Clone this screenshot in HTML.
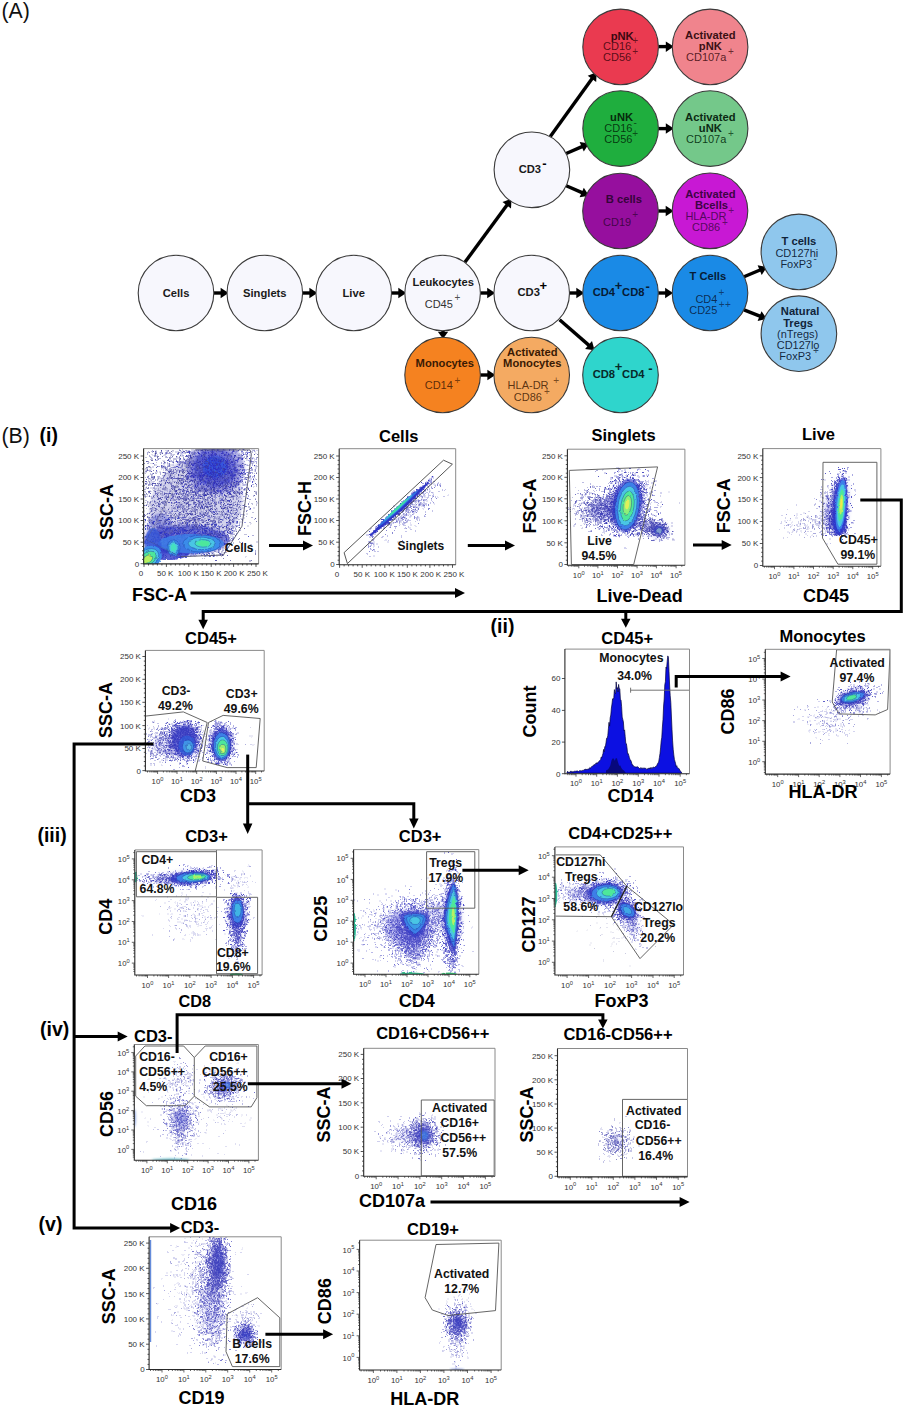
<!DOCTYPE html>
<html><head><meta charset="utf-8"><title>Gating strategy</title><style>html,body{margin:0;padding:0;background:#fff}body{width:905px;height:1407px;overflow:hidden;font-family:"Liberation Sans",sans-serif}svg{display:block}</style></head><body>
<svg width="905" height="1407" viewBox="0 0 905 1407" font-family="'Liberation Sans', sans-serif"><defs><filter id="soft" x="-5%" y="-5%" width="110%" height="110%"><feGaussianBlur stdDeviation="0.45"/></filter><filter id="rough" x="-5%" y="-5%" width="110%" height="110%"><feTurbulence type="fractalNoise" baseFrequency="0.32" numOctaves="2" seed="7" result="n"/><feDisplacementMap in="SourceGraphic" in2="n" scale="2.6" xChannelSelector="R" yChannelSelector="G"/><feGaussianBlur stdDeviation="0.35"/></filter><filter id="haze" x="-30%" y="-30%" width="160%" height="160%"><feGaussianBlur stdDeviation="2.6"/></filter><filter id="soft2" x="-5%" y="-5%" width="110%" height="110%"><feGaussianBlur stdDeviation="0.8"/></filter><clipPath id="c1"><rect x="143.6" y="448.6" width="115" height="115.3"/></clipPath><clipPath id="c2"><rect x="339.2" y="448.7" width="116.5" height="116.1"/></clipPath><clipPath id="c3"><rect x="567.4" y="449.2" width="117.5" height="116.1"/></clipPath><clipPath id="c4"><rect x="762.8" y="448.6" width="118.1" height="117.6"/></clipPath><clipPath id="c5"><rect x="145.4" y="650.4" width="118.8" height="120.6"/></clipPath><clipPath id="c6"><rect x="564.9" y="649.1" width="124.6" height="124.6"/></clipPath><clipPath id="c7"><rect x="765.3" y="649.3" width="124.8" height="124.8"/></clipPath><clipPath id="c8"><rect x="134.8" y="849.9" width="127.3" height="125.1"/></clipPath><clipPath id="c9"><rect x="353.6" y="849.6" width="125.2" height="124.6"/></clipPath><clipPath id="c10"><rect x="554.9" y="846.9" width="128.6" height="128.1"/></clipPath><clipPath id="c11"><rect x="134.3" y="1044.5" width="124.1" height="115.8"/></clipPath><clipPath id="c12"><rect x="363.7" y="1048.3" width="131.3" height="128"/></clipPath><clipPath id="c13"><rect x="557.5" y="1048.5" width="130" height="128.4"/></clipPath><clipPath id="c14"><rect x="149.1" y="1236.8" width="132.1" height="132.7"/></clipPath><clipPath id="c15"><rect x="359.6" y="1240.2" width="141.6" height="129.8"/></clipPath></defs><rect width="905" height="1407" fill="#fff"/><text x="1.5" y="18" font-size="21.3" fill="#111">(A)</text>
<polyline points="213.8,293 221.6,293" fill="none" stroke="#000" stroke-width="3.4" stroke-linejoin="miter"/>
<polygon points="228.6,293 220.6,298.2 220.6,287.8" fill="#000"/>
<polyline points="302.6,293 310.4,293" fill="none" stroke="#000" stroke-width="3.4" stroke-linejoin="miter"/>
<polygon points="317.4,293 309.4,298.2 309.4,287.8" fill="#000"/>
<polyline points="391.5,293 399.3,293" fill="none" stroke="#000" stroke-width="3.4" stroke-linejoin="miter"/>
<polygon points="406.3,293 398.3,298.2 398.3,287.8" fill="#000"/>
<polyline points="480.4,293 488.2,293" fill="none" stroke="#000" stroke-width="3.4" stroke-linejoin="miter"/>
<polygon points="495.2,293 487.2,298.2 487.2,287.8" fill="#000"/>
<polyline points="569.5,293 577.3,293" fill="none" stroke="#000" stroke-width="3.4" stroke-linejoin="miter"/>
<polygon points="584.3,293 576.3,298.2 576.3,287.8" fill="#000"/>
<polyline points="658.3,293 666.1,293" fill="none" stroke="#000" stroke-width="3.4" stroke-linejoin="miter"/>
<polygon points="673.1,293 665.1,298.2 665.1,287.8" fill="#000"/>
<polyline points="658.4,46.6 666.8,46.6" fill="none" stroke="#000" stroke-width="3.4" stroke-linejoin="miter"/>
<polygon points="673.8,46.6 665.8,51.9 665.8,41.4" fill="#000"/>
<polyline points="658.4,128.6 666.8,128.6" fill="none" stroke="#000" stroke-width="3.4" stroke-linejoin="miter"/>
<polygon points="673.8,128.6 665.8,133.8 665.8,123.3" fill="#000"/>
<polyline points="658.3,211 666.7,211" fill="none" stroke="#000" stroke-width="3.4" stroke-linejoin="miter"/>
<polygon points="673.7,211 665.7,216.2 665.7,205.8" fill="#000"/>
<polyline points="480.4,375 488.4,375" fill="none" stroke="#000" stroke-width="3.4" stroke-linejoin="miter"/>
<polygon points="495.4,375 487.4,380.2 487.4,369.8" fill="#000"/>
<polyline points="443,329.8 443,332.7" fill="none" stroke="#000" stroke-width="3.4" stroke-linejoin="miter"/>
<polygon points="443,338.7 437.8,331.7 448.2,331.7" fill="#000"/>
<polyline points="464.9,262.3 507.4,204.4" fill="none" stroke="#000" stroke-width="3.4" stroke-linejoin="miter"/>
<polygon points="511.5,198.8 511,208.4 502.5,202.1" fill="#000"/>
<polyline points="550.3,136.5 592.5,78" fill="none" stroke="#000" stroke-width="3.4" stroke-linejoin="miter"/>
<polygon points="596.6,72.3 596.2,81.9 587.7,75.7" fill="#000"/>
<polyline points="566.2,153.5 582.6,146.4" fill="none" stroke="#000" stroke-width="3.4" stroke-linejoin="miter"/>
<polygon points="589,143.6 583.8,151.6 579.6,142" fill="#000"/>
<polyline points="566.2,185.7 582.6,192.9" fill="none" stroke="#000" stroke-width="3.4" stroke-linejoin="miter"/>
<polygon points="589,195.7 579.6,197.3 583.8,187.7" fill="#000"/>
<polyline points="559.6,319.8 589.3,345.6" fill="none" stroke="#000" stroke-width="3.4" stroke-linejoin="miter"/>
<polygon points="594.6,350.2 585.1,348.9 592,341" fill="#000"/>
<polyline points="744,276.7 760.6,269.7" fill="none" stroke="#000" stroke-width="3.4" stroke-linejoin="miter"/>
<polygon points="767,267 761.7,274.9 757.6,265.3" fill="#000"/>
<polyline points="744,309.8 760.5,316.4" fill="none" stroke="#000" stroke-width="3.4" stroke-linejoin="miter"/>
<polygon points="767,319 757.6,320.9 761.5,311.2" fill="#000"/>
<circle cx="176" cy="293" r="37.8" fill="#f7f7fd" stroke="#3a3a3a" stroke-width="1.1"/>
<circle cx="264.8" cy="293" r="37.8" fill="#f7f7fd" stroke="#3a3a3a" stroke-width="1.1"/>
<circle cx="353.7" cy="293" r="37.8" fill="#f7f7fd" stroke="#3a3a3a" stroke-width="1.1"/>
<circle cx="442.6" cy="293" r="37.8" fill="#f7f7fd" stroke="#3a3a3a" stroke-width="1.1"/>
<circle cx="531.7" cy="293" r="37.8" fill="#f7f7fd" stroke="#3a3a3a" stroke-width="1.1"/>
<circle cx="531.9" cy="169.8" r="37.8" fill="#f7f7fd" stroke="#3a3a3a" stroke-width="1.1"/>
<circle cx="620.6" cy="46.9" r="37.8" fill="#ea3a50" stroke="#3a3a3a" stroke-width="1.1"/>
<circle cx="710.1" cy="46.9" r="37.8" fill="#f0848d" stroke="#3a3a3a" stroke-width="1.1"/>
<circle cx="620.6" cy="128.6" r="37.8" fill="#1fae3e" stroke="#3a3a3a" stroke-width="1.1"/>
<circle cx="710.1" cy="128.6" r="37.8" fill="#74c88a" stroke="#3a3a3a" stroke-width="1.1"/>
<circle cx="620.5" cy="211" r="37.8" fill="#960f9e" stroke="#3a3a3a" stroke-width="1.1"/>
<circle cx="710" cy="210.8" r="37.8" fill="#c818d4" stroke="#3a3a3a" stroke-width="1.1"/>
<circle cx="620.5" cy="293" r="37.8" fill="#1a8ae6" stroke="#3a3a3a" stroke-width="1.1"/>
<circle cx="710" cy="293" r="37.8" fill="#1a8ae6" stroke="#3a3a3a" stroke-width="1.1"/>
<circle cx="798.9" cy="251.9" r="37.8" fill="#8fc7ed" stroke="#3a3a3a" stroke-width="1.1"/>
<circle cx="798.9" cy="333.7" r="37.8" fill="#8fc7ed" stroke="#3a3a3a" stroke-width="1.1"/>
<circle cx="620.5" cy="375" r="37.8" fill="#2fd5cc" stroke="#3a3a3a" stroke-width="1.1"/>
<circle cx="442.6" cy="375" r="37.8" fill="#f58220" stroke="#3a3a3a" stroke-width="1.1"/>
<circle cx="531.7" cy="375" r="37.8" fill="#f4aa62" stroke="#3a3a3a" stroke-width="1.1"/>
<text x="176" y="297" font-size="11.2" fill="#1a1a1a" text-anchor="middle" font-weight="bold">Cells</text>
<text x="264.8" y="297" font-size="11.2" fill="#1a1a1a" text-anchor="middle" font-weight="bold">Singlets</text>
<text x="353.7" y="297" font-size="11.2" fill="#1a1a1a" text-anchor="middle" font-weight="bold">Live</text>
<text x="443.2" y="285.8" font-size="11.2" fill="#1a1a1a" text-anchor="middle" font-weight="bold">Leukocytes</text>
<text x="424.7" y="308.1" font-size="11" fill="#333" fill-opacity="1">CD45</text>
<text x="457.5" y="301.2" font-size="10" fill="#222" text-anchor="middle" fill-opacity="0.8">+</text>
<text x="517.5" y="295.7" font-size="11.2" fill="#1a1a1a" font-weight="bold">CD3</text>
<text x="543.4" y="289.7" font-size="13" fill="#000" text-anchor="middle" font-weight="bold" fill-opacity="1">+</text>
<text x="518.7" y="172.9" font-size="11.2" fill="#1a1a1a" font-weight="bold">CD3</text>
<text x="544.3" y="168.3" font-size="13" fill="#000" text-anchor="middle" font-weight="bold" fill-opacity="1">-</text>
<text x="622.2" y="39.8" font-size="11.2" fill="#3a0810" text-anchor="middle" font-weight="bold">pNK</text>
<text x="603.1" y="50.4" font-size="11" fill="#4a0812" fill-opacity="0.92">CD16</text>
<text x="635.2" y="43.9" font-size="10" fill="#4a0812" text-anchor="middle" fill-opacity="0.8">+</text>
<text x="603.1" y="61.4" font-size="11" fill="#4a0812" fill-opacity="0.92">CD56</text>
<text x="635.2" y="55.4" font-size="10" fill="#4a0812" text-anchor="middle" fill-opacity="0.8">+</text>
<text x="710.3" y="39.3" font-size="11.2" fill="#3a1014" text-anchor="middle" font-weight="bold">Activated</text>
<text x="710.3" y="50.4" font-size="11.2" fill="#3a1014" text-anchor="middle" font-weight="bold">pNK</text>
<text x="686" y="61.4" font-size="11" fill="#4a1218" fill-opacity="0.92">CD107a</text>
<text x="730.9" y="55.4" font-size="10" fill="#4a1218" text-anchor="middle" fill-opacity="0.8">+</text>
<text x="621.6" y="121.1" font-size="11.2" fill="#062a0c" text-anchor="middle" font-weight="bold">uNK</text>
<text x="604.3" y="132.2" font-size="11" fill="#05360f" fill-opacity="0.97">CD16</text>
<text x="635.2" y="126.4" font-size="10" fill="#05360f" text-anchor="middle" fill-opacity="0.8">-</text>
<text x="604.3" y="143.2" font-size="11" fill="#05360f" fill-opacity="0.97">CD56</text>
<text x="635.2" y="136.7" font-size="10" fill="#05360f" text-anchor="middle" fill-opacity="0.8">+</text>
<text x="710.3" y="120.9" font-size="11.2" fill="#0c2a14" text-anchor="middle" font-weight="bold">Activated</text>
<text x="710.3" y="132.2" font-size="11.2" fill="#0c2a14" text-anchor="middle" font-weight="bold">uNK</text>
<text x="686" y="143.2" font-size="11" fill="#0c3a18" fill-opacity="0.97">CD107a</text>
<text x="730.9" y="136.7" font-size="10" fill="#0c3a18" text-anchor="middle" fill-opacity="0.8">+</text>
<text x="623.9" y="203.4" font-size="11.2" fill="#35043a" text-anchor="middle" font-weight="bold">B cells</text>
<text x="603.1" y="226" font-size="11" fill="#3a0440" fill-opacity="0.92">CD19</text>
<text x="635.1" y="218.4" font-size="10" fill="#3a0440" text-anchor="middle" fill-opacity="0.8">+</text>
<text x="710.4" y="197.6" font-size="11.2" fill="#3d0444" text-anchor="middle" font-weight="bold">Activated</text>
<text x="711.5" y="208.6" font-size="11.2" fill="#3d0444" text-anchor="middle" font-weight="bold">Bcells</text>
<text x="685.4" y="220.1" font-size="11" fill="#4a0652" fill-opacity="0.92">HLA-DR</text>
<text x="731.2" y="213.8" font-size="10" fill="#4a0652" text-anchor="middle" fill-opacity="0.8">+</text>
<text x="692" y="231.2" font-size="11" fill="#4a0652" fill-opacity="0.92">CD86</text>
<text x="724.8" y="225.5" font-size="10" fill="#4a0652" text-anchor="middle" fill-opacity="0.8">+</text>
<text x="592.7" y="295.7" font-size="11.2" fill="#061c36" font-weight="bold">CD4</text>
<text x="618.5" y="289.7" font-size="13" fill="#061c36" text-anchor="middle" font-weight="bold" fill-opacity="1">+</text>
<text x="622.1" y="295.7" font-size="11.2" fill="#061c36" font-weight="bold">CD8</text>
<text x="647.6" y="290.5" font-size="13" fill="#061c36" text-anchor="middle" font-weight="bold" fill-opacity="1">-</text>
<text x="707.8" y="279.8" font-size="11.2" fill="#061c36" text-anchor="middle" font-weight="bold">T Cells</text>
<text x="695.4" y="303.2" font-size="11" fill="#0a2a52" fill-opacity="0.97">CD4</text>
<text x="721.4" y="295.6" font-size="10" fill="#0a2a52" text-anchor="middle" fill-opacity="0.8">+</text>
<text x="689.2" y="314" font-size="11" fill="#0a2a52" fill-opacity="0.97">CD25</text>
<text x="721.6" y="307.8" font-size="10" fill="#0a2a52" text-anchor="middle" fill-opacity="0.8">+</text>
<text x="727.8" y="307.8" font-size="10" fill="#0a2a52" text-anchor="middle" fill-opacity="0.8">+</text>
<text x="798.9" y="245.1" font-size="11.2" fill="#10243a" text-anchor="middle" font-weight="bold">T cells</text>
<text x="775.4" y="256.6" font-size="11" fill="#10243a" fill-opacity="0.97">CD127hi</text>
<text x="780.4" y="267.6" font-size="11" fill="#10243a" fill-opacity="0.97">FoxP3</text>
<text x="815.1" y="261.6" font-size="10" fill="#10243a" text-anchor="middle" fill-opacity="0.8">-</text>
<text x="800.1" y="315.4" font-size="11.2" fill="#10243a" text-anchor="middle" font-weight="bold">Natural</text>
<text x="798.1" y="326.9" font-size="11.2" fill="#10243a" text-anchor="middle" font-weight="bold">Tregs</text>
<text x="777.1" y="337.9" font-size="11" fill="#10243a" fill-opacity="0.97">(nTregs)</text>
<text x="776.7" y="349.4" font-size="11" fill="#10243a" fill-opacity="0.97">CD127lo</text>
<text x="779.3" y="360.4" font-size="11" fill="#10243a" fill-opacity="0.97">FoxP3</text>
<text x="815.8" y="354.2" font-size="10" fill="#10243a" text-anchor="middle" fill-opacity="0.8">+</text>
<text x="592.7" y="377.7" font-size="11.2" fill="#072a2a" font-weight="bold">CD8</text>
<text x="618.5" y="371.4" font-size="13" fill="#072a2a" text-anchor="middle" font-weight="bold" fill-opacity="1">+</text>
<text x="622.1" y="377.7" font-size="11.2" fill="#072a2a" font-weight="bold">CD4</text>
<text x="650.5" y="372.5" font-size="13" fill="#072a2a" text-anchor="middle" font-weight="bold" fill-opacity="1">-</text>
<text x="444.8" y="366.9" font-size="11.2" fill="#3a1a04" text-anchor="middle" font-weight="bold">Monocytes</text>
<text x="424.7" y="389.1" font-size="11" fill="#5a2a08" fill-opacity="0.97">CD14</text>
<text x="457.5" y="383.8" font-size="10" fill="#5a2a08" text-anchor="middle" fill-opacity="0.8">+</text>
<text x="532.3" y="356" font-size="11.2" fill="#3a1a04" text-anchor="middle" font-weight="bold">Activated</text>
<text x="532.3" y="366.9" font-size="11.2" fill="#3a1a04" text-anchor="middle" font-weight="bold">Monocytes</text>
<text x="507.6" y="389.1" font-size="11" fill="#5a3210" fill-opacity="0.97">HLA-DR</text>
<text x="556.2" y="383.8" font-size="10" fill="#5a3210" text-anchor="middle" fill-opacity="0.8">+</text>
<text x="513.8" y="400.9" font-size="11" fill="#5a3210" fill-opacity="0.97">CD86</text>
<text x="546.9" y="394.6" font-size="10" fill="#5a3210" text-anchor="middle" fill-opacity="0.8">+</text>
<text x="1.5" y="442.5" font-size="21.3" fill="#111">(B)</text>
<text x="39.5" y="442.3" font-size="19.5" fill="#000" font-weight="bold">(i)</text>
<text x="490.6" y="633" font-size="19.5" fill="#000" font-weight="bold">(ii)</text>
<text x="37.4" y="842.3" font-size="19.5" fill="#000" font-weight="bold">(iii)</text>
<text x="40" y="1035.9" font-size="19.5" fill="#000" font-weight="bold">(iv)</text>
<text x="38.6" y="1231.3" font-size="19.5" fill="#000" font-weight="bold">(v)</text>
<g clip-path="url(#c1)">
<g filter="url(#soft2)">
<ellipse cx="196" cy="505" rx="44" ry="52" fill="#7d7dc8" fill-opacity="0.35" transform="rotate(35 196 505)"/>
<ellipse cx="215.5" cy="468" rx="29" ry="26" fill="#3c3cc0" fill-opacity="0.42"/>
<ellipse cx="215.2" cy="467.5" rx="22" ry="19.5" fill="#3038c8" fill-opacity="0.5"/>
<ellipse cx="215" cy="467" rx="12.5" ry="11" fill="#2f52e2" fill-opacity="0.85"/>
<ellipse cx="186" cy="540" rx="43" ry="15" fill="#3038c4" fill-opacity="0.6"/>
<ellipse cx="160" cy="535" rx="14" ry="22" fill="#3038c4" fill-opacity="0.35"/>
</g>
<g filter="url(#rough)">
<path transform="scale(.5)" d="M365 898zm106 0zm1 0zm32 0zm-216 1zm132 0zm48 0zm-82 1zm103 0zm19 0zm-171 1zm9 0zm32 0zm17 0zm30 0zm81 0zm8 0zm-202 1zm11 0zm1 0zm81 0zm27 0zm-121 1zm25 0zm9 0zm88 0zm9 0zm26 0zm-171 1zm49 0zm17 0zm45 0zm2 0zm24 0zm71 0zm-206 1zm5 0zm8 0zm10 0zm18 0zm17 0zm33 0zm5 0zm28 0zm3 0zm28 0zm-143 1zm9 0zm5 0zm45 0zm114 0zm28 0zm-200 1zm13 0zm122 0zm48 0zm-185 1zm45 0zm106 0zm17 0zm-157 1zm88 0zm19 0zm87 0zm-211 1zm43 0zm31 0zm61 0zm13 0zm7 0zm24 0zm5 0zm-127 1zm19 0zm26 0zm4 0zm46 0zm4 0zm2 0zm-152 1zm1 0zm51 0zm15 0zm31 0zm46 0zm30 0zm11 0zm-178 1zm8 0zm15 0zm7 0zm24 0zm4 0zm35 0zm48 0zm37 0zm20 0zm-214 1zm30 0zm34 0zm90 0zm34 0zm-197 1zm23 0zm22 0zm18 0zm23 0zm39 0zm17 0zm35 0zm10 0zm22 0zm14 0zm-200 1zm24 0zm19 0zm1 0zm20 0zm6 0zm28 0zm13 0zm27 0zm34 0zm-49 1zm19 0zm10 0zm24 0zm1 0zm-187 1zm44 0zm26 0zm68 0zm51 0zm6 0zm4 0zm-194 1zm47 0zm56 0zm1 0zm9 0zm10 0zm-118 1zm32 0zm6 0zm8 0zm11 0zm66 0zm7 0zm23 0zm-164 1zm1 0zm34 0zm21 0zm11 0zm2 0zm86 0zm34 0zm-165 1zm58 0zm43 0zm15 0zm-149 1zm1 0zm32 0zm85 0zm20 0zm7 0zm1 0zm24 0zm39 0zm-207 1zm59 0zm53 0zm8 0zm31 0zm14 0zm46 0zm-194 1zm15 0zm45 0zm43 0zm25 0zm8 0zm-150 1zm30 0zm36 0zm59 0zm29 0zm46 0zm-211 1zm15 0zm84 0zm15 0zm6 0zm17 0zm23 0zm19 0zm2 0zm15 0zm19 0zm-202 1zm80 0zm12 0zm23 0zm-58 1zm1 0zm52 0zm78 0zm-181 1zm3 0zm30 0zm60 0zm65 0zm23 0zm9 0zm-135 1zm17 0zm13 0zm22 0zm1 0zm15 0zm64 0zm-168 1zm45 0zm44 0zm16 0zm9 0zm28 0zm6 0zm34 0zm3 0zm-216 1zm67 0zm6 0zm14 0zm85 0zm-171 1zm26 0zm16 0zm41 0zm27 0zm32 0zm-147 1zm2 0zm5 0zm2 0zm95 0zm16 0zm74 0zm12 0zm-167 1zm64 0zm5 0zm33 0zm31 0zm-171 1zm40 0zm17 0zm44 0zm106 0zm-199 1zm73 0zm41 0zm30 0zm24 0zm34 0zm-209 1zm38 0zm63 0zm6 0zm44 0zm3 0zm1 0zm14 0zm5 0zm17 0zm10 0zm14 0zm-218 1zm49 0zm26 0zm15 0zm12 0zm28 0zm55 0zm8 0zm-178 1zm35 0zm98 0zm6 0zm13 0zm-166 1zm60 0zm7 0zm2 0zm9 0zm55 0zm6 0zm-132 1zm66 0zm10 0zm55 0zm-139 1zm22 0zm6 0zm18 0zm1 0zm7 0zm72 0zm-96 1zm2 0zm6 0zm39 0zm23 0zm1 0zm50 0zm25 0zm2 0zm14 0zm12 0zm-208 1zm3 0zm18 0zm88 0zm92 0zm12 0zm8 0zm4 0zm-208 1zm29 0zm33 0zm67 0zm7 0zm10 0zm15 0zm47 0zm-212 1zm29 0zm14 0zm83 0zm10 0zm51 0zm-182 1zm35 0zm58 0zm24 0zm68 0zm-187 1zm28 0zm12 0zm6 0zm59 0zm13 0zm15 0zm32 0zm16 0zm1 0zm-160 1zm4 0zm37 0zm30 0zm1 0zm1 0zm31 0zm21 0zm11 0zm-164 1zm33 0zm47 0zm3 0zm28 0zm17 0zm11 0zm6 0zm6 0zm6 0zm13 0zm-171 1zm34 0zm47 0zm22 0zm13 0zm26 0zm69 0zm-217 1zm13 0zm1 0zm2 0zm8 0zm25 0zm101 0zm19 0zm49 0zm-139 1zm34 0zm16 0zm14 0zm23 0zm17 0zm17 0zm2 0zm7 0zm-191 1zm18 0zm13 0zm15 0zm55 0zm41 0zm18 0zm-108 1zm79 0zm9 0zm7 0zm6 0zm-164 1zm8 0zm35 0zm14 0zm33 0zm27 0zm2 0zm16 0zm23 0zm36 0zm20 0zm-108 1zm3 0zm16 0zm91 0zm-212 1zm13 0zm14 0zm8 0zm23 0zm10 0zm4 0zm15 0zm-26 1zm8 0zm12 0zm7 0zm18 0zm32 0zm-110 1zm3 0zm31 0zm21 0zm7 0zm6 0zm3 0zm27 0zm80 0zm-210 1zm2 0zm8 0zm42 0zm18 0zm12 0zm35 0zm9 0zm22 0zm-112 1zm6 0zm34 0zm20 0zm4 0zm18 0zm12 0zm11 0zm36 0zm-140 1zm18 0zm36 0zm35 0zm67 0zm-191 1zm44 0zm33 0zm74 0zm5 0zm-165 1zm1 0zm13 0zm10 0zm1 0zm3 0zm19 0zm57 0zm60 0zm12 0zm6 0zm-174 1zm3 0zm40 0zm52 0zm61 0zm15 0zm22 0zm-200 1zm29 0zm1 0zm48 0zm3 0zm45 0zm59 0zm36 0zm-215 1zm75 0zm18 0zm22 0zm9 0zm27 0zm-134 1zm109 0zm2 0zm27 0zm1 0zm-138 1zm29 0zm7 0zm43 0zm44 0zm7 0zm4 0zm15 0zm48 0zm-170 1zm14 0zm18 0zm76 0zm3 0zm10 0zm-172 1zm35 0zm134 0zm5 0zm42 0zm-216 1zm40 0zm24 0zm15 0zm26 0zm11 0zm39 0zm14 0zm-160 1zm3 0zm5 0zm131 0zm14 0zm42 0zm-199 1zm33 0zm4 0zm16 0zm14 0zm80 0zm-127 1zm4 0zm4 0zm37 0zm6 0zm58 0zm56 0zm-152 1zm30 0zm1 0zm14 0zm16 0zm25 0zm12 0zm5 0zm45 0zm10 0zm-167 1zm29 0zm8 0zm38 0zm1 0zm30 0zm24 0zm28 0zm-171 1zm10 0zm52 0zm11 0zm17 0zm26 0zm48 0zm-172 1zm60 0zm11 0zm23 0zm22 0zm8 0zm5 0zm24 0zm-62 1zm40 0zm18 0zm19 0zm15 0zm28 0zm-220 1zm21 0zm74 0zm1 0zm45 0zm27 0zm16 0zm38 0zm-195 1zm41 0zm72 0zm25 0zm20 0zm4 0zm-182 1zm63 0zm19 0zm3 0zm87 0zm5 0zm5 0zm31 0zm2 0zm-220 1zm29 0zm7 0zm11 0zm69 0zm13 0zm32 0zm6 0zm9 0zm9 0zm-157 1zm23 0zm4 0zm10 0zm13 0zm22 0zm39 0zm30 0zm9 0zm22 0zm20 0zm-224 1zm3 0zm68 0zm31 0zm21 0zm49 0zm-137 1zm22 0zm47 0zm9 0zm54 0zm1 0zm-167 1zm26 0zm91 0zm66 0zm1 0zm-174 1zm37 0zm7 0zm19 0zm1 0zm9 0zm29 0zm2 0zm5 0zm11 0zm9 0zm1 0zm77 0zm-215 1zm7 0zm37 0zm2 0zm60 0zm48 0zm-150 1zm7 0zm12 0zm40 0zm29 0zm16 0zm44 0zm27 0zm6 0zm-171 1zm16 0zm13 0zm2 0zm22 0zm72 0zm-122 1zm24 0zm39 0zm33 0zm35 0zm54 0zm-177 1zm64 0zm15 0zm5 0zm39 0zm11 0zm-93 1zm8 0zm5 0zm19 0zm76 0zm45 0zm-195 1zm36 0zm7 0zm11 0zm-21 1zm66 0zm10 0zm24 0zm-157 1zm49 0zm32 0zm13 0zm125 0zm-192 1zm10 0zm58 0zm29 0zm24 0zm1 0zm1 0zm6 0zm23 0zm17 0zm-186 1zm32 0zm44 0zm33 0zm21 0zm9 0zm72 0zm-218 1zm33 0zm34 0zm8 0zm83 0zm27 0zm18 0zm-183 1zm8 0zm8 0zm27 0zm19 0zm47 0zm8 0zm-141 1zm8 0zm2 0zm48 0zm19 0zm8 0zm16 0zm18 0zm-119 1zm19 0zm36 0zm128 0zm-179 1zm35 0zm81 0zm10 0zm12 0zm56 0zm8 0zm8 0zm-199 1zm12 0zm45 0zm20 0zm24 0zm51 0zm1 0zm4 0zm-170 1zm5 0zm4 0zm62 0zm51 0zm14 0zm4 0zm26 0zm54 0zm-224 1zm20 0zm21 0zm85 0zm15 0zm17 0zm4 0zm23 0zm-183 1zm78 0zm33 0zm18 0zm-123 1zm80 0zm13 0zm2 0zm18 0zm14 0zm55 0zm14 0zm5 0zm-179 1zm27 0zm5 0zm53 0zm9 0zm4 0zm45 0zm-169 1zm15 0zm21 0zm30 0zm26 0zm10 0zm18 0zm5 0zm80 0zm-205 1zm29 0zm6 0zm73 0zm7 0zm36 0zm2 0zm20 0zm42 0zm-161 1zm35 0zm40 0zm11 0zm11 0zm2 0zm16 0zm-162 1zm2 0zm4 0zm24 0zm8 0zm12 0zm19 0zm15 0zm24 0zm9 0zm12 0zm17 0zm5 0zm49 0zm-176 1zm9 0zm42 0zm7 0zm11 0zm2 0zm81 0zm-150 1zm35 0zm7 0zm32 0zm14 0zm-111 1zm8 0zm5 0zm58 0zm34 0zm55 0zm5 0zm-180 1zm48 0zm54 0zm56 0zm-143 1zm17 0zm32 0zm7 0zm29 0zm51 0zm4 0zm50 0zm-192 1zm21 0zm95 0zm25 0zm-133 1zm82 0zm70 0zm45 0zm-208 1zm93 0zm21 0zm16 0zm20 0zm22 0zm10 0zm-187 1zm14 0zm17 0zm24 0zm32 0zm14 0zm18 0zm19 0zm13 0zm18 0zm-99 1zm9 0zm4 0zm62 0zm7 0zm9 0zm19 0zm21 0zm-200 1zm55 0zm27 0zm9 0zm65 0zm4 0zm-121 1zm9 0zm23 0zm44 0zm46 0zm34 0zm-198 1zm18 0zm33 0zm6 0zm21 0zm6 0zm37 0zm11 0zm22 0zm-119 1zm22 0zm53 0zm-79 1zm35 0zm33 0zm91 0zm-185 1zm9 0zm11 0zm132 0zm-153 1zm45 0zm3 0zm5 0zm3 0zm117 0zm-170 1zm23 0zm49 0zm19 0zm41 0zm10 0zm10 0zm38 0zm-131 1zm44 0zm9 0zm28 0zm38 0zm35 0zm-214 1zm2 0zm88 0zm8 0zm32 0zm32 0zm25 0zm-145 1zm38 0zm92 0zm11 0zm-181 1zm15 0zm68 0zm3 0zm11 0zm17 0zm24 0zm22 0zm7 0zm-170 1zm3 0zm3 0zm19 0zm14 0zm56 0zm92 0zm1 0zm-143 1zm19 0zm30 0zm14 0zm19 0zm-103 1zm10 0zm183 0zm-149 1zm5 0zm3 0zm26 0zm8 0zm22 0zm4 0zm35 0zm7 0zm8 0zm-164 1zm75 0zm8 0zm13 0zm86 0zm-186 1zm12 0zm5 0zm12 0zm23 0zm5 0zm9 0zm13 0zm7 0zm57 0zm5 0zm17 0zm-182 1zm45 0zm11 0zm19 0zm30 0zm-64 1zm32 0zm2 0zm1 0zm37 0zm92 0zm-160 1zm60 0zm-100 1zm48 0zm27 0zm14 0zm31 0zm31 0zm-156 1zm61 0zm2 0zm14 0zm5 0zm-87 1zm18 0zm37 0zm106 0zm43 0zm-177 1zm38 0zm26 0zm8 0zm21 0zm14 0zm10 0zm-56 1zm6 0zm6 0zm1 0zm5 0zm4 0zm20 0zm24 0zm-122 1zm13 0zm3 0zm1 0zm59 0zm45 0zm33 0zm-173 1zm12 0zm13 0zm19 0zm50 0zm39 0zm1 0zm33 0zm-176 1zm3 0zm85 0zm35 0zm-119 1zm64 0zm50 0zm6 0zm16 0zm16 0zm-154 1zm35 0zm36 0zm11 0zm1 0zm3 0zm68 0zm-145 1zm8 0zm37 0zm6 0zm64 0zm33 0zm-113 1zm3 0zm4 0zm56 0zm-77 1zm12 0zm10 0zm-38 1zm15 0zm8 0zm22 0zm16 0zm7 0zm18 0zm75 0zm-171 1zm15 0zm26 0zm11 0zm18 0zm69 0zm-110 1zm8 0zm73 0zm49 0zm-172 1zm18 0zm20 0zm4 0zm81 0zm16 0zm17 0zm23 0zm-156 1zm9 0zm5 0zm10 0zm5 0zm18 0zm5 0zm59 0zm7 0zm-112 1zm21 0zm27 0zm26 0zm3 0zm50 0zm16 0zm-154 1zm46 0zm13 0zm27 0zm31 0zm68 0zm-131 1zm9 0zm58 0zm-101 1zm19 0zm12 0zm6 0zm4 0zm35 0zm17 0zm25 0zm12 0zm-156 1zm5 0zm10 0zm71 0zm30 0zm8 0zm37 0zm-170 1zm12 0zm20 0zm25 0zm11 0zm67 0zm3 0zm5 0zm-113 1zm31 0zm4 0zm5 0zm1 0zm5 0zm20 0zm3 0zm-39 1zm3 0zm1 0zm20 0zm7 0zm13 0zm35 0zm6 0zm15 0zm2 0zm-136 1zm5 0zm144 0zm-157 1zm1 0zm32 0zm28 0zm43 0zm45 0zm4 0zm14 0zm-130 1zm18 0zm1 0zm12 0zm26 0zm5 0zm1 0zm43 0zm-165 1zm16 0zm4 0zm3 0zm39 0zm5 0zm40 0zm7 0zm-106 1zm7 0zm4 0zm31 0zm35 0zm43 0zm28 0zm-137 1zm38 0zm34 0zm5 0zm39 0zm10 0zm16 0zm3 0zm-157 1zm20 0zm2 0zm71 0zm45 0zm4 0zm13 0zm-104 1zm1 0zm1 0zm60 0zm-85 1zm73 0zm64 0zm-171 1zm6 0zm13 0zm40 0zm12 0zm6 0zm41 0zm14 0zm59 0zm-171 1zm15 0zm3 0zm19 0zm1 0zm16 0zm12 0zm17 0zm33 0zm42 0zm-178 1zm5 0zm1 0zm46 0zm6 0zm39 0zm29 0zm15 0zm-131 1zm16 0zm22 0zm114 0zm3 0zm31 0zm-125 1zm20 0zm8 0zm1 0zm12 0zm9 0zm1 0zm11 0zm30 0zm50 0zm-200 1zm52 0zm34 0zm59 0zm7 0zm-155 1zm15 0zm44 0zm5 0zm16 0zm24 0zm31 0zm-122 1zm65 0zm15 0zm16 0zm7 0zm25 0zm-87 1zm37 0zm37 0zm-135 1zm67 0zm26 0zm-89 1zm42 0zm72 0zm13 0zm4 0zm19 0zm-145 1zm13 0zm171 0zm-190 1zm21 0zm37 0zm74 0zm-134 1zm2 0zm40 0zm4 0zm7 0zm80 0zm70 0zm-189 1zm30 0zm4 0zm73 0zm24 0zm-148 1zm12 0zm10 0zm35 0zm12 0zm13 0zm7 0zm43 0zm6 0zm9 0zm-134 1zm11 0zm5 0zm34 0zm14 0zm-56 1zm20 0zm62 0zm6 0zm31 0zm73 0zm-199 1zm55 0zm36 0zm25 0zm24 0zm-125 1zm26 0zm7 0zm34 0zm27 0zm4 0zm22 0zm-147 1zm31 0zm22 0zm16 0zm60 0zm3 0zm25 0zm3 0zm-148 1zm60 0zm5 0zm58 0zm16 0zm3 0zm-132 1zm30 0zm39 0zm34 0zm8 0zm15 0zm71 0zm-206 1zm55 0zm55 0zm13 0zm-71 1zm6 0zm45 0zm6 0zm14 0zm13 0zm-78 1zm13 0zm17 0zm30 0zm-123 1zm1 0zm40 0zm87 0zm-113 1zm36 0zm60 0zm5 0zm8 0zm10 0zm-133 1zm32 0zm111 0zm-145 1zm25 0zm168 0zm-181 1zm1 0zm47 0zm-34 1zm-36 1zm32 0zm85 0zm41 0zm-125 1zm-3 1zm-3 1zm145 1zm42 0zm-205 1zm7 1zm8 0zm187 0zm-209 1zm5 1z" stroke="#55559f" stroke-width="2" stroke-opacity="0.75" stroke-linecap="square" fill="none"/>
<path transform="scale(.5)" d="M384 898zm44 0zm36 0zm-131 1zm75 0zm13 0zm4 0zm61 0zm-127 1zm79 0zm29 0zm-144 1zm49 0zm39 0zm4 0zm3 0zm77 0zm-190 1zm18 0zm9 0zm27 0zm7 0zm8 0zm65 0zm29 0zm8 0zm-169 1zm60 0zm2 0zm53 0zm18 0zm4 0zm-132 1zm40 0zm4 0zm4 0zm14 0zm5 0zm3 0zm44 0zm-94 1zm40 0zm5 0zm31 0zm13 0zm32 0zm-158 1zm27 0zm13 0zm4 0zm29 0zm16 0zm13 0zm9 0zm18 0zm1 0zm1 0zm20 0zm45 0zm10 0zm-190 1zm1 0zm20 0zm10 0zm15 0zm22 0zm33 0zm11 0zm-91 1zm30 0zm22 0zm3 0zm3 0zm28 0zm15 0zm33 0zm21 0zm-131 1zm19 0zm23 0zm9 0zm3 0zm22 0zm1 0zm57 0zm4 0zm15 0zm-179 1zm12 0zm2 0zm37 0zm17 0zm22 0zm28 0zm3 0zm49 0zm-190 1zm63 0zm7 0zm1 0zm42 0zm46 0zm9 0zm-179 1zm15 0zm53 0zm14 0zm10 0zm3 0zm4 0zm10 0zm35 0zm27 0zm-131 1zm14 0zm34 0zm10 0zm45 0zm22 0zm-131 1zm13 0zm8 0zm5 0zm65 0zm4 0zm34 0zm12 0zm19 0zm-151 1zm64 0zm12 0zm24 0zm1 0zm26 0zm-115 1zm14 0zm26 0zm119 0zm-193 1zm41 0zm19 0zm24 0zm27 0zm15 0zm36 0zm18 0zm9 0zm-206 1zm14 0zm23 0zm27 0zm16 0zm19 0zm2 0zm6 0zm3 0zm14 0zm2 0zm38 0zm17 0zm-173 1zm26 0zm32 0zm15 0zm11 0zm8 0zm7 0zm-93 1zm62 0zm32 0zm25 0zm74 0zm-109 1zm8 0zm15 0zm18 0zm16 0zm42 0zm-157 1zm10 0zm31 0zm3 0zm36 0zm9 0zm7 0zm14 0zm50 0zm-210 1zm47 0zm15 0zm5 0zm2 0zm9 0zm3 0zm6 0zm19 0zm1 0zm6 0zm6 0zm26 0zm15 0zm15 0zm38 0zm-161 1zm50 0zm19 0zm49 0zm-133 1zm17 0zm8 0zm7 0zm4 0zm30 0zm1 0zm1 0zm54 0zm1 0zm5 0zm1 0zm-136 1zm12 0zm29 0zm15 0zm1 0zm6 0zm6 0zm14 0zm10 0zm39 0zm6 0zm45 0zm7 0zm-217 1zm11 0zm1 0zm51 0zm9 0zm3 0zm7 0zm5 0zm7 0zm1 0zm15 0zm2 0zm1 0zm8 0zm17 0zm2 0zm4 0zm3 0zm6 0zm2 0zm1 0zm34 0zm-157 1zm10 0zm47 0zm7 0zm10 0zm1 0zm12 0zm13 0zm10 0zm-61 1zm18 0zm24 0zm13 0zm2 0zm21 0zm2 0zm-122 1zm3 0zm7 0zm12 0zm1 0zm6 0zm5 0zm6 0zm10 0zm42 0zm7 0zm18 0zm6 0zm21 0zm3 0zm22 0zm-196 1zm14 0zm54 0zm19 0zm57 0zm56 0zm-171 1zm1 0zm40 0zm19 0zm8 0zm7 0zm27 0zm8 0zm31 0zm2 0zm-168 1zm5 0zm9 0zm3 0zm6 0zm59 0zm3 0zm13 0zm1 0zm3 0zm1 0zm35 0zm7 0zm26 0zm-178 1zm29 0zm29 0zm14 0zm28 0zm5 0zm35 0zm32 0zm-165 1zm11 0zm4 0zm17 0zm3 0zm9 0zm20 0zm22 0zm7 0zm6 0zm2 0zm7 0zm16 0zm14 0zm4 0zm10 0zm7 0zm6 0zm-154 1zm6 0zm1 0zm1 0zm19 0zm11 0zm19 0zm21 0zm2 0zm2 0zm17 0zm9 0zm6 0zm6 0zm25 0zm34 0zm9 0zm-180 1zm59 0zm5 0zm3 0zm15 0zm1 0zm34 0zm11 0zm-171 1zm45 0zm7 0zm27 0zm15 0zm20 0zm47 0zm10 0zm-66 1zm55 0zm1 0zm13 0zm25 0zm-162 1zm5 0zm5 0zm3 0zm8 0zm9 0zm8 0zm26 0zm11 0zm1 0zm8 0zm13 0zm4 0zm20 0zm8 0zm34 0zm12 0zm4 0zm5 0zm-215 1zm5 0zm25 0zm9 0zm26 0zm14 0zm7 0zm91 0zm-159 1zm20 0zm9 0zm5 0zm7 0zm5 0zm5 0zm2 0zm14 0zm18 0zm7 0zm10 0zm19 0zm77 0zm-219 1zm11 0zm34 0zm3 0zm1 0zm3 0zm15 0zm7 0zm9 0zm42 0zm10 0zm27 0zm-115 1zm52 0zm1 0zm33 0zm49 0zm4 0zm-151 1zm1 0zm11 0zm9 0zm2 0zm9 0zm6 0zm3 0zm9 0zm6 0zm1 0zm9 0zm10 0zm2 0zm12 0zm8 0zm6 0zm2 0zm2 0zm2 0zm17 0zm2 0zm27 0zm-152 1zm7 0zm61 0zm11 0zm11 0zm1 0zm35 0zm1 0zm18 0zm29 0zm-201 1zm8 0zm30 0zm2 0zm3 0zm27 0zm1 0zm2 0zm2 0zm2 0zm3 0zm10 0zm25 0zm9 0zm9 0zm9 0zm14 0zm16 0zm4 0zm-159 1zm10 0zm22 0zm20 0zm13 0zm2 0zm2 0zm34 0zm7 0zm6 0zm27 0zm-107 1zm16 0zm53 0zm1 0zm3 0zm15 0zm17 0zm14 0zm12 0zm-150 1zm19 0zm3 0zm26 0zm3 0zm9 0zm1 0zm6 0zm9 0zm25 0zm10 0zm23 0zm8 0zm-151 1zm12 0zm22 0zm2 0zm25 0zm2 0zm10 0zm7 0zm1 0zm5 0zm11 0zm14 0zm24 0zm-123 1zm1 0zm31 0zm18 0zm7 0zm3 0zm1 0zm11 0zm4 0zm3 0zm1 0zm22 0zm2 0zm18 0zm-154 1zm9 0zm53 0zm3 0zm10 0zm6 0zm12 0zm21 0zm18 0zm-146 1zm8 0zm5 0zm19 0zm12 0zm10 0zm18 0zm7 0zm1 0zm8 0zm12 0zm2 0zm15 0zm2 0zm8 0zm4 0zm6 0zm17 0zm13 0zm3 0zm-169 1zm8 0zm30 0zm9 0zm2 0zm29 0zm12 0zm1 0zm14 0zm4 0zm16 0zm2 0zm1 0zm10 0zm20 0zm3 0zm-151 1zm11 0zm3 0zm16 0zm4 0zm33 0zm29 0zm19 0zm32 0zm10 0zm-165 1zm26 0zm12 0zm7 0zm3 0zm4 0zm7 0zm2 0zm1 0zm6 0zm33 0zm22 0zm9 0zm5 0zm10 0zm19 0zm4 0zm1 0zm-167 1zm5 0zm9 0zm41 0zm9 0zm7 0zm3 0zm30 0zm28 0zm14 0zm54 0zm-209 1zm48 0zm10 0zm2 0zm2 0zm1 0zm12 0zm7 0zm1 0zm2 0zm27 0zm21 0zm28 0zm10 0zm26 0zm17 0zm-204 1zm8 0zm13 0zm21 0zm19 0zm18 0zm6 0zm1 0zm13 0zm13 0zm7 0zm14 0zm33 0zm1 0zm-181 1zm34 0zm36 0zm7 0zm16 0zm1 0zm3 0zm14 0zm4 0zm13 0zm23 0zm9 0zm2 0zm30 0zm-135 1zm9 0zm4 0zm2 0zm15 0zm5 0zm10 0zm10 0zm6 0zm24 0zm7 0zm10 0zm5 0zm19 0zm26 0zm-205 1zm27 0zm47 0zm4 0zm8 0zm22 0zm9 0zm9 0zm11 0zm9 0zm39 0zm4 0zm3 0zm-181 1zm19 0zm37 0zm26 0zm8 0zm5 0zm31 0zm24 0zm9 0zm3 0zm7 0zm18 0zm-182 1zm26 0zm4 0zm10 0zm4 0zm4 0zm5 0zm16 0zm9 0zm2 0zm12 0zm21 0zm7 0zm2 0zm27 0zm11 0zm8 0zm28 0zm-211 1zm29 0zm14 0zm5 0zm19 0zm4 0zm50 0zm3 0zm11 0zm26 0zm7 0zm1 0zm20 0zm-178 1zm2 0zm4 0zm20 0zm25 0zm7 0zm1 0zm31 0zm22 0zm4 0zm6 0zm6 0zm4 0zm5 0zm3 0zm15 0zm51 0zm-219 1zm13 0zm6 0zm19 0zm12 0zm23 0zm5 0zm1 0zm1 0zm2 0zm4 0zm12 0zm2 0zm4 0zm23 0zm6 0zm30 0zm13 0zm8 0zm2 0zm-174 1zm17 0zm41 0zm22 0zm31 0zm19 0zm7 0zm10 0zm12 0zm9 0zm-175 1zm3 0zm17 0zm6 0zm20 0zm36 0zm2 0zm3 0zm6 0zm51 0zm27 0zm10 0zm8 0zm2 0zm-200 1zm17 0zm7 0zm16 0zm18 0zm16 0zm15 0zm11 0zm29 0zm6 0zm14 0zm2 0zm3 0zm6 0zm26 0zm-165 1zm12 0zm22 0zm4 0zm8 0zm9 0zm28 0zm3 0zm8 0zm3 0zm11 0zm6 0zm2 0zm3 0zm6 0zm12 0zm5 0zm2 0zm1 0zm23 0zm-129 1zm38 0zm57 0zm3 0zm20 0zm1 0zm36 0zm-182 1zm10 0zm13 0zm6 0zm4 0zm23 0zm2 0zm5 0zm20 0zm2 0zm47 0zm17 0zm-173 1zm11 0zm40 0zm2 0zm3 0zm14 0zm13 0zm12 0zm1 0zm11 0zm20 0zm1 0zm2 0zm34 0zm11 0zm22 0zm-202 1zm38 0zm15 0zm7 0zm21 0zm9 0zm1 0zm5 0zm12 0zm27 0zm21 0zm3 0zm20 0zm-150 1zm22 0zm55 0zm6 0zm1 0zm9 0zm8 0zm7 0zm7 0zm6 0zm9 0zm-141 1zm11 0zm5 0zm1 0zm32 0zm3 0zm14 0zm6 0zm9 0zm4 0zm8 0zm5 0zm2 0zm11 0zm8 0zm3 0zm14 0zm19 0zm24 0zm1 0zm6 0zm-206 1zm55 0zm4 0zm8 0zm37 0zm15 0zm14 0zm4 0zm1 0zm18 0zm19 0zm32 0zm-167 1zm4 0zm6 0zm13 0zm9 0zm4 0zm9 0zm9 0zm1 0zm6 0zm8 0zm1 0zm6 0zm6 0zm1 0zm5 0zm2 0zm2 0zm25 0zm14 0zm3 0zm24 0zm2 0zm-140 1zm2 0zm1 0zm13 0zm3 0zm3 0zm10 0zm19 0zm10 0zm22 0zm15 0zm4 0zm2 0zm2 0zm10 0zm33 0zm-157 1zm13 0zm12 0zm2 0zm7 0zm6 0zm1 0zm6 0zm11 0zm6 0zm4 0zm2 0zm29 0zm8 0zm50 0zm-202 1zm14 0zm1 0zm10 0zm18 0zm10 0zm1 0zm11 0zm13 0zm2 0zm11 0zm12 0zm9 0zm4 0zm9 0zm16 0zm16 0zm10 0zm3 0zm7 0zm-175 1zm10 0zm58 0zm14 0zm10 0zm11 0zm4 0zm20 0zm11 0zm5 0zm-144 1zm89 0zm3 0zm2 0zm4 0zm7 0zm4 0zm2 0zm14 0zm7 0zm1 0zm10 0zm26 0zm9 0zm9 0zm8 0zm-182 1zm2 0zm12 0zm6 0zm8 0zm2 0zm13 0zm3 0zm3 0zm9 0zm10 0zm12 0zm1 0zm22 0zm6 0zm12 0zm1 0zm22 0zm6 0zm8 0zm1 0zm8 0zm4 0zm-181 1zm15 0zm14 0zm4 0zm7 0zm13 0zm13 0zm5 0zm19 0zm17 0zm14 0zm5 0zm8 0zm7 0zm13 0zm24 0zm4 0zm-172 1zm4 0zm17 0zm4 0zm1 0zm12 0zm4 0zm10 0zm2 0zm2 0zm10 0zm20 0zm9 0zm67 0zm-180 1zm22 0zm14 0zm15 0zm9 0zm4 0zm15 0zm3 0zm7 0zm4 0zm4 0zm5 0zm5 0zm10 0zm1 0zm4 0zm1 0zm1 0zm6 0zm8 0zm18 0zm11 0zm2 0zm17 0zm14 0zm1 0zm-199 1zm31 0zm37 0zm8 0zm9 0zm7 0zm7 0zm4 0zm11 0zm1 0zm3 0zm10 0zm1 0zm16 0zm9 0zm10 0zm-164 1zm5 0zm13 0zm31 0zm2 0zm22 0zm8 0zm17 0zm18 0zm1 0zm1 0zm21 0zm17 0zm1 0zm12 0zm45 0zm-202 1zm24 0zm6 0zm13 0zm25 0zm11 0zm1 0zm4 0zm17 0zm1 0zm14 0zm16 0zm28 0zm5 0zm-165 1zm8 0zm43 0zm1 0zm11 0zm13 0zm20 0zm18 0zm31 0zm1 0zm10 0zm3 0zm10 0zm-185 1zm39 0zm15 0zm1 0zm5 0zm3 0zm4 0zm13 0zm24 0zm23 0zm8 0zm25 0zm5 0zm4 0zm7 0zm2 0zm-144 1zm3 0zm8 0zm8 0zm3 0zm8 0zm19 0zm8 0zm27 0zm2 0zm3 0zm16 0zm3 0zm29 0zm-145 1zm4 0zm11 0zm10 0zm14 0zm5 0zm1 0zm5 0zm2 0zm8 0zm7 0zm5 0zm19 0zm8 0zm29 0zm1 0zm6 0zm-148 1zm15 0zm14 0zm13 0zm16 0zm3 0zm5 0zm4 0zm3 0zm24 0zm3 0zm18 0zm3 0zm2 0zm25 0zm43 0zm1 0zm-179 1zm3 0zm34 0zm3 0zm5 0zm5 0zm18 0zm22 0zm2 0zm6 0zm1 0zm9 0zm42 0zm6 0zm3 0zm-160 1zm7 0zm47 0zm3 0zm19 0zm19 0zm1 0zm40 0zm9 0zm39 0zm-165 1zm6 0zm1 0zm4 0zm2 0zm10 0zm9 0zm5 0zm7 0zm1 0zm3 0zm4 0zm1 0zm9 0zm9 0zm15 0zm5 0zm2 0zm2 0zm13 0zm3 0zm6 0zm59 0zm-127 1zm1 0zm8 0zm1 0zm18 0zm13 0zm22 0zm8 0zm7 0zm-159 1zm1 0zm5 0zm73 0zm17 0zm1 0zm9 0zm7 0zm31 0zm8 0zm1 0zm22 0zm-168 1zm9 0zm7 0zm4 0zm36 0zm2 0zm28 0zm1 0zm7 0zm53 0zm2 0zm4 0zm15 0zm3 0zm3 0zm-188 1zm13 0zm22 0zm45 0zm13 0zm16 0zm15 0zm13 0zm45 0zm-154 1zm2 0zm11 0zm13 0zm2 0zm6 0zm11 0zm5 0zm14 0zm3 0zm8 0zm3 0zm2 0zm12 0zm1 0zm12 0zm31 0zm8 0zm-156 1zm6 0zm10 0zm16 0zm11 0zm3 0zm1 0zm11 0zm17 0zm2 0zm11 0zm4 0zm8 0zm4 0zm21 0zm3 0zm2 0zm33 0zm39 0zm-197 1zm17 0zm10 0zm15 0zm16 0zm1 0zm20 0zm4 0zm23 0zm5 0zm19 0zm2 0zm7 0zm12 0zm-138 1zm30 0zm4 0zm8 0zm1 0zm14 0zm2 0zm10 0zm7 0zm5 0zm6 0zm1 0zm4 0zm9 0zm1 0zm9 0zm7 0zm16 0zm10 0zm23 0zm-190 1zm13 0zm31 0zm2 0zm9 0zm15 0zm1 0zm14 0zm1 0zm9 0zm5 0zm8 0zm4 0zm13 0zm14 0zm12 0zm5 0zm8 0zm4 0zm3 0zm-159 1zm10 0zm4 0zm21 0zm4 0zm22 0zm17 0zm2 0zm11 0zm33 0zm16 0zm8 0zm22 0zm-196 1zm12 0zm11 0zm27 0zm49 0zm11 0zm3 0zm18 0zm9 0zm33 0zm16 0zm2 0zm3 0zm-174 1zm34 0zm10 0zm4 0zm5 0zm1 0zm11 0zm19 0zm15 0zm10 0zm3 0zm5 0zm20 0zm25 0zm-158 1zm39 0zm10 0zm23 0zm11 0zm12 0zm3 0zm6 0zm7 0zm13 0zm5 0zm12 0zm6 0zm6 0zm1 0zm20 0zm-163 1zm39 0zm6 0zm3 0zm8 0zm5 0zm2 0zm4 0zm3 0zm5 0zm8 0zm1 0zm3 0zm3 0zm1 0zm1 0zm12 0zm10 0zm13 0zm-131 1zm31 0zm9 0zm15 0zm22 0zm10 0zm4 0zm34 0zm2 0zm3 0zm5 0zm4 0zm15 0zm-134 1zm11 0zm6 0zm7 0zm10 0zm9 0zm16 0zm6 0zm16 0zm18 0zm43 0zm-184 1zm9 0zm14 0zm25 0zm15 0zm5 0zm8 0zm27 0zm3 0zm15 0zm20 0zm6 0zm6 0zm13 0zm4 0zm-168 1zm9 0zm43 0zm21 0zm14 0zm6 0zm24 0zm13 0zm22 0zm26 0zm-170 1zm25 0zm2 0zm32 0zm1 0zm25 0zm23 0zm1 0zm4 0zm6 0zm22 0zm20 0zm8 0zm19 0zm-156 1zm21 0zm2 0zm3 0zm18 0zm4 0zm2 0zm23 0zm5 0zm10 0zm14 0zm17 0zm3 0zm-138 1zm27 0zm28 0zm29 0zm7 0zm12 0zm25 0zm7 0zm9 0zm22 0zm-182 1zm10 0zm23 0zm27 0zm7 0zm3 0zm3 0zm3 0zm3 0zm4 0zm25 0zm11 0zm1 0zm5 0zm24 0zm27 0zm-159 1zm21 0zm8 0zm6 0zm3 0zm6 0zm29 0zm11 0zm8 0zm26 0zm9 0zm-125 1zm1 0zm7 0zm3 0zm26 0zm14 0zm8 0zm16 0zm17 0zm1 0zm2 0zm7 0zm33 0zm-105 1zm6 0zm33 0zm9 0zm1 0zm1 0zm17 0zm23 0zm7 0zm15 0zm-177 1zm45 0zm33 0zm9 0zm19 0zm6 0zm7 0zm2 0zm7 0zm20 0zm27 0zm2 0zm-174 1zm23 0zm6 0zm4 0zm6 0zm6 0zm5 0zm4 0zm19 0zm3 0zm5 0zm2 0zm20 0zm24 0zm1 0zm8 0zm17 0zm14 0zm3 0zm28 0zm-192 1zm14 0zm7 0zm4 0zm27 0zm2 0zm1 0zm17 0zm4 0zm10 0zm8 0zm2 0zm5 0zm1 0zm3 0zm22 0zm20 0zm19 0zm5 0zm-187 1zm16 0zm14 0zm3 0zm4 0zm34 0zm8 0zm9 0zm4 0zm3 0zm6 0zm1 0zm13 0zm4 0zm20 0zm1 0zm5 0zm8 0zm9 0zm7 0zm19 0zm7 0zm-181 1zm50 0zm7 0zm26 0zm23 0zm4 0zm3 0zm39 0zm26 0zm2 0zm-194 1zm30 0zm17 0zm6 0zm14 0zm2 0zm37 0zm10 0zm5 0zm2 0zm-101 1zm58 0zm4 0zm21 0zm3 0zm1 0zm3 0zm17 0zm1 0zm23 0zm17 0zm3 0zm12 0zm-185 1zm36 0zm17 0zm59 0zm7 0zm19 0zm4 0zm34 0zm9 0zm20 0zm-179 1zm4 0zm23 0zm12 0zm4 0zm8 0zm3 0zm3 0zm19 0zm1 0zm24 0zm8 0zm12 0zm3 0zm10 0zm4 0zm-155 1zm6 0zm34 0zm22 0zm20 0zm7 0zm1 0zm18 0zm44 0zm2 0zm4 0zm17 0zm31 0zm-196 1zm55 0zm4 0zm11 0zm7 0zm3 0zm4 0zm37 0zm3 0zm25 0zm1 0zm10 0zm3 0zm2 0zm-128 1zm1 0zm4 0zm30 0zm17 0zm3 0zm38 0zm1 0zm18 0zm-132 1zm26 0zm36 0zm9 0zm1 0zm19 0zm4 0zm14 0zm19 0zm13 0zm1 0zm2 0zm8 0zm5 0zm29 0zm-160 1zm15 0zm2 0zm2 0zm6 0zm13 0zm2 0zm26 0zm24 0zm2 0zm20 0zm-174 1zm15 0zm9 0zm3 0zm16 0zm29 0zm10 0zm4 0zm5 0zm14 0zm9 0zm1 0zm4 0zm9 0zm28 0zm-140 1zm16 0zm2 0zm7 0zm3 0zm25 0zm5 0zm11 0zm2 0zm7 0zm23 0zm7 0zm9 0zm4 0zm2 0zm2 0zm29 0zm3 0zm3 0zm-161 1zm13 0zm60 0zm2 0zm2 0zm6 0zm10 0zm14 0zm15 0zm12 0zm21 0zm7 0zm-168 1zm30 0zm3 0zm18 0zm30 0zm10 0zm19 0zm16 0zm7 0zm11 0zm23 0zm-175 1zm13 0zm28 0zm2 0zm9 0zm2 0zm7 0zm18 0zm1 0zm3 0zm3 0zm4 0zm14 0zm31 0zm3 0zm2 0zm1 0zm6 0zm5 0zm17 0zm8 0zm-128 1zm8 0zm8 0zm21 0zm6 0zm5 0zm4 0zm10 0zm6 0zm7 0zm2 0zm22 0zm4 0zm11 0zm3 0zm19 0zm-155 1zm9 0zm32 0zm6 0zm4 0zm20 0zm1 0zm24 0zm10 0zm7 0zm5 0zm16 0zm7 0zm-156 1zm11 0zm49 0zm65 0zm30 0zm-154 1zm21 0zm29 0zm6 0zm1 0zm25 0zm7 0zm24 0zm5 0zm21 0zm16 0zm-153 1zm29 0zm37 0zm5 0zm7 0zm6 0zm18 0zm4 0zm3 0zm8 0zm1 0zm5 0zm25 0zm-132 1zm3 0zm30 0zm1 0zm7 0zm6 0zm18 0zm3 0zm2 0zm2 0zm15 0zm12 0zm7 0zm49 0zm-188 1zm1 0zm3 0zm2 0zm22 0zm31 0zm2 0zm24 0zm13 0zm14 0zm8 0zm24 0zm29 0zm-140 1zm23 0zm1 0zm2 0zm16 0zm2 0zm24 0zm1 0zm4 0zm2 0zm9 0zm15 0zm6 0zm29 0zm17 0zm-91 1zm2 0zm6 0zm14 0zm1 0zm2 0zm2 0zm23 0zm15 0zm4 0zm20 0zm-160 1zm2 0zm5 0zm24 0zm10 0zm15 0zm3 0zm12 0zm10 0zm15 0zm18 0zm2 0zm11 0zm27 0zm3 0zm-171 1zm25 0zm32 0zm5 0zm5 0zm4 0zm15 0zm3 0zm7 0zm7 0zm21 0zm3 0zm20 0zm1 0zm9 0zm23 0zm-170 1zm7 0zm3 0zm3 0zm11 0zm25 0zm1 0zm28 0zm41 0zm18 0zm-124 1zm5 0zm32 0zm19 0zm14 0zm20 0zm13 0zm13 0zm21 0zm4 0zm1 0zm25 0zm-181 1zm17 0zm15 0zm28 0zm3 0zm9 0zm5 0zm17 0zm7 0zm1 0zm43 0zm4 0zm14 0zm-133 1zm32 0zm24 0zm11 0zm21 0zm12 0zm21 0zm-159 1zm2 0zm49 0zm21 0zm18 0zm8 0zm25 0zm3 0zm26 0zm11 0zm16 0zm-173 1zm26 0zm17 0zm1 0zm12 0zm3 0zm10 0zm3 0zm1 0zm5 0zm27 0zm2 0zm13 0zm2 0zm29 0zm25 0zm-180 1zm18 0zm7 0zm28 0zm9 0zm3 0zm5 0zm4 0zm29 0zm23 0zm21 0zm1 0zm17 0zm2 0zm3 0zm-97 1zm21 0zm1 0zm14 0zm10 0zm26 0zm-137 1zm16 0zm8 0zm41 0zm34 0zm6 0zm7 0zm7 0zm3 0zm7 0zm21 0zm4 0zm-122 1zm15 0zm10 0zm11 0zm61 0zm8 0zm9 0zm-110 1zm19 0zm9 0zm10 0zm36 0zm9 0zm29 0zm6 0zm-144 1zm8 0zm23 0zm5 0zm13 0zm5 0zm4 0zm7 0zm11 0zm3 0zm15 0zm4 0zm2 0zm1 0zm2 0zm13 0zm3 0zm10 0zm9 0zm2 0zm2 0zm-144 1zm37 0zm27 0zm8 0zm2 0zm3 0zm9 0zm8 0zm4 0zm13 0zm4 0zm2 0zm2 0zm3 0zm23 0zm-137 1zm7 0zm39 0zm15 0zm15 0zm42 0zm24 0zm-132 1zm28 0zm6 0zm12 0zm2 0zm12 0zm3 0zm18 0zm27 0zm-141 1zm47 0zm1 0zm2 0zm5 0zm16 0zm2 0zm29 0zm8 0zm14 0zm9 0zm3 0zm12 0zm3 0zm1 0zm16 0zm35 0zm-200 1zm57 0zm37 0zm13 0zm10 0zm12 0zm15 0zm-159 1zm14 0zm29 0zm34 0zm24 0zm23 0zm15 0zm22 0zm-135 1zm7 0zm26 0zm14 0zm54 0zm1 0zm18 0zm7 0zm9 0zm4 0zm-122 1zm21 0zm4 0zm17 0zm14 0zm3 0zm20 0zm1 0zm2 0zm22 0zm4 0zm15 0zm-128 1zm18 0zm24 0zm13 0zm1 0zm10 0zm22 0zm13 0zm13 0zm16 0zm-167 1zm46 0zm49 0zm7 0zm15 0zm14 0zm-88 1zm20 0zm21 0zm5 0zm10 0zm3 0zm10 0zm2 0zm29 0zm20 0zm-135 1zm19 0zm18 0zm21 0zm5 0zm1 0zm10 0zm11 0zm16 0zm8 0zm2 0zm7 0zm27 0zm-87 1zm3 0zm10 0zm8 0zm2 0zm2 0zm31 0zm2 0zm7 0zm17 0zm4 0zm-142 1zm65 0zm8 0zm17 0zm13 0zm3 0zm35 0zm-174 1zm5 0zm103 0zm41 0zm3 0zm7 0zm8 0zm1 0zm-156 1zm71 0zm18 0zm3 0zm-89 1zm3 0zm68 0zm5 0zm18 0zm19 0zm18 0zm19 0zm59 0zm-195 1zm5 0zm11 0zm11 0zm28 0zm34 0zm4 0zm11 0zm8 0zm54 0zm-158 1zm32 0zm26 0zm6 0zm57 0zm-139 1zm30 0zm15 0zm81 0zm23 0zm-105 1zm13 0zm8 0zm57 0zm3 0zm15 0zm1 0zm-32 1zm9 0zm7 0zm1 0zm-82 1zm8 0zm17 0zm3 0zm5 0zm22 0zm16 0zm8 0zm-53 1zm9 0zm24 0zm8 0zm10 0zm7 0zm-133 1zm22 0zm25 0zm1 0zm6 0zm9 0zm55 0zm32 0zm-148 1zm39 0zm46 0zm5 0zm12 0zm19 0zm-113 1zm47 0zm3 0zm39 0zm-12 1zm38 0zm-134 1zm58 0zm8 0zm22 0zm18 0zm14 0zm19 0zm6 0zm-148 1zm30 0zm66 0zm20 0zm9 0zm-90 1zm28 0zm22 0zm3 0zm4 0zm-56 1zm58 0zm18 0zm10 0zm15 0zm23 0zm-151 1zm26 0zm61 0zm6 0zm20 0zm7 0zm17 0zm-138 1zm15 0zm12 0zm49 0zm7 0zm63 0zm-118 1zm20 0zm2 0zm15 0zm37 0zm9 0zm5 0zm-100 1zm3 0zm17 0zm25 0zm69 0zm-55 1zm10 0zm10 0zm41 0zm75 0zm-202 1zm24 0zm54 0zm50 0zm-78 1zm41 0zm5 0zm12 0zm-123 1zm72 0zm74 0zm-81 1zm16 1zm24 0zm45 0zm1 0zm-63 1zm6 0zm15 0zm35 0zm-112 1zm5 0zm15 0zm100 0zm9 0zm-128 1zm21 0zm10 0zm12 0zm20 0zm19 0zm10 1zm-121 1zm28 0zm-7 1zm12 0zm25 0zm3 0zm-46 1zm6 0zm-13 5zm11 0zm116 0zm-118 4z" stroke="#3a3aa4" stroke-width="2" stroke-opacity="0.8" stroke-linecap="square" fill="none"/>
<path transform="scale(.5)" d="M405 898zm75 0zm-70 1zm2 0zm10 0zm5 0zm8 0zm1 0zm11 0zm12 0zm1 0zm18 0zm9 0zm-62 1zm4 0zm17 0zm2 0zm2 0zm16 0zm-72 1zm2 0zm8 0zm1 0zm19 0zm11 0zm24 0zm8 0zm10 0zm-81 1zm15 0zm26 0zm37 0zm10 0zm25 0zm5 0zm-134 1zm21 0zm24 0zm42 0zm17 0zm-99 1zm3 0zm16 0zm20 0zm4 0zm17 0zm1 0zm19 0zm7 0zm12 0zm10 0zm-129 1zm10 0zm4 0zm18 0zm14 0zm1 0zm5 0zm36 0zm41 0zm5 0zm-166 1zm46 0zm3 0zm8 0zm7 0zm7 0zm5 0zm8 0zm36 0zm10 0zm2 0zm22 0zm-161 1zm30 0zm56 0zm11 0zm2 0zm5 0zm13 0zm13 0zm39 0zm-131 1zm25 0zm41 0zm1 0zm-52 1zm17 0zm6 0zm47 0zm8 0zm30 0zm18 0zm-81 1zm1 0zm1 0zm26 0zm6 0zm11 0zm13 0zm7 0zm4 0zm-134 1zm17 0zm27 0zm1 0zm13 0zm3 0zm6 0zm4 0zm1 0zm18 0zm36 0zm-112 1zm30 0zm20 0zm11 0zm5 0zm3 0zm13 0zm8 0zm6 0zm-95 1zm9 0zm9 0zm4 0zm9 0zm4 0zm1 0zm55 0zm5 0zm-92 1zm10 0zm8 0zm4 0zm11 0zm7 0zm6 0zm3 0zm15 0zm2 0zm38 0zm12 0zm-116 1zm1 0zm4 0zm29 0zm8 0zm10 0zm-32 1zm8 0zm3 0zm13 0zm2 0zm14 0zm8 0zm3 0zm27 0zm4 0zm4 0zm22 0zm-89 1zm1 0zm15 0zm6 0zm40 0zm6 0zm14 0zm5 0zm-143 1zm53 0zm5 0zm1 0zm13 0zm13 0zm6 0zm2 0zm31 0zm-80 1zm3 0zm20 0zm15 0zm5 0zm8 0zm5 0zm16 0zm-103 1zm24 0zm11 0zm1 0zm8 0zm2 0zm5 0zm6 0zm3 0zm3 0zm2 0zm2 0zm6 0zm1 0zm24 0zm-160 1zm86 0zm4 0zm7 0zm1 0zm2 0zm1 0zm11 0zm1 0zm4 0zm12 0zm30 0zm25 0zm-144 1zm40 0zm13 0zm2 0zm4 0zm8 0zm7 0zm2 0zm13 0zm6 0zm28 0zm1 0zm13 0zm-150 1zm14 0zm13 0zm40 0zm27 0zm4 0zm7 0zm11 0zm3 0zm6 0zm36 0zm12 0zm-154 1zm24 0zm11 0zm5 0zm20 0zm4 0zm8 0zm2 0zm9 0zm3 0zm1 0zm7 0zm1 0zm10 0zm12 0zm28 0zm-133 1zm2 0zm8 0zm17 0zm22 0zm3 0zm10 0zm22 0zm10 0zm1 0zm5 0zm-110 1zm9 0zm10 0zm10 0zm7 0zm4 0zm10 0zm8 0zm16 0zm4 0zm2 0zm14 0zm-65 1zm17 0zm6 0zm10 0zm9 0zm2 0zm17 0zm5 0zm2 0zm3 0zm-133 1zm29 0zm17 0zm13 0zm41 0zm24 0zm4 0zm12 0zm2 0zm-86 1zm1 0zm4 0zm13 0zm1 0zm17 0zm6 0zm8 0zm5 0zm1 0zm8 0zm17 0zm-68 1zm4 0zm4 0zm17 0zm11 0zm8 0zm7 0zm18 0zm11 0zm15 0zm3 0zm-109 1zm1 0zm1 0zm5 0zm13 0zm7 0zm2 0zm9 0zm3 0zm1 0zm1 0zm2 0zm2 0zm4 0zm4 0zm14 0zm27 0zm4 0zm24 0zm-184 1zm74 0zm13 0zm5 0zm13 0zm11 0zm12 0zm2 0zm6 0zm6 0zm19 0zm-131 1zm2 0zm35 0zm17 0zm13 0zm4 0zm2 0zm20 0zm10 0zm-108 1zm33 0zm32 0zm15 0zm7 0zm17 0zm1 0zm22 0zm4 0zm1 0zm-138 1zm16 0zm12 0zm2 0zm10 0zm15 0zm11 0zm17 0zm29 0zm4 0zm10 0zm9 0zm5 0zm19 0zm-112 1zm2 0zm21 0zm3 0zm1 0zm12 0zm7 0zm1 0zm4 0zm2 0zm9 0zm17 0zm16 0zm-98 1zm29 0zm10 0zm1 0zm1 0zm1 0zm1 0zm2 0zm1 0zm10 0zm15 0zm7 0zm-83 1zm7 0zm21 0zm4 0zm18 0zm3 0zm1 0zm2 0zm2 0zm14 0zm9 0zm4 0zm3 0zm-106 1zm20 0zm1 0zm35 0zm1 0zm9 0zm4 0zm14 0zm3 0zm16 0zm7 0zm5 0zm31 0zm-125 1zm9 0zm3 0zm8 0zm15 0zm2 0zm2 0zm15 0zm6 0zm3 0zm24 0zm6 0zm13 0zm-177 1zm53 0zm24 0zm2 0zm5 0zm47 0zm15 0zm10 0zm5 0zm9 0zm1 0zm-106 1zm1 0zm4 0zm15 0zm13 0zm5 0zm4 0zm1 0zm12 0zm2 0zm10 0zm1 0zm13 0zm12 0zm2 0zm14 0zm-81 1zm2 0zm4 0zm3 0zm22 0zm6 0zm3 0zm2 0zm6 0zm1 0zm6 0zm7 0zm-70 1zm16 0zm8 0zm1 0zm3 0zm22 0zm6 0zm3 0zm6 0zm9 0zm15 0zm10 0zm-115 1zm23 0zm5 0zm4 0zm5 0zm26 0zm12 0zm1 0zm12 0zm12 0zm3 0zm7 0zm8 0zm-124 1zm12 0zm7 0zm4 0zm9 0zm3 0zm7 0zm3 0zm7 0zm3 0zm9 0zm6 0zm11 0zm19 0zm7 0zm12 0zm-113 1zm2 0zm17 0zm8 0zm1 0zm9 0zm6 0zm14 0zm7 0zm16 0zm7 0zm9 0zm3 0zm2 0zm6 0zm9 0zm-122 1zm1 0zm5 0zm26 0zm7 0zm7 0zm16 0zm41 0zm1 0zm8 0zm-102 1zm10 0zm4 0zm5 0zm2 0zm6 0zm8 0zm28 0zm2 0zm15 0zm2 0zm21 0zm-97 1zm9 0zm5 0zm12 0zm7 0zm1 0zm3 0zm5 0zm1 0zm2 0zm1 0zm16 0zm6 0zm33 0zm-110 1zm5 0zm1 0zm4 0zm6 0zm4 0zm27 0zm3 0zm26 0zm3 0zm3 0zm1 0zm13 0zm28 0zm-134 1zm1 0zm9 0zm14 0zm1 0zm1 0zm4 0zm1 0zm9 0zm16 0zm8 0zm4 0zm23 0zm35 0zm-171 1zm51 0zm9 0zm17 0zm8 0zm5 0zm1 0zm4 0zm7 0zm18 0zm16 0zm34 0zm-143 1zm19 0zm6 0zm12 0zm5 0zm2 0zm3 0zm16 0zm10 0zm12 0zm26 0zm9 0zm11 0zm17 0zm-128 1zm10 0zm1 0zm2 0zm34 0zm4 0zm9 0zm10 0zm35 0zm3 0zm-90 1zm9 0zm11 0zm3 0zm20 0zm4 0zm16 0zm7 0zm33 0zm-150 1zm57 0zm7 0zm2 0zm3 0zm11 0zm35 0zm7 0zm5 0zm-140 1zm30 0zm8 0zm18 0zm22 0zm4 0zm1 0zm7 0zm5 0zm1 0zm2 0zm17 0zm1 0zm5 0zm21 0zm30 0zm-121 1zm5 0zm8 0zm3 0zm24 0zm1 0zm8 0zm5 0zm10 0zm6 0zm9 0zm28 0zm-109 1zm17 0zm2 0zm17 0zm2 0zm7 0zm5 0zm10 0zm27 0zm12 0zm1 0zm-151 1zm68 0zm17 0zm11 0zm17 0zm10 0zm8 0zm5 0zm-89 1zm5 0zm24 0zm1 0zm7 0zm1 0zm34 0zm48 0zm-109 1zm5 0zm16 0zm3 0zm15 0zm4 0zm1 0zm7 0zm9 0zm7 0zm6 0zm9 0zm2 0zm5 0zm25 0zm-132 1zm2 0zm31 0zm4 0zm13 0zm15 0zm12 0zm7 0zm15 0zm7 0zm2 0zm-114 1zm45 0zm15 0zm2 0zm15 0zm1 0zm3 0zm21 0zm-73 1zm15 0zm9 0zm9 0zm15 0zm16 0zm26 0zm-83 1zm26 0zm3 0zm12 0zm8 0zm24 0zm-93 1zm14 0zm3 0zm8 0zm26 0zm6 0zm1 0zm32 0zm-72 1zm6 0zm7 0zm13 0zm1 0zm28 0zm6 0zm44 0zm-137 1zm27 0zm34 0zm15 0zm16 0zm29 0zm4 0zm-182 1zm64 0zm4 0zm11 0zm36 0zm44 0zm6 0zm-109 1zm23 0zm5 0zm22 0zm-68 1zm15 0zm2 0zm54 0zm6 0zm5 0zm7 0zm18 0zm4 0zm7 0zm4 0zm-83 1zm1 0zm4 0zm24 0zm3 0zm16 0zm15 0zm13 0zm-90 1zm46 0zm20 0zm18 0zm25 0zm10 0zm-101 1zm21 0zm14 0zm4 0zm19 0zm28 0zm-131 1zm24 0zm12 0zm25 0zm14 0zm6 0zm14 0zm6 0zm5 0zm-96 1zm32 0zm10 0zm11 0zm3 0zm25 0zm31 0zm-103 1zm67 0zm13 0zm13 0zm19 0zm-51 1zm9 0zm-38 1zm16 0zm12 0zm8 0zm3 0zm3 0zm25 0zm-73 1zm3 0zm14 0zm33 0zm35 0zm-113 1zm32 0zm31 0zm1 0zm25 0zm4 0zm3 0zm23 0zm-97 1zm8 0zm8 0zm5 0zm39 0zm27 0zm-101 1zm11 0zm4 0zm19 0zm13 0zm2 0zm35 0zm-106 1zm57 0zm35 0zm24 0zm-114 1zm75 0zm17 0zm14 0zm2 0zm-69 1zm28 0zm22 0zm16 0zm5 0zm22 0zm-80 1zm-7 2zm13 0zm33 0zm5 0zm-51 1zm27 0zm6 0zm66 0zm-114 1zm18 0zm21 0zm16 0zm38 0zm12 0zm-120 1zm19 0zm18 0zm75 0zm-62 1zm2 1zm-77 1zm44 0zm7 0zm4 0zm34 0zm21 0zm-79 1zm17 0zm52 0zm-46 2zm45 0zm15 1zm-17 1zm-87 1zm52 0zm21 0zm14 0zm-3 1zm21 0zm-115 1zm100 0zm-13 1zm-16 2zm41 1zm-77 1zm74 1zm8 0zm-98 1zm43 1zm42 4zm54 0zm-45 3zm-22 2zm41 0zm-46 2zm25 0zm-4 2zm-35 2zm25 11zm-74 20z" stroke="#2d2dc0" stroke-width="2" stroke-opacity="0.8" stroke-linecap="square" fill="none"/>
<path transform="scale(.5)" d="M391 1010zm50 3zm-86 1zm-51 8zm50 0zm-10 1zm83 0zm30 0zm-28 2zm10 0zm-37 3zm61 0zm-118 1zm82 1zm-91 1zm112 1zm-50 1zm18 0zm13 0zm1 0zm-119 1zm69 0zm27 0zm53 0zm-160 1zm29 0zm16 0zm12 0zm11 0zm26 0zm26 0zm-80 1zm118 0zm-121 1zm18 0zm44 0zm-87 1zm31 0zm47 0zm-100 1zm1 0zm11 0zm1 0zm29 0zm7 0zm77 0zm-43 1zm73 0zm-127 1zm62 0zm19 0zm-45 1zm24 0zm10 0zm32 0zm47 0zm-161 1zm2 0zm29 0zm7 0zm74 0zm56 0zm-2 1zm-174 1zm44 0zm15 0zm7 0zm5 0zm4 0zm11 0zm47 0zm22 0zm12 0zm24 0zm-190 1zm40 0zm-33 1zm25 0zm1 0zm42 0zm53 0zm43 0zm3 0zm-158 1zm4 0zm19 0zm11 0zm9 0zm17 0zm10 0zm13 0zm15 0zm11 0zm2 0zm-97 1zm44 0zm29 0zm8 0zm12 0zm37 0zm-165 1zm136 0zm25 0zm-134 1zm41 0zm21 0zm11 0zm4 0zm31 0zm25 0zm17 0zm6 0zm-105 1zm5 0zm10 0zm15 0zm4 0zm9 0zm21 0zm6 0zm-153 1zm1 0zm7 0zm4 0zm22 0zm4 0zm6 0zm42 0zm21 0zm34 0zm9 0zm12 0zm-157 1zm21 0zm2 0zm2 0zm56 0zm12 0zm12 0zm5 0zm12 0zm9 0zm13 0zm-119 1zm35 0zm7 0zm50 0zm20 0zm-104 1zm7 0zm5 0zm1 0zm1 0zm4 0zm1 0zm4 0zm16 0zm5 0zm18 0zm24 0zm1 0zm5 0zm-129 1zm35 0zm2 0zm4 0zm4 0zm6 0zm20 0zm2 0zm41 0zm7 0zm1 0zm2 0zm20 0zm-140 1zm21 0zm17 0zm8 0zm24 0zm1 0zm22 0zm13 0zm3 0zm23 0zm-136 1zm60 0zm7 0zm4 0zm6 0zm14 0zm3 0zm4 0zm5 0zm14 0zm10 0zm44 0zm-128 1zm12 0zm3 0zm11 0zm20 0zm6 0zm1 0zm10 0zm2 0zm40 0zm-130 1zm1 0zm43 0zm11 0zm4 0zm1 0zm4 0zm10 0zm26 0zm2 0zm8 0zm33 0zm13 0zm-134 1zm7 0zm22 0zm6 0zm3 0zm1 0zm5 0zm7 0zm13 0zm15 0zm3 0zm22 0zm9 0zm-120 1zm4 0zm18 0zm14 0zm6 0zm6 0zm2 0zm1 0zm7 0zm8 0zm15 0zm18 0zm9 0zm12 0zm11 0zm5 0zm-143 1zm31 0zm4 0zm3 0zm3 0zm3 0zm19 0zm8 0zm13 0zm18 0zm6 0zm9 0zm15 0zm12 0zm-157 1zm6 0zm9 0zm42 0zm18 0zm11 0zm3 0zm2 0zm1 0zm1 0zm8 0zm6 0zm10 0zm1 0zm33 0zm-151 1zm18 0zm1 0zm5 0zm26 0zm16 0zm18 0zm1 0zm1 0zm16 0zm1 0zm1 0zm4 0zm35 0zm18 0zm-155 1zm4 0zm7 0zm1 0zm8 0zm3 0zm11 0zm4 0zm1 0zm4 0zm4 0zm1 0zm2 0zm5 0zm3 0zm9 0zm8 0zm21 0zm4 0zm15 0zm16 0zm-138 1zm4 0zm3 0zm18 0zm4 0zm3 0zm7 0zm12 0zm1 0zm10 0zm6 0zm11 0zm6 0zm7 0zm6 0zm9 0zm14 0zm7 0zm42 0zm-166 1zm7 0zm4 0zm12 0zm1 0zm6 0zm22 0zm9 0zm21 0zm26 0zm2 0zm1 0zm2 0zm8 0zm-131 1zm24 0zm10 0zm26 0zm6 0zm3 0zm4 0zm4 0zm6 0zm12 0zm5 0zm19 0zm17 0zm4 0zm12 0zm-144 1zm29 0zm4 0zm1 0zm3 0zm4 0zm20 0zm1 0zm2 0zm6 0zm9 0zm4 0zm14 0zm7 0zm13 0zm23 0zm2 0zm-150 1zm33 0zm6 0zm9 0zm20 0zm4 0zm10 0zm4 0zm3 0zm4 0zm7 0zm6 0zm38 0zm-133 1zm25 0zm1 0zm22 0zm6 0zm3 0zm14 0zm30 0zm5 0zm17 0zm4 0zm21 0zm41 0zm-207 1zm26 0zm21 0zm1 0zm4 0zm5 0zm9 0zm8 0zm2 0zm22 0zm8 0zm1 0zm3 0zm9 0zm5 0zm15 0zm4 0zm33 0zm-168 1zm11 0zm1 0zm7 0zm12 0zm2 0zm1 0zm27 0zm11 0zm6 0zm13 0zm2 0zm5 0zm1 0zm5 0zm13 0zm10 0zm11 0zm-113 1zm5 0zm37 0zm7 0zm14 0zm24 0zm4 0zm3 0zm1 0zm21 0zm12 0zm-113 1zm16 0zm14 0zm8 0zm17 0zm1 0zm27 0zm1 0zm31 0zm5 0zm8 0zm-160 1zm2 0zm9 0zm16 0zm3 0zm3 0zm2 0zm5 0zm3 0zm4 0zm17 0zm5 0zm1 0zm11 0zm1 0zm9 0zm2 0zm3 0zm1 0zm5 0zm15 0zm30 0zm6 0zm-168 1zm12 0zm24 0zm1 0zm7 0zm4 0zm7 0zm2 0zm2 0zm6 0zm6 0zm9 0zm2 0zm5 0zm19 0zm3 0zm17 0zm4 0zm3 0zm2 0zm-134 1zm9 0zm10 0zm2 0zm2 0zm4 0zm1 0zm13 0zm18 0zm19 0zm13 0zm1 0zm18 0zm1 0zm9 0zm7 0zm10 0zm23 0zm4 0zm-128 1zm2 0zm5 0zm13 0zm2 0zm8 0zm4 0zm3 0zm1 0zm8 0zm12 0zm21 0zm5 0zm18 0zm1 0zm4 0zm-134 1zm4 0zm6 0zm1 0zm8 0zm10 0zm2 0zm12 0zm16 0zm1 0zm26 0zm28 0zm3 0zm3 0zm8 0zm1 0zm24 0zm-163 1zm14 0zm2 0zm11 0zm9 0zm8 0zm1 0zm5 0zm2 0zm8 0zm1 0zm9 0zm5 0zm14 0zm3 0zm3 0zm6 0zm6 0zm4 0zm16 0zm1 0zm-130 1zm13 0zm1 0zm8 0zm5 0zm23 0zm7 0zm1 0zm8 0zm4 0zm3 0zm4 0zm6 0zm13 0zm3 0zm24 0zm30 0zm-151 1zm7 0zm31 0zm26 0zm4 0zm8 0zm12 0zm3 0zm7 0zm4 0zm1 0zm7 0zm2 0zm1 0zm13 0zm7 0zm6 0zm-134 1zm25 0zm2 0zm14 0zm2 0zm2 0zm5 0zm2 0zm31 0zm1 0zm1 0zm10 0zm15 0zm6 0zm4 0zm16 0zm2 0zm1 0zm6 0zm7 0zm-156 1zm29 0zm13 0zm5 0zm14 0zm7 0zm2 0zm1 0zm9 0zm6 0zm3 0zm9 0zm7 0zm1 0zm9 0zm12 0zm11 0zm1 0zm9 0zm8 0zm2 0zm3 0zm2 0zm-116 1zm8 0zm7 0zm6 0zm1 0zm10 0zm1 0zm13 0zm5 0zm6 0zm3 0zm30 0zm20 0zm10 0zm-144 1zm31 0zm5 0zm1 0zm4 0zm8 0zm3 0zm19 0zm3 0zm1 0zm2 0zm44 0zm-129 1zm4 0zm27 0zm21 0zm12 0zm2 0zm1 0zm15 0zm10 0zm46 0zm-150 1zm16 0zm13 0zm12 0zm46 0zm15 0zm25 0zm7 0zm-94 1zm5 0zm13 0zm7 0zm11 0zm28 0zm1 0zm13 0zm3 0zm1 0zm10 0zm4 0zm-123 1zm9 0zm26 0zm4 0zm9 0zm25 0zm20 0zm15 0zm1 0zm17 0zm6 0zm13 0zm-121 1zm1 0zm33 0zm13 0zm14 0zm20 0zm6 0zm11 0zm-114 1zm39 0zm12 0zm17 0zm3 0zm13 0zm13 0zm6 0zm4 0zm18 0zm11 0zm2 0zm-120 1zm1 0zm9 0zm11 0zm5 0zm7 0zm27 0zm12 0zm28 0zm36 0zm-171 1zm67 0zm1 0zm28 0zm2 0zm23 0zm20 0zm-145 1zm31 0zm9 0zm1 0zm6 0zm11 0zm10 0zm2 0zm5 0zm36 0zm3 0zm9 0zm3 0zm2 0zm3 0zm20 0zm-126 1zm23 0zm19 0zm9 0zm8 0zm17 0zm8 0zm2 0zm5 0zm13 0zm-124 1zm29 0zm21 0zm7 0zm46 0zm10 0zm2 0zm23 0zm65 0zm-192 1zm12 0zm30 0zm24 0zm4 0zm12 0zm6 0zm3 0zm6 0zm43 0zm-119 1zm20 0zm47 0zm9 0zm-98 1zm5 0zm24 0zm12 0zm-40 1zm15 0zm4 0zm20 0zm33 0zm-89 1zm5 0zm39 0zm9 0zm11 0zm2 0zm29 0zm-31 1zm1 0zm4 0zm24 0zm10 0zm10 0zm-45 1zm2 0zm28 0zm5 0zm22 0zm-117 1zm111 0zm11 0zm16 0zm-81 1zm14 0zm36 0zm5 0zm-62 1zm2 0zm32 0zm33 0zm22 0zm-115 1zm78 0zm20 0zm3 0zm2 0zm-68 1zm21 0zm30 0zm-58 1zm7 0zm67 0zm-136 1zm16 0zm-17 1zm8 0zm19 0zm30 0zm10 0zm-58 1zm22 0zm2 0zm36 0zm-18 1zm-49 1zm56 0zm-50 2zm2 0z" stroke="#2a32c4" stroke-width="2" stroke-opacity="0.85" stroke-linecap="square" fill="none"/>
</g>
<g filter="url(#rough)">
<ellipse cx="168" cy="552" rx="22" ry="8" fill="#3038c8" fill-opacity="0.8"/>
<ellipse cx="191" cy="543.6" rx="33" ry="9.6" fill="#3d7fe8" fill-opacity="0.85"/>
<ellipse cx="153" cy="545" rx="8.5" ry="17" fill="#3558d8" fill-opacity="0.7"/>
<ellipse cx="201.8" cy="543.6" rx="19" ry="8.6" fill="#3a8cea" stroke="#16208a" stroke-width=".45" stroke-opacity=".75"/>
<ellipse cx="201.8" cy="543.4" rx="13.5" ry="6.2" fill="#4ac6e4" stroke="#16208a" stroke-width=".45" stroke-opacity=".75"/>
<ellipse cx="203" cy="543.4" rx="8" ry="3.8" fill="#45e0b8" stroke="#16208a" stroke-width=".45" stroke-opacity=".75"/>
<ellipse cx="204" cy="543.4" rx="5" ry="2.4" fill="#4ee79b"/>
<ellipse cx="173.5" cy="547.8" rx="6.5" ry="8" fill="#3a8cea" stroke="#16208a" stroke-width=".45" stroke-opacity=".75"/>
<ellipse cx="173.5" cy="547.8" rx="4.6" ry="6" fill="#4ac6e4" stroke="#16208a" stroke-width=".45" stroke-opacity=".75"/>
<ellipse cx="173.5" cy="547.8" rx="2.8" ry="4.2" fill="#45e0c0"/>
<ellipse cx="148.6" cy="557.8" rx="14" ry="11" fill="#3a8cea" transform="rotate(-35 148.6 557.8)"/>
<ellipse cx="148.6" cy="557.8" rx="11" ry="8.2" fill="#4ac6e4" stroke="#16208a" stroke-width=".45" stroke-opacity=".75" transform="rotate(-35 148.6 557.8)"/>
<ellipse cx="148.6" cy="558" rx="8.2" ry="6" fill="#4ee79b" stroke="#16208a" stroke-width=".45" stroke-opacity=".75" transform="rotate(-35 148.6 558)"/>
<ellipse cx="148" cy="559" rx="5" ry="3.6" fill="#b4f05e" stroke="#16208a" stroke-width=".45" stroke-opacity=".75" transform="rotate(-35 148 559)"/>
</g>
<path d="M195.3 449.9L146.5 540L181 556.7" fill="none" stroke="#4a4a4a" stroke-width="0.9" stroke-opacity="0.25"/>
<path d="M181 556.7L223.4 555L242 526.2L251.4 454.4L250 449.9L195.3 449.9" fill="none" stroke="#50506a" stroke-width="0.9"/>
</g>
<path d="M143.6 448.6H258.6V563.9" fill="none" stroke="#8a8a8a" stroke-width="1"/>
<path d="M143.6 448.6V563.9H258.6" fill="none" stroke="#2a2a2a" stroke-width="1.1"/>
<text x="139.1" y="458.9" font-size="8" fill="#333" text-anchor="end">250 K</text>
<text x="139.1" y="480.4" font-size="8" fill="#333" text-anchor="end">200 K</text>
<text x="139.1" y="501.9" font-size="8" fill="#333" text-anchor="end">150 K</text>
<text x="139.1" y="523.4" font-size="8" fill="#333" text-anchor="end">100 K</text>
<text x="139.1" y="545.1" font-size="8" fill="#333" text-anchor="end">50 K</text>
<text x="139.1" y="566.6" font-size="8" fill="#333" text-anchor="end">0</text>
<path d="M143.6 456h-3M143.6 477.5h-3M143.6 499h-3M143.6 520.5h-3M143.6 542.2h-3M143.6 563.7h-3M143.6 460.3h-1.6M143.6 464.6h-1.6M143.6 468.9h-1.6M143.6 473.2h-1.6M143.6 481.8h-1.6M143.6 486.2h-1.6M143.6 490.5h-1.6M143.6 494.8h-1.6M143.6 503.4h-1.6M143.6 507.7h-1.6M143.6 512h-1.6M143.6 516.3h-1.6M143.6 524.9h-1.6M143.6 529.2h-1.6M143.6 533.5h-1.6M143.6 537.9h-1.6M143.6 546.5h-1.6M143.6 550.8h-1.6M143.6 555.1h-1.6M143.6 559.4h-1.6" stroke="#2a2a2a" stroke-width=".8" fill="none"/>
<text x="141" y="576.1" font-size="8" fill="#333" text-anchor="middle">0</text>
<text x="165.2" y="576.1" font-size="8" fill="#333" text-anchor="middle">50 K</text>
<text x="188.3" y="576.1" font-size="8" fill="#333" text-anchor="middle">100 K</text>
<text x="211.1" y="576.1" font-size="8" fill="#333" text-anchor="middle">150 K</text>
<text x="234.1" y="576.1" font-size="8" fill="#333" text-anchor="middle">200 K</text>
<text x="257.5" y="576.1" font-size="8" fill="#333" text-anchor="middle">250 K</text>
<path d="M144 563.9v3M148.5 563.9v1.6M153 563.9v1.6M157.4 563.9v1.6M161.9 563.9v1.6M166.4 563.9v3M170.9 563.9v1.6M175.4 563.9v1.6M179.8 563.9v1.6M184.3 563.9v1.6M188.8 563.9v3M193.3 563.9v1.6M197.8 563.9v1.6M202.2 563.9v1.6M206.7 563.9v1.6M211.2 563.9v3M215.7 563.9v1.6M220.2 563.9v1.6M224.6 563.9v1.6M229.1 563.9v1.6M233.6 563.9v3M238.1 563.9v1.6M242.6 563.9v1.6M247 563.9v1.6M251.5 563.9v1.6M256 563.9v3" stroke="#2a2a2a" stroke-width=".8" fill="none"/>
<text x="224.8" y="552.3" font-size="12" fill="#111" font-weight="bold">Cells</text>
<text x="112.9" y="512" font-size="18" font-weight="bold" text-anchor="middle" fill="#000" transform="rotate(-90 112.9 512)">SSC-A</text>
<text x="132" y="600.6" font-size="18" fill="#000" font-weight="bold">FSC-A</text>
<g clip-path="url(#c2)">
<g filter="url(#rough)">
<path transform="scale(.5)" d="M869 963zm-7 3zm13 0zm-7 2zm13 0zm-19 1zm13 0zm-5 1zm9 0zm-20 2zm12 0zm-15 1zm1 0zm24 0zm-24 1zm6 0zm6 1zm15 0zm-27 1zm6 0zm2 1zm-6 1zm-4 1zm0 1zm30 0zm4 0zm-38 1zm-2 1zm11 0zm-13 1zm3 0zm28 0zm-31 1zm12 0zm-5 1zm10 0zm-23 1zm5 0zm20 0zm-28 1zm9 1zm3 0zm7 0zm-7 1zm-15 1zm3 0zm23 0zm4 0zm31 0zm-61 1zm13 0zm10 0zm-24 1zm9 0zm-6 1zm5 0zm25 0zm21 0zm-49 1zm9 0zm2 0zm7 0zm8 0zm6 0zm5 0zm-45 1zm12 0zm12 1zm-26 1zm36 0zm8 0zm-29 1zm9 0zm-15 1zm1 0zm5 0zm4 0zm4 0zm-24 1zm2 0zm4 0zm9 0zm5 0zm15 0zm-35 1zm4 0zm5 0zm4 0zm6 0zm3 0zm-27 1zm1 0zm2 0zm4 0zm4 0zm20 0zm-27 1zm3 0zm7 0zm1 0zm-15 1zm2 0zm5 0zm2 0zm5 0zm11 0zm19 0zm-47 1zm3 0zm19 0zm-19 1zm15 0zm3 0zm7 0zm13 0zm6 0zm-51 1zm4 0zm1 0zm11 0zm12 0zm8 0zm-35 1zm4 0zm2 0zm1 0zm1 0zm14 0zm2 0zm27 0zm-42 1zm7 0zm6 0zm1 0zm4 0zm2 0zm2 0zm9 0zm-39 1zm12 0zm7 0zm1 0zm1 0zm14 0zm-32 1zm19 0zm6 0zm2 0zm1 0zm8 0zm-44 1zm2 0zm11 0zm6 0zm12 0zm3 0zm-36 1zm12 0zm7 0zm-13 1zm10 0zm1 0zm10 0zm11 0zm-36 1zm2 0zm4 0zm2 0zm6 0zm1 0zm2 0zm3 0zm1 0zm-27 1zm9 0zm1 0zm20 0zm-27 1zm3 0zm1 0zm9 0zm14 0zm-22 1zm16 0zm5 0zm10 0zm-41 1zm13 0zm9 0zm3 0zm1 0zm6 0zm20 0zm-50 1zm3 0zm3 0zm4 0zm8 0zm-19 1zm6 0zm11 0zm12 0zm-34 1zm13 0zm2 0zm8 0zm3 0zm3 0zm2 0zm1 0zm2 0zm30 0zm-58 1zm7 0zm1 0zm11 0zm1 0zm-16 1zm4 0zm1 0zm1 0zm4 0zm4 0zm5 0zm9 0zm12 0zm-52 1zm6 0zm4 0zm9 0zm8 0zm-27 1zm1 0zm-2 1zm2 0zm6 0zm1 0zm6 0zm20 0zm-38 1zm4 0zm6 0zm2 0zm11 0zm-23 1zm5 0zm6 0zm7 0zm10 0zm3 0zm25 0zm-42 1zm5 0zm8 0zm3 0zm-13 1zm2 0zm2 0zm-17 1zm4 0zm3 0zm4 0zm12 0zm27 0zm-42 1zm43 0zm-64 1zm34 0zm15 0zm1 0zm-44 1zm8 0zm4 0zm1 0zm2 0zm1 0zm1 0zm1 0zm19 0zm3 0zm-43 1zm1 0zm7 0zm5 0zm36 0zm-35 1zm1 0zm6 0zm3 0zm16 0zm5 0zm-40 1zm3 0zm3 0zm5 0zm-23 1zm7 0zm3 0zm15 0zm-14 1zm4 0zm5 0zm3 0zm9 0zm21 0zm4 0zm-53 1zm8 0zm17 0zm5 0zm6 0zm5 0zm-28 1zm3 0zm-9 1zm1 0zm20 0zm18 0zm-37 1zm4 0zm8 0zm7 0zm-35 1zm9 0zm3 0zm19 0zm2 0zm13 0zm-41 1zm3 0zm12 0zm6 0zm3 0zm2 0zm10 0zm17 1zm-61 1zm6 0zm18 0zm8 0zm-37 1zm8 0zm16 0zm11 0zm-36 1zm5 0zm1 0zm4 0zm3 0zm39 0zm-50 1zm6 0zm32 0zm-29 1zm18 0zm31 0zm-40 1zm9 0zm-29 1zm1 0zm8 0zm12 0zm26 0zm16 0zm-52 1zm30 1zm9 0zm-52 1zm42 0zm-21 1zm-20 1zm21 0zm32 0zm-49 2zm58 1zm-19 1zm-27 2zm-14 2zm14 0zm-10 5zm28 0zm-37 1zm-2 2zm13 1zm-5 4zm5 0zm28 1zm-26 2zm-3 1zm20 0z" stroke="#5656c0" stroke-width="2" stroke-opacity="0.7" stroke-linecap="square" fill="none"/>
<path transform="scale(.5)" d="M741 1058zm7 3zm-2 8zm-1 5zm0 1zm3 3zm-4 2zm1 0zm2 0zm-9 3zm1 1zm9 0zm-7 1zm3 0zm-7 1zm2 0zm4 1zm2 0zm-2 1zm4 0zm1 0zm6 0zm-17 2zm5 1zm-5 1zm11 0zm-10 1zm3 0zm16 1zm-15 3zm-1 1zm2 0zm-8 1zm12 0zm1 1zm1 0zm-4 1zm-6 2zm11 0zm6 0zm-21 5zm15 1zm-2 3zm-8 1z" stroke="#5656c0" stroke-width="2" stroke-opacity="0.7" stroke-linecap="square" fill="none"/>
<path transform="scale(.5)" d="M865 953zm-1 1zm2 0zm-6 4zm3 0zm-5 2zm5 0zm-6 1zm3 0zm-3 1zm3 1zm-6 1zm13 0zm-24 1zm12 0zm-4 1zm1 0zm3 0zm8 0zm-17 1zm5 0zm5 0zm2 0zm0 1zm-11 1zm5 0zm2 0zm-3 1zm-12 1zm15 0zm-8 1zm2 0zm2 0zm-3 1zm-5 1zm5 0zm-5 1zm2 0zm4 0zm-9 1zm2 0zm3 0zm2 0zm3 0zm-5 1zm1 0zm-3 1zm1 0zm1 0zm-11 1zm1 0zm2 0zm3 0zm3 0zm4 0zm1 0zm-11 1zm4 0zm10 0zm-16 1zm3 0zm1 0zm4 0zm2 0zm-16 1zm5 0zm2 0zm2 0zm3 0zm3 0zm-13 1zm6 0zm1 0zm1 0zm1 0zm3 0zm-9 1zm1 0zm2 0zm-8 1zm1 0zm1 0zm3 0zm1 0zm3 0zm7 0zm-20 1zm2 0zm1 0zm1 0zm2 0zm2 0zm4 0zm1 0zm1 0zm-12 1zm5 0zm1 0zm2 0zm-11 1zm3 0zm5 0zm5 0zm3 0zm-13 1zm1 0zm1 0zm1 0zm1 0zm2 0zm1 0zm5 0zm-14 1zm2 0zm1 0zm3 0zm-11 1zm2 0zm5 0zm5 0zm-13 1zm4 0zm1 0zm2 0zm1 0zm1 0zm8 0zm-16 1zm1 0zm2 0zm2 0zm1 0zm1 0zm3 0zm2 0zm4 0zm-18 1zm3 0zm1 0zm1 0zm1 0zm1 0zm2 0zm1 0zm2 0zm2 0zm1 0zm-13 1zm4 0zm2 0zm1 0zm1 0zm1 0zm1 0zm-7 1zm2 0zm1 0zm1 0zm2 0zm1 0zm-15 1zm1 0zm1 0zm2 0zm1 0zm2 0zm1 0zm1 0zm1 0zm1 0zm2 0zm1 0zm3 0zm2 0zm-20 1zm1 0zm2 0zm1 0zm1 0zm1 0zm4 0zm1 0zm1 0zm1 0zm-14 1zm3 0zm2 0zm1 0zm1 0zm1 0zm7 0zm-16 1zm6 0zm1 0zm-9 1zm4 0zm1 0zm1 0zm2 0zm1 0zm2 0zm2 0zm1 0zm1 0zm-21 1zm9 0zm1 0zm2 0zm1 0zm1 0zm1 0zm5 0zm4 0zm-21 1zm5 0zm1 0zm1 0zm1 0zm1 0zm1 0zm5 0zm-11 1zm1 0zm3 0zm3 0zm4 0zm3 0zm-18 1zm5 0zm2 0zm1 0zm3 0zm1 0zm1 0zm3 0zm-18 1zm4 0zm3 0zm1 0zm1 0zm4 0zm-16 1zm3 0zm2 0zm1 0zm1 0zm1 0zm1 0zm1 0zm1 0zm1 0zm1 0zm2 0zm2 0zm-16 1zm1 0zm4 0zm1 0zm1 0zm1 0zm2 0zm1 0zm2 0zm1 0zm-12 1zm1 0zm2 0zm1 0zm1 0zm2 0zm1 0zm1 0zm1 0zm-16 1zm3 0zm3 0zm1 0zm1 0zm1 0zm3 0zm1 0zm2 0zm1 0zm3 0zm-20 1zm8 0zm1 0zm1 0zm1 0zm2 0zm1 0zm1 0zm1 0zm-25 1zm11 0zm2 0zm1 0zm1 0zm2 0zm2 0zm1 0zm3 0zm1 0zm-16 1zm2 0zm1 0zm1 0zm1 0zm2 0zm1 0zm1 0zm1 0zm1 0zm2 0zm3 0zm-18 1zm3 0zm3 0zm1 0zm4 0zm2 0zm2 0zm1 0zm1 0zm4 0zm-17 1zm1 0zm1 0zm1 0zm1 0zm1 0zm1 0zm2 0zm2 0zm-15 1zm3 0zm1 0zm4 0zm1 0zm2 0zm1 0zm2 0zm3 0zm-18 1zm1 0zm1 0zm2 0zm1 0zm1 0zm2 0zm2 0zm3 0zm4 0zm-20 1zm6 0zm2 0zm1 0zm1 0zm1 0zm1 0zm2 0zm3 0zm1 0zm-17 1zm1 0zm1 0zm1 0zm1 0zm2 0zm1 0zm1 0zm1 0zm1 0zm2 0zm1 0zm1 0zm-9 1zm1 0zm2 0zm1 0zm5 0zm2 0zm-19 1zm3 0zm2 0zm1 0zm1 0zm2 0zm1 0zm3 0zm2 0zm1 0zm-20 1zm1 0zm2 0zm3 0zm2 0zm2 0zm1 0zm3 0zm1 0zm1 0zm1 0zm1 0zm1 0zm2 0zm-18 1zm1 0zm3 0zm3 0zm3 0zm1 0zm1 0zm1 0zm-15 1zm4 0zm1 0zm1 0zm1 0zm1 0zm2 0zm1 0zm-11 1zm2 0zm4 0zm2 0zm2 0zm2 0zm-9 1zm3 0zm1 0zm1 0zm1 0zm1 0zm-8 1zm1 0zm1 0zm2 0zm5 0zm2 0zm-16 1zm2 0zm2 0zm2 0zm2 0zm1 0zm1 0zm7 0zm-20 1zm2 0zm2 0zm1 0zm1 0zm1 0zm2 0zm1 0zm1 0zm1 0zm1 0zm2 0zm4 0zm-20 1zm1 0zm2 0zm1 0zm1 0zm1 0zm2 0zm1 0zm1 0zm2 0zm1 0zm9 0zm-18 1zm1 0zm2 0zm1 0zm3 0zm1 0zm2 0zm-13 1zm1 0zm4 0zm1 0zm1 0zm1 0zm3 0zm-18 1zm5 0zm2 0zm3 0zm1 0zm1 0zm1 0zm3 0zm4 0zm-19 1zm5 0zm3 0zm1 0zm1 0zm1 0zm1 0zm1 0zm2 0zm-9 1zm2 0zm1 0zm2 0zm1 0zm1 0zm-11 1zm1 0zm2 0zm2 0zm2 0zm1 0zm1 0zm4 0zm-15 1zm1 0zm1 0zm1 0zm2 0zm3 0zm1 0zm2 0zm-9 1zm2 0zm2 0zm1 0zm1 0zm3 0zm-18 1zm10 0zm3 0zm3 0zm1 0zm3 0zm-11 1zm1 0zm1 0zm1 0zm5 0zm-15 1zm1 0zm1 0zm3 0zm2 0zm1 0zm1 0zm1 0zm1 0zm2 0zm2 0zm-13 1zm1 0zm3 0zm3 0zm1 0zm-13 1zm3 0zm2 0zm1 0zm2 0zm1 0zm1 0zm2 0zm-12 1zm1 0zm7 0zm-8 1zm1 0zm1 0zm2 0zm5 0zm1 0zm3 0zm2 0zm-17 1zm6 0zm7 0zm1 0zm-13 1zm1 0zm1 0zm5 0zm1 0zm3 0zm1 0zm-13 1zm1 0zm6 0zm1 0zm1 0zm2 0zm1 0zm-16 1zm13 0zm-13 1zm3 0zm5 0zm1 0zm-11 1zm1 0zm11 0zm-10 1zm3 0zm2 0zm2 0zm1 0zm2 0zm-11 1zm1 0zm2 0zm2 0zm3 0zm1 0zm-14 1zm1 0zm3 0zm6 0zm1 0zm-4 1zm-7 1zm3 0zm1 0zm3 0zm9 0zm-18 1zm5 0zm3 0zm4 0zm-8 1zm2 0zm2 0zm1 0zm-7 1zm3 0zm2 0zm-6 1zm-1 1zm-3 1zm-8 1zm9 0zm3 0zm4 0zm-8 2zm3 0zm1 0zm3 0zm1 0zm-11 1zm2 0zm-2 1zm1 0zm-4 1zm3 0zm6 0zm-11 1zm2 0zm2 0zm-7 1zm6 1zm1 1zm3 1zm-6 1z" stroke="#3434c0" stroke-width="2" stroke-opacity="0.9" stroke-linecap="square" fill="none"/>
</g>
<g filter="url(#soft)">
<ellipse cx="399.5" cy="509" rx="40" ry="2" fill="#2e36c6" transform="rotate(-42.4 399.5 509)"/>
<ellipse cx="398.5" cy="508.2" rx="27" ry="1.6" fill="#2f6fe0" transform="rotate(-42.4 398.5 508.2)"/>
<ellipse cx="398.2" cy="507.7" rx="19" ry="1.3" fill="#3fb8d8" transform="rotate(-42.4 398.2 507.7)"/>
<ellipse cx="398.2" cy="507.5" rx="13" ry="1" fill="#3fe0a0" transform="rotate(-42.4 398.2 507.5)"/>
</g>
<path d="M344.1 552.6L443.5 460.2L452.4 464.2L347.4 563.6Z" fill="none" stroke="#444" stroke-width="0.9"/>
</g>
<path d="M339.2 448.7H455.7V564.8" fill="none" stroke="#8a8a8a" stroke-width="1"/>
<path d="M339.2 448.7V564.8H455.7" fill="none" stroke="#2a2a2a" stroke-width="1.1"/>
<text x="334.7" y="458.9" font-size="8" fill="#333" text-anchor="end">250 K</text>
<text x="334.7" y="480.4" font-size="8" fill="#333" text-anchor="end">200 K</text>
<text x="334.7" y="501.9" font-size="8" fill="#333" text-anchor="end">150 K</text>
<text x="334.7" y="523.4" font-size="8" fill="#333" text-anchor="end">100 K</text>
<text x="334.7" y="545.1" font-size="8" fill="#333" text-anchor="end">50 K</text>
<text x="334.7" y="567.4" font-size="8" fill="#333" text-anchor="end">0</text>
<path d="M339.2 456h-3M339.2 477.5h-3M339.2 499h-3M339.2 520.5h-3M339.2 542.2h-3M339.2 564.5h-3M339.2 460.3h-1.6M339.2 464.7h-1.6M339.2 469h-1.6M339.2 473.4h-1.6M339.2 482h-1.6M339.2 486.4h-1.6M339.2 490.7h-1.6M339.2 495.1h-1.6M339.2 503.7h-1.6M339.2 508.1h-1.6M339.2 512.4h-1.6M339.2 516.8h-1.6M339.2 525.4h-1.6M339.2 529.8h-1.6M339.2 534.1h-1.6M339.2 538.5h-1.6M339.2 547.1h-1.6M339.2 551.5h-1.6M339.2 555.8h-1.6M339.2 560.2h-1.6" stroke="#2a2a2a" stroke-width=".8" fill="none"/>
<text x="337" y="577" font-size="8" fill="#333" text-anchor="middle">0</text>
<text x="361.8" y="577" font-size="8" fill="#333" text-anchor="middle">50 K</text>
<text x="384.3" y="577" font-size="8" fill="#333" text-anchor="middle">100 K</text>
<text x="407.5" y="577" font-size="8" fill="#333" text-anchor="middle">150 K</text>
<text x="430.7" y="577" font-size="8" fill="#333" text-anchor="middle">200 K</text>
<text x="454" y="577" font-size="8" fill="#333" text-anchor="middle">250 K</text>
<path d="M339.6 564.8v3M344.1 564.8v1.6M348.6 564.8v1.6M353.1 564.8v1.6M357.7 564.8v1.6M362.2 564.8v3M366.7 564.8v1.6M371.2 564.8v1.6M375.7 564.8v1.6M380.2 564.8v1.6M384.8 564.8v3M389.3 564.8v1.6M393.8 564.8v1.6M398.3 564.8v1.6M402.8 564.8v1.6M407.3 564.8v3M411.9 564.8v1.6M416.4 564.8v1.6M420.9 564.8v1.6M425.4 564.8v1.6M429.9 564.8v3M434.4 564.8v1.6M439 564.8v1.6M443.5 564.8v1.6M448 564.8v1.6M452.5 564.8v3" stroke="#2a2a2a" stroke-width=".8" fill="none"/>
<text x="397.6" y="550.4" font-size="12" fill="#111" font-weight="bold">Singlets</text>
<text x="398.7" y="442" font-size="16.5" fill="#000" text-anchor="middle" font-weight="bold">Cells</text>
<text x="310.7" y="508.4" font-size="18" font-weight="bold" text-anchor="middle" fill="#000" transform="rotate(-90 310.7 508.4)">FSC-H</text>
<g clip-path="url(#c3)">
<g filter="url(#haze)">
<ellipse cx="626.5" cy="505" rx="15" ry="24" fill="#5656dc" fill-opacity="0.5" transform="rotate(8 626.5 505)"/>
<ellipse cx="604" cy="510" rx="14" ry="10" fill="#5656dc" fill-opacity="0.32"/>
<ellipse cx="658.5" cy="530" rx="9" ry="7" fill="#5656dc" fill-opacity="0.4"/>
<ellipse cx="645" cy="526" rx="7" ry="5" fill="#5656dc" fill-opacity="0.22"/>
</g>
<g filter="url(#rough)">
<path transform="scale(.5)" d="M1166 965zm52 2zm-37 1zm-18 3zm56 0zm-33 1zm60 0zm-65 1zm11 0zm-7 1zm4 0zm-8 1zm-6 1zm35 0zm-19 1zm21 0zm9 1zm15 0zm-66 1zm42 0zm25 0zm-28 1zm32 0zm-66 1zm17 0zm-35 1zm16 0zm14 0zm22 0zm-33 1zm15 0zm15 0zm-37 1zm5 1zm1 0zm34 0zm-30 1zm3 0zm36 0zm-62 1zm5 0zm11 0zm13 0zm3 0zm-17 1zm14 0zm34 0zm6 0zm6 0zm-80 1zm13 0zm8 0zm8 0zm11 0zm4 0zm12 0zm14 0zm7 0zm-63 1zm5 0zm44 0zm5 0zm-22 1zm3 0zm1 0zm6 0zm19 0zm5 0zm-67 1zm25 0zm6 0zm2 0zm24 0zm-43 1zm35 0zm2 0zm4 0zm3 0zm-55 1zm8 0zm3 0zm3 0zm10 0zm5 0zm3 0zm7 0zm14 0zm8 0zm-82 1zm34 0zm3 0zm2 0zm8 0zm1 0zm5 0zm1 0zm2 0zm10 0zm2 0zm10 0zm9 0zm2 0zm-57 1zm11 0zm8 0zm25 0zm-60 1zm17 0zm22 0zm3 0zm1 0zm1 0zm8 0zm2 0zm4 0zm2 0zm-58 1zm27 0zm5 0zm4 0zm18 0zm11 0zm6 0zm-56 1zm1 0zm13 0zm6 0zm2 0zm5 0zm2 0zm6 0zm-27 1zm7 0zm1 0zm5 0zm9 0zm4 0zm1 0zm6 0zm-76 1zm15 0zm11 0zm6 0zm8 0zm6 0zm2 0zm4 0zm5 0zm25 0zm-72 1zm7 0zm25 0zm5 0zm1 0zm10 0zm1 0zm5 0zm2 0zm12 0zm1 0zm4 0zm-73 1zm32 0zm4 0zm10 0zm1 0zm7 0zm7 0zm1 0zm2 0zm2 0zm1 0zm4 0zm2 0zm3 0zm-77 1zm15 0zm1 0zm6 0zm16 0zm3 0zm3 0zm13 0zm1 0zm10 0zm1 0zm2 0zm1 0zm3 0zm-77 1zm17 0zm6 0zm1 0zm2 0zm5 0zm5 0zm4 0zm1 0zm3 0zm4 0zm1 0zm15 0zm6 0zm5 0zm3 0zm-78 1zm13 0zm9 0zm10 0zm1 0zm11 0zm6 0zm3 0zm2 0zm2 0zm4 0zm7 0zm2 0zm3 0zm-74 1zm8 0zm10 0zm1 0zm13 0zm23 0zm5 0zm3 0zm2 0zm6 0zm6 0zm1 0zm2 0zm-70 1zm3 0zm8 0zm8 0zm6 0zm1 0zm9 0zm1 0zm1 0zm3 0zm1 0zm1 0zm2 0zm11 0zm11 0zm-55 1zm6 0zm2 0zm2 0zm1 0zm1 0zm4 0zm1 0zm11 0zm2 0zm1 0zm1 0zm7 0zm1 0zm5 0zm3 0zm11 0zm-82 1zm24 0zm1 0zm2 0zm4 0zm4 0zm1 0zm3 0zm2 0zm3 0zm1 0zm7 0zm2 0zm1 0zm2 0zm2 0zm3 0zm1 0zm1 0zm10 0zm5 0zm3 0zm-69 1zm16 0zm1 0zm6 0zm2 0zm4 0zm2 0zm4 0zm2 0zm2 0zm6 0zm1 0zm3 0zm12 0zm-71 1zm30 0zm2 0zm7 0zm6 0zm2 0zm11 0zm2 0zm8 0zm6 0zm-79 1zm9 0zm3 0zm24 0zm11 0zm4 0zm1 0zm12 0zm1 0zm1 0zm1 0zm2 0zm3 0zm1 0zm1 0zm1 0zm1 0zm2 0zm2 0zm3 0zm-54 1zm2 0zm6 0zm3 0zm1 0zm1 0zm7 0zm2 0zm14 0zm1 0zm2 0zm1 0zm1 0zm14 0zm-94 1zm5 0zm31 0zm14 0zm2 0zm2 0zm3 0zm1 0zm1 0zm6 0zm3 0zm4 0zm5 0zm3 0zm5 0zm1 0zm8 0zm-71 1zm10 0zm5 0zm4 0zm7 0zm1 0zm8 0zm3 0zm2 0zm1 0zm1 0zm4 0zm1 0zm1 0zm2 0zm9 0zm5 0zm-53 1zm8 0zm1 0zm5 0zm1 0zm2 0zm1 0zm1 0zm5 0zm1 0zm3 0zm2 0zm1 0zm3 0zm3 0zm3 0zm3 0zm2 0zm10 0zm6 0zm-93 1zm8 0zm2 0zm13 0zm3 0zm29 0zm2 0zm5 0zm4 0zm12 0zm5 0zm2 0zm7 0zm47 0zm-141 1zm5 0zm31 0zm4 0zm6 0zm1 0zm2 0zm3 0zm5 0zm8 0zm5 0zm2 0zm2 0zm4 0zm8 0zm3 0zm4 0zm61 0zm-122 1zm10 0zm7 0zm5 0zm3 0zm3 0zm1 0zm1 0zm12 0zm5 0zm3 0zm1 0zm-63 1zm3 0zm1 0zm3 0zm5 0zm2 0zm1 0zm1 0zm1 0zm3 0zm7 0zm2 0zm2 0zm4 0zm2 0zm1 0zm4 0zm1 0zm10 0zm3 0zm3 0zm3 0zm3 0zm9 0zm-54 1zm1 0zm2 0zm1 0zm7 0zm3 0zm6 0zm5 0zm18 0zm1 0zm3 0zm1 0zm2 0zm5 0zm-90 1zm15 0zm8 0zm1 0zm7 0zm5 0zm5 0zm3 0zm5 0zm1 0zm1 0zm11 0zm5 0zm2 0zm1 0zm5 0zm5 0zm7 0zm2 0zm-78 1zm11 0zm4 0zm11 0zm2 0zm5 0zm3 0zm1 0zm2 0zm11 0zm1 0zm9 0zm5 0zm10 0zm1 0zm4 0zm-78 1zm20 0zm5 0zm10 0zm7 0zm1 0zm1 0zm1 0zm4 0zm6 0zm14 0zm2 0zm1 0zm3 0zm1 0zm45 0zm-118 1zm2 0zm13 0zm1 0zm8 0zm2 0zm6 0zm3 0zm3 0zm1 0zm1 0zm1 0zm5 0zm4 0zm6 0zm2 0zm1 0zm2 0zm-68 1zm16 0zm6 0zm15 0zm7 0zm1 0zm2 0zm6 0zm7 0zm3 0zm12 0zm2 0zm1 0zm-77 1zm28 0zm4 0zm4 0zm4 0zm5 0zm4 0zm3 0zm2 0zm8 0zm1 0zm5 0zm3 0zm5 0zm-73 1zm17 0zm5 0zm6 0zm1 0zm2 0zm8 0zm1 0zm6 0zm1 0zm2 0zm2 0zm9 0zm3 0zm12 0zm-68 1zm5 0zm6 0zm3 0zm2 0zm1 0zm11 0zm8 0zm4 0zm8 0zm21 0zm-67 1zm9 0zm3 0zm12 0zm4 0zm1 0zm12 0zm3 0zm8 0zm6 0zm7 0zm4 0zm-64 1zm2 0zm12 0zm2 0zm1 0zm2 0zm14 0zm4 0zm4 0zm4 0zm15 0zm-66 1zm12 0zm1 0zm1 0zm6 0zm3 0zm5 0zm6 0zm1 0zm4 0zm2 0zm1 0zm17 0zm1 0zm4 0zm1 0zm5 0zm-68 1zm23 0zm1 0zm1 0zm7 0zm1 0zm6 0zm1 0zm4 0zm1 0zm1 0zm7 0zm-54 1zm31 0zm5 0zm5 0zm5 0zm8 0zm5 0zm4 0zm1 0zm2 0zm3 0zm-62 1zm21 0zm1 0zm2 0zm1 0zm4 0zm4 0zm5 0zm8 0zm2 0zm-59 1zm6 0zm2 0zm6 0zm6 0zm3 0zm21 0zm1 0zm2 0zm9 0zm2 0zm-66 1zm13 0zm10 0zm6 0zm7 0zm3 0zm3 0zm1 0zm7 0zm5 0zm16 0zm2 0zm3 0zm-67 1zm13 0zm8 0zm20 0zm7 0zm2 0zm1 0zm6 0zm7 0zm1 0zm-60 1zm11 0zm6 0zm8 0zm3 0zm2 0zm2 0zm4 0zm2 0zm6 0zm1 0zm1 0zm2 0zm1 0zm15 0zm-59 1zm3 0zm2 0zm21 0zm15 0zm10 0zm2 0zm1 0zm-46 1zm9 0zm4 0zm2 0zm5 0zm10 0zm2 0zm11 0zm12 0zm-63 1zm6 0zm4 0zm15 0zm12 0zm9 0zm5 0zm5 0zm-55 1zm11 0zm9 0zm5 0zm24 0zm3 0zm6 0zm-55 1zm3 0zm5 0zm18 0zm2 0zm10 0zm15 0zm1 0zm3 0zm-61 1zm25 0zm16 0zm3 0zm6 0zm15 0zm-56 1zm19 0zm13 0zm1 0zm2 0zm12 0zm7 0zm-64 1zm22 0zm37 0zm-78 1zm23 0zm3 0zm5 0zm16 0zm67 0zm-77 1zm5 0zm3 0zm10 0zm-31 1zm27 0zm18 0zm-71 1zm31 0zm20 0zm4 0zm13 0zm22 0zm-39 1zm1 0zm3 0zm1 0zm1 0zm14 0zm-17 1zm8 0zm27 0zm-64 1zm-2 1zm43 0zm-23 1zm9 0zm18 0zm-1 1zm6 0zm16 2zm-7 1zm28 0zm-78 1zm1 0zm-1 1zm-3 1zm24 6zm16 0zm-55 1z" stroke="#4a4ab4" stroke-width="2" stroke-opacity="0.76" stroke-linecap="square" fill="none"/>
<path transform="scale(.5)" d="M1236 936zm1 1zm24 0zm34 0zm-17 1zm-38 1zm51 0zm-85 1zm31 0zm13 0zm25 0zm-53 1zm74 0zm-52 1zm-9 1zm67 0zm-64 1zm13 0zm-38 1zm17 0zm19 0zm7 0zm19 0zm10 0zm-75 1zm51 0zm4 0zm-21 2zm13 0zm13 0zm-28 1zm16 0zm7 0zm-27 1zm1 0zm2 0zm11 0zm15 0zm27 0zm3 0zm-51 1zm9 0zm8 0zm3 0zm1 0zm3 0zm-40 1zm14 0zm10 0zm22 0zm10 0zm1 0zm2 0zm-92 1zm30 0zm7 0zm26 0zm35 0zm-58 1zm9 0zm32 0zm-54 1zm10 0zm5 0zm10 0zm3 0zm9 0zm5 0zm17 0zm-58 1zm16 0zm20 0zm4 0zm-29 1zm2 0zm27 0zm2 0zm39 0zm-84 1zm23 0zm10 0zm12 0zm-36 1zm15 0zm1 0zm22 0zm-28 1zm11 0zm4 0zm13 0zm2 0zm2 0zm-44 1zm3 0zm7 0zm7 0zm2 0zm7 0zm12 0zm9 0zm2 0zm-48 1zm2 0zm8 0zm19 0zm11 0zm8 0zm13 0zm5 0zm13 0zm3 0zm-91 1zm4 0zm1 0zm7 0zm7 0zm5 0zm22 0zm11 0zm2 0zm8 0zm19 0zm-85 1zm14 0zm10 0zm22 0zm15 0zm9 0zm-46 1zm8 0zm3 0zm2 0zm21 0zm5 0zm-61 1zm7 0zm1 0zm5 0zm4 0zm5 0zm1 0zm3 0zm1 0zm1 0zm3 0zm3 0zm2 0zm13 0zm10 0zm21 0zm-82 1zm9 0zm20 0zm1 0zm26 0zm3 0zm3 0zm-35 1zm3 0zm15 0zm3 0zm14 0zm9 0zm-52 1zm8 0zm19 0zm7 0zm4 0zm10 0zm7 0zm-68 1zm9 0zm8 0zm29 0zm2 0zm2 0zm5 0zm4 0zm1 0zm13 0zm10 0zm-98 1zm1 0zm13 0zm11 0zm5 0zm30 0zm1 0zm3 0zm3 0zm1 0zm-48 1zm15 0zm22 0zm5 0zm10 0zm1 0zm5 0zm10 0zm-101 1zm27 0zm44 0zm3 0zm3 0zm2 0zm5 0zm-64 1zm14 0zm2 0zm1 0zm4 0zm37 0zm5 0zm6 0zm1 0zm-79 1zm18 0zm2 0zm6 0zm6 0zm1 0zm29 0zm2 0zm2 0zm9 0zm19 0zm-95 1zm15 0zm13 0zm3 0zm36 0zm5 0zm4 0zm14 0zm-83 1zm12 0zm3 0zm1 0zm41 0zm4 0zm3 0zm2 0zm-61 1zm14 0zm2 0zm39 0zm4 0zm2 0zm5 0zm6 0zm-85 1zm7 0zm2 0zm5 0zm11 0zm7 0zm35 0zm1 0zm3 0zm8 0zm2 0zm3 0zm-94 1zm29 0zm47 0zm2 0zm11 0zm5 0zm-62 1zm2 0zm3 0zm3 0zm36 0zm2 0zm4 0zm2 0zm26 0zm1 0zm-101 1zm10 0zm2 0zm6 0zm6 0zm6 0zm36 0zm2 0zm6 0zm2 0zm-63 1zm4 0zm6 0zm3 0zm41 0zm3 0zm4 0zm1 0zm-75 1zm18 0zm5 0zm3 0zm50 0zm6 0zm2 0zm7 0zm5 0zm-83 1zm7 0zm52 0zm7 0zm1 0zm1 0zm4 0zm-63 1zm4 0zm51 0zm36 0zm-105 1zm13 0zm5 0zm2 0zm46 0zm9 0zm-68 1zm4 0zm2 0zm7 0zm40 0zm23 0zm-81 1zm4 0zm3 0zm6 0zm1 0zm2 0zm2 0zm42 0zm2 0zm3 0zm1 0zm3 0zm-80 1zm25 0zm1 0zm43 0zm5 0zm12 0zm11 0zm-91 1zm19 0zm3 0zm44 0zm6 0zm3 0zm17 0zm-90 1zm1 0zm7 0zm5 0zm1 0zm1 0zm5 0zm50 0zm-61 1zm1 0zm1 0zm3 0zm4 0zm43 0zm5 0zm1 0zm18 0zm-94 1zm8 0zm3 0zm1 0zm3 0zm6 0zm2 0zm47 0zm3 0zm9 0zm-60 1zm4 0zm49 0zm3 0zm-66 1zm11 0zm1 0zm2 0zm49 0zm2 0zm5 0zm1 0zm2 0zm-80 1zm10 0zm4 0zm56 0zm2 0zm4 0zm3 0zm-74 1zm4 0zm2 0zm2 0zm8 0zm51 0zm6 0zm7 0zm-107 1zm36 0zm3 0zm1 0zm1 0zm53 0zm12 0zm7 0zm-112 1zm19 0zm1 0zm7 0zm6 0zm6 0zm1 0zm66 0zm-83 1zm9 0zm6 0zm3 0zm2 0zm45 0zm3 0zm2 0zm2 0zm4 0zm18 0zm-100 1zm5 0zm4 0zm3 0zm13 0zm45 0zm1 0zm9 0zm-65 1zm3 0zm6 0zm1 0zm45 0zm4 0zm3 0zm3 0zm14 0zm-86 1zm6 0zm3 0zm3 0zm1 0zm48 0zm5 0zm1 0zm18 0zm9 0zm-87 1zm3 0zm2 0zm1 0zm2 0zm48 0zm5 0zm2 0zm1 0zm27 0zm-92 1zm10 0zm47 0zm3 0zm5 0zm3 0zm1 0zm7 0zm-94 1zm14 0zm4 0zm6 0zm1 0zm55 0zm5 0zm1 0zm1 0zm-92 1zm11 0zm23 0zm48 0zm4 0zm4 0zm2 0zm11 0zm15 0zm-107 1zm12 0zm1 0zm1 0zm4 0zm51 0zm1 0zm14 0zm1 0zm30 0zm-96 1zm3 0zm45 0zm1 0zm4 0zm4 0zm-80 1zm8 0zm65 0zm2 0zm13 0zm-82 1zm3 0zm13 0zm3 0zm53 0zm3 0zm9 0zm-83 1zm7 0zm6 0zm5 0zm1 0zm45 0zm1 0zm6 0zm1 0zm5 0zm-81 1zm11 0zm64 0zm17 0zm21 0zm-107 1zm2 0zm5 0zm3 0zm53 0zm9 0zm1 0zm5 0zm15 0zm6 0zm-89 1zm1 0zm59 0zm4 0zm-89 1zm12 0zm5 0zm1 0zm12 0zm1 0zm45 0zm1 0zm5 0zm10 0zm1 0zm7 0zm-91 1zm1 0zm8 0zm1 0zm4 0zm1 0zm3 0zm2 0zm48 0zm3 0zm3 0zm-79 1zm13 0zm1 0zm4 0zm4 0zm2 0zm4 0zm44 0zm1 0zm7 0zm8 0zm8 0zm-76 1zm59 0zm-66 1zm2 0zm4 0zm4 0zm2 0zm47 0zm3 0zm5 0zm14 0zm14 0zm-118 1zm20 0zm6 0zm2 0zm4 0zm4 0zm46 0zm1 0zm2 0zm8 0zm15 0zm-95 1zm5 0zm3 0zm9 0zm4 0zm54 0zm2 0zm5 0zm5 0zm5 0zm3 0zm-79 1zm52 0zm1 0zm10 0zm28 0zm-95 1zm2 0zm7 0zm47 0zm4 0zm12 0zm4 0zm-91 1zm16 0zm5 0zm2 0zm4 0zm44 0zm11 0zm7 0zm28 0zm-106 1zm4 0zm7 0zm58 0zm-81 1zm17 0zm5 0zm1 0zm5 0zm45 0zm5 0zm6 0zm2 0zm14 0zm-99 1zm12 0zm8 0zm6 0zm1 0zm45 0zm6 0zm8 0zm7 0zm20 0zm-116 1zm8 0zm2 0zm19 0zm1 0zm49 0zm26 0zm-97 1zm3 0zm14 0zm6 0zm42 0zm2 0zm8 0zm2 0zm2 0zm4 0zm-74 1zm4 0zm1 0zm4 0zm1 0zm4 0zm47 0zm1 0zm5 0zm12 0zm-82 1zm8 0zm7 0zm48 0zm4 0zm2 0zm-65 1zm7 0zm4 0zm3 0zm47 0zm8 0zm-56 1zm51 0zm17 0zm-82 1zm2 0zm6 0zm2 0zm1 0zm1 0zm2 0zm44 0zm6 0zm3 0zm3 0zm2 0zm-90 1zm23 0zm2 0zm7 0zm48 0zm-57 1zm3 0zm1 0zm1 0zm1 0zm43 0zm2 0zm2 0zm1 0zm3 0zm2 0zm8 0zm1 0zm1 0zm-78 1zm7 0zm2 0zm49 0zm1 0zm6 0zm6 0zm20 0zm17 0zm-97 1zm-8 1zm9 0zm6 0zm44 0zm9 0zm12 0zm-106 1zm18 0zm14 0zm45 0zm2 0zm1 0zm12 0zm16 0zm-97 1zm7 0zm6 0zm2 0zm8 0zm5 0zm52 0zm1 0zm8 0zm-57 1zm33 0zm17 0zm-71 1zm14 0zm48 0zm4 0zm-57 1zm4 0zm7 0zm2 0zm1 0zm33 0zm5 0zm4 0zm3 0zm1 0zm16 0zm-96 1zm11 0zm54 0zm1 0zm12 0zm-57 1zm13 0zm30 0zm3 0zm10 0zm6 0zm7 0zm-64 1zm3 0zm1 0zm3 0zm29 0zm2 0zm1 0zm3 0zm-44 1zm39 0zm2 0zm2 0zm8 0zm2 0zm15 0zm14 0zm-89 1zm11 0zm7 0zm32 0zm2 0zm4 0zm6 0zm6 0zm-84 1zm6 0zm30 0zm22 0zm2 0zm2 0zm7 0zm-52 1zm6 0zm1 0zm39 0zm7 0zm3 0zm-71 1zm14 0zm13 0zm1 0zm26 0zm2 0zm7 0zm36 0zm-108 1zm14 0zm4 0zm13 0zm4 0zm30 0zm6 0zm3 0zm2 0zm4 0zm-53 1zm12 0zm8 0zm1 0zm18 0zm-55 1zm18 0zm5 0zm5 0zm19 0zm8 0zm5 0zm6 0zm8 0zm1 0zm2 0zm10 0zm-96 1zm33 0zm5 0zm16 0zm2 0zm-36 1zm20 0zm5 0zm10 0zm3 0zm2 0zm4 0zm18 0zm-72 1zm16 0zm3 0zm5 0zm7 0zm-23 1zm2 0zm32 0zm18 0zm4 0zm-59 1zm16 0zm22 0zm3 0zm4 0zm9 0zm20 0zm5 0zm-63 1zm5 0zm5 0zm12 0zm3 0zm1 0zm10 0zm24 0zm16 0zm-97 1zm28 0zm10 0zm9 0zm4 0zm5 0zm2 0zm-40 1zm8 0zm40 0zm-28 1zm2 0zm2 0zm5 0zm2 0zm19 0zm1 0zm2 0zm-16 1zm2 0zm19 0zm-63 1zm17 0zm17 0zm21 0zm2 0zm1 0zm-46 1zm31 0zm3 0zm8 0zm-47 1zm10 0zm5 0zm9 0zm-23 1zm8 0zm3 0zm7 0zm14 0zm-33 1zm10 0zm7 0zm13 0zm18 0zm10 0zm-54 1zm24 0zm21 5zm-32 1zm5 17z" stroke="#3636b8" stroke-width="2" stroke-opacity="0.85" stroke-linecap="square" fill="none"/>
<path transform="scale(.5)" d="M1281 1030zm7 0zm-9 1zm30 0zm3 1zm-40 2zm16 0zm1 0zm-16 2zm10 0zm2 0zm4 0zm9 1zm3 0zm3 0zm-24 2zm6 0zm9 0zm4 0zm-22 1zm27 0zm-27 1zm1 0zm1 0zm5 0zm8 0zm5 0zm9 0zm10 0zm-40 1zm10 0zm5 0zm1 0zm1 0zm6 0zm4 0zm6 0zm16 0zm-43 1zm3 0zm4 0zm1 0zm11 0zm-27 1zm7 0zm3 0zm3 0zm5 0zm2 0zm9 0zm4 0zm-28 1zm8 0zm3 0zm11 0zm2 0zm1 0zm-36 1zm3 0zm6 0zm13 0zm3 0zm16 0zm3 0zm3 0zm-42 1zm8 0zm20 0zm12 0zm-45 1zm5 0zm5 0zm6 0zm4 0zm7 0zm1 0zm1 0zm3 0zm3 0zm1 0zm8 0zm9 0zm-55 1zm4 0zm3 0zm1 0zm8 0zm5 0zm2 0zm1 0zm14 0zm4 0zm1 0zm17 0zm-47 1zm3 0zm5 0zm5 0zm10 0zm2 0zm-38 1zm10 0zm8 0zm3 0zm3 0zm1 0zm14 0zm4 0zm4 0zm9 0zm7 0zm-54 1zm5 0zm9 0zm11 0zm4 0zm-26 1zm2 0zm5 0zm3 0zm4 0zm1 0zm6 0zm2 0zm12 0zm-53 1zm1 0zm17 0zm4 0zm14 0zm2 0zm5 0zm4 0zm4 0zm5 0zm-51 1zm17 0zm7 0zm12 0zm3 0zm14 0zm-46 1zm11 0zm6 0zm3 0zm6 0zm4 0zm4 0zm-35 1zm14 0zm3 0zm2 0zm13 0zm6 0zm2 0zm-47 1zm7 0zm1 0zm11 0zm10 0zm2 0zm3 0zm10 0zm7 0zm-32 1zm7 0zm4 0zm7 0zm5 0zm7 0zm-53 1zm15 0zm6 0zm7 0zm-15 1zm12 0zm2 0zm6 0zm6 0zm-31 1zm15 0zm7 0zm3 0zm2 0zm7 0zm35 0zm-85 1zm13 0zm31 0zm2 0zm8 0zm-14 1zm-34 1zm22 0zm1 0zm4 0zm17 1zm-27 1zm13 0zm-18 1zm3 0zm6 0zm18 0zm46 0zm-68 1zm14 0zm4 0zm-21 1zm39 0zm-44 1zm10 0zm42 1zm-51 1z" stroke="#4a4ab4" stroke-width="2" stroke-opacity="0.75" stroke-linecap="square" fill="none"/>
<path transform="scale(.5)" d="M1323 1038zm2 0zm-17 1zm2 0zm9 0zm-18 2zm8 0zm11 0zm3 0zm-22 1zm7 0zm18 0zm-22 1zm-17 1zm38 0zm-22 1zm1 0zm7 0zm1 0zm1 0zm3 0zm15 0zm-26 1zm7 0zm6 0zm2 0zm1 0zm23 0zm-42 1zm3 0zm1 0zm1 0zm12 0zm11 0zm-19 1zm4 0zm4 0zm9 0zm2 0zm1 0zm3 0zm-28 1zm2 0zm2 0zm6 0zm1 0zm2 0zm2 0zm3 0zm1 0zm2 0zm1 0zm2 0zm2 0zm1 0zm1 0zm-17 1zm1 0zm4 0zm3 0zm3 0zm-25 1zm1 0zm3 0zm3 0zm3 0zm2 0zm10 0zm-21 1zm4 0zm1 0zm9 0zm5 0zm3 0zm18 0zm-41 1zm5 0zm3 0zm2 0zm6 0zm8 0zm1 0zm-37 1zm13 0zm1 0zm2 0zm1 0zm1 0zm1 0zm4 0zm4 0zm2 0zm1 0zm3 0zm2 0zm1 0zm2 0zm8 0zm-56 1zm19 0zm3 0zm5 0zm2 0zm2 0zm8 0zm1 0zm1 0zm3 0zm2 0zm1 0zm2 0zm1 0zm3 0zm-40 1zm1 0zm1 0zm3 0zm2 0zm3 0zm7 0zm3 0zm2 0zm1 0zm6 0zm1 0zm1 0zm3 0zm3 0zm1 0zm3 0zm-36 1zm6 0zm1 0zm3 0zm2 0zm3 0zm2 0zm6 0zm1 0zm1 0zm7 0zm3 0zm-31 1zm1 0zm1 0zm2 0zm1 0zm1 0zm1 0zm1 0zm3 0zm2 0zm5 0zm1 0zm2 0zm1 0zm1 0zm2 0zm1 0zm3 0zm6 0zm-34 1zm1 0zm2 0zm1 0zm3 0zm1 0zm1 0zm1 0zm1 0zm1 0zm4 0zm6 0zm3 0zm1 0zm1 0zm3 0zm-38 1zm12 0zm3 0zm3 0zm1 0zm1 0zm1 0zm1 0zm1 0zm3 0zm2 0zm1 0zm1 0zm2 0zm1 0zm1 0zm-39 1zm5 0zm3 0zm1 0zm3 0zm1 0zm5 0zm4 0zm1 0zm1 0zm1 0zm1 0zm6 0zm1 0zm1 0zm1 0zm1 0zm8 0zm-28 1zm2 0zm2 0zm1 0zm2 0zm4 0zm1 0zm1 0zm2 0zm1 0zm3 0zm1 0zm1 0zm-32 1zm3 0zm6 0zm2 0zm1 0zm1 0zm4 0zm5 0zm1 0zm4 0zm4 0zm1 0zm5 0zm4 0zm8 0zm1 0zm-54 1zm3 0zm2 0zm4 0zm1 0zm1 0zm1 0zm1 0zm2 0zm2 0zm6 0zm1 0zm1 0zm1 0zm1 0zm4 0zm4 0zm3 0zm5 0zm3 0zm-47 1zm1 0zm12 0zm1 0zm3 0zm1 0zm1 0zm4 0zm1 0zm4 0zm1 0zm2 0zm5 0zm3 0zm1 0zm-36 1zm8 0zm1 0zm6 0zm2 0zm4 0zm1 0zm1 0zm1 0zm2 0zm3 0zm1 0zm3 0zm2 0zm-33 1zm7 0zm8 0zm6 0zm1 0zm8 0zm2 0zm1 0zm2 0zm-47 1zm9 0zm13 0zm5 0zm4 0zm2 0zm20 0zm7 0zm-46 1zm6 0zm2 0zm2 0zm1 0zm8 0zm2 0zm3 0zm1 0zm7 0zm2 0zm-21 1zm2 0zm2 0zm5 0zm17 0zm-42 1zm11 0zm2 0zm5 0zm3 0zm2 0zm1 0zm6 0zm1 0zm3 0zm-30 1zm1 0zm15 0zm2 0zm4 0zm4 0zm1 0zm5 0zm-18 1zm4 0zm8 0zm4 0zm-14 1zm5 0zm8 0zm-14 1zm6 0zm13 0zm4 0zm-41 1zm29 0zm2 0zm-31 1zm29 0zm6 0zm-20 1zm11 0zm13 0zm-28 2zm11 0zm3 0zm26 0zm-43 1zm3 0zm16 0z" stroke="#4242b2" stroke-width="2" stroke-opacity="0.8" stroke-linecap="square" fill="none"/>
<path transform="scale(.5)" d="M1193 941zm62 10zm-29 21zm68 0zm-58 3zm-84 2zm121 0zm19 2zm46 5zm-38 3zm23 3zm-2 2zm-93 2zm3 0zm-16 2zm-57 5zm2 0zm163 3zm36 2zm-165 2zm122 3zm-36 1zm22 7zm31 0zm-114 5zm-28 1zm31 1zm8 2zm62 3zm18 2zm-79 1zm-63 1zm43 0zm61 0zm33 1zm-82 7zm-24 1zm26 0zm-63 7zm140 2zm31 1zm-169 3zm170 0zm-100 4zm14 0zm-59 4zm142 5zm-44 7zm60 1z" stroke="#7070c0" stroke-width="2" stroke-opacity="0.6" stroke-linecap="square" fill="none"/>
</g>
<g filter="url(#rough)">
<ellipse cx="627.2" cy="505.5" rx="14.5" ry="27" fill="#2c34c8" fill-opacity="0.55" transform="rotate(8 627.2 505.5)"/>
<ellipse cx="627.3" cy="505.8" rx="12" ry="24" fill="#3d7fe8" stroke="#16208a" stroke-width=".45" stroke-opacity=".75" transform="rotate(8 627.3 505.8)"/>
<ellipse cx="627.4" cy="506" rx="9.3" ry="20" fill="#4ac6e4" stroke="#16208a" stroke-width=".45" stroke-opacity=".75" transform="rotate(8 627.4 506)"/>
<ellipse cx="627.4" cy="506" rx="6.6" ry="15" fill="#4ee79b" stroke="#16208a" stroke-width=".45" stroke-opacity=".75" transform="rotate(8 627.4 506)"/>
<ellipse cx="627.3" cy="505.4" rx="4.1" ry="10" fill="#8cf07a" stroke="#16208a" stroke-width=".45" stroke-opacity=".75" transform="rotate(8 627.3 505.4)"/>
<ellipse cx="627.2" cy="504.4" rx="2" ry="5" fill="#dff05a" transform="rotate(8 627.2 504.4)"/>
<ellipse cx="658.8" cy="530.2" rx="5.2" ry="4.4" fill="#3b44c4" fill-opacity="0.8"/>
<ellipse cx="659" cy="530.4" rx="3" ry="2.6" fill="#7f9ccc" stroke="#16208a" stroke-width=".45" stroke-opacity=".75"/>
</g>
<path d="M569.3 470.4L657.6 466.9L633.7 564.5L571.4 564.5Z" fill="none" stroke="#555" stroke-width="0.9"/>
</g>
<path d="M567.4 449.2H684.9V565.3" fill="none" stroke="#8a8a8a" stroke-width="1"/>
<path d="M567.4 449.2V565.3H684.9" fill="none" stroke="#2a2a2a" stroke-width="1.1"/>
<text x="562.9" y="458.7" font-size="8" fill="#333" text-anchor="end">250 K</text>
<text x="562.9" y="480.2" font-size="8" fill="#333" text-anchor="end">200 K</text>
<text x="562.9" y="501.7" font-size="8" fill="#333" text-anchor="end">150 K</text>
<text x="562.9" y="523.7" font-size="8" fill="#333" text-anchor="end">100 K</text>
<text x="562.9" y="545.7" font-size="8" fill="#333" text-anchor="end">50 K</text>
<text x="562.9" y="567.4" font-size="8" fill="#333" text-anchor="end">0</text>
<path d="M567.4 455.8h-3M567.4 477.3h-3M567.4 498.8h-3M567.4 520.8h-3M567.4 542.8h-3M567.4 564.5h-3M567.4 460.1h-1.6M567.4 464.5h-1.6M567.4 468.8h-1.6M567.4 473.2h-1.6M567.4 481.9h-1.6M567.4 486.2h-1.6M567.4 490.6h-1.6M567.4 494.9h-1.6M567.4 503.6h-1.6M567.4 508h-1.6M567.4 512.3h-1.6M567.4 516.7h-1.6M567.4 525.4h-1.6M567.4 529.7h-1.6M567.4 534.1h-1.6M567.4 538.4h-1.6M567.4 547.1h-1.6M567.4 551.5h-1.6M567.4 555.8h-1.6M567.4 560.2h-1.6" stroke="#2a2a2a" stroke-width=".8" fill="none"/>
<text x="572.8" y="577.9" font-size="7.8" fill="#333">10<tspan dy="-3.1" font-size="5.7">0</tspan></text>
<text x="591.9" y="577.9" font-size="7.8" fill="#333">10<tspan dy="-3.1" font-size="5.7">1</tspan></text>
<text x="611.5" y="577.9" font-size="7.8" fill="#333">10<tspan dy="-3.1" font-size="5.7">2</tspan></text>
<text x="631.1" y="577.9" font-size="7.8" fill="#333">10<tspan dy="-3.1" font-size="5.7">3</tspan></text>
<text x="650.4" y="577.9" font-size="7.8" fill="#333">10<tspan dy="-3.1" font-size="5.7">4</tspan></text>
<text x="670.1" y="577.9" font-size="7.8" fill="#333">10<tspan dy="-3.1" font-size="5.7">5</tspan></text>
<path d="M578.8 565.3v3M597.9 565.3v3M617.5 565.3v3M637.1 565.3v3M656.4 565.3v3M676.1 565.3v3M568.8 565.3v1.5M571.2 565.3v1.5M573.1 565.3v1.5M574.6 565.3v1.5M575.8 565.3v1.5M576.9 565.3v1.5M577.9 565.3v1.5M584.5 565.3v1.5M587.9 565.3v1.5M590.3 565.3v1.5M592.2 565.3v1.5M593.7 565.3v1.5M594.9 565.3v1.5M596 565.3v1.5M597 565.3v1.5M603.8 565.3v1.5M607.3 565.3v1.5M609.7 565.3v1.5M611.6 565.3v1.5M613.2 565.3v1.5M614.5 565.3v1.5M615.6 565.3v1.5M616.6 565.3v1.5M623.4 565.3v1.5M626.9 565.3v1.5M629.3 565.3v1.5M631.2 565.3v1.5M632.8 565.3v1.5M634.1 565.3v1.5M635.2 565.3v1.5M636.2 565.3v1.5M642.9 565.3v1.5M646.3 565.3v1.5M648.7 565.3v1.5M650.6 565.3v1.5M652.1 565.3v1.5M653.4 565.3v1.5M654.5 565.3v1.5M655.5 565.3v1.5M662.3 565.3v1.5M665.8 565.3v1.5M668.3 565.3v1.5M670.2 565.3v1.5M671.7 565.3v1.5M673 565.3v1.5M674.2 565.3v1.5M675.2 565.3v1.5M681.8 565.3v1.5" stroke="#2a2a2a" stroke-width=".7" fill="none"/>
<text x="587.3" y="544.6" font-size="12.3" fill="#111" font-weight="bold">Live</text>
<text x="581.5" y="559.8" font-size="12.3" fill="#111" font-weight="bold">94.5%</text>
<text x="623.6" y="441" font-size="16.5" fill="#000" text-anchor="middle" font-weight="bold">Singlets</text>
<text x="535.9" y="506" font-size="18" font-weight="bold" text-anchor="middle" fill="#000" transform="rotate(-90 535.9 506)">FSC-A</text>
<text x="596.6" y="601.8" font-size="18" fill="#000" font-weight="bold">Live-Dead</text>
<g clip-path="url(#c4)">
<g filter="url(#haze)">
<ellipse cx="840" cy="505" rx="7.5" ry="27" fill="#5656dc" fill-opacity="0.5" transform="rotate(4 840 505)"/>
<ellipse cx="838.5" cy="522" rx="7.5" ry="11" fill="#5656dc" fill-opacity="0.35"/>
<ellipse cx="829" cy="512" rx="6" ry="14" fill="#5656dc" fill-opacity="0.2"/>
</g>
<g filter="url(#rough)">
<path transform="scale(.5)" d="M1593 1010zm-17 9zm77 2zm-35 2zm-10 3zm-22 1zm25 0zm-17 1zm52 0zm-75 1zm31 0zm-38 2zm25 0zm65 0zm-60 1zm22 0zm16 1zm-18 1zm1 1zm16 0zm3 0zm-63 1zm21 0zm26 0zm41 0zm-78 1zm42 0zm-3 1zm23 0zm-40 1zm4 0zm17 0zm29 0zm-73 1zm30 0zm16 0zm6 0zm10 0zm-66 1zm31 0zm4 0zm46 0zm-87 1zm27 0zm5 0zm15 0zm8 0zm6 0zm7 1zm6 0zm-81 1zm21 0zm17 0zm1 0zm29 0zm-58 1zm66 0zm-42 1zm24 0zm17 0zm8 0zm26 0zm-110 1zm39 0zm5 0zm4 0zm30 0zm-40 1zm11 0zm20 0zm9 0zm-60 1zm46 0zm8 0zm-59 1zm9 0zm9 0zm33 0zm-53 1zm4 0zm12 0zm36 0zm9 0zm9 0zm9 0zm-83 1zm31 0zm11 0zm3 0zm23 0zm-41 1zm31 0zm-46 1zm36 0zm-6 1zm14 0zm1 0zm11 0zm-68 1zm46 0zm-15 1zm7 0zm18 0zm4 0zm19 0zm-59 1zm29 0zm-58 1zm17 0zm18 0zm3 0zm11 0zm5 0zm15 0zm-41 1zm1 1zm66 0zm-69 1zm8 0zm8 0zm9 0zm0 1zm5 0zm6 0zm22 0zm-68 1zm8 0zm9 0zm63 0zm-47 1zm46 0zm-76 1zm-32 1zm82 0zm2 0zm19 0zm-38 1zm-29 2zm16 0zm25 0zm22 0zm1 0zm-35 1zm21 1zm-6 1zm-6 1zm-12 1zm-42 1zm8 0z" stroke="#7272c4" stroke-width="2" stroke-opacity="0.6" stroke-linecap="square" fill="none"/>
<path transform="scale(.5)" d="M1659 943zm2 4zm-18 12zm4 0zm3 1zm13 1zm17 1zm-15 1zm4 1zm-3 6zm-11 2zm-12 2zm13 0zm8 2zm1 0zm4 1zm-9 1zm-18 1zm25 3zm-16 2zm8 0zm4 0zm-22 1zm13 0zm7 0zm4 0zm-22 1zm6 0zm16 1zm-22 1zm12 0zm-14 2zm12 0zm17 0zm-14 1zm5 0zm1 0zm6 0zm-17 1zm2 0zm3 0zm5 0zm2 0zm3 0zm3 0zm-14 1zm7 0zm4 0zm-24 1zm13 0zm3 0zm3 0zm11 0zm-27 1zm9 0zm16 0zm-12 1zm-30 1zm20 0zm7 0zm1 0zm-4 1zm2 0zm9 0zm4 0zm-34 1zm28 0zm-3 1zm16 0zm-18 1zm7 0zm-23 1zm15 0zm7 0zm-1 1zm8 0zm-25 1zm9 0zm5 0zm3 0zm6 0zm-24 1zm14 0zm-9 1zm18 0zm-17 1zm8 0zm3 0zm5 0zm-12 1zm12 0zm-18 1zm8 0zm13 0zm-39 1zm34 0zm-24 1zm8 0zm8 0zm2 0zm6 0zm1 0zm2 0zm4 0zm-31 1zm14 0zm7 0zm-3 1zm14 0zm-16 1zm5 0zm9 0zm-24 1zm1 0zm20 0zm-8 1zm12 0zm-36 1zm36 0zm-19 1zm14 0zm4 0zm3 0zm-23 1zm5 0zm6 0zm3 0zm3 0zm-22 1zm22 0zm-22 1zm17 0zm10 0zm-30 1zm3 0zm7 0zm1 0zm4 0zm1 0zm3 0zm3 0zm-24 1zm3 0zm3 0zm5 0zm8 0zm3 0zm2 0zm1 0zm6 0zm2 0zm-11 1zm7 0zm-6 1zm-18 1zm8 0zm7 0zm1 0zm3 0zm5 0zm-13 1zm2 0zm4 0zm10 0zm-21 1zm1 0zm21 0zm-26 1zm6 1zm15 0zm-35 1zm12 0zm11 0zm6 0zm3 0zm8 0zm-41 1zm9 0zm20 0zm2 0zm2 0zm6 0zm-47 1zm27 0zm4 0zm4 0zm2 0zm2 0zm9 0zm-18 1zm1 0zm9 0zm9 0zm-14 1zm1 0zm2 0zm-21 1zm11 0zm13 0zm-26 1zm7 0zm10 0zm2 0zm1 0zm29 0zm-35 1zm-3 1zm3 0zm2 0zm5 0zm5 0zm2 0zm-20 1zm1 0zm8 0zm3 0zm11 0zm-25 1zm2 0zm4 0zm-22 1zm22 0zm9 0zm7 0zm1 0zm1 0zm-47 1zm32 0zm1 0zm5 0zm1 0zm10 0zm-22 1zm10 0zm4 0zm6 0zm-38 1zm17 1zm13 0zm-26 1zm13 0zm4 0zm5 0zm2 0zm15 0zm-26 1zm2 0zm2 0zm5 0zm5 0zm-6 1zm1 0zm7 0zm7 0zm-32 1zm13 0zm2 0zm4 0zm2 0zm9 0zm-15 1zm3 1zm4 0zm1 0zm8 0zm15 0zm0 1zm-41 1zm9 0zm8 0zm-5 1zm1 0zm1 0zm4 0zm1 0zm-7 1zm1 0zm2 0zm4 0zm-25 1zm16 1zm1 0zm5 0zm-8 1zm17 0zm-10 1zm1 0zm-16 2zm13 1zm13 0zm-28 1zm17 0zm1 0zm10 0zm-7 2zm18 0zm-36 1zm15 0zm-12 1zm29 0zm6 0zm-39 1zm18 0zm-18 1zm4 0zm21 0zm7 0zm-20 1zm36 3zm-31 4zm-6 10zm7 0z" stroke="#5252bc" stroke-width="2" stroke-opacity="0.7" stroke-linecap="square" fill="none"/>
<path transform="scale(.5)" d="M1677 935zm19 0zm-11 2zm4 0zm6 1zm-18 1zm4 0zm6 2zm-1 1zm3 0zm2 0zm1 1zm-12 1zm13 0zm-13 1zm12 1zm-41 1zm35 0zm1 0zm-11 1zm0 1zm9 0zm-1 1zm1 0zm20 0zm-19 1zm-9 1zm-1 1zm8 0zm3 0zm-3 1zm3 0zm11 0zm-21 1zm1 0zm12 0zm-25 1zm8 0zm6 0zm4 0zm4 0zm-8 1zm1 0zm13 0zm-14 1zm7 0zm2 0zm2 0zm3 0zm-15 1zm11 0zm-14 1zm3 0zm12 0zm2 0zm2 0zm4 0zm-24 1zm8 0zm1 0zm2 0zm5 0zm1 0zm1 0zm-23 1zm5 0zm1 0zm3 0zm1 0zm1 0zm-1 1zm2 0zm5 0zm1 0zm2 0zm-2 1zm-17 1zm18 0zm6 0zm-25 1zm1 0zm11 0zm-18 1zm7 0zm2 0zm4 0zm2 0zm2 0zm10 0zm1 0zm1 0zm-19 1zm2 0zm6 0zm10 0zm1 0zm15 0zm-34 1zm7 0zm9 0zm-26 1zm6 0zm4 0zm1 0zm4 0zm-13 1zm7 0zm6 0zm15 0zm2 0zm-26 1zm4 0zm2 0zm2 0zm26 0zm-32 1zm2 0zm5 0zm1 0zm11 0zm4 0zm-1 1zm-24 1zm5 0zm2 0zm2 0zm-9 1zm4 0zm1 0zm2 0zm15 0zm-21 1zm5 0zm28 0zm-31 1zm1 0zm1 0zm1 0zm1 0zm1 0zm15 0zm-29 1zm7 0zm5 0zm1 0zm1 0zm14 0zm-29 1zm8 0zm23 0zm17 0zm-39 1zm3 0zm1 0zm17 0zm-22 1zm3 0zm21 0zm-28 1zm2 0zm23 0zm2 0zm-29 1zm3 0zm4 0zm2 0zm1 0zm1 0zm1 0zm16 0zm-22 1zm2 0zm22 0zm4 0zm-30 1zm1 0zm2 0zm1 0zm2 0zm18 0zm2 0zm-24 1zm2 0zm1 0zm20 0zm-26 1zm3 0zm-17 1zm38 0zm1 0zm-28 1zm3 0zm2 0zm4 0zm19 0zm1 0zm5 0zm13 0zm-43 1zm2 0zm3 0zm2 0zm17 1zm-24 1zm1 0zm1 0zm21 0zm1 0zm-17 1zm16 0zm1 0zm2 0zm4 0zm-34 1zm3 0zm5 0zm19 0zm12 0zm-45 1zm13 0zm21 0zm-23 1zm5 0zm22 0zm-39 1zm7 0zm1 0zm2 0zm5 0zm1 0zm18 0zm1 0zm1 0zm-36 1zm13 0zm4 0zm17 0zm2 0zm-26 1zm1 0zm1 0zm4 0zm19 0zm3 0zm-27 1zm1 0zm1 0zm3 0zm18 0zm-24 1zm2 0zm3 0zm2 0zm17 0zm-26 1zm7 0zm1 0zm19 0zm1 0zm-29 1zm3 0zm1 0zm5 0zm18 0zm2 0zm-27 1zm5 0zm2 0zm18 0zm1 0zm-35 1zm1 0zm10 0zm2 0zm1 0zm1 0zm1 0zm-5 1zm1 0zm3 0zm1 0zm18 0zm2 0zm8 0zm-39 1zm5 0zm4 0zm2 0zm-11 1zm1 0zm2 0zm3 0zm1 0zm3 0zm1 0zm19 0zm1 0zm-33 1zm8 0zm3 0zm1 0zm-6 1zm3 0zm2 0zm1 0zm1 0zm19 0zm-36 1zm12 0zm1 0zm1 0zm3 0zm23 0zm-33 1zm3 0zm6 0zm1 0zm17 0zm13 0zm-37 1zm4 0zm22 0zm-24 1zm1 0zm1 0zm1 0zm1 0zm33 0zm-36 1zm22 0zm-25 1zm4 0zm1 0zm1 0zm18 0zm5 0zm-28 1zm1 0zm1 0zm1 0zm1 0zm1 0zm19 0zm2 0zm-24 1zm21 0zm5 0zm1 0zm-40 1zm9 0zm7 0zm18 0zm1 0zm8 0zm-36 1zm2 0zm1 0zm26 0zm5 0zm-30 1zm1 0zm1 0zm1 0zm1 0zm1 0zm18 0zm3 0zm7 0zm2 0zm-38 1zm2 0zm3 0zm21 0zm1 0zm7 0zm-3 1zm2 0zm-51 1zm20 0zm3 0zm2 0zm22 0zm1 0zm-35 1zm6 0zm4 0zm2 0zm1 0zm17 0zm1 0zm3 0zm-27 1zm6 0zm17 0zm2 0zm1 0zm1 0zm-30 1zm1 0zm4 0zm2 0zm19 0zm5 0zm-31 1zm3 0zm2 0zm2 0zm1 0zm21 0zm-25 1zm1 0zm1 0zm2 0zm18 0zm2 0zm-35 1zm4 0zm9 0zm1 0zm1 0zm1 0zm17 0zm3 0zm2 0zm-35 1zm12 0zm1 0zm16 0zm2 0zm6 0zm-35 1zm7 0zm3 0zm1 0zm17 0zm1 0zm7 0zm-27 1zm1 0zm2 0zm15 0zm2 0zm1 0zm-42 1zm21 0zm1 0zm1 0zm16 0zm8 0zm-42 1zm9 0zm6 0zm1 0zm19 0zm-31 1zm5 0zm5 0zm3 0zm1 0zm15 0zm1 0zm3 0zm1 0zm-31 1zm26 0zm1 0zm1 0zm4 0zm-35 1zm1 0zm4 0zm5 0zm2 0zm18 0zm4 0zm3 0zm1 0zm-30 1zm22 0zm1 0zm-29 1zm10 0zm3 0zm16 0zm1 0zm2 0zm-29 1zm25 0zm-26 1zm1 0zm2 0zm5 0zm2 0zm16 0zm4 0zm-29 1zm3 0zm7 0zm13 0zm6 0zm-21 1zm1 0zm18 0zm1 0zm13 0zm-33 1zm-8 1zm1 0zm9 0zm13 0zm6 0zm-21 1zm14 0zm1 0zm2 0zm-29 1zm3 0zm1 0zm24 0zm1 0zm4 0zm-27 1zm8 0zm13 0zm3 0zm1 0zm-30 1zm4 0zm4 0zm6 0zm14 0zm2 0zm-24 1zm3 0zm16 0zm-25 1zm9 0zm2 0zm-10 1zm8 0zm2 0zm2 0zm10 0zm1 0zm5 0zm-23 1zm36 0zm-33 1zm4 0zm10 0zm4 0zm5 0zm1 0zm-32 1zm6 0zm1 0zm13 0zm8 0zm-26 1zm9 0zm2 0zm1 0zm6 0zm1 0zm6 0zm-17 1zm1 0zm3 0zm9 0zm8 0zm-18 1zm1 0zm6 0zm2 0zm8 0zm-19 1zm10 0zm7 0zm-9 1zm2 0zm8 0zm-23 1zm9 0zm7 0zm3 0zm5 0zm-25 1zm7 0zm18 0zm-29 1zm8 1zm2 0zm10 0zm-10 1zm14 0zm6 0zm18 0zm-40 1zm6 0zm6 0zm3 0zm9 0zm-23 1zm9 0zm2 0zm-12 1zm2 0zm1 0zm5 0zm19 0zm-24 1zm13 0zm0 13z" stroke="#3838bc" stroke-width="2" stroke-opacity="0.85" stroke-linecap="square" fill="none"/>
<path transform="scale(.5)" d="M1668 1007zm0 5zm22 0zm-34 1zm17 0zm18 0zm-20 1zm2 1zm-4 1zm-7 1zm1 0zm3 0zm27 0zm-37 1zm7 0zm4 0zm3 0zm22 0zm-32 2zm6 0zm-3 1zm-1 1zm4 0zm24 0zm-36 1zm14 0zm-10 1zm5 0zm9 0zm-5 1zm1 0zm23 0zm-35 1zm4 0zm6 0zm6 0zm-13 1zm10 0zm-5 1zm5 0zm1 0zm2 0zm-8 1zm2 0zm1 0zm23 0zm-22 1zm22 0zm3 0zm-28 1zm3 0zm1 0zm1 1zm1 0zm21 0zm-38 1zm7 0zm1 0zm5 0zm25 0zm-32 1zm5 0zm6 0zm-5 1zm1 0zm1 0zm4 0zm-14 1zm3 0zm4 0zm4 0zm2 0zm27 0zm-34 1zm1 0zm6 0zm-2 1zm3 0zm15 0zm-24 1zm2 0zm25 0zm2 0zm-33 1zm7 0zm1 0zm3 0zm1 0zm1 0zm14 0zm1 0zm2 0zm-19 1zm2 0zm15 0zm1 0zm3 0zm17 0zm-49 1zm4 0zm3 0zm3 0zm2 0zm16 0zm4 0zm-28 1zm3 0zm1 0zm1 0zm1 0zm2 0zm18 0zm1 0zm3 0zm-33 1zm9 0zm1 0zm1 0zm2 0zm19 0zm-27 1zm4 0zm3 0zm14 0zm2 0zm4 0zm-54 1zm17 0zm2 0zm3 0zm3 0zm3 0zm1 0zm22 0zm1 0zm2 0zm12 0zm-41 1zm4 0zm5 0zm1 0zm13 0zm1 0zm1 0zm-31 1zm2 0zm6 0zm1 0zm2 0zm5 0zm15 0zm-31 1zm10 0zm2 0zm1 0zm1 0zm2 0zm14 0zm1 0zm2 0zm9 0zm-31 1zm1 0zm-13 1zm16 0zm1 0zm14 0zm5 0zm1 0zm-35 1zm4 0zm6 0zm2 0zm1 0zm13 0zm1 0zm2 0zm5 0zm-23 1zm1 0zm1 0zm14 0zm1 0zm8 0zm-35 1zm1 0zm6 0zm2 0zm2 0zm1 0zm1 0zm11 0zm1 0zm6 0zm-37 1zm16 0zm3 0zm13 0zm4 0zm4 0zm-45 1zm10 0zm4 0zm7 0zm2 0zm3 0zm10 0zm2 0zm4 0zm-31 1zm1 0zm2 0zm11 0zm1 0zm8 0zm1 0zm1 0zm2 0zm-32 1zm11 0zm1 0zm4 0zm1 0zm2 0zm2 0zm7 0zm1 0zm7 0zm8 0zm-39 1zm6 0zm5 0zm4 0zm2 0zm8 0zm3 0zm2 0zm1 0zm1 0zm-32 1zm12 0zm1 0zm1 0zm1 0zm3 0zm5 0zm2 0zm-18 1zm10 0zm2 0zm2 0zm4 0zm1 0zm1 0zm4 0zm2 0zm-40 1zm26 0zm1 0zm1 0zm3 0zm3 0zm3 0zm4 0zm-24 1zm1 0zm9 0zm1 0zm3 0zm1 0zm6 0zm-35 1zm5 0zm3 0zm4 0zm1 0zm1 0zm8 0zm2 0zm5 0zm1 0zm4 0zm-31 1zm7 0zm5 0zm3 0zm1 0zm1 0zm1 0zm3 0zm1 0zm-10 1zm6 0zm3 0zm4 0zm1 0zm3 0zm2 0zm6 0zm-21 1zm2 0zm1 0zm2 0zm1 0zm4 0zm-25 1zm4 0zm3 0zm6 0zm9 0zm-13 1zm5 0zm4 0zm2 0zm-16 1zm5 0zm2 0zm4 0zm10 0zm1 0zm4 0zm2 0zm-40 1zm28 0zm-14 1zm20 7z" stroke="#3838bc" stroke-width="2" stroke-opacity="0.85" stroke-linecap="square" fill="none"/>
</g>
<g filter="url(#rough)">
<ellipse cx="840.4" cy="506.5" rx="7.2" ry="28.5" fill="#2c36cc" fill-opacity="0.6" transform="rotate(4 840.4 506.5)"/>
<ellipse cx="839.2" cy="523" rx="6.8" ry="11.5" fill="#2c36cc" fill-opacity="0.55"/>
<ellipse cx="840.8" cy="505.5" rx="5.2" ry="25.5" fill="#3d7fe8" transform="rotate(4 840.8 505.5)"/>
<ellipse cx="841" cy="505.5" rx="4" ry="21" fill="#4ac6e4" transform="rotate(4 841 505.5)"/>
<ellipse cx="841.1" cy="505.5" rx="2.9" ry="16" fill="#4ee79b" transform="rotate(4 841.1 505.5)"/>
<ellipse cx="841.2" cy="504.5" rx="1.8" ry="10" fill="#b8f060" transform="rotate(4 841.2 504.5)"/>
<ellipse cx="841.2" cy="504" rx="0.9" ry="5" fill="#f2e84a" transform="rotate(4 841.2 504)"/>
</g>
<path d="M823 462.3L876.9 462.3L876.9 564.2L837.9 564.2L822.5 538.1Z" fill="none" stroke="#555" stroke-width="0.9"/>
</g>
<path d="M762.8 448.6H880.9V566.2" fill="none" stroke="#8a8a8a" stroke-width="1"/>
<path d="M762.8 448.6V566.2H880.9" fill="none" stroke="#2a2a2a" stroke-width="1.1"/>
<text x="758.3" y="458.7" font-size="8" fill="#333" text-anchor="end">250 K</text>
<text x="758.3" y="480.5" font-size="8" fill="#333" text-anchor="end">200 K</text>
<text x="758.3" y="502.4" font-size="8" fill="#333" text-anchor="end">150 K</text>
<text x="758.3" y="524.4" font-size="8" fill="#333" text-anchor="end">100 K</text>
<text x="758.3" y="546.4" font-size="8" fill="#333" text-anchor="end">50 K</text>
<text x="758.3" y="568.4" font-size="8" fill="#333" text-anchor="end">0</text>
<path d="M762.8 455.8h-3M762.8 477.6h-3M762.8 499.5h-3M762.8 521.5h-3M762.8 543.5h-3M762.8 565.5h-3M762.8 460.2h-1.6M762.8 464.6h-1.6M762.8 469h-1.6M762.8 473.4h-1.6M762.8 482.1h-1.6M762.8 486.5h-1.6M762.8 490.9h-1.6M762.8 495.3h-1.6M762.8 504.1h-1.6M762.8 508.5h-1.6M762.8 512.8h-1.6M762.8 517.2h-1.6M762.8 526h-1.6M762.8 530.4h-1.6M762.8 534.8h-1.6M762.8 539.2h-1.6M762.8 547.9h-1.6M762.8 552.3h-1.6M762.8 556.7h-1.6M762.8 561.1h-1.6" stroke="#2a2a2a" stroke-width=".8" fill="none"/>
<text x="768.5" y="578.8" font-size="7.8" fill="#333">10<tspan dy="-3.1" font-size="5.7">0</tspan></text>
<text x="787.9" y="578.8" font-size="7.8" fill="#333">10<tspan dy="-3.1" font-size="5.7">1</tspan></text>
<text x="807.5" y="578.8" font-size="7.8" fill="#333">10<tspan dy="-3.1" font-size="5.7">2</tspan></text>
<text x="827.2" y="578.8" font-size="7.8" fill="#333">10<tspan dy="-3.1" font-size="5.7">3</tspan></text>
<text x="846.8" y="578.8" font-size="7.8" fill="#333">10<tspan dy="-3.1" font-size="5.7">4</tspan></text>
<text x="866.7" y="578.8" font-size="7.8" fill="#333">10<tspan dy="-3.1" font-size="5.7">5</tspan></text>
<path d="M774.5 566.2v3M793.9 566.2v3M813.5 566.2v3M833.2 566.2v3M852.8 566.2v3M872.7 566.2v3M764.4 566.2v1.5M766.8 566.2v1.5M768.7 566.2v1.5M770.2 566.2v1.5M771.5 566.2v1.5M772.6 566.2v1.5M773.6 566.2v1.5M780.3 566.2v1.5M783.8 566.2v1.5M786.2 566.2v1.5M788.1 566.2v1.5M789.6 566.2v1.5M790.9 566.2v1.5M792 566.2v1.5M793 566.2v1.5M799.8 566.2v1.5M803.3 566.2v1.5M805.7 566.2v1.5M807.6 566.2v1.5M809.2 566.2v1.5M810.5 566.2v1.5M811.6 566.2v1.5M812.6 566.2v1.5M819.4 566.2v1.5M822.9 566.2v1.5M825.4 566.2v1.5M827.3 566.2v1.5M828.8 566.2v1.5M830.1 566.2v1.5M831.3 566.2v1.5M832.3 566.2v1.5M839.1 566.2v1.5M842.6 566.2v1.5M845 566.2v1.5M846.9 566.2v1.5M848.5 566.2v1.5M849.8 566.2v1.5M850.9 566.2v1.5M851.9 566.2v1.5M858.8 566.2v1.5M862.3 566.2v1.5M864.8 566.2v1.5M866.7 566.2v1.5M868.3 566.2v1.5M869.6 566.2v1.5M870.8 566.2v1.5M871.8 566.2v1.5M878.5 566.2v1.5" stroke="#2a2a2a" stroke-width=".7" fill="none"/>
<text x="839.1" y="544.3" font-size="12.3" fill="#111" font-weight="bold">CD45+</text>
<text x="840.4" y="559.2" font-size="12.3" fill="#111" font-weight="bold">99.1%</text>
<text x="818.5" y="440" font-size="16.5" fill="#000" text-anchor="middle" font-weight="bold">Live</text>
<text x="730.4" y="505.8" font-size="18" font-weight="bold" text-anchor="middle" fill="#000" transform="rotate(-90 730.4 505.8)">FSC-A</text>
<text x="803" y="601.6" font-size="18" fill="#000" font-weight="bold">CD45</text>
<g clip-path="url(#c5)">
<g filter="url(#haze)">
<ellipse cx="184.5" cy="741" rx="14" ry="16" fill="#5656dc" fill-opacity="0.5"/>
<ellipse cx="164" cy="745" rx="9" ry="10" fill="#5656dc" fill-opacity="0.18"/>
<ellipse cx="221.5" cy="744" rx="10.5" ry="16" fill="#5656dc" fill-opacity="0.5"/>
</g>
<g filter="url(#rough)">
<path transform="scale(.5)" d="M338 1438zm-33 6zm3 0zm39 0zm-40 1zm27 0zm-18 2zm17 0zm7 2zm-23 2zm18 0zm-40 1zm11 1zm10 0zm0 1zm7 0zm12 0zm2 0zm-6 1zm1 0zm-34 1zm10 0zm17 0zm2 0zm21 0zm20 0zm-53 1zm15 0zm-6 1zm7 0zm3 0zm-30 1zm9 0zm25 0zm8 0zm-3 1zm12 0zm7 0zm-45 1zm4 0zm17 0zm-11 1zm-26 1zm3 0zm11 0zm7 0zm-7 1zm9 0zm20 0zm-32 1zm24 0zm4 0zm6 0zm-41 1zm17 0zm1 0zm1 0zm26 0zm-36 1zm6 0zm1 0zm4 0zm4 0zm23 0zm-59 1zm11 0zm6 0zm15 0zm2 0zm7 0zm16 0zm-52 1zm4 0zm1 0zm6 0zm10 0zm7 0zm15 0zm-22 1zm1 0zm2 0zm1 0zm8 0zm4 0zm9 0zm-46 1zm31 0zm3 0zm6 0zm21 0zm-56 1zm8 0zm3 0zm17 0zm8 0zm5 0zm-47 1zm15 0zm2 0zm11 0zm6 0zm2 0zm33 0zm-65 1zm5 0zm6 0zm8 0zm7 0zm9 0zm6 0zm-31 1zm9 0zm2 0zm2 0zm19 0zm-37 1zm3 0zm11 0zm2 0zm5 0zm3 0zm3 0zm2 0zm15 0zm-30 1zm1 0zm2 0zm5 0zm5 0zm4 0zm2 0zm-27 1zm3 0zm3 0zm3 0zm9 0zm2 0zm17 0zm3 0zm-57 1zm10 0zm11 0zm10 0zm9 0zm11 0zm-48 1zm4 0zm22 0zm12 0zm2 0zm8 0zm19 0zm6 0zm-68 1zm8 0zm7 0zm2 0zm1 0zm6 0zm5 0zm3 0zm-21 1zm4 0zm1 0zm15 0zm11 0zm11 0zm7 0zm-66 1zm2 0zm11 0zm7 0zm19 0zm3 0zm1 0zm1 0zm4 0zm-29 1zm9 0zm4 0zm5 0zm3 0zm5 0zm7 0zm3 0zm5 0zm-62 1zm2 0zm10 0zm7 0zm8 0zm3 0zm6 0zm2 0zm8 0zm2 0zm2 0zm2 0zm-47 1zm3 0zm8 0zm9 0zm13 0zm11 0zm4 0zm-36 1zm1 0zm6 0zm4 0zm1 0zm2 0zm1 0zm7 0zm4 0zm5 0zm4 0zm-44 1zm5 0zm4 0zm5 0zm2 0zm2 0zm19 0zm-20 1zm23 0zm1 0zm11 0zm-57 1zm5 0zm3 0zm7 0zm4 0zm11 0zm6 0zm8 0zm1 0zm6 0zm-44 1zm2 0zm5 0zm1 0zm6 0zm1 0zm5 0zm9 0zm7 0zm5 0zm3 0zm-52 1zm11 0zm30 0zm3 0zm-29 1zm8 0zm9 0zm4 0zm3 0zm2 0zm7 0zm2 0zm3 0zm-50 1zm13 0zm1 0zm13 0zm13 0zm2 0zm6 0zm2 0zm2 0zm-38 1zm10 0zm4 0zm2 0zm2 0zm1 0zm7 0zm6 0zm1 0zm5 0zm-57 1zm1 0zm9 0zm4 0zm6 0zm1 0zm11 0zm1 0zm16 0zm-45 1zm5 0zm14 0zm1 0zm6 0zm17 0zm8 0zm-44 1zm4 0zm6 0zm3 0zm2 0zm1 0zm9 0zm5 0zm4 0zm1 0zm17 0zm1 0zm-42 1zm6 0zm5 0zm2 0zm8 0zm12 0zm-53 1zm15 0zm6 0zm4 0zm1 0zm5 0zm8 0zm3 0zm3 0zm4 0zm-43 1zm11 0zm1 0zm1 0zm14 0zm1 0zm1 0zm5 0zm-39 1zm4 0zm3 0zm19 0zm5 0zm9 0zm6 0zm12 0zm-53 1zm11 0zm6 0zm7 0zm1 0zm26 0zm-53 1zm14 0zm3 0zm3 0zm5 0zm4 0zm5 0zm2 0zm19 0zm-54 1zm2 0zm6 0zm9 0zm23 0zm4 0zm10 0zm-40 1zm3 0zm1 0zm8 0zm4 0zm2 0zm7 0zm2 0zm8 0zm5 0zm-64 1zm11 0zm2 0zm16 0zm4 0zm10 0zm1 0zm-29 1zm6 0zm22 0zm21 0zm6 0zm-61 1zm14 0zm8 0zm1 0zm9 0zm7 0zm6 0zm21 0zm-64 1zm4 0zm6 0zm7 1zm8 0zm32 0zm-59 1zm5 0zm5 0zm1 0zm21 0zm3 0zm1 0zm-36 1zm31 0zm3 1zm2 0zm-26 1zm2 0zm29 0zm8 0zm15 0zm-31 1zm6 0zm-37 1zm2 0zm1 0zm12 0zm9 0zm3 0zm-29 1zm38 0zm-24 1zm1 0zm37 0zm-29 1zm7 0zm3 0zm11 0zm-35 1zm15 0zm2 0zm15 0zm7 0zm12 0zm-6 1zm-11 1zm-24 1zm11 0zm-8 1zm1 0zm7 0zm2 0zm-31 2zm6 0zm51 1zm-34 1zm-23 1zm7 0zm15 0zm17 1z" stroke="#5a5abc" stroke-width="2" stroke-opacity="0.7" stroke-linecap="square" fill="none"/>
<path transform="scale(.5)" d="M350 1441zm26 0zm-10 1zm8 0zm1 0zm2 0zm1 0zm2 0zm1 0zm-30 1zm1 0zm10 0zm2 0zm5 0zm2 0zm4 0zm8 0zm8 0zm-26 1zm8 0zm2 0zm7 0zm-47 1zm14 0zm6 0zm5 0zm8 0zm11 0zm20 0zm-39 1zm20 0zm16 0zm2 0zm-66 1zm22 0zm2 0zm1 0zm1 0zm1 0zm18 0zm5 0zm9 0zm3 0zm-56 1zm6 0zm8 0zm1 0zm14 0zm2 0zm2 0zm4 0zm1 0zm5 0zm1 0zm16 0zm-59 1zm12 0zm16 0zm1 0zm13 0zm3 0zm1 0zm9 0zm-46 1zm2 0zm1 0zm2 0zm16 0zm2 0zm7 0zm1 0zm4 0zm6 0zm4 0zm-62 1zm17 0zm1 0zm5 0zm2 0zm2 0zm2 0zm22 0zm10 0zm-47 1zm1 0zm5 0zm1 0zm2 0zm1 0zm7 0zm2 0zm3 0zm1 0zm6 0zm4 0zm1 0zm5 0zm-36 1zm4 0zm7 0zm6 0zm3 0zm9 0zm1 0zm4 0zm-46 1zm5 0zm15 0zm2 0zm9 0zm3 0zm2 0zm2 0zm2 0zm5 0zm2 0zm8 0zm5 0zm1 0zm2 0zm3 0zm-59 1zm10 0zm2 0zm9 0zm1 0zm3 0zm4 0zm4 0zm2 0zm6 0zm4 0zm5 0zm2 0zm-66 1zm16 0zm10 0zm3 0zm13 0zm2 0zm1 0zm2 0zm3 0zm7 0zm9 0zm-61 1zm6 0zm2 0zm1 0zm6 0zm5 0zm5 0zm1 0zm1 0zm1 0zm2 0zm2 0zm1 0zm1 0zm1 0zm2 0zm2 0zm1 0zm1 0zm4 0zm1 0zm1 0zm3 0zm1 0zm1 0zm2 0zm5 0zm1 0zm-72 1zm3 0zm19 0zm2 0zm9 0zm2 0zm2 0zm4 0zm1 0zm1 0zm2 0zm1 0zm3 0zm1 0zm1 0zm1 0zm1 0zm1 0zm1 0zm1 0zm2 0zm5 0zm6 0zm3 0zm2 0zm-78 1zm5 0zm14 0zm6 0zm2 0zm6 0zm2 0zm2 0zm5 0zm1 0zm2 0zm1 0zm1 0zm1 0zm1 0zm2 0zm4 0zm4 0zm7 0zm1 0zm2 0zm3 0zm2 0zm3 0zm5 0zm-57 1zm5 0zm2 0zm4 0zm7 0zm3 0zm1 0zm2 0zm3 0zm1 0zm1 0zm3 0zm3 0zm2 0zm4 0zm1 0zm1 0zm2 0zm3 0zm5 0zm6 0zm-63 1zm5 0zm2 0zm1 0zm2 0zm3 0zm2 0zm3 0zm1 0zm5 0zm1 0zm2 0zm2 0zm1 0zm1 0zm3 0zm5 0zm3 0zm1 0zm5 0zm4 0zm-45 1zm5 0zm7 0zm3 0zm1 0zm4 0zm5 0zm2 0zm1 0zm1 0zm2 0zm3 0zm2 0zm1 0zm1 0zm2 0zm1 0zm1 0zm5 0zm-61 1zm10 0zm2 0zm6 0zm2 0zm1 0zm2 0zm1 0zm2 0zm4 0zm1 0zm1 0zm2 0zm1 0zm1 0zm2 0zm3 0zm2 0zm2 0zm6 0zm1 0zm3 0zm2 0zm7 0zm5 0zm-79 1zm14 0zm3 0zm3 0zm6 0zm6 0zm4 0zm2 0zm2 0zm4 0zm1 0zm1 0zm4 0zm2 0zm3 0zm3 0zm4 0zm9 0zm1 0zm2 0zm4 0zm-78 1zm2 0zm15 0zm5 0zm1 0zm2 0zm7 0zm2 0zm1 0zm3 0zm1 0zm3 0zm1 0zm3 0zm2 0zm1 0zm1 0zm3 0zm2 0zm2 0zm1 0zm3 0zm1 0zm5 0zm2 0zm2 0zm2 0zm-61 1zm12 0zm1 0zm2 0zm5 0zm2 0zm3 0zm2 0zm2 0zm3 0zm2 0zm2 0zm1 0zm2 0zm1 0zm1 0zm1 0zm2 0zm1 0zm1 0zm2 0zm4 0zm1 0zm1 0zm1 0zm11 0zm-71 1zm14 0zm5 0zm1 0zm6 0zm1 0zm4 0zm1 0zm1 0zm3 0zm1 0zm6 0zm3 0zm1 0zm2 0zm6 0zm2 0zm3 0zm-56 1zm12 0zm4 0zm1 0zm5 0zm2 0zm1 0zm1 0zm1 0zm1 0zm1 0zm5 0zm1 0zm1 0zm1 0zm1 0zm1 0zm1 0zm2 0zm1 0zm4 0zm1 0zm5 0zm1 0zm1 0zm1 0zm-43 1zm2 0zm3 0zm2 0zm8 0zm3 0zm3 0zm1 0zm3 0zm1 0zm1 0zm2 0zm4 0zm1 0zm1 0zm2 0zm1 0zm1 0zm4 0zm4 0zm7 0zm-71 1zm2 0zm17 0zm4 0zm3 0zm1 0zm1 0zm4 0zm2 0zm3 0zm1 0zm3 0zm1 0zm3 0zm1 0zm1 0zm3 0zm1 0zm1 0zm2 0zm2 0zm2 0zm11 0zm6 0zm-68 1zm2 0zm1 0zm1 0zm3 0zm3 0zm2 0zm2 0zm1 0zm3 0zm2 0zm1 0zm1 0zm2 0zm4 0zm1 0zm3 0zm2 0zm2 0zm2 0zm1 0zm1 0zm4 0zm1 0zm5 0zm1 0zm2 0zm5 0zm5 0zm-55 1zm1 0zm1 0zm5 0zm1 0zm1 0zm2 0zm1 0zm2 0zm2 0zm1 0zm4 0zm3 0zm4 0zm2 0zm3 0zm2 0zm1 0zm4 0zm6 0zm1 0zm4 0zm3 0zm-52 1zm1 0zm3 0zm2 0zm1 0zm2 0zm5 0zm6 0zm1 0zm2 0zm3 0zm1 0zm2 0zm2 0zm4 0zm1 0zm1 0zm2 0zm2 0zm1 0zm4 0zm1 0zm-55 1zm8 0zm1 0zm1 0zm1 0zm7 0zm1 0zm1 0zm4 0zm2 0zm1 0zm1 0zm1 0zm1 0zm1 0zm3 0zm1 0zm1 0zm2 0zm2 0zm1 0zm1 0zm1 0zm1 0zm1 0zm2 0zm9 0zm2 0zm-56 1zm5 0zm1 0zm1 0zm1 0zm2 0zm3 0zm4 0zm3 0zm1 0zm1 0zm1 0zm1 0zm3 0zm1 0zm1 0zm7 0zm1 0zm1 0zm5 0zm4 0zm1 0zm1 0zm2 0zm5 0zm5 0zm-77 1zm8 0zm5 0zm5 0zm1 0zm8 0zm6 0zm3 0zm3 0zm2 0zm1 0zm3 0zm1 0zm4 0zm1 0zm1 0zm1 0zm2 0zm3 0zm2 0zm1 0zm2 0zm1 0zm4 0zm2 0zm2 0zm5 0zm2 0zm-65 1zm1 0zm3 0zm2 0zm1 0zm3 0zm1 0zm2 0zm1 0zm4 0zm5 0zm2 0zm2 0zm1 0zm1 0zm1 0zm1 0zm1 0zm2 0zm3 0zm3 0zm6 0zm1 0zm1 0zm1 0zm3 0zm6 0zm7 0zm-59 1zm3 0zm5 0zm3 0zm1 0zm1 0zm4 0zm4 0zm1 0zm3 0zm1 0zm1 0zm2 0zm1 0zm1 0zm1 0zm3 0zm2 0zm3 0zm2 0zm3 0zm5 0zm4 0zm2 0zm-51 1zm2 0zm1 0zm2 0zm1 0zm2 0zm2 0zm1 0zm1 0zm4 0zm1 0zm1 0zm4 0zm1 0zm2 0zm1 0zm2 0zm1 0zm2 0zm2 0zm1 0zm2 0zm1 0zm3 0zm3 0zm8 0zm1 0zm-75 1zm1 0zm4 0zm18 0zm1 0zm1 0zm13 0zm2 0zm1 0zm4 0zm1 0zm2 0zm1 0zm2 0zm7 0zm1 0zm2 0zm1 0zm5 0zm5 0zm6 0zm-67 1zm4 0zm5 0zm3 0zm3 0zm2 0zm4 0zm4 0zm1 0zm1 0zm1 0zm1 0zm4 0zm1 0zm2 0zm1 0zm1 0zm1 0zm2 0zm4 0zm4 0zm1 0zm2 0zm3 0zm-45 1zm4 0zm2 0zm2 0zm1 0zm1 0zm2 0zm3 0zm1 0zm1 0zm1 0zm2 0zm2 0zm2 0zm2 0zm3 0zm1 0zm1 0zm1 0zm1 0zm1 0zm1 0zm1 0zm3 0zm1 0zm1 0zm2 0zm1 0zm4 0zm9 0zm-59 1zm2 0zm1 0zm6 0zm2 0zm3 0zm1 0zm1 0zm1 0zm1 0zm1 0zm1 0zm2 0zm2 0zm1 0zm1 0zm1 0zm2 0zm1 0zm1 0zm1 0zm4 0zm2 0zm2 0zm1 0zm1 0zm1 0zm2 0zm2 0zm5 0zm-60 1zm2 0zm2 0zm5 0zm3 0zm2 0zm6 0zm2 0zm1 0zm1 0zm1 0zm1 0zm1 0zm4 0zm1 0zm1 0zm2 0zm1 0zm1 0zm1 0zm1 0zm3 0zm1 0zm2 0zm1 0zm1 0zm1 0zm6 0zm2 0zm2 0zm4 0zm1 0zm-62 1zm3 0zm5 0zm2 0zm1 0zm1 0zm4 0zm2 0zm1 0zm4 0zm1 0zm1 0zm1 0zm3 0zm1 0zm1 0zm3 0zm1 0zm3 0zm2 0zm1 0zm1 0zm1 0zm2 0zm1 0zm3 0zm4 0zm2 0zm3 0zm-62 1zm5 0zm6 0zm6 0zm1 0zm3 0zm1 0zm1 0zm4 0zm2 0zm2 0zm2 0zm2 0zm1 0zm3 0zm1 0zm1 0zm1 0zm2 0zm2 0zm2 0zm2 0zm1 0zm2 0zm1 0zm1 0zm1 0zm5 0zm-40 1zm1 0zm1 0zm1 0zm3 0zm3 0zm3 0zm1 0zm1 0zm1 0zm2 0zm1 0zm1 0zm3 0zm1 0zm1 0zm3 0zm4 0zm4 0zm7 0zm5 0zm-83 1zm23 0zm5 0zm2 0zm9 0zm2 0zm2 0zm1 0zm2 0zm1 0zm1 0zm1 0zm1 0zm1 0zm1 0zm1 0zm1 0zm2 0zm2 0zm1 0zm1 0zm5 0zm1 0zm4 0zm2 0zm5 0zm6 0zm1 0zm-62 1zm2 0zm3 0zm3 0zm1 0zm1 0zm3 0zm4 0zm1 0zm2 0zm3 0zm1 0zm2 0zm1 0zm3 0zm1 0zm1 0zm1 0zm1 0zm2 0zm3 0zm1 0zm2 0zm1 0zm2 0zm1 0zm2 0zm4 0zm2 0zm1 0zm4 0zm-77 1zm15 0zm2 0zm9 0zm1 0zm7 0zm1 0zm1 0zm4 0zm2 0zm1 0zm2 0zm1 0zm2 0zm1 0zm1 0zm2 0zm3 0zm2 0zm1 0zm1 0zm2 0zm3 0zm1 0zm1 0zm1 0zm1 0zm5 0zm3 0zm6 0zm-72 1zm3 0zm3 0zm5 0zm1 0zm1 0zm3 0zm2 0zm1 0zm3 0zm3 0zm2 0zm2 0zm3 0zm3 0zm1 0zm4 0zm2 0zm3 0zm1 0zm1 0zm2 0zm1 0zm1 0zm3 0zm3 0zm3 0zm6 0zm-72 1zm11 0zm1 0zm1 0zm13 0zm1 0zm2 0zm1 0zm2 0zm1 0zm1 0zm1 0zm1 0zm2 0zm1 0zm2 0zm1 0zm1 0zm1 0zm1 0zm2 0zm1 0zm3 0zm1 0zm3 0zm1 0zm2 0zm2 0zm4 0zm3 0zm5 0zm6 0zm-63 1zm1 0zm3 0zm6 0zm3 0zm1 0zm4 0zm1 0zm1 0zm1 0zm1 0zm1 0zm3 0zm2 0zm1 0zm2 0zm2 0zm2 0zm1 0zm5 0zm1 0zm3 0zm4 0zm3 0zm-50 1zm4 0zm2 0zm6 0zm2 0zm3 0zm2 0zm2 0zm2 0zm1 0zm1 0zm1 0zm1 0zm2 0zm2 0zm1 0zm1 0zm2 0zm1 0zm1 0zm2 0zm4 0zm5 0zm12 0zm-66 1zm3 0zm1 0zm8 0zm1 0zm1 0zm5 0zm5 0zm2 0zm1 0zm3 0zm2 0zm1 0zm2 0zm3 0zm3 0zm5 0zm1 0zm2 0zm3 0zm1 0zm3 0zm9 0zm-61 1zm3 0zm4 0zm3 0zm5 0zm2 0zm6 0zm1 0zm3 0zm4 0zm5 0zm1 0zm3 0zm1 0zm1 0zm1 0zm3 0zm12 0zm-53 1zm4 0zm1 0zm1 0zm3 0zm1 0zm2 0zm1 0zm2 0zm1 0zm1 0zm2 0zm1 0zm1 0zm3 0zm3 0zm1 0zm2 0zm12 0zm3 0zm11 0zm-87 1zm35 0zm1 0zm1 0zm4 0zm1 0zm1 0zm3 0zm5 0zm2 0zm5 0zm3 0zm2 0zm2 0zm3 0zm1 0zm2 0zm1 0zm5 0zm7 0zm-65 1zm1 0zm2 0zm16 0zm3 0zm1 0zm1 0zm2 0zm3 0zm2 0zm1 0zm1 0zm4 0zm2 0zm2 0zm2 0zm2 0zm1 0zm2 0zm3 0zm1 0zm2 0zm2 0zm3 0zm-40 1zm7 0zm1 0zm3 0zm1 0zm1 0zm2 0zm1 0zm5 0zm1 0zm1 0zm1 0zm1 0zm1 0zm3 0zm4 0zm10 0zm-66 1zm8 0zm3 0zm1 0zm6 0zm3 0zm2 0zm1 0zm1 0zm2 0zm6 0zm4 0zm2 0zm1 0zm2 0zm3 0zm4 0zm2 0zm1 0zm12 0zm2 0zm5 0zm-64 1zm5 0zm3 0zm6 0zm1 0zm1 0zm3 0zm1 0zm1 0zm3 0zm1 0zm5 0zm5 0zm8 0zm3 0zm2 0zm1 0zm1 0zm6 0zm2 0zm2 0zm4 0zm-70 1zm23 0zm8 0zm1 0zm1 0zm2 0zm2 0zm9 0zm7 0zm1 0zm3 0zm-62 1zm4 0zm10 0zm9 0zm1 0zm12 0zm7 0zm3 0zm1 0zm2 0zm1 0zm1 0zm2 0zm1 0zm3 0zm1 0zm2 0zm2 0zm3 0zm1 0zm-24 1zm6 0zm2 0zm15 0zm-59 1zm6 0zm3 0zm4 0zm8 0zm4 0zm1 0zm5 0zm2 0zm19 0zm10 0zm-58 1zm6 0zm3 0zm2 0zm8 0zm1 0zm6 0zm1 0zm2 0zm2 0zm10 0zm1 0zm11 0zm-47 1zm9 0zm10 0zm8 0zm2 0zm2 0zm1 0zm1 0zm4 0zm1 0zm15 0zm2 0zm-65 1zm6 0zm10 0zm2 0zm2 0zm5 0zm6 0zm4 0zm3 0zm3 0zm6 0zm3 0zm1 0zm-32 1zm3 0zm14 0zm3 0zm5 0zm1 0zm4 0zm11 0zm-47 1zm13 0zm1 0zm1 0zm1 0zm2 0zm1 0zm6 0zm8 0zm-44 1zm7 0zm15 0zm3 0zm7 0zm2 0zm5 0zm3 0zm2 0zm13 0zm6 0zm-55 1zm19 0zm2 0zm1 0zm2 0zm2 0zm6 0zm3 0zm2 0zm2 0zm6 0zm4 0zm3 0zm-49 1zm1 0zm9 0zm10 0zm10 0zm20 0zm2 0zm-54 1zm16 0zm5 0zm10 0zm7 0zm2 0zm-37 1zm14 0zm6 0zm9 0zm1 0zm28 0zm-50 1zm17 0zm6 0zm5 0zm9 0zm-42 1zm1 0zm6 1zm9 0zm2 0zm1 0zm10 0zm8 0zm2 0zm-39 1zm11 0zm14 0zm4 0zm21 0zm-61 1zm5 0zm24 0zm8 0zm3 0zm3 0zm5 0zm-15 1zm4 0zm14 0zm8 0zm-24 1zm-1 1zm14 1zm-27 1zm1 1zm14 0zm-1 1zm-9 4zm2 0zm10 3zm-18 1zm-11 3z" stroke="#3c3cbc" stroke-width="2" stroke-opacity="0.82" stroke-linecap="square" fill="none"/>
<path transform="scale(.5)" d="M422 1443zm8 0zm29 0zm-27 1zm5 0zm5 0zm-1 1zm1 0zm8 0zm10 0zm-29 1zm2 0zm3 0zm8 0zm6 0zm-14 1zm-6 1zm9 0zm2 0zm11 0zm9 0zm-58 1zm28 1zm2 0zm5 0zm11 0zm-23 1zm1 0zm13 0zm8 0zm-20 1zm7 0zm7 0zm1 0zm1 0zm3 0zm7 0zm13 0zm-41 1zm3 0zm8 0zm8 0zm1 0zm1 0zm9 0zm-25 1zm19 0zm-33 1zm6 0zm10 0zm6 0zm4 0zm1 0zm2 0zm1 0zm11 0zm14 0zm-41 1zm4 0zm3 0zm6 0zm5 0zm4 0zm13 0zm-38 1zm3 0zm1 0zm9 0zm1 0zm2 0zm2 0zm7 0zm10 0zm6 0zm-38 1zm1 0zm2 0zm4 0zm1 0zm1 0zm3 0zm7 0zm2 0zm6 0zm3 0zm10 0zm-56 1zm14 0zm6 0zm1 0zm4 0zm4 0zm2 0zm7 0zm-16 1zm2 0zm1 0zm5 0zm6 0zm2 0zm-17 1zm1 0zm1 0zm3 0zm5 0zm4 0zm4 0zm-32 1zm6 0zm12 0zm3 0zm3 0zm3 0zm3 0zm-24 1zm3 0zm4 0zm13 0zm5 0zm8 0zm-41 1zm10 0zm12 0zm2 0zm3 0zm6 0zm1 0zm1 0zm2 0zm-51 1zm24 0zm1 0zm9 0zm2 0zm5 0zm3 0zm2 0zm4 0zm2 0zm2 0zm3 0zm-41 1zm4 0zm3 0zm5 0zm4 0zm6 0zm2 0zm3 0zm2 0zm2 0zm4 0zm4 0zm15 0zm-48 1zm1 0zm1 0zm1 0zm8 0zm1 0zm1 0zm2 0zm1 0zm5 0zm1 0zm3 0zm1 0zm4 0zm6 0zm4 0zm1 0zm-59 1zm5 0zm11 0zm4 0zm4 0zm1 0zm2 0zm3 0zm7 0zm14 0zm5 0zm7 0zm-48 1zm3 0zm3 0zm4 0zm1 0zm15 0zm2 0zm3 0zm2 0zm2 0zm-39 1zm5 0zm6 0zm4 0zm17 0zm3 0zm1 0zm6 0zm3 0zm-43 1zm8 0zm3 0zm1 0zm17 0zm1 0zm1 0zm2 0zm4 0zm1 0zm1 0zm1 0zm-46 1zm2 0zm1 0zm5 0zm1 0zm2 0zm2 0zm2 0zm-10 1zm8 0zm1 0zm1 0zm22 0zm8 0zm2 0zm-45 1zm3 0zm3 0zm6 0zm2 0zm22 0zm11 0zm-39 1zm5 0zm26 0zm12 0zm-67 1zm22 0zm2 0zm4 0zm1 0zm-8 1zm2 0zm1 0zm1 0zm2 0zm1 0zm27 0zm5 0zm4 0zm-54 1zm7 0zm6 0zm3 0zm2 0zm25 0zm-37 1zm7 0zm1 0zm2 0zm28 0zm4 0zm10 0zm-53 1zm12 0zm29 0zm3 0zm1 0zm2 0zm2 0zm-41 1zm34 0zm1 0zm1 0zm-41 1zm2 0zm5 0zm37 0zm-40 1zm3 0zm1 0zm30 0zm2 0zm-32 1zm31 0zm4 0zm1 0zm-37 1zm31 0zm-33 1zm35 0zm7 0zm-48 1zm8 0zm30 0zm1 0zm-41 1zm7 0zm3 0zm32 0zm1 0zm7 0zm1 0zm5 0zm-55 1zm2 0zm5 0zm1 0zm33 0zm1 0zm-43 1zm5 0zm1 0zm38 0zm-39 1zm4 0zm1 0zm31 0zm2 0zm3 0zm1 0zm-50 1zm4 0zm4 0zm2 0zm40 0zm-43 1zm1 0zm1 0zm-6 1zm9 0zm1 0zm32 0zm-46 1zm5 0zm1 0zm4 0zm1 0zm37 0zm-46 1zm12 0zm33 0zm1 0zm5 0zm1 0zm-46 1zm2 0zm3 0zm31 0zm2 0zm-35 1zm1 0zm2 0zm31 0zm5 0zm2 0zm2 0zm-44 1zm2 0zm1 0zm1 0zm33 0zm9 0zm-61 1zm12 0zm6 0zm3 0zm28 0zm-42 1zm4 0zm1 0zm4 0zm2 0zm2 0zm30 0zm5 0zm3 0zm-7 1zm1 0zm2 0zm-44 1zm5 0zm35 0zm6 0zm-39 1zm3 0zm30 0zm-53 1zm16 0zm3 0zm3 0zm1 0zm2 0zm28 0zm2 0zm12 0zm1 0zm-61 1zm2 0zm13 0zm29 0zm1 0zm1 0zm6 0zm5 0zm-41 1zm1 0zm27 0zm1 0zm-39 1zm10 0zm28 0zm6 0zm5 0zm-57 1zm16 0zm31 0zm1 0zm10 0zm3 0zm4 0zm-44 1zm1 0zm21 0zm2 0zm2 0zm7 0zm2 0zm-43 1zm34 0zm7 0zm-40 1zm2 0zm2 0zm1 0zm1 0zm3 0zm31 0zm1 0zm-41 1zm8 0zm2 0zm35 0zm-41 1zm23 0zm23 0zm-64 1zm10 0zm32 0zm5 0zm-41 1zm12 0zm3 0zm2 0zm2 0zm2 0zm3 0zm8 0zm1 0zm3 0zm1 0zm3 0zm2 0zm-23 1zm4 0zm2 0zm3 0zm2 0zm1 0zm4 0zm1 0zm8 0zm-31 1zm3 0zm2 0zm2 0zm4 0zm3 0zm1 0zm3 0zm-31 1zm11 0zm1 0zm1 0zm4 0zm4 0zm14 0zm-31 1zm5 0zm8 0zm4 0zm1 0zm1 0zm6 0zm4 0zm1 0zm5 0zm-29 1zm11 0zm10 0zm-32 1zm7 0zm6 0zm13 0zm2 0zm1 0zm4 0zm2 0zm7 0zm11 0zm-32 1zm5 0zm14 0zm-12 1zm-21 1zm11 0zm3 0zm7 0zm5 0zm6 0zm-31 1zm7 0zm4 0zm5 0zm4 0zm6 0zm10 0zm-28 1zm1 0zm1 0zm1 0zm1 0zm2 0zm16 0zm-21 1zm4 0zm1 0zm12 0zm1 0zm9 0zm-27 1zm3 0zm11 0zm4 0zm2 1zm2 0zm8 0z" stroke="#3c3cbc" stroke-width="2" stroke-opacity="0.82" stroke-linecap="square" fill="none"/>
<path transform="scale(.5)" d="M406 1451zm-31 1zm126 2zm-108 2zm15 7zm24 1zm21 1zm-21 1zm-2 2zm-39 1zm17 1zm10 0zm-76 1zm34 0zm124 1zm4 0zm-94 1zm-24 4zm87 1zm-57 1zm-98 2zm33 0zm69 2zm-24 1zm12 0zm-70 3zm-10 1zm37 1zm46 0zm17 0zm63 0zm11 0zm4 1zm-84 5zm52 4zm-147 2zm132 1zm-43 1zm-24 11zm-38 2zm79 3zm-16 4zm-66 2zm143 1zm-83 10z" stroke="#7a7ac4" stroke-width="2" stroke-opacity="0.6" stroke-linecap="square" fill="none"/>
</g>
<g filter="url(#rough)">
<ellipse cx="184.5" cy="741" rx="11.5" ry="15" fill="#2e36c6" fill-opacity="0.4"/>
<ellipse cx="187" cy="745.5" rx="8.5" ry="10" fill="#3060dc" fill-opacity="0.7"/>
<ellipse cx="188" cy="746.5" rx="5.5" ry="6.5" fill="#3f93e6" stroke="#16208a" stroke-width=".45" stroke-opacity=".75"/>
<ellipse cx="189" cy="747" rx="2.8" ry="3.4" fill="#52b4e6" stroke="#16208a" stroke-width=".45" stroke-opacity=".75"/>
<ellipse cx="221.5" cy="745" rx="10" ry="16" fill="#2e36c6" fill-opacity="0.5"/>
<ellipse cx="221.8" cy="746" rx="8.4" ry="13.4" fill="#3d7fe8" stroke="#16208a" stroke-width=".45" stroke-opacity=".75"/>
<ellipse cx="222.2" cy="747" rx="6.6" ry="10.6" fill="#4ac6e4" stroke="#16208a" stroke-width=".45" stroke-opacity=".75"/>
<ellipse cx="222.6" cy="747.8" rx="5.2" ry="8" fill="#4ee79b" stroke="#16208a" stroke-width=".45" stroke-opacity=".75"/>
<ellipse cx="222.8" cy="749" rx="3" ry="4.6" fill="#9cf070" stroke="#16208a" stroke-width=".45" stroke-opacity=".75"/>
<ellipse cx="222.8" cy="749.5" rx="1.4" ry="2.4" fill="#e8f060"/>
</g>
<path d="M145.4 716.1L183.3 711.9L207.2 722.5L195.2 771" fill="none" stroke="#555" stroke-width="0.9"/>
<path d="M208.5 722.5L223.1 715.4L260.2 718.5L256.2 767.6L227.1 767.6L202.7 761Z" fill="none" stroke="#555" stroke-width="0.9"/>
</g>
<path d="M145.4 650.4H264.2V771" fill="none" stroke="#8a8a8a" stroke-width="1"/>
<path d="M145.4 650.4V771H264.2" fill="none" stroke="#2a2a2a" stroke-width="1.1"/>
<text x="140.9" y="659.4" font-size="8" fill="#333" text-anchor="end">250 K</text>
<text x="140.9" y="682.2" font-size="8" fill="#333" text-anchor="end">200 K</text>
<text x="140.9" y="705.2" font-size="8" fill="#333" text-anchor="end">150 K</text>
<text x="140.9" y="728.5" font-size="8" fill="#333" text-anchor="end">100 K</text>
<text x="140.9" y="751.4" font-size="8" fill="#333" text-anchor="end">50 K</text>
<text x="140.9" y="773.5" font-size="8" fill="#333" text-anchor="end">0</text>
<path d="M145.4 656.5h-3M145.4 679.3h-3M145.4 702.3h-3M145.4 725.6h-3M145.4 748.5h-3M145.4 770.6h-3M145.4 661.1h-1.6M145.4 665.6h-1.6M145.4 670.2h-1.6M145.4 674.8h-1.6M145.4 683.9h-1.6M145.4 688.4h-1.6M145.4 693h-1.6M145.4 697.6h-1.6M145.4 706.7h-1.6M145.4 711.3h-1.6M145.4 715.8h-1.6M145.4 720.4h-1.6M145.4 729.5h-1.6M145.4 734.1h-1.6M145.4 738.7h-1.6M145.4 743.2h-1.6M145.4 752.3h-1.6M145.4 756.9h-1.6M145.4 761.5h-1.6M145.4 766h-1.6" stroke="#2a2a2a" stroke-width=".8" fill="none"/>
<text x="151.6" y="783.6" font-size="7.8" fill="#333">10<tspan dy="-3.1" font-size="5.7">0</tspan></text>
<text x="171" y="783.6" font-size="7.8" fill="#333">10<tspan dy="-3.1" font-size="5.7">1</tspan></text>
<text x="190.7" y="783.6" font-size="7.8" fill="#333">10<tspan dy="-3.1" font-size="5.7">2</tspan></text>
<text x="210.4" y="783.6" font-size="7.8" fill="#333">10<tspan dy="-3.1" font-size="5.7">3</tspan></text>
<text x="230" y="783.6" font-size="7.8" fill="#333">10<tspan dy="-3.1" font-size="5.7">4</tspan></text>
<text x="249.7" y="783.6" font-size="7.8" fill="#333">10<tspan dy="-3.1" font-size="5.7">5</tspan></text>
<path d="M157.6 771v3M177 771v3M196.7 771v3M216.4 771v3M236 771v3M255.7 771v3M147.5 771v1.5M149.9 771v1.5M151.8 771v1.5M153.3 771v1.5M154.6 771v1.5M155.7 771v1.5M156.7 771v1.5M163.4 771v1.5M166.9 771v1.5M169.3 771v1.5M171.2 771v1.5M172.7 771v1.5M174 771v1.5M175.1 771v1.5M176.1 771v1.5M182.9 771v1.5M186.4 771v1.5M188.9 771v1.5M190.8 771v1.5M192.3 771v1.5M193.6 771v1.5M194.8 771v1.5M195.8 771v1.5M202.6 771v1.5M206.1 771v1.5M208.6 771v1.5M210.5 771v1.5M212 771v1.5M213.3 771v1.5M214.5 771v1.5M215.5 771v1.5M222.3 771v1.5M225.8 771v1.5M228.2 771v1.5M230.1 771v1.5M231.7 771v1.5M233 771v1.5M234.1 771v1.5M235.1 771v1.5M241.9 771v1.5M245.4 771v1.5M247.9 771v1.5M249.8 771v1.5M251.3 771v1.5M252.6 771v1.5M253.8 771v1.5M254.8 771v1.5M261.5 771v1.5" stroke="#2a2a2a" stroke-width=".7" fill="none"/>
<text x="176" y="694.7" font-size="12.3" fill="#111" text-anchor="middle" font-weight="bold">CD3-</text>
<text x="175.4" y="710" font-size="12.3" fill="#111" text-anchor="middle" font-weight="bold">49.2%</text>
<text x="241.7" y="697.6" font-size="12.3" fill="#111" text-anchor="middle" font-weight="bold">CD3+</text>
<text x="241.2" y="712.7" font-size="12.3" fill="#111" text-anchor="middle" font-weight="bold">49.6%</text>
<text x="211" y="643.8" font-size="16.5" fill="#000" text-anchor="middle" font-weight="bold">CD45+</text>
<text x="112" y="710" font-size="18" font-weight="bold" text-anchor="middle" fill="#000" transform="rotate(-90 112 710)">SSC-A</text>
<text x="197.9" y="801.5" font-size="18" fill="#000" text-anchor="middle" font-weight="bold">CD3</text>
<g clip-path="url(#c6)">
<path d="M567 773.2L567 772.5L567.6 771.3L568.2 772.6L568.8 772.2L569.4 772.3L570 772.1L570.6 771.2L571.2 771.1L571.8 772.5L572.4 771.5L573 772.3L573.6 771.5L574.2 771.1L574.8 771.4L575.4 771.3L576 770.9L576.6 771.1L577.2 771L577.8 770.9L578.4 771.7L579 771.3L579.6 770.6L580.2 770.9L580.8 770.6L581.4 770.9L582 770.6L582.6 770.4L583.2 770.4L583.8 770.1L584.4 769.5L585 770L585.6 769L586.2 769.1L586.8 770L587.4 769.2L588 769L588.6 768.9L589.2 769.3L589.8 767.5L590.4 768L591 767.9L591.6 766.6L592.2 766.3L592.8 765.9L593.4 765.8L594 764.5L594.6 764.8L595.2 764.7L595.8 763.3L596.4 762.8L597 764L597.6 762.6L598.2 762.3L598.8 761.8L599.4 760.8L600 760.6L600.6 759.8L601.2 757L601.8 757.6L602.4 755.5L603 753.6L603.6 749.4L604.2 751.8L604.8 746.6L605.4 746.6L606 742.7L606.6 738.3L607.2 738.6L607.8 735.5L608.4 728.8L609 722.3L609.6 726.1L610.2 717.8L610.8 715L611.4 708L612 704L612.6 698.7L613.2 699.4L613.8 697.7L614.4 689.6L615 692.6L615.6 693.7L616.2 681.9L616.8 688.9L617.4 687.6L618 691.9L618.6 684.4L619.2 688.5L619.8 688.8L620.4 699.4L621 699.9L621.6 706.4L622.2 717.1L622.8 719.4L623.4 722L624 730.6L624.6 729.9L625.2 736.6L625.8 743.4L626.4 743.7L627 747.8L627.6 753.8L628.2 753.5L628.8 755.4L629.4 757.7L630 759.7L630.6 760.1L631.2 761.3L631.8 763.5L632.4 765L633 764.9L633.6 766.5L634.2 766.7L634.8 766.6L635.4 766.9L636 767.1L636.6 767L637.2 766.6L637.8 767.1L638.4 767.3L639 768.1L639.6 768.6L640.2 768.7L640.8 767.6L641.4 768.4L642 767.7L642.6 768.9L643.2 768.6L643.8 767.8L644.4 768.2L645 768.5L645.6 767.9L646.2 768.9L646.8 769.5L647.4 768.8L648 768.6L648.6 768.2L649.2 769L649.8 767.8L650.4 768.9L651 767.3L651.6 768.4L652.2 768.5L652.8 767.3L653.4 767.2L654 767.2L654.6 767.5L655.2 766.7L655.8 766.4L656.4 766.3L657 765L657.6 763.6L658.2 762.9L658.8 761.2L659.4 757.5L660 753.5L660.6 747.9L661.2 741L661.8 737.3L662.4 727L663 719.6L663.6 706L664.2 699L664.8 684.7L665.4 681.8L666 667.1L666.6 668.3L667.2 661.4L667.8 655.9L668.4 657.2L669 671.4L669.6 685L670.2 695.6L670.8 702.3L671.4 716L672 729.5L672.6 740.9L673.2 749.3L673.8 754.9L674.4 759.4L675 761.5L675.6 763.6L676.2 766.5L676.8 765.7L677.4 767.8L678 768.2L678.6 768.2L679.2 768.9L679.8 770.2L680.4 771L681 771.8L681.6 772.6L682 773.2Z" fill="#0c10e2" stroke="#05053a" stroke-width=".7" stroke-linejoin="round"/>
<path d="M606 773.2L606 770.5L607.1 770L608.2 769.2L609.3 767.6L610.4 765.3L611.5 760.5L612.6 758.5L613.7 758.6L614.8 760.8L615.9 758.1L617 758.5L618.1 762.6L619.2 765.8L620.3 765.4L621.4 768.1L622.5 769.5L623.6 770.2L624.7 771.6L626 773.2Z" fill="#05055a" fill-opacity=".75"/>
</g>
<path d="M630.6 690.2H689.5M630.6 687.7v5" stroke="#666" stroke-width=".9" fill="none"/>
<path d="M564.9 649.1H689.5V773.7" fill="none" stroke="#8a8a8a" stroke-width="1"/>
<path d="M564.9 649.1V773.7H689.5" fill="none" stroke="#2a2a2a" stroke-width="1.1"/>
<text x="560.4" y="681.4" font-size="8" fill="#333" text-anchor="end">60</text>
<path d="M564.9 678.5h-3" stroke="#2a2a2a" stroke-width=".8"/>
<text x="560.4" y="713.3" font-size="8" fill="#333" text-anchor="end">40</text>
<path d="M564.9 710.4h-3" stroke="#2a2a2a" stroke-width=".8"/>
<text x="560.4" y="745" font-size="8" fill="#333" text-anchor="end">20</text>
<path d="M564.9 742.1h-3" stroke="#2a2a2a" stroke-width=".8"/>
<text x="560.4" y="776.6" font-size="8" fill="#333" text-anchor="end">0</text>
<path d="M564.9 773.7h-3" stroke="#2a2a2a" stroke-width=".8"/>
<text x="570" y="786.3" font-size="7.8" fill="#333">10<tspan dy="-3.1" font-size="5.7">0</tspan></text>
<text x="590.7" y="786.3" font-size="7.8" fill="#333">10<tspan dy="-3.1" font-size="5.7">1</tspan></text>
<text x="611.4" y="786.3" font-size="7.8" fill="#333">10<tspan dy="-3.1" font-size="5.7">2</tspan></text>
<text x="632.3" y="786.3" font-size="7.8" fill="#333">10<tspan dy="-3.1" font-size="5.7">3</tspan></text>
<text x="653" y="786.3" font-size="7.8" fill="#333">10<tspan dy="-3.1" font-size="5.7">4</tspan></text>
<text x="674.2" y="786.3" font-size="7.8" fill="#333">10<tspan dy="-3.1" font-size="5.7">5</tspan></text>
<path d="M576 773.7v3M596.7 773.7v3M617.4 773.7v3M638.3 773.7v3M659 773.7v3M680.2 773.7v3M567.8 773.7v1.5M569.8 773.7v1.5M571.4 773.7v1.5M572.8 773.7v1.5M574 773.7v1.5M575.1 773.7v1.5M582.2 773.7v1.5M585.9 773.7v1.5M588.5 773.7v1.5M590.5 773.7v1.5M592.1 773.7v1.5M593.5 773.7v1.5M594.7 773.7v1.5M595.8 773.7v1.5M602.9 773.7v1.5M606.6 773.7v1.5M609.2 773.7v1.5M611.2 773.7v1.5M612.8 773.7v1.5M614.2 773.7v1.5M615.4 773.7v1.5M616.5 773.7v1.5M623.7 773.7v1.5M627.4 773.7v1.5M630 773.7v1.5M632 773.7v1.5M633.7 773.7v1.5M635.1 773.7v1.5M636.3 773.7v1.5M637.3 773.7v1.5M644.5 773.7v1.5M648.2 773.7v1.5M650.8 773.7v1.5M652.8 773.7v1.5M654.4 773.7v1.5M655.8 773.7v1.5M657 773.7v1.5M658.1 773.7v1.5M665.4 773.7v1.5M669.1 773.7v1.5M671.8 773.7v1.5M673.8 773.7v1.5M675.5 773.7v1.5M676.9 773.7v1.5M678.1 773.7v1.5M679.2 773.7v1.5M686.4 773.7v1.5" stroke="#2a2a2a" stroke-width=".7" fill="none"/>
<text x="631.4" y="661.5" font-size="12.3" fill="#111" text-anchor="middle" font-weight="bold">Monocytes</text>
<text x="634.6" y="679.6" font-size="12.3" fill="#111" text-anchor="middle" font-weight="bold">34.0%</text>
<text x="627.2" y="643.8" font-size="16.5" fill="#000" text-anchor="middle" font-weight="bold">CD45+</text>
<text x="536.3" y="711.4" font-size="18" font-weight="bold" text-anchor="middle" fill="#000" transform="rotate(-90 536.3 711.4)">Count</text>
<text x="630.6" y="801.5" font-size="18" fill="#000" text-anchor="middle" font-weight="bold">CD14</text>
<g clip-path="url(#c7)">
<g filter="url(#haze)">
<ellipse cx="853" cy="698" rx="15" ry="7" fill="#5656dc" fill-opacity="0.45" transform="rotate(-14 853 698)"/>
</g>
<g filter="url(#rough)">
<path transform="scale(.5)" d="M1635 1399zm3 4zm22 0zm23 0zm1 6zm-15 1zm-54 1zm62 0zm-32 1zm12 1zm-62 1zm22 0zm19 0zm19 0zm22 0zm-47 1zm39 0zm2 1zm3 0zm4 0zm-9 1zm-17 1zm28 0zm-91 1zm12 0zm16 0zm45 0zm-52 1zm63 0zm17 0zm-78 1zm21 0zm34 0zm2 0zm1 0zm52 0zm-77 1zm23 0zm9 0zm-35 1zm8 0zm27 0zm-24 1zm7 0zm58 0zm-80 1zm17 1zm65 0zm-68 1zm10 0zm2 0zm2 1zm16 0zm-63 1zm20 0zm29 0zm8 0zm4 0zm22 1zm-115 1zm35 0zm20 0zm42 0zm11 0zm-67 1zm13 0zm30 0zm1 0zm45 0zm-111 1zm29 0zm3 0zm3 0zm28 0zm2 0zm3 0zm1 0zm10 0zm-69 1zm15 0zm8 0zm11 0zm19 0zm4 0zm-57 1zm16 0zm11 0zm2 0zm7 0zm2 0zm-22 1zm4 0zm20 0zm2 0zm5 0zm34 0zm-36 1zm36 0zm-99 1zm76 0zm2 0zm4 0zm55 0zm-65 1zm5 0zm19 0zm10 0zm-50 1zm-48 1zm24 0zm15 0zm41 0zm1 0zm12 0zm1 0zm-80 1zm25 0zm1 0zm3 0zm13 0zm10 0zm-57 1zm26 0zm26 0zm-80 1zm62 0zm13 0zm-33 1zm44 0zm12 0zm-47 1zm11 0zm5 0zm-25 1zm16 0zm8 0zm1 0zm43 0zm-81 1zm18 0zm13 0zm8 0zm16 0zm11 0zm5 0zm-66 1zm1 0zm34 0zm6 0zm9 0zm38 0zm-45 1zm6 0zm17 0zm-45 1zm3 0zm13 0zm1 0zm7 0zm11 0zm-12 1zm6 0zm11 0zm7 0zm-35 1zm7 0zm46 0zm-56 1zm34 0zm-25 1zm19 2zm-7 1zm-42 1zm18 0zm2 0zm2 0zm5 0zm3 0zm1 0zm23 0zm-64 1zm71 0zm7 0zm-71 1zm4 0zm20 0zm7 0zm4 0zm13 0zm-57 1zm37 0zm17 0zm-31 1zm20 0zm19 0zm1 0zm27 0zm-70 1zm8 0zm21 0zm18 0zm-53 1zm20 0zm-23 1zm60 0zm10 0zm-50 1zm16 0zm-7 1zm-11 1zm45 0zm-19 1zm19 1zm-16 1zm19 0zm-63 4zm55 1zm-46 2zm17 0zm-12 2zm-25 4zm76 1zm-56 1zm55 0z" stroke="#6e6ec8" stroke-width="2" stroke-opacity="0.6" stroke-linecap="square" fill="none"/>
<path transform="scale(.5)" d="M1732 1363zm-13 1zm-18 1zm20 0zm-6 2zm21 0zm-5 1zm7 0zm-36 2zm61 0zm-44 1zm-11 1zm12 0zm11 0zm3 0zm2 0zm13 0zm-51 1zm19 0zm4 0zm2 0zm35 0zm-50 1zm1 0zm5 0zm4 0zm8 0zm-48 1zm32 0zm1 0zm10 0zm16 0zm17 0zm-86 1zm35 0zm19 0zm2 0zm3 0zm-23 1zm2 0zm6 0zm4 0zm5 0zm14 0zm-39 1zm5 0zm2 0zm22 0zm23 0zm12 0zm-84 1zm5 0zm2 0zm15 0zm15 0zm16 0zm14 0zm-40 1zm1 0zm2 0zm6 0zm10 0zm3 0zm4 0zm-50 1zm12 0zm4 0zm2 0zm4 0zm7 0zm5 0zm10 0zm1 0zm13 0zm1 0zm3 0zm1 0zm-55 1zm4 0zm14 0zm1 0zm3 0zm3 0zm1 0zm4 0zm4 0zm3 0zm3 0zm9 0zm-64 1zm27 0zm8 0zm1 0zm6 0zm11 0zm14 0zm16 0zm-72 1zm7 0zm10 0zm3 0zm8 0zm9 0zm2 0zm1 0zm3 0zm3 0zm6 0zm19 0zm11 0zm-82 1zm19 0zm5 0zm1 0zm2 0zm6 0zm1 0zm1 0zm2 0zm9 0zm4 0zm1 0zm1 0zm8 0zm-62 1zm3 0zm10 0zm1 0zm4 0zm6 0zm1 0zm4 0zm1 0zm1 0zm2 0zm2 0zm2 0zm2 0zm6 0zm2 0zm6 0zm2 0zm-48 1zm1 0zm1 0zm9 0zm1 0zm1 0zm3 0zm5 0zm4 0zm1 0zm8 0zm10 0zm8 0zm10 0zm11 0zm-76 1zm2 0zm2 0zm8 0zm8 0zm6 0zm4 0zm12 0zm14 0zm9 0zm3 0zm-78 1zm1 0zm8 0zm4 0zm3 0zm2 0zm1 0zm4 0zm4 0zm1 0zm5 0zm1 0zm7 0zm19 0zm3 0zm-53 1zm4 0zm3 0zm1 0zm3 0zm2 0zm1 0zm1 0zm1 0zm3 0zm1 0zm1 0zm4 0zm2 0zm2 0zm1 0zm2 0zm2 0zm3 0zm4 0zm3 0zm2 0zm4 0zm1 0zm-57 1zm1 0zm3 0zm8 0zm1 0zm1 0zm2 0zm6 0zm6 0zm1 0zm5 0zm1 0zm1 0zm2 0zm2 0zm4 0zm2 0zm8 0zm4 0zm1 0zm-65 1zm8 0zm7 0zm3 0zm2 0zm1 0zm2 0zm4 0zm1 0zm2 0zm6 0zm1 0zm1 0zm3 0zm2 0zm8 0zm2 0zm1 0zm8 0zm-49 1zm2 0zm1 0zm2 0zm1 0zm2 0zm5 0zm1 0zm4 0zm2 0zm1 0zm2 0zm1 0zm5 0zm1 0zm4 0zm5 0zm4 0zm5 0zm11 0zm5 0zm-73 1zm1 0zm11 0zm4 0zm1 0zm1 0zm4 0zm1 0zm4 0zm1 0zm1 0zm1 0zm1 0zm7 0zm2 0zm1 0zm1 0zm5 0zm3 0zm1 0zm1 0zm2 0zm20 0zm-76 1zm10 0zm2 0zm1 0zm1 0zm1 0zm3 0zm2 0zm3 0zm1 0zm2 0zm1 0zm3 0zm1 0zm2 0zm12 0zm5 0zm1 0zm-49 1zm5 0zm2 0zm10 0zm4 0zm1 0zm1 0zm4 0zm1 0zm1 0zm1 0zm2 0zm2 0zm1 0zm1 0zm2 0zm3 0zm1 0zm5 0zm4 0zm8 0zm-51 1zm13 0zm2 0zm2 0zm3 0zm2 0zm3 0zm1 0zm1 0zm1 0zm4 0zm1 0zm3 0zm6 0zm2 0zm8 0zm-57 1zm8 0zm3 0zm1 0zm2 0zm5 0zm1 0zm1 0zm6 0zm1 0zm2 0zm1 0zm1 0zm2 0zm3 0zm13 0zm4 0zm3 0zm2 0zm-63 1zm1 0zm3 0zm4 0zm4 0zm3 0zm1 0zm2 0zm3 0zm1 0zm1 0zm1 0zm2 0zm1 0zm2 0zm1 0zm3 0zm1 0zm1 0zm4 0zm5 0zm3 0zm3 0zm5 0zm-61 1zm1 0zm10 0zm3 0zm4 0zm7 0zm4 0zm1 0zm9 0zm2 0zm2 0zm1 0zm3 0zm2 0zm2 0zm10 0zm-76 1zm16 0zm10 0zm1 0zm1 0zm1 0zm2 0zm2 0zm1 0zm4 0zm1 0zm6 0zm3 0zm2 0zm1 0zm5 0zm1 0zm1 0zm1 0zm2 0zm3 0zm1 0zm8 0zm2 0zm2 0zm-56 1zm4 0zm1 0zm1 0zm1 0zm1 0zm2 0zm1 0zm1 0zm1 0zm3 0zm1 0zm4 0zm5 0zm5 0zm2 0zm7 0zm2 0zm3 0zm1 0zm3 0zm2 0zm1 0zm8 0zm-87 1zm34 0zm12 0zm5 0zm4 0zm2 0zm1 0zm2 0zm1 0zm2 0zm10 0zm4 0zm30 0zm-84 1zm1 0zm3 0zm4 0zm3 0zm2 0zm2 0zm6 0zm9 0zm1 0zm1 0zm2 0zm5 0zm1 0zm1 0zm4 0zm4 0zm1 0zm2 0zm2 0zm-57 1zm5 0zm7 0zm2 0zm4 0zm4 0zm2 0zm2 0zm3 0zm4 0zm2 0zm2 0zm1 0zm3 0zm3 0zm2 0zm2 0zm2 0zm2 0zm5 0zm1 0zm4 0zm-70 1zm12 0zm6 0zm6 0zm8 0zm5 0zm2 0zm3 0zm3 0zm5 0zm1 0zm5 0zm3 0zm15 0zm-64 1zm4 0zm3 0zm2 0zm1 0zm4 0zm1 0zm5 0zm5 0zm1 0zm4 0zm6 0zm1 0zm7 0zm1 0zm9 0zm-46 1zm4 0zm5 0zm8 0zm1 0zm2 0zm1 0zm2 0zm1 0zm1 0zm1 0zm4 0zm1 0zm3 0zm10 0zm1 0zm1 0zm3 0zm-61 1zm8 0zm4 0zm4 0zm3 0zm12 0zm1 0zm1 0zm4 0zm4 0zm16 0zm2 0zm1 0zm-50 1zm4 0zm2 0zm1 0zm6 0zm2 0zm4 0zm1 0zm2 0zm2 0zm1 0zm1 0zm-32 1zm1 0zm20 0zm1 0zm3 0zm3 0zm12 0zm-25 1zm4 0zm2 0zm2 0zm1 0zm10 0zm2 0zm4 0zm3 0zm-49 1zm1 0zm3 0zm24 0zm2 0zm4 0zm6 0zm-28 1zm10 0zm5 0zm1 0zm6 0zm5 0zm3 0zm-41 1zm10 0zm12 0zm4 0zm14 0zm8 0zm-23 1zm6 0zm11 0zm5 0zm5 0zm-44 1zm8 0zm6 0zm-15 1zm1 0zm8 0zm7 0zm11 0zm1 0zm-15 3zm5 0zm1 0zm7 0zm6 0zm11 0zm-33 1zm8 0zm29 1zm-58 2zm13 0zm4 0zm5 0zm17 0zm-41 1zm18 0zm29 0zm-33 1zm-32 3zm53 0zm-10 2z" stroke="#3c3cbc" stroke-width="2" stroke-opacity="0.8" stroke-linecap="square" fill="none"/>
<path transform="scale(.5)" d="M1686 1403zm33 0zm9 1zm-39 1zm5 0zm25 1zm10 2zm4 0zm-38 1zm29 0zm2 0zm10 1zm-50 1zm15 0zm14 0zm-21 1zm13 0zm6 0zm3 0zm4 0zm6 0zm-43 1zm40 0zm-19 1zm2 0zm10 0zm-23 1zm20 0zm20 0zm6 0zm-59 1zm20 0zm3 0zm15 0zm3 0zm7 0zm-46 1zm12 0zm2 0zm18 0zm4 0zm4 0zm5 0zm9 0zm3 0zm-28 1zm3 0zm2 0zm18 0zm-34 1zm16 0zm3 0zm8 0zm-7 1zm15 0zm20 0zm-70 1zm26 0zm10 0zm-41 1zm32 0zm8 0zm15 0zm6 0zm-54 1zm38 1zm10 0zm24 0zm-71 1zm39 0zm-25 1zm5 0zm17 1zm1 1zm-17 1zm16 0zm1 1zm-26 5zm37 2z" stroke="#6e6ec8" stroke-width="2" stroke-opacity="0.6" stroke-linecap="square" fill="none"/>
</g>
<g filter="url(#rough)">
<ellipse cx="852.8" cy="697.2" rx="13.6" ry="6" fill="#2e36c6" fill-opacity="0.6" transform="rotate(-14 852.8 697.2)"/>
<ellipse cx="852.6" cy="697.2" rx="11.5" ry="4.9" fill="#3d7fe8" stroke="#16208a" stroke-width=".45" stroke-opacity=".75" transform="rotate(-14 852.6 697.2)"/>
<ellipse cx="852.2" cy="697.3" rx="8.4" ry="3.5" fill="#4ac6e4" stroke="#16208a" stroke-width=".45" stroke-opacity=".75" transform="rotate(-14 852.2 697.3)"/>
<ellipse cx="851.6" cy="697.4" rx="5.2" ry="2.3" fill="#4ee79b" stroke="#16208a" stroke-width=".45" stroke-opacity=".75" transform="rotate(-14 851.6 697.4)"/>
</g>
<path d="M836.6 649.8L890.1 649.8L887.6 709.5L875.2 714.9L839.1 713.9L832.2 702Z" fill="none" stroke="#555" stroke-width="0.9"/>
</g>
<path d="M765.3 649.3H890.1V774.1" fill="none" stroke="#8a8a8a" stroke-width="1"/>
<path d="M765.3 649.3V774.1H890.1" fill="none" stroke="#2a2a2a" stroke-width="1.1"/>
<text x="748.3" y="661.6" font-size="7.8" fill="#333">10<tspan dy="-3.1" font-size="5.7">5</tspan></text>
<text x="748.3" y="682.2" font-size="7.8" fill="#333">10<tspan dy="-3.1" font-size="5.7">4</tspan></text>
<text x="748.3" y="703.1" font-size="7.8" fill="#333">10<tspan dy="-3.1" font-size="5.7">3</tspan></text>
<text x="748.3" y="723.7" font-size="7.8" fill="#333">10<tspan dy="-3.1" font-size="5.7">2</tspan></text>
<text x="748.3" y="744.4" font-size="7.8" fill="#333">10<tspan dy="-3.1" font-size="5.7">1</tspan></text>
<text x="748.3" y="764.8" font-size="7.8" fill="#333">10<tspan dy="-3.1" font-size="5.7">0</tspan></text>
<path d="M765.3 658.5h-3M765.3 679.1h-3M765.3 700h-3M765.3 720.6h-3M765.3 741.3h-3M765.3 761.7h-3M765.3 652.3h-1.5M765.3 672.9h-1.5M765.3 669.3h-1.5M765.3 666.7h-1.5M765.3 664.7h-1.5M765.3 663.1h-1.5M765.3 661.7h-1.5M765.3 660.5h-1.5M765.3 659.4h-1.5M765.3 693.7h-1.5M765.3 690h-1.5M765.3 687.4h-1.5M765.3 685.4h-1.5M765.3 683.7h-1.5M765.3 682.3h-1.5M765.3 681.1h-1.5M765.3 680.1h-1.5M765.3 714.4h-1.5M765.3 710.8h-1.5M765.3 708.2h-1.5M765.3 706.2h-1.5M765.3 704.6h-1.5M765.3 703.2h-1.5M765.3 702h-1.5M765.3 700.9h-1.5M765.3 735.1h-1.5M765.3 731.4h-1.5M765.3 728.8h-1.5M765.3 726.8h-1.5M765.3 725.2h-1.5M765.3 723.8h-1.5M765.3 722.6h-1.5M765.3 721.5h-1.5M765.3 755.6h-1.5M765.3 752h-1.5M765.3 749.4h-1.5M765.3 747.4h-1.5M765.3 745.8h-1.5M765.3 744.5h-1.5M765.3 743.3h-1.5M765.3 742.2h-1.5M765.3 772.5h-1.5M765.3 769.9h-1.5M765.3 767.9h-1.5M765.3 766.3h-1.5M765.3 764.9h-1.5M765.3 763.7h-1.5M765.3 762.6h-1.5" stroke="#2a2a2a" stroke-width=".7" fill="none"/>
<text x="771.7" y="786.7" font-size="7.8" fill="#333">10<tspan dy="-3.1" font-size="5.7">0</tspan></text>
<text x="792.6" y="786.7" font-size="7.8" fill="#333">10<tspan dy="-3.1" font-size="5.7">1</tspan></text>
<text x="813.2" y="786.7" font-size="7.8" fill="#333">10<tspan dy="-3.1" font-size="5.7">2</tspan></text>
<text x="833.9" y="786.7" font-size="7.8" fill="#333">10<tspan dy="-3.1" font-size="5.7">3</tspan></text>
<text x="854.5" y="786.7" font-size="7.8" fill="#333">10<tspan dy="-3.1" font-size="5.7">4</tspan></text>
<text x="875.4" y="786.7" font-size="7.8" fill="#333">10<tspan dy="-3.1" font-size="5.7">5</tspan></text>
<path d="M777.7 774.1v3M798.6 774.1v3M819.2 774.1v3M839.9 774.1v3M860.5 774.1v3M881.4 774.1v3M766.8 774.1v1.5M769.4 774.1v1.5M771.4 774.1v1.5M773.1 774.1v1.5M774.5 774.1v1.5M775.7 774.1v1.5M776.7 774.1v1.5M784 774.1v1.5M787.7 774.1v1.5M790.3 774.1v1.5M792.3 774.1v1.5M794 774.1v1.5M795.4 774.1v1.5M796.6 774.1v1.5M797.6 774.1v1.5M804.8 774.1v1.5M808.4 774.1v1.5M811 774.1v1.5M813 774.1v1.5M814.6 774.1v1.5M816 774.1v1.5M817.2 774.1v1.5M818.3 774.1v1.5M825.4 774.1v1.5M829.1 774.1v1.5M831.7 774.1v1.5M833.7 774.1v1.5M835.3 774.1v1.5M836.7 774.1v1.5M837.9 774.1v1.5M839 774.1v1.5M846.1 774.1v1.5M849.7 774.1v1.5M852.3 774.1v1.5M854.3 774.1v1.5M855.9 774.1v1.5M857.3 774.1v1.5M858.5 774.1v1.5M859.6 774.1v1.5M866.8 774.1v1.5M870.5 774.1v1.5M873.1 774.1v1.5M875.1 774.1v1.5M876.8 774.1v1.5M878.2 774.1v1.5M879.4 774.1v1.5M880.4 774.1v1.5M887.7 774.1v1.5" stroke="#2a2a2a" stroke-width=".7" fill="none"/>
<text x="857.2" y="666.7" font-size="12.3" fill="#111" text-anchor="middle" font-weight="bold">Activated</text>
<text x="856.9" y="682.1" font-size="12.3" fill="#111" text-anchor="middle" font-weight="bold">97.4%</text>
<text x="822.5" y="642.4" font-size="16.5" fill="#000" text-anchor="middle" font-weight="bold">Monocytes</text>
<text x="733.6" y="711.4" font-size="18" font-weight="bold" text-anchor="middle" fill="#000" transform="rotate(-90 733.6 711.4)">CD86</text>
<text x="823" y="797.7" font-size="18" fill="#000" text-anchor="middle" font-weight="bold">HLA-DR</text>
<g clip-path="url(#c8)">
<g filter="url(#haze)">
<ellipse cx="190" cy="877.5" rx="22" ry="5.5" fill="#5656dc" fill-opacity="0.5" transform="rotate(-3 190 877.5)"/>
<ellipse cx="165" cy="878.5" rx="12" ry="3" fill="#5656dc" fill-opacity="0.2"/>
<ellipse cx="237.3" cy="914" rx="7.5" ry="17" fill="#5656dc" fill-opacity="0.5"/>
<ellipse cx="237.5" cy="938" rx="4" ry="9" fill="#5656dc" fill-opacity="0.2"/>
</g>
<g filter="url(#rough)">
<path transform="scale(.5)" d="M393 1759zm36 7zm-73 1zm3 1zm24 3zm-26 2zm75 4zm-58 2zm6 4zm26 2zm-42 1zm56 2zm-47 2zm-9 1zm-11 1zm51 0zm-69 2zm81 1zm-44 1zm3 0zm-33 3zm30 0zm5 0zm36 0zm-100 1zm47 0zm14 0zm-4 2zm20 0zm23 0zm15 0zm-92 1zm69 0zm-35 1zm17 1zm-57 1zm20 0zm5 0zm27 0zm15 0zm8 0zm-45 1zm64 0zm-75 2zm14 0zm10 0zm2 0zm13 0zm8 0zm7 0zm16 0zm-31 1zm7 0zm25 0zm36 0zm-100 1zm33 0zm-6 1zm17 0zm4 0zm56 0zm-139 1zm18 0zm16 0zm15 0zm-7 1zm1 0zm46 0zm7 0zm-44 1zm32 0zm31 0zm-98 1zm2 0zm20 0zm4 0zm2 0zm21 0zm-20 1zm10 0zm19 0zm6 0zm-52 1zm46 0zm-61 1zm22 0zm16 0zm4 0zm3 0zm15 0zm17 0zm-16 1zm19 0zm-61 1zm53 0zm-66 1zm14 0zm12 0zm3 0zm21 0zm10 0zm-40 1zm11 0zm19 0zm25 0zm19 0zm-27 2zm27 1zm-66 1zm35 0zm-84 1zm16 0zm8 0zm42 0zm-26 1zm15 0zm24 0zm-3 1zm-25 1zm12 0zm7 0zm8 0zm8 0zm15 0zm-135 1zm82 0zm1 0zm2 0zm4 0zm-32 1zm28 0zm20 1zm19 0zm7 0zm18 0zm-77 1zm24 0zm7 0zm16 0zm10 0zm8 0zm7 0zm-88 1zm0 1zm43 0zm6 0zm3 0zm35 0zm-74 1zm9 0zm27 0zm20 0zm11 0zm-23 1zm12 0zm-74 1zm33 0zm5 0zm16 0zm59 0zm-78 1zm2 0zm-35 1zm30 0zm10 0zm30 0zm-27 1zm8 0zm28 0zm-62 1zm4 0zm30 0zm1 0zm2 0zm3 0zm11 1zm-43 1zm3 0zm36 0zm12 0zm37 0zm-85 1zm26 1zm-22 1zm2 0zm23 0zm16 0zm27 1zm-87 1zm1 0zm27 0zm22 0zm-61 1zm34 0zm23 0zm29 0zm-13 1zm-38 1zm5 0zm42 0zm-96 2zm24 0zm8 1zm55 0zm6 0zm-67 1zm58 0zm-50 1zm72 0zm-20 1zm-74 1zm24 0zm62 1zm-17 1zm-49 2zm25 1zm3 0zm4 2zm59 0zm-37 1zm-108 1zm75 0zm7 0zm8 0zm5 0zm-30 1zm-31 2zm46 3zm-36 2zm17 0zm-19 1zm60 0zm25 0zm-51 1z" stroke="#8080d0" stroke-width="2" stroke-opacity="0.55" stroke-linecap="square" fill="none"/>
<path transform="scale(.5)" d="M498 1732zm3 1zm-32 9zm17 0zm3 5zm-60 1zm54 0zm3 0zm-31 1zm-5 1zm33 0zm-27 1zm15 0zm2 1zm28 0zm-33 1zm2 0zm-6 1zm8 1zm1 0zm3 0zm6 0zm-19 1zm27 0zm4 0zm-50 1zm22 0zm14 1zm-34 1zm20 0zm-1 1zm5 0zm25 1zm-19 1zm-13 1zm18 1zm4 0zm4 0zm16 0zm4 0zm-32 1zm13 0zm-17 1zm4 0zm1 0zm-22 1zm1 0zm19 1zm10 1zm8 0zm-27 1zm36 0zm-27 1zm-13 1zm7 0zm9 1zm-48 1zm45 0zm20 0zm-36 1zm4 1zm2 0zm-4 1zm-13 3zm19 2zm21 0zm-26 1zm11 3zm23 0z" stroke="#8080d0" stroke-width="2" stroke-opacity="0.6" stroke-linecap="square" fill="none"/>
<path transform="scale(.5)" d="M298 1743zm76 0zm-63 2zm15 0zm-8 1zm26 0zm20 0zm-41 1zm59 0zm-100 1zm15 0zm21 0zm15 0zm-39 1zm14 0zm12 0zm3 0zm4 0zm4 0zm23 0zm-59 1zm7 0zm2 0zm12 0zm2 0zm1 0zm9 0zm1 0zm2 0zm3 0zm1 0zm9 0zm37 0zm-103 1zm12 0zm31 0zm1 0zm2 0zm5 0zm8 0zm10 0zm1 0zm6 0zm3 0zm15 0zm10 0zm-94 1zm18 0zm1 0zm15 0zm6 0zm2 0zm11 0zm3 0zm1 0zm10 0zm9 0zm12 0zm-77 1zm15 0zm3 0zm16 0zm13 0zm3 0zm2 0zm3 0zm2 0zm3 0zm3 0zm3 0zm15 0zm-95 1zm7 0zm5 0zm9 0zm4 0zm12 0zm3 0zm1 0zm3 0zm3 0zm7 0zm1 0zm5 0zm1 0zm4 0zm7 0zm1 0zm5 0zm10 0zm3 0zm4 0zm-85 1zm2 0zm11 0zm4 0zm3 0zm3 0zm2 0zm1 0zm6 0zm5 0zm3 0zm7 0zm4 0zm10 0zm5 0zm10 0zm15 0zm-87 1zm5 0zm4 0zm1 0zm10 0zm6 0zm4 0zm2 0zm3 0zm1 0zm3 0zm7 0zm1 0zm8 0zm2 0zm2 0zm2 0zm4 0zm4 0zm1 0zm2 0zm6 0zm14 0zm11 0zm-111 1zm9 0zm2 0zm12 0zm4 0zm4 0zm1 0zm2 0zm3 0zm5 0zm3 0zm1 0zm1 0zm3 0zm2 0zm6 0zm5 0zm8 0zm12 0zm3 0zm7 0zm34 0zm-119 1zm16 0zm7 0zm2 0zm1 0zm3 0zm9 0zm5 0zm7 0zm3 0zm1 0zm4 0zm4 0zm8 0zm1 0zm18 0zm11 0zm-126 1zm6 0zm8 0zm13 0zm12 0zm1 0zm3 0zm1 0zm2 0zm3 0zm2 0zm1 0zm2 0zm4 0zm1 0zm7 0zm2 0zm1 0zm1 0zm1 0zm3 0zm5 0zm8 0zm1 0zm1 0zm9 0zm7 0zm-85 1zm17 0zm5 0zm2 0zm2 0zm5 0zm6 0zm7 0zm2 0zm2 0zm1 0zm1 0zm1 0zm1 0zm9 0zm1 0zm4 0zm-85 1zm6 0zm9 0zm4 0zm9 0zm2 0zm1 0zm2 0zm13 0zm1 0zm4 0zm14 0zm1 0zm3 0zm9 0zm7 0zm2 0zm5 0zm1 0zm-88 1zm2 0zm3 0zm18 0zm4 0zm7 0zm1 0zm5 0zm3 0zm8 0zm2 0zm2 0zm4 0zm7 0zm3 0zm5 0zm8 0zm14 0zm-90 1zm3 0zm14 0zm1 0zm8 0zm1 0zm9 0zm2 0zm8 0zm6 0zm5 0zm1 0zm24 0zm-70 1zm13 0zm7 0zm9 0zm6 0zm13 0zm14 0zm9 0zm7 0zm-87 1zm30 0zm1 0zm9 0zm5 0zm1 0zm14 0zm7 0zm6 0zm3 0zm-62 1zm5 0zm6 0zm3 0zm7 0zm13 0zm9 0zm8 0zm-58 1zm35 0zm4 0zm8 0zm-56 1zm34 0zm41 0zm-61 1zm53 0zm19 0zm-48 1zm-17 4z" stroke="#5050c0" stroke-width="2" stroke-opacity="0.75" stroke-linecap="square" fill="none"/>
<path transform="scale(.5)" d="M367 1730zm-8 1zm17 1zm48 0zm-52 1zm57 0zm-10 1zm-3 1zm-79 1zm45 0zm7 0zm5 0zm41 0zm6 0zm-70 1zm15 0zm13 0zm-32 1zm39 0zm-31 1zm21 0zm4 0zm4 0zm5 0zm6 0zm19 0zm-43 1zm8 0zm11 0zm16 0zm6 0zm3 0zm-56 1zm1 0zm3 0zm9 0zm1 0zm5 0zm5 0zm4 0zm5 0zm6 0zm1 0zm10 0zm6 0zm11 0zm-95 1zm13 0zm14 0zm1 0zm4 0zm1 0zm1 0zm1 0zm3 0zm17 0zm7 0zm15 0zm-89 1zm44 0zm1 0zm3 0zm1 0zm5 0zm8 0zm1 0zm2 0zm2 0zm4 0zm4 0zm9 0zm2 0zm11 0zm-100 1zm10 0zm18 0zm9 0zm5 0zm5 0zm2 0zm1 0zm8 0zm2 0zm5 0zm1 0zm4 0zm5 0zm6 0zm2 0zm4 0zm2 0zm6 0zm4 0zm-77 1zm6 0zm1 0zm11 0zm4 0zm3 0zm2 0zm2 0zm1 0zm1 0zm1 0zm4 0zm8 0zm2 0zm2 0zm1 0zm8 0zm1 0zm3 0zm5 0zm2 0zm21 0zm-105 1zm10 0zm1 0zm8 0zm1 0zm8 0zm1 0zm3 0zm6 0zm4 0zm1 0zm2 0zm1 0zm3 0zm3 0zm6 0zm1 0zm3 0zm2 0zm6 0zm2 0zm1 0zm3 0zm10 0zm-77 1zm2 0zm2 0zm10 0zm2 0zm1 0zm1 0zm1 0zm2 0zm2 0zm1 0zm2 0zm2 0zm2 0zm1 0zm1 0zm1 0zm2 0zm3 0zm6 0zm3 0zm1 0zm2 0zm3 0zm5 0zm4 0zm6 0zm4 0zm4 0zm1 0zm2 0zm1 0zm2 0zm4 0zm-93 1zm13 0zm12 0zm1 0zm3 0zm4 0zm2 0zm1 0zm3 0zm2 0zm3 0zm2 0zm3 0zm1 0zm2 0zm3 0zm1 0zm1 0zm3 0zm8 0zm3 0zm6 0zm-92 1zm13 0zm8 0zm4 0zm6 0zm6 0zm4 0zm2 0zm2 0zm1 0zm1 0zm7 0zm1 0zm1 0zm1 0zm4 0zm3 0zm2 0zm2 0zm1 0zm4 0zm6 0zm1 0zm2 0zm3 0zm7 0zm1 0zm1 0zm1 0zm2 0zm1 0zm10 0zm-95 1zm9 0zm2 0zm1 0zm5 0zm4 0zm3 0zm1 0zm5 0zm1 0zm1 0zm2 0zm4 0zm2 0zm4 0zm9 0zm1 0zm1 0zm2 0zm1 0zm1 0zm1 0zm2 0zm4 0zm1 0zm2 0zm2 0zm1 0zm6 0zm3 0zm1 0zm1 0zm2 0zm2 0zm1 0zm1 0zm1 0zm4 0zm19 0zm2 0zm-166 1zm34 0zm22 0zm5 0zm2 0zm1 0zm7 0zm1 0zm7 0zm1 0zm2 0zm2 0zm2 0zm1 0zm3 0zm1 0zm1 0zm4 0zm1 0zm3 0zm3 0zm4 0zm1 0zm1 0zm1 0zm2 0zm4 0zm1 0zm39 0zm-102 1zm13 0zm3 0zm6 0zm1 0zm1 0zm1 0zm1 0zm1 0zm2 0zm6 0zm1 0zm2 0zm3 0zm3 0zm2 0zm3 0zm1 0zm2 0zm2 0zm1 0zm1 0zm1 0zm1 0zm1 0zm2 0zm4 0zm3 0zm1 0zm1 0zm1 0zm13 0zm2 0zm1 0zm-83 1zm4 0zm2 0zm5 0zm1 0zm2 0zm5 0zm1 0zm6 0zm2 0zm1 0zm1 0zm1 0zm2 0zm2 0zm2 0zm1 0zm2 0zm1 0zm1 0zm2 0zm1 0zm2 0zm2 0zm3 0zm2 0zm2 0zm1 0zm1 0zm3 0zm2 0zm1 0zm5 0zm4 0zm16 0zm20 0zm-110 1zm4 0zm9 0zm1 0zm1 0zm4 0zm4 0zm2 0zm2 0zm1 0zm1 0zm2 0zm1 0zm2 0zm1 0zm4 0zm1 0zm3 0zm1 0zm1 0zm1 0zm1 0zm1 0zm1 0zm2 0zm2 0zm2 0zm4 0zm4 0zm18 0zm9 0zm-100 1zm5 0zm10 0zm5 0zm1 0zm5 0zm3 0zm8 0zm2 0zm2 0zm1 0zm3 0zm1 0zm1 0zm1 0zm2 0zm2 0zm3 0zm1 0zm1 0zm1 0zm3 0zm1 0zm3 0zm1 0zm6 0zm5 0zm3 0zm3 0zm6 0zm1 0zm1 0zm30 0zm-120 1zm1 0zm3 0zm3 0zm1 0zm6 0zm1 0zm1 0zm3 0zm5 0zm1 0zm13 0zm2 0zm3 0zm4 0zm2 0zm6 0zm2 0zm1 0zm1 0zm1 0zm1 0zm3 0zm4 0zm2 0zm1 0zm11 0zm2 0zm4 0zm4 0zm1 0zm1 0zm1 0zm6 0zm-104 1zm10 0zm1 0zm1 0zm2 0zm3 0zm7 0zm1 0zm1 0zm1 0zm2 0zm6 0zm2 0zm3 0zm1 0zm1 0zm2 0zm1 0zm3 0zm4 0zm6 0zm6 0zm2 0zm3 0zm4 0zm3 0zm4 0zm4 0zm9 0zm-96 1zm5 0zm7 0zm6 0zm3 0zm1 0zm2 0zm5 0zm1 0zm3 0zm2 0zm1 0zm4 0zm5 0zm5 0zm1 0zm1 0zm1 0zm1 0zm1 0zm1 0zm4 0zm2 0zm6 0zm2 0zm2 0zm2 0zm2 0zm1 0zm4 0zm1 0zm5 0zm3 0zm14 0zm3 0zm-117 1zm14 0zm3 0zm3 0zm3 0zm4 0zm1 0zm2 0zm2 0zm4 0zm1 0zm1 0zm8 0zm1 0zm3 0zm5 0zm2 0zm2 0zm2 0zm3 0zm1 0zm1 0zm6 0zm1 0zm1 0zm2 0zm4 0zm1 0zm3 0zm2 0zm9 0zm1 0zm2 0zm1 0zm2 0zm14 0zm8 0zm-114 1zm14 0zm2 0zm3 0zm10 0zm3 0zm1 0zm3 0zm6 0zm3 0zm1 0zm2 0zm4 0zm3 0zm6 0zm2 0zm9 0zm1 0zm3 0zm1 0zm1 0zm5 0zm8 0zm41 0zm-157 1zm26 0zm9 0zm9 0zm2 0zm6 0zm1 0zm1 0zm5 0zm1 0zm1 0zm1 0zm5 0zm1 0zm2 0zm3 0zm1 0zm4 0zm1 0zm1 0zm2 0zm2 0zm1 0zm1 0zm3 0zm1 0zm2 0zm3 0zm13 0zm1 0zm15 0zm-93 1zm8 0zm1 0zm2 0zm6 0zm2 0zm2 0zm13 0zm2 0zm2 0zm1 0zm2 0zm2 0zm2 0zm1 0zm1 0zm1 0zm1 0zm2 0zm7 0zm2 0zm3 0zm1 0zm3 0zm1 0zm19 0zm7 0zm13 0zm-123 1zm23 0zm1 0zm4 0zm10 0zm6 0zm2 0zm7 0zm3 0zm8 0zm7 0zm1 0zm1 0zm3 0zm5 0zm-81 1zm8 0zm14 0zm6 0zm2 0zm1 0zm8 0zm1 0zm7 0zm2 0zm2 0zm3 0zm3 0zm2 0zm6 0zm7 0zm3 0zm1 0zm6 0zm6 0zm1 0zm2 0zm2 0zm10 0zm8 0zm-113 1zm16 0zm10 0zm6 0zm7 0zm14 0zm1 0zm2 0zm1 0zm2 0zm5 0zm3 0zm1 0zm3 0zm1 0zm10 0zm12 0zm3 0zm9 0zm6 0zm5 0zm-108 1zm9 0zm2 0zm10 0zm9 0zm4 0zm3 0zm6 0zm5 0zm10 0zm15 0zm2 0zm1 0zm3 0zm-59 1zm7 0zm6 0zm1 0zm6 0zm5 0zm2 0zm2 0zm2 0zm1 0zm14 0zm6 0zm11 0zm5 0zm2 0zm10 0zm29 0zm-127 1zm1 0zm4 0zm19 0zm11 0zm2 0zm12 0zm14 0zm1 0zm-47 1zm14 0zm1 0zm7 0zm5 0zm4 0zm2 0zm7 0zm5 0zm1 0zm5 0zm-66 1zm25 0zm1 0zm6 0zm2 0zm3 0zm5 0zm2 0zm1 0zm6 0zm8 0zm5 0zm44 0zm-89 1zm2 0zm4 0zm3 0zm8 0zm1 0zm38 0zm5 0zm6 0zm15 0zm-93 1zm3 0zm8 0zm28 0zm2 0zm9 0zm48 0zm-125 1zm79 0zm-12 1zm25 0zm-60 1zm45 0zm2 1zm-33 3zm6 0zm12 0z" stroke="#3a3abc" stroke-width="2" stroke-opacity="0.85" stroke-linecap="square" fill="none"/>
<path transform="scale(.5)" d="M469 1786zm13 0zm-21 1zm3 0zm5 0zm3 0zm-10 1zm38 0zm-33 1zm3 0zm2 0zm1 0zm10 0zm4 0zm1 0zm-20 1zm4 0zm-7 1zm11 0zm1 0zm2 0zm6 0zm-20 1zm3 0zm5 0zm9 0zm7 0zm4 0zm-25 1zm4 0zm2 0zm4 0zm3 1zm-10 1zm1 0zm1 0zm1 0zm1 0zm6 0zm1 0zm1 0zm15 0zm-45 1zm11 0zm1 0zm4 0zm8 0zm9 0zm1 0zm-24 1zm10 0zm1 0zm2 0zm19 0zm4 0zm2 0zm-33 1zm2 0zm1 0zm5 0zm1 0zm2 0zm7 0zm-38 1zm12 0zm4 0zm1 0zm14 0zm5 0zm1 0zm2 0zm6 0zm-35 1zm4 0zm1 0zm4 0zm1 0zm2 0zm2 0zm1 0zm1 0zm2 0zm2 0zm5 0zm4 0zm14 0zm-48 1zm5 0zm5 0zm5 0zm4 0zm4 0zm2 0zm-9 1zm2 0zm2 0zm1 0zm3 0zm4 0zm14 0zm-32 1zm4 0zm1 0zm3 0zm4 0zm2 0zm9 0zm-33 1zm10 0zm5 0zm4 0zm3 0zm3 0zm1 0zm7 0zm12 0zm-27 1zm1 0zm2 0zm6 0zm2 0zm3 0zm9 0zm1 0zm-45 1zm7 0zm19 0zm2 0zm-25 1zm9 0zm3 0zm6 0zm3 0zm6 0zm2 0zm1 0zm-28 1zm1 0zm1 0zm8 0zm3 0zm1 0zm1 0zm1 0zm2 0zm4 0zm1 0zm6 0zm2 0zm3 0zm2 0zm7 0zm-28 1zm2 0zm2 0zm8 0zm2 0zm2 0zm-30 1zm7 0zm2 0zm3 0zm3 0zm3 0zm1 0zm2 0zm7 0zm6 0zm2 0zm-33 1zm5 0zm7 0zm3 0zm2 0zm1 0zm2 0zm6 0zm-17 1zm2 0zm1 0zm3 0zm1 0zm4 0zm5 0zm5 0zm2 0zm1 0zm-30 1zm3 0zm1 0zm2 0zm9 0zm3 0zm4 0zm2 0zm-21 1zm2 0zm1 0zm1 0zm2 0zm4 0zm1 0zm1 0zm2 0zm12 0zm7 0zm-40 1zm10 0zm1 0zm1 0zm2 0zm1 0zm7 0zm7 0zm8 0zm-41 1zm1 0zm7 0zm5 0zm3 0zm1 0zm6 0zm6 0zm-22 1zm3 0zm1 0zm2 0zm2 0zm2 0zm3 0zm6 0zm5 0zm-36 1zm5 0zm5 0zm2 0zm4 0zm2 0zm3 0zm7 0zm1 0zm1 0zm4 0zm4 0zm2 0zm2 0zm4 0zm-30 1zm1 0zm1 0zm2 0zm2 0zm3 0zm1 0zm3 0zm2 0zm2 0zm3 0zm8 0zm-30 1zm3 0zm2 0zm1 0zm2 0zm1 0zm3 0zm1 0zm1 0zm1 0zm6 0zm2 0zm6 0zm-35 1zm12 0zm2 0zm1 0zm1 0zm3 0zm1 0zm1 0zm5 0zm2 0zm-28 1zm11 0zm1 0zm1 0zm3 0zm5 0zm4 0zm1 0zm4 0zm-43 1zm8 0zm3 0zm9 0zm13 0zm7 0zm-28 1zm5 0zm6 0zm2 0zm1 0zm1 0zm4 0zm2 0zm2 0zm2 0zm5 0zm1 0zm2 0zm10 0zm-45 1zm11 0zm1 0zm5 0zm1 0zm3 0zm4 0zm2 0zm2 0zm4 0zm-38 1zm2 0zm9 0zm2 0zm1 0zm1 0zm2 0zm1 0zm5 0zm1 0zm1 0zm6 0zm7 0zm8 0zm-32 1zm3 0zm1 0zm3 0zm3 0zm2 0zm8 0zm-26 1zm19 0zm3 0zm1 0zm7 0zm7 0zm3 0zm-38 1zm1 0zm1 0zm5 0zm2 0zm1 0zm1 0zm2 0zm10 0zm3 0zm1 0zm10 0zm4 0zm-44 1zm3 0zm4 0zm1 0zm1 0zm5 0zm5 0zm2 0zm1 0zm1 0zm3 0zm1 0zm1 0zm2 0zm12 0zm-42 1zm10 0zm9 0zm1 0zm2 0zm1 0zm1 0zm3 0zm1 0zm10 0zm-38 1zm1 0zm3 0zm1 0zm5 0zm1 0zm4 0zm5 0zm5 0zm8 0zm2 0zm1 0zm-37 1zm4 0zm6 0zm1 0zm2 0zm1 0zm1 0zm1 0zm4 0zm2 0zm2 0zm7 0zm-32 1zm6 0zm2 0zm1 0zm5 0zm3 0zm1 0zm4 0zm2 0zm1 0zm6 0zm1 0zm6 0zm-43 1zm9 0zm2 0zm1 0zm3 0zm2 0zm2 0zm2 0zm3 0zm3 0zm8 0zm4 0zm-28 1zm4 0zm4 0zm6 0zm1 0zm5 0zm7 0zm1 0zm20 0zm-50 1zm9 0zm1 0zm2 0zm3 0zm1 0zm2 0zm1 0zm2 0zm1 0zm1 0zm1 0zm4 0zm-27 1zm1 0zm4 0zm3 0zm2 0zm2 0zm1 0zm3 0zm4 0zm8 0zm1 0zm2 0zm3 0zm-30 1zm10 0zm1 0zm2 0zm3 0zm10 0zm3 0zm5 0zm-41 1zm6 0zm4 0zm2 0zm3 0zm1 0zm2 0zm1 0zm4 0zm2 0zm7 0zm10 0zm-48 1zm26 0zm4 0zm2 0zm3 0zm7 0zm-31 1zm4 0zm4 0zm1 0zm1 0zm1 0zm9 0zm-29 1zm25 0zm4 0zm9 0zm4 0zm1 0zm-35 1zm4 0zm3 0zm1 0zm2 0zm1 0zm2 0zm2 0zm2 0zm1 0zm1 0zm6 0zm3 0zm6 0zm-33 1zm3 0zm8 0zm1 0zm8 0zm2 0zm13 0zm-35 1zm3 0zm8 0zm2 0zm1 0zm1 0zm3 0zm2 0zm1 0zm3 0zm4 0zm1 0zm-37 1zm3 0zm10 0zm1 0zm11 0zm1 0zm4 0zm1 0zm-23 1zm8 0zm6 0zm1 0zm5 0zm4 0zm8 0zm-38 1zm7 0zm2 0zm3 0zm1 0zm3 0zm7 0zm3 0zm6 0zm2 0zm1 0zm4 0zm-34 1zm2 0zm3 0zm2 0zm3 0zm4 0zm2 0zm11 0zm5 0zm1 0zm-37 1zm11 0zm3 0zm1 0zm1 0zm4 0zm6 0zm-23 1zm11 0zm2 0zm3 0zm3 0zm3 0zm10 0zm-37 1zm19 0zm2 0zm3 0zm2 0zm1 0zm4 0zm-25 1zm5 0zm8 0zm4 0zm5 0zm7 0zm-28 1zm5 0zm1 0zm2 0zm1 0zm3 0zm14 0zm-29 1zm7 0zm3 0zm4 0zm-7 1zm7 0zm4 0zm3 0zm1 0zm1 0zm1 0zm-18 1zm6 0zm-16 1zm30 0zm-24 1zm22 0zm3 0zm-36 1zm25 0zm-14 1zm9 0zm4 0zm1 0zm2 0zm-11 1zm2 0zm6 0zm6 0zm1 0zm4 0zm3 0zm-28 1zm11 0zm7 0zm1 0zm4 0zm1 0zm6 0zm-29 1zm14 0zm11 0zm-26 1zm8 0zm3 0zm6 0zm2 0zm4 0zm3 0zm-8 1zm-19 1zm15 0zm8 0zm9 0zm-17 1zm-8 1zm8 0zm1 0zm1 1zm6 0zm-8 1zm11 0zm-5 3zm5 0zm-8 2zm10 0zm-9 2zm-16 1zm10 1zm1 0zm-5 1zm-14 4zm23 0zm-15 3zm19 0zm2 0zm3 0zm7 4zm-14 12zm-23 8z" stroke="#3a3abc" stroke-width="2" stroke-opacity="0.85" stroke-linecap="square" fill="none"/>
<path transform="scale(.5)" d="M476 1805zm8 11zm-19 7zm25 0zm-7 5zm-16 1zm17 1zm-18 3zm9 0zm11 0zm-16 3zm-6 1zm11 0zm-2 1zm8 0zm-5 1zm1 0zm-4 1zm-2 3zm8 0zm6 0zm-14 1zm3 0zm7 0zm4 0zm-24 1zm10 1zm1 0zm2 0zm1 0zm-1 1zm16 0zm-16 1zm5 0zm-11 1zm1 0zm7 0zm6 0zm1 0zm6 1zm-24 1zm1 0zm7 0zm2 0zm7 0zm-11 1zm2 0zm8 0zm7 0zm-24 1zm9 0zm4 1zm0 1zm-10 1zm9 0zm1 0zm10 0zm2 0zm-7 1zm5 0zm-20 1zm4 0zm2 0zm2 0zm8 0zm-15 1zm1 0zm9 0zm8 0zm-17 1zm2 0zm13 0zm-19 1zm6 0zm2 0zm4 0zm1 0zm3 0zm3 0zm1 0zm11 0zm-29 1zm5 0zm4 0zm6 0zm3 0zm8 0zm-30 1zm14 0zm1 0zm1 0zm5 0zm11 0zm-34 1zm14 0zm3 0zm4 0zm5 0zm-18 1zm5 0zm9 0zm8 0zm-23 1zm7 0zm2 0zm2 0zm-19 1zm6 0zm4 0zm3 0zm20 0zm-25 1zm2 0zm10 0zm10 0zm-28 1zm1 0zm13 0zm1 0zm2 0zm-14 1zm2 0zm1 0zm4 0zm1 0zm2 0zm6 0zm-12 1zm2 0zm1 0zm4 0zm13 0zm-21 1zm13 0zm2 0zm7 0zm1 0zm-28 1zm10 0zm1 0zm2 0zm2 0zm2 0zm3 0zm-8 1zm1 0zm9 0zm-28 1zm11 0zm7 0zm2 0zm2 0zm1 0zm-16 1zm7 0zm2 0zm4 0zm7 0zm3 0zm-15 1zm3 0zm4 0zm1 0zm6 0zm-21 1zm6 0zm3 0zm1 0zm1 0zm1 0zm5 0zm-15 1zm1 0zm4 0zm3 0zm5 0zm-11 1zm1 0zm-10 1zm7 0zm4 0zm3 0zm3 0zm3 0zm1 0zm6 0zm-22 1zm-6 1zm5 0zm13 0zm-20 1zm14 0zm1 0zm2 0zm5 0zm-10 1zm4 0zm2 0zm9 0zm1 0zm-13 1zm4 0zm1 0zm4 0zm-10 1zm1 0zm14 0zm-29 1zm18 0zm-6 1zm7 0zm3 0zm-17 1zm8 0zm5 1zm1 0zm2 0zm2 0zm8 0zm-35 1zm10 0zm4 0zm3 0zm6 0zm3 0zm3 0zm-10 1zm5 0zm8 0zm1 0zm-20 2zm21 0zm-19 1zm3 0zm2 0zm14 0zm-22 1zm12 0zm8 0zm7 0zm-22 1zm2 0zm1 0zm-6 1zm-2 1zm8 0zm13 0zm-12 1zm1 0zm2 0zm2 0zm4 0zm-13 1zm2 0zm1 0zm-1 1zm3 0zm1 0zm-20 2zm17 1zm-3 1zm14 0zm4 1zm-11 1zm2 0zm-11 1zm-4 2zm5 0zm0 1zm8 0zm4 0zm-18 1zm-5 2zm17 0zm-1 3zm0 5zm2 0zm9 1zm-6 3zm3 9z" stroke="#4a4ac0" stroke-width="2" stroke-opacity="0.8" stroke-linecap="square" fill="none"/>
</g>
<g filter="url(#rough)">
<ellipse cx="191" cy="877.6" rx="20" ry="6.2" fill="#2e36c6" fill-opacity="0.6" transform="rotate(-3 191 877.6)"/>
<ellipse cx="193" cy="877.4" rx="17" ry="5.1" fill="#3d7fe8" stroke="#16208a" stroke-width=".45" stroke-opacity=".75" transform="rotate(-3 193 877.4)"/>
<ellipse cx="195" cy="877.2" rx="13" ry="3.9" fill="#4ac6e4" stroke="#16208a" stroke-width=".45" stroke-opacity=".75" transform="rotate(-3 195 877.2)"/>
<ellipse cx="196.5" cy="877.1" rx="9" ry="2.8" fill="#4ee79b" stroke="#16208a" stroke-width=".45" stroke-opacity=".75" transform="rotate(-3 196.5 877.1)"/>
<ellipse cx="197.5" cy="877" rx="4.6" ry="1.5" fill="#a8f068" transform="rotate(-3 197.5 877)"/>
<ellipse cx="237.3" cy="913" rx="7" ry="15" fill="#2e36c6" fill-opacity="0.5"/>
<ellipse cx="237.5" cy="911.5" rx="5.6" ry="11.5" fill="#3d7fe8" stroke="#16208a" stroke-width=".45" stroke-opacity=".75"/>
<ellipse cx="237.6" cy="910.2" rx="3.5" ry="7.2" fill="#3fb4e4" stroke="#16208a" stroke-width=".45" stroke-opacity=".75"/>
<ellipse cx="134.8" cy="877.4" rx="2.6" ry="6" fill="#2fbf9a"/>
<ellipse cx="236.3" cy="974.6" rx="6.5" ry="1.5" fill="#38c878"/>
</g>
<path d="M136.4 851.7H216.5V896.8H136.4ZM216.5 849.9V851.7M216.5 897.3H257.6V973.7H216.5Z" fill="none" stroke="#555" stroke-width=".9"/>
</g>
<path d="M134.8 849.9H262.1V975" fill="none" stroke="#8a8a8a" stroke-width="1"/>
<path d="M134.8 849.9V975H262.1" fill="none" stroke="#2a2a2a" stroke-width="1.1"/>
<text x="117.8" y="862" font-size="7.8" fill="#333">10<tspan dy="-3.1" font-size="5.7">5</tspan></text>
<text x="117.8" y="882.9" font-size="7.8" fill="#333">10<tspan dy="-3.1" font-size="5.7">4</tspan></text>
<text x="117.8" y="903.7" font-size="7.8" fill="#333">10<tspan dy="-3.1" font-size="5.7">3</tspan></text>
<text x="117.8" y="924.6" font-size="7.8" fill="#333">10<tspan dy="-3.1" font-size="5.7">2</tspan></text>
<text x="117.8" y="945.4" font-size="7.8" fill="#333">10<tspan dy="-3.1" font-size="5.7">1</tspan></text>
<text x="117.8" y="966.2" font-size="7.8" fill="#333">10<tspan dy="-3.1" font-size="5.7">0</tspan></text>
<path d="M134.8 858.9h-3M134.8 879.8h-3M134.8 900.6h-3M134.8 921.5h-3M134.8 942.3h-3M134.8 963.1h-3M134.8 852.6h-1.5M134.8 873.5h-1.5M134.8 869.8h-1.5M134.8 867.2h-1.5M134.8 865.2h-1.5M134.8 863.5h-1.5M134.8 862.1h-1.5M134.8 860.9h-1.5M134.8 859.9h-1.5M134.8 894.3h-1.5M134.8 890.7h-1.5M134.8 888.1h-1.5M134.8 886.1h-1.5M134.8 884.4h-1.5M134.8 883h-1.5M134.8 881.8h-1.5M134.8 880.8h-1.5M134.8 915.2h-1.5M134.8 911.5h-1.5M134.8 908.9h-1.5M134.8 906.9h-1.5M134.8 905.2h-1.5M134.8 903.8h-1.5M134.8 902.6h-1.5M134.8 901.6h-1.5M134.8 936h-1.5M134.8 932.4h-1.5M134.8 929.8h-1.5M134.8 927.8h-1.5M134.8 926.1h-1.5M134.8 924.7h-1.5M134.8 923.5h-1.5M134.8 922.5h-1.5M134.8 956.8h-1.5M134.8 953.2h-1.5M134.8 950.6h-1.5M134.8 948.6h-1.5M134.8 946.9h-1.5M134.8 945.5h-1.5M134.8 944.3h-1.5M134.8 943.3h-1.5M134.8 971.4h-1.5M134.8 969.4h-1.5M134.8 967.7h-1.5M134.8 966.3h-1.5M134.8 965.1h-1.5M134.8 964.1h-1.5" stroke="#2a2a2a" stroke-width=".7" fill="none"/>
<text x="141.5" y="987.6" font-size="7.8" fill="#333">10<tspan dy="-3.1" font-size="5.7">0</tspan></text>
<text x="162.6" y="987.6" font-size="7.8" fill="#333">10<tspan dy="-3.1" font-size="5.7">1</tspan></text>
<text x="183.9" y="987.6" font-size="7.8" fill="#333">10<tspan dy="-3.1" font-size="5.7">2</tspan></text>
<text x="205.1" y="987.6" font-size="7.8" fill="#333">10<tspan dy="-3.1" font-size="5.7">3</tspan></text>
<text x="226.4" y="987.6" font-size="7.8" fill="#333">10<tspan dy="-3.1" font-size="5.7">4</tspan></text>
<text x="247.6" y="987.6" font-size="7.8" fill="#333">10<tspan dy="-3.1" font-size="5.7">5</tspan></text>
<path d="M147.5 975v3M168.6 975v3M189.9 975v3M211.1 975v3M232.4 975v3M253.6 975v3M136.5 975v1.5M139.1 975v1.5M141.1 975v1.5M142.8 975v1.5M144.2 975v1.5M145.5 975v1.5M146.5 975v1.5M153.9 975v1.5M157.6 975v1.5M160.2 975v1.5M162.2 975v1.5M163.9 975v1.5M165.3 975v1.5M166.6 975v1.5M167.6 975v1.5M175 975v1.5M178.8 975v1.5M181.4 975v1.5M183.5 975v1.5M185.2 975v1.5M186.6 975v1.5M187.8 975v1.5M188.9 975v1.5M196.3 975v1.5M200 975v1.5M202.7 975v1.5M204.7 975v1.5M206.4 975v1.5M207.8 975v1.5M209 975v1.5M210.1 975v1.5M217.5 975v1.5M221.3 975v1.5M223.9 975v1.5M226 975v1.5M227.7 975v1.5M229.1 975v1.5M230.3 975v1.5M231.4 975v1.5M238.8 975v1.5M242.5 975v1.5M245.2 975v1.5M247.2 975v1.5M248.9 975v1.5M250.3 975v1.5M251.5 975v1.5M252.6 975v1.5M260 975v1.5" stroke="#2a2a2a" stroke-width=".7" fill="none"/>
<text x="141.4" y="863.6" font-size="12.3" fill="#111" font-weight="bold">CD4+</text>
<text x="139.6" y="893.3" font-size="12.3" fill="#111" font-weight="bold">64.8%</text>
<text x="216.9" y="956.5" font-size="12.3" fill="#111" font-weight="bold">CD8+</text>
<text x="215.9" y="971" font-size="12.3" fill="#111" font-weight="bold">19.6%</text>
<text x="206.5" y="841.9" font-size="16.5" fill="#000" text-anchor="middle" font-weight="bold">CD3+</text>
<text x="112" y="916.7" font-size="18" font-weight="bold" text-anchor="middle" fill="#000" transform="rotate(-90 112 916.7)">CD4</text>
<text x="194.7" y="1007.3" font-size="16.3" fill="#000" text-anchor="middle" font-weight="bold">CD8</text>
<g clip-path="url(#c9)">
<g filter="url(#haze)">
<ellipse cx="408" cy="927" rx="22" ry="17" fill="#5656dc" fill-opacity="0.38"/>
<ellipse cx="414" cy="944" rx="9" ry="14" fill="#5656dc" fill-opacity="0.25"/>
<ellipse cx="452" cy="918" rx="8" ry="30" fill="#5656dc" fill-opacity="0.4"/>
<ellipse cx="436" cy="915" rx="8" ry="12" fill="#5656dc" fill-opacity="0.15"/>
</g>
<g filter="url(#rough)">
<path transform="scale(.5)" d="M844 1759zm-33 13zm11 1zm-52 5zm22 2zm59 2zm-32 4zm38 0zm49 0zm-159 2zm104 0zm-95 2zm72 1zm-44 1zm16 1zm16 0zm-11 1zm-27 1zm30 1zm-3 2zm53 0zm11 0zm-140 1zm10 0zm33 0zm29 0zm18 0zm-110 1zm88 1zm16 0zm36 0zm-134 1zm45 0zm22 0zm62 0zm-38 1zm61 1zm-79 1zm6 0zm73 0zm-128 1zm24 0zm-6 1zm40 0zm37 0zm4 1zm-25 1zm-42 1zm63 0zm20 0zm-86 1zm12 0zm45 0zm52 0zm-90 1zm5 0zm9 0zm1 0zm38 0zm43 0zm15 0zm-141 1zm32 0zm4 0zm74 0zm14 0zm-114 2zm10 0zm4 0zm14 0zm14 0zm12 0zm19 0zm-72 1zm14 0zm10 0zm39 0zm47 0zm-144 1zm32 0zm58 0zm7 0zm-92 1zm58 0zm16 0zm10 0zm23 0zm-93 1zm6 0zm38 0zm15 0zm10 0zm14 0zm13 0zm5 0zm2 0zm21 0zm26 0zm-151 1zm16 0zm12 0zm10 0zm31 0zm7 0zm5 0zm3 0zm17 0zm15 0zm52 0zm-198 1zm72 0zm9 0zm12 0zm17 0zm14 0zm-119 1zm1 0zm20 0zm51 0zm24 0zm-81 1zm60 0zm21 0zm28 0zm-54 1zm7 0zm1 0zm26 0zm15 0zm1 0zm10 0zm-126 1zm12 0zm26 0zm21 0zm2 0zm4 0zm18 0zm6 0zm8 0zm51 0zm4 0zm-105 1zm22 0zm1 0zm9 0zm2 0zm24 0zm26 0zm48 0zm-158 1zm42 0zm13 0zm18 0zm12 0zm13 0zm4 0zm19 0zm-141 1zm19 0zm11 0zm9 0zm18 0zm3 0zm49 0zm4 0zm8 0zm17 0zm14 0zm-142 1zm25 0zm28 0zm10 0zm48 0zm-109 1zm23 0zm43 0zm12 0zm13 0zm5 0zm16 0zm5 0zm-102 1zm2 0zm2 0zm4 0zm4 0zm8 0zm20 0zm9 0zm6 0zm7 0zm2 0zm50 0zm44 0zm20 0zm-211 1zm39 0zm3 0zm24 0zm5 0zm11 0zm9 0zm18 0zm2 0zm9 0zm9 0zm-117 1zm9 0zm43 0zm1 0zm21 0zm5 0zm5 0zm8 0zm15 0zm-108 1zm25 0zm8 0zm4 0zm9 0zm4 0zm6 0zm6 0zm6 0zm5 0zm12 0zm23 0zm3 0zm26 0zm7 0zm18 0zm-126 1zm4 0zm9 0zm4 0zm2 0zm6 0zm4 0zm5 0zm3 0zm14 0zm24 0zm3 0zm-134 1zm5 0zm41 0zm7 0zm26 0zm5 0zm13 0zm1 0zm81 0zm-175 1zm47 0zm10 0zm9 0zm35 0zm2 0zm13 0zm16 0zm8 0zm9 0zm6 0zm5 0zm5 0zm-134 1zm17 0zm20 0zm76 0zm4 0zm50 0zm-178 1zm11 0zm6 0zm9 0zm11 0zm7 0zm18 0zm9 0zm12 0zm11 0zm8 0zm32 0zm4 0zm-109 1zm4 0zm2 0zm10 0zm4 0zm13 0zm3 0zm4 0zm1 0zm30 0zm18 0zm17 0zm7 0zm-115 1zm6 0zm12 0zm20 0zm2 0zm48 0zm8 0zm49 0zm-172 1zm16 0zm15 0zm12 0zm1 0zm6 0zm4 0zm1 0zm2 0zm7 0zm32 0zm1 0zm17 0zm22 0zm-117 1zm1 0zm10 0zm7 0zm17 0zm7 0zm14 0zm11 0zm12 0zm100 0zm-202 1zm9 0zm29 0zm1 0zm9 0zm4 0zm15 0zm6 0zm4 0zm1 0zm25 0zm29 0zm14 0zm17 0zm-156 1zm7 0zm22 0zm1 0zm3 0zm1 0zm3 0zm1 0zm1 0zm25 0zm23 0zm40 0zm6 0zm-166 1zm45 0zm8 0zm39 0zm5 0zm5 0zm4 0zm38 0zm29 0zm-173 1zm40 0zm16 0zm25 0zm2 0zm3 0zm11 0zm14 0zm15 0zm25 0zm-98 1zm21 0zm1 0zm17 0zm2 0zm29 0zm-109 1zm18 0zm2 0zm5 0zm12 0zm13 0zm7 0zm2 0zm7 0zm10 0zm33 0zm17 0zm16 0zm-152 1zm14 0zm26 0zm1 0zm13 0zm11 0zm3 0zm14 0zm4 0zm1 0zm6 0zm8 0zm4 0zm11 0zm2 0zm38 0zm3 0zm20 0zm-185 1zm10 0zm31 0zm1 0zm18 0zm4 0zm6 0zm60 0zm5 0zm-123 1zm20 0zm13 0zm6 0zm34 0zm7 0zm10 0zm15 0zm4 0zm32 0zm24 0zm33 0zm-204 1zm21 0zm16 0zm4 0zm4 0zm7 0zm3 0zm1 0zm8 0zm8 0zm7 0zm6 0zm15 0zm3 0zm4 0zm2 0zm3 0zm2 0zm5 0zm38 0zm12 0zm-146 1zm17 0zm3 0zm8 0zm6 0zm6 0zm6 0zm9 0zm3 0zm3 0zm14 0zm10 0zm5 0zm5 0zm49 0zm-160 1zm19 0zm23 0zm6 0zm3 0zm19 0zm1 0zm8 0zm1 0zm7 0zm16 0zm25 0zm26 0zm22 0zm7 0zm10 0zm1 0zm-203 1zm41 0zm27 0zm19 0zm14 0zm1 0zm42 0zm14 0zm25 0zm31 0zm17 0zm-231 1zm49 0zm2 0zm17 0zm1 0zm11 0zm2 0zm8 0zm4 0zm29 0zm7 0zm40 0zm42 0zm-208 1zm7 0zm15 0zm28 0zm12 0zm7 0zm9 0zm9 0zm3 0zm3 0zm5 0zm26 0zm50 0zm21 0zm-137 1zm10 0zm4 0zm18 0zm10 0zm2 0zm12 0zm6 0zm18 0zm-114 1zm8 0zm22 0zm4 0zm6 0zm30 0zm2 0zm3 0zm12 0zm-117 1zm49 0zm19 0zm3 0zm1 0zm24 0zm7 0zm10 0zm8 0zm3 0zm18 0zm-70 1zm22 0zm20 0zm3 0zm6 0zm12 0zm57 0zm-142 1zm10 0zm2 0zm15 0zm2 0zm2 0zm1 0zm2 0zm5 0zm4 0zm3 0zm9 0zm11 0zm6 0zm18 0zm20 0zm4 0zm-166 1zm6 0zm42 0zm4 0zm19 0zm38 0zm11 0zm8 0zm25 0zm5 0zm29 0zm-131 1zm8 0zm10 0zm4 0zm5 0zm19 0zm3 0zm1 0zm28 0zm4 0zm15 0zm55 0zm-201 1zm27 0zm31 0zm5 0zm3 0zm17 0zm1 0zm2 0zm2 0zm17 0zm11 0zm9 0zm26 0zm51 0zm5 0zm-191 1zm12 0zm8 0zm4 0zm28 0zm3 0zm3 0zm5 0zm18 0zm2 0zm28 0zm6 0zm76 0zm-176 1zm2 0zm6 0zm18 0zm16 0zm2 0zm23 0zm12 0zm9 0zm-108 1zm9 0zm5 0zm6 0zm40 0zm4 0zm22 0zm9 0zm5 0zm7 0zm8 0zm16 0zm27 0zm-175 1zm60 0zm25 0zm7 0zm9 0zm14 0zm3 0zm3 0zm2 0zm4 0zm25 0zm6 0zm-118 1zm24 0zm14 0zm18 0zm17 0zm39 0zm-85 1zm3 0zm1 0zm1 0zm26 0zm1 0zm4 0zm4 0zm24 0zm43 0zm-158 1zm30 0zm11 0zm9 0zm15 0zm22 0zm6 0zm21 0zm15 0zm17 0zm-87 1zm15 0zm9 0zm39 0zm10 0zm1 0zm14 0zm19 0zm-159 1zm2 0zm14 0zm4 0zm39 0zm12 0zm3 0zm-87 1zm8 0zm15 0zm14 0zm1 0zm2 0zm19 0zm19 0zm32 0zm-114 1zm38 0zm1 0zm14 0zm44 0zm12 0zm64 0zm-142 1zm10 0zm28 0zm2 0zm19 0zm10 0zm28 0zm13 0zm16 0zm-106 1zm21 0zm2 0zm58 0zm4 0zm22 0zm-111 1zm7 0zm12 0zm2 0zm2 0zm7 0zm1 0zm6 0zm6 0zm-82 1zm6 0zm49 0zm28 0zm10 0zm19 0zm5 0zm10 0zm-127 1zm94 0zm23 0zm-44 1zm107 0zm-128 1zm9 0zm22 0zm11 0zm14 0zm5 0zm20 0zm-109 1zm21 0zm7 0zm14 0zm24 0zm21 0zm-35 1zm60 0zm-92 1zm7 0zm5 0zm6 0zm67 0zm-40 1zm60 0zm-151 1zm3 0zm24 0zm27 0zm3 0zm14 0zm2 0zm4 0zm33 0zm14 0zm10 0zm50 0zm20 0zm-202 1zm68 0zm62 0zm16 0zm-137 1zm43 0zm1 0zm11 0zm10 0zm14 0zm6 0zm22 0zm-5 1zm37 0zm-88 1zm2 0zm15 0zm21 0zm5 0zm24 0zm-85 1zm1 0zm19 0zm12 0zm11 0zm47 0zm-103 1zm15 0zm25 0zm31 0zm44 0zm-76 1zm42 0zm-56 1zm34 0zm108 0zm-119 1zm24 0zm-87 1zm79 0zm28 0zm9 0zm-138 1zm93 0zm23 0zm11 0zm-55 1zm15 0zm9 0zm3 0zm6 0zm-90 1zm79 0zm22 0zm26 0zm-23 1zm109 0zm-72 1zm-53 3zm-25 1zm34 0zm-101 1zm50 0zm51 0zm2 1zm-71 1zm6 0zm8 1zm8 1zm75 0zm-98 1zm42 0zm19 1zm8 1zm-31 1zm69 0zm34 0zm-155 2zm6 0zm10 2zm36 0zm-42 1zm35 0zm4 5zm43 2zm23 1zm-71 4zm-35 8z" stroke="#6060c8" stroke-width="2" stroke-opacity="0.6" stroke-linecap="square" fill="none"/>
<path transform="scale(.5)" d="M819 1777zm-22 5zm-25 6zm69 2zm-40 4zm7 2zm1 0zm50 0zm-39 1zm12 0zm3 0zm-23 1zm20 0zm-14 1zm6 0zm3 0zm4 0zm20 0zm4 0zm-64 1zm22 0zm26 0zm-30 1zm13 0zm5 0zm-18 1zm15 0zm7 0zm8 0zm17 0zm-27 1zm44 0zm-76 1zm6 0zm5 0zm18 0zm4 0zm14 0zm6 0zm4 0zm-61 1zm13 0zm44 0zm13 0zm16 0zm-49 1zm12 0zm-55 1zm13 0zm9 0zm1 0zm7 0zm1 0zm6 0zm1 0zm1 0zm3 0zm7 0zm23 0zm-76 1zm11 0zm1 0zm21 0zm3 0zm19 0zm8 0zm3 0zm18 0zm-83 1zm18 0zm7 0zm3 0zm1 0zm7 0zm2 0zm1 0zm21 0zm4 0zm20 0zm-67 1zm13 0zm7 0zm2 0zm3 0zm-32 1zm18 0zm19 0zm9 0zm1 0zm4 0zm9 0zm22 0zm-109 1zm54 0zm2 0zm1 0zm5 0zm1 0zm12 0zm9 0zm4 0zm-80 1zm8 0zm12 0zm5 0zm10 0zm6 0zm28 0zm19 0zm3 0zm-92 1zm36 0zm17 0zm1 0zm1 0zm1 0zm1 0zm1 0zm3 0zm23 0zm9 0zm-75 1zm12 0zm19 0zm4 0zm1 0zm13 0zm6 0zm-24 1zm2 0zm3 0zm11 0zm1 0zm1 0zm10 0zm16 0zm13 0zm-86 1zm11 0zm12 0zm3 0zm2 0zm5 0zm10 0zm4 0zm1 0zm10 0zm1 0zm-52 1zm21 0zm1 0zm6 0zm1 0zm12 0zm10 0zm38 0zm-117 1zm24 0zm5 0zm1 0zm14 0zm10 0zm1 0zm5 0zm19 0zm6 0zm12 0zm6 0zm-109 1zm10 0zm18 0zm30 0zm4 0zm26 0zm-96 1zm22 0zm3 0zm2 0zm5 0zm10 0zm1 0zm14 0zm2 0zm16 0zm5 0zm3 0zm1 0zm4 0zm1 0zm-57 1zm16 0zm3 0zm7 0zm1 0zm10 0zm3 0zm2 0zm7 0zm2 0zm1 0zm3 0zm2 0zm5 0zm2 0zm2 0zm8 0zm-98 1zm10 0zm12 0zm11 0zm2 0zm2 0zm2 0zm1 0zm4 0zm3 0zm4 0zm1 0zm2 0zm7 0zm7 0zm1 0zm1 0zm6 0zm5 0zm7 0zm2 0zm8 0zm4 0zm7 0zm-96 1zm25 0zm1 0zm6 0zm12 0zm3 0zm19 0zm5 0zm10 0zm-76 1zm3 0zm14 0zm4 0zm10 0zm2 0zm5 0zm1 0zm1 0zm8 0zm3 0zm16 0zm3 0zm23 0zm-126 1zm30 0zm10 0zm3 0zm7 0zm3 0zm1 0zm4 0zm5 0zm11 0zm2 0zm3 0zm1 0zm3 0zm12 0zm4 0zm5 0zm-67 1zm18 0zm5 0zm2 0zm3 0zm7 0zm9 0zm18 0zm3 0zm11 0zm-70 1zm5 0zm8 0zm7 0zm5 0zm5 0zm2 0zm2 0zm4 0zm9 0zm4 0zm2 0zm4 0zm3 0zm3 0zm7 0zm11 0zm-77 1zm3 0zm2 0zm1 0zm1 0zm2 0zm28 0zm5 0zm-53 1zm10 0zm2 0zm3 0zm11 0zm2 0zm7 0zm3 0zm6 0zm2 0zm5 0zm4 0zm8 0zm7 0zm-84 1zm8 0zm2 0zm4 0zm11 0zm1 0zm2 0zm4 0zm1 0zm9 0zm2 0zm12 0zm5 0zm3 0zm2 0zm2 0zm11 0zm7 0zm-83 1zm22 0zm13 0zm2 0zm3 0zm9 0zm1 0zm1 0zm1 0zm3 0zm1 0zm7 0zm6 0zm1 0zm5 0zm1 0zm5 0zm-78 1zm4 0zm16 0zm2 0zm5 0zm3 0zm8 0zm1 0zm1 0zm2 0zm6 0zm4 0zm1 0zm4 0zm2 0zm4 0zm3 0zm2 0zm2 0zm9 0zm13 0zm4 0zm14 0zm-130 1zm43 0zm4 0zm8 0zm2 0zm2 0zm1 0zm1 0zm4 0zm9 0zm2 0zm1 0zm1 0zm16 0zm27 0zm-107 1zm14 0zm6 0zm12 0zm9 0zm3 0zm1 0zm1 0zm7 0zm6 0zm1 0zm1 0zm5 0zm2 0zm6 0zm1 0zm4 0zm3 0zm1 0zm8 0zm4 0zm-99 1zm22 0zm2 0zm5 0zm5 0zm8 0zm4 0zm1 0zm2 0zm4 0zm4 0zm5 0zm3 0zm1 0zm6 0zm15 0zm21 0zm-112 1zm2 0zm1 0zm32 0zm1 0zm5 0zm1 0zm7 0zm4 0zm2 0zm5 0zm2 0zm4 0zm2 0zm1 0zm1 0zm2 0zm3 0zm2 0zm5 0zm5 0zm20 0zm15 0zm-105 1zm10 0zm3 0zm9 0zm1 0zm5 0zm2 0zm1 0zm4 0zm7 0zm1 0zm2 0zm2 0zm2 0zm2 0zm1 0zm15 0zm4 0zm4 0zm-92 1zm40 0zm6 0zm2 0zm2 0zm2 0zm2 0zm1 0zm2 0zm1 0zm1 0zm1 0zm6 0zm5 0zm5 0zm2 0zm1 0zm5 0zm8 0zm10 0zm-91 1zm1 0zm9 0zm5 0zm6 0zm3 0zm5 0zm3 0zm2 0zm2 0zm2 0zm1 0zm2 0zm3 0zm5 0zm1 0zm2 0zm2 0zm4 0zm3 0zm8 0zm5 0zm1 0zm3 0zm-91 1zm17 0zm11 0zm3 0zm3 0zm5 0zm1 0zm4 0zm2 0zm1 0zm4 0zm1 0zm5 0zm1 0zm3 0zm4 0zm1 0zm2 0zm11 0zm5 0zm1 0zm3 0zm4 0zm10 0zm17 0zm-122 1zm5 0zm11 0zm6 0zm18 0zm2 0zm2 0zm2 0zm10 0zm3 0zm4 0zm5 0zm1 0zm6 0zm3 0zm2 0zm3 0zm9 0zm2 0zm2 0zm1 0zm1 0zm1 0zm3 0zm1 0zm7 0zm5 0zm6 0zm5 0zm-99 1zm4 0zm4 0zm10 0zm2 0zm7 0zm4 0zm1 0zm6 0zm16 0zm3 0zm1 0zm8 0zm16 0zm11 0zm10 0zm-117 1zm10 0zm15 0zm12 0zm5 0zm2 0zm2 0zm6 0zm2 0zm1 0zm2 0zm3 0zm9 0zm2 0zm18 0zm2 0zm-84 1zm1 0zm2 0zm6 0zm5 0zm3 0zm1 0zm6 0zm3 0zm3 0zm7 0zm11 0zm1 0zm1 0zm3 0zm1 0zm2 0zm5 0zm12 0zm3 0zm7 0zm26 0zm-110 1zm3 0zm20 0zm4 0zm1 0zm3 0zm1 0zm4 0zm4 0zm2 0zm1 0zm3 0zm6 0zm1 0zm7 0zm4 0zm1 0zm20 0zm2 0zm3 0zm3 0zm-80 1zm7 0zm1 0zm2 0zm8 0zm1 0zm7 0zm1 0zm5 0zm1 0zm3 0zm1 0zm3 0zm2 0zm4 0zm3 0zm3 0zm5 0zm5 0zm12 0zm1 0zm12 0zm12 0zm-135 1zm7 0zm27 0zm1 0zm2 0zm4 0zm3 0zm1 0zm4 0zm1 0zm4 0zm3 0zm1 0zm6 0zm1 0zm4 0zm4 0zm4 0zm1 0zm1 0zm6 0zm4 0zm8 0zm4 0zm-88 1zm7 0zm9 0zm6 0zm4 0zm3 0zm3 0zm1 0zm2 0zm3 0zm1 0zm1 0zm7 0zm1 0zm2 0zm9 0zm1 0zm1 0zm2 0zm4 0zm4 0zm1 0zm1 0zm2 0zm5 0zm1 0zm2 0zm4 0zm8 0zm-87 1zm9 0zm1 0zm7 0zm5 0zm12 0zm1 0zm7 0zm6 0zm2 0zm2 0zm3 0zm1 0zm1 0zm1 0zm2 0zm6 0zm2 0zm3 0zm4 0zm1 0zm2 0zm2 0zm14 0zm11 0zm1 0zm5 0zm-116 1zm15 0zm8 0zm4 0zm1 0zm4 0zm3 0zm4 0zm6 0zm1 0zm1 0zm1 0zm1 0zm3 0zm2 0zm1 0zm1 0zm2 0zm6 0zm4 0zm8 0zm2 0zm4 0zm20 0zm-86 1zm1 0zm10 0zm4 0zm1 0zm2 0zm4 0zm2 0zm2 0zm4 0zm1 0zm3 0zm1 0zm1 0zm1 0zm6 0zm3 0zm1 0zm1 0zm1 0zm1 0zm2 0zm4 0zm4 0zm6 0zm3 0zm14 0zm-79 1zm2 0zm2 0zm1 0zm6 0zm7 0zm4 0zm1 0zm3 0zm1 0zm1 0zm1 0zm2 0zm3 0zm2 0zm1 0zm1 0zm1 0zm4 0zm4 0zm7 0zm2 0zm1 0zm9 0zm3 0zm-89 1zm13 0zm7 0zm3 0zm3 0zm8 0zm2 0zm2 0zm2 0zm1 0zm2 0zm3 0zm3 0zm7 0zm7 0zm4 0zm5 0zm1 0zm24 0zm-97 1zm8 0zm5 0zm3 0zm1 0zm2 0zm5 0zm1 0zm2 0zm1 0zm1 0zm7 0zm2 0zm4 0zm1 0zm3 0zm3 0zm1 0zm2 0zm1 0zm1 0zm1 0zm1 0zm4 0zm2 0zm2 0zm2 0zm17 0zm7 0zm-115 1zm42 0zm3 0zm4 0zm3 0zm9 0zm4 0zm3 0zm6 0zm3 0zm1 0zm2 0zm3 0zm3 0zm1 0zm2 0zm6 0zm4 0zm2 0zm7 0zm8 0zm-92 1zm27 0zm3 0zm2 0zm6 0zm5 0zm1 0zm3 0zm1 0zm4 0zm2 0zm3 0zm2 0zm2 0zm1 0zm1 0zm4 0zm2 0zm2 0zm13 0zm5 0zm5 0zm5 0zm17 0zm-123 1zm6 0zm4 0zm19 0zm2 0zm2 0zm3 0zm2 0zm3 0zm2 0zm2 0zm2 0zm6 0zm9 0zm2 0zm4 0zm5 0zm3 0zm3 0zm3 0zm6 0zm4 0zm8 0zm30 0zm-126 1zm7 0zm18 0zm3 0zm2 0zm1 0zm1 0zm1 0zm1 0zm2 0zm4 0zm10 0zm9 0zm1 0zm3 0zm1 0zm1 0zm1 0zm14 0zm1 0zm5 0zm6 0zm14 0zm3 0zm12 0zm-118 1zm1 0zm4 0zm14 0zm2 0zm8 0zm2 0zm1 0zm5 0zm2 0zm1 0zm5 0zm2 0zm4 0zm1 0zm3 0zm6 0zm2 0zm3 0zm1 0zm1 0zm2 0zm2 0zm1 0zm1 0zm4 0zm9 0zm1 0zm6 0zm2 0zm9 0zm15 0zm-126 1zm4 0zm11 0zm1 0zm1 0zm3 0zm12 0zm1 0zm7 0zm4 0zm1 0zm2 0zm1 0zm1 0zm7 0zm2 0zm3 0zm4 0zm2 0zm1 0zm8 0zm3 0zm4 0zm3 0zm2 0zm2 0zm4 0zm1 0zm3 0zm1 0zm5 0zm-91 1zm3 0zm7 0zm1 0zm4 0zm2 0zm1 0zm2 0zm2 0zm1 0zm1 0zm1 0zm1 0zm1 0zm3 0zm9 0zm2 0zm2 0zm1 0zm1 0zm2 0zm2 0zm2 0zm1 0zm1 0zm1 0zm1 0zm2 0zm1 0zm1 0zm1 0zm1 0zm9 0zm9 0zm25 0zm5 0zm-113 1zm21 0zm3 0zm6 0zm7 0zm1 0zm3 0zm1 0zm1 0zm3 0zm2 0zm1 0zm1 0zm7 0zm2 0zm2 0zm1 0zm5 0zm1 0zm2 0zm2 0zm7 0zm1 0zm4 0zm1 0zm3 0zm4 0zm3 0zm-89 1zm2 0zm10 0zm6 0zm4 0zm1 0zm2 0zm7 0zm1 0zm1 0zm5 0zm2 0zm1 0zm3 0zm2 0zm1 0zm1 0zm1 0zm1 0zm3 0zm3 0zm1 0zm2 0zm6 0zm1 0zm1 0zm3 0zm4 0zm4 0zm1 0zm2 0zm2 0zm15 0zm8 0zm-123 1zm11 0zm3 0zm8 0zm6 0zm6 0zm1 0zm6 0zm3 0zm3 0zm5 0zm2 0zm2 0zm2 0zm3 0zm4 0zm2 0zm1 0zm1 0zm5 0zm16 0zm31 0zm-114 1zm23 0zm3 0zm1 0zm1 0zm6 0zm2 0zm3 0zm5 0zm3 0zm1 0zm4 0zm1 0zm6 0zm2 0zm1 0zm1 0zm1 0zm5 0zm2 0zm2 0zm7 0zm3 0zm8 0zm4 0zm40 0zm-144 1zm14 0zm14 0zm10 0zm3 0zm4 0zm1 0zm1 0zm2 0zm1 0zm6 0zm6 0zm1 0zm1 0zm4 0zm1 0zm2 0zm6 0zm3 0zm1 0zm1 0zm2 0zm1 0zm7 0zm10 0zm-79 1zm3 0zm8 0zm6 0zm1 0zm4 0zm1 0zm5 0zm2 0zm2 0zm1 0zm2 0zm2 0zm1 0zm1 0zm6 0zm1 0zm1 0zm2 0zm2 0zm6 0zm3 0zm1 0zm8 0zm4 0zm11 0zm7 0zm-105 1zm8 0zm4 0zm5 0zm3 0zm3 0zm1 0zm9 0zm9 0zm1 0zm3 0zm1 0zm8 0zm4 0zm8 0zm4 0zm2 0zm2 0zm5 0zm2 0zm20 0zm-78 1zm6 0zm6 0zm2 0zm6 0zm2 0zm1 0zm5 0zm2 0zm8 0zm14 0zm1 0zm3 0zm4 0zm2 0zm3 0zm16 0zm31 0zm-120 1zm5 0zm5 0zm1 0zm4 0zm13 0zm10 0zm2 0zm1 0zm2 0zm4 0zm1 0zm8 0zm8 0zm1 0zm3 0zm1 0zm7 0zm4 0zm22 0zm-115 1zm21 0zm4 0zm3 0zm1 0zm2 0zm5 0zm1 0zm1 0zm2 0zm6 0zm2 0zm1 0zm2 0zm11 0zm3 0zm6 0zm2 0zm6 0zm-82 1zm8 0zm11 0zm2 0zm10 0zm5 0zm5 0zm7 0zm1 0zm2 0zm7 0zm1 0zm1 0zm1 0zm4 0zm10 0zm5 0zm9 0zm2 0zm1 0zm34 0zm-131 1zm5 0zm11 0zm5 0zm6 0zm9 0zm5 0zm2 0zm3 0zm2 0zm2 0zm3 0zm6 0zm6 0zm3 0zm1 0zm9 0zm1 0zm1 0zm1 0zm7 0zm2 0zm9 0zm14 0zm-103 1zm15 0zm1 0zm2 0zm6 0zm3 0zm1 0zm1 0zm3 0zm1 0zm2 0zm6 0zm3 0zm2 0zm3 0zm5 0zm7 0zm1 0zm1 0zm2 0zm3 0zm4 0zm1 0zm4 0zm7 0zm4 0zm-87 1zm4 0zm13 0zm5 0zm2 0zm1 0zm7 0zm3 0zm3 0zm3 0zm1 0zm1 0zm5 0zm2 0zm8 0zm1 0zm1 0zm10 0zm9 0zm17 0zm-99 1zm6 0zm4 0zm3 0zm9 0zm11 0zm1 0zm1 0zm2 0zm3 0zm7 0zm5 0zm7 0zm5 0zm5 0zm-95 1zm25 0zm13 0zm4 0zm1 0zm5 0zm4 0zm2 0zm4 0zm4 0zm4 0zm1 0zm1 0zm1 0zm2 0zm1 0zm5 0zm6 0zm7 0zm10 0zm-59 1zm1 0zm7 0zm4 0zm2 0zm1 0zm6 0zm3 0zm1 0zm4 0zm4 0zm4 0zm1 0zm1 0zm1 0zm1 0zm1 0zm3 0zm3 0zm3 0zm4 0zm12 0zm1 0zm7 0zm19 0zm-108 1zm1 0zm27 0zm1 0zm3 0zm8 0zm1 0zm1 0zm1 0zm3 0zm10 0zm5 0zm1 0zm1 0zm1 0zm9 0zm12 0zm-87 1zm6 0zm20 0zm6 0zm2 0zm2 0zm5 0zm7 0zm6 0zm5 0zm5 0zm2 0zm12 0zm4 0zm1 0zm4 0zm5 0zm8 0zm2 0zm-100 1zm6 0zm6 0zm6 0zm8 0zm1 0zm2 0zm1 0zm2 0zm2 0zm6 0zm2 0zm3 0zm2 0zm2 0zm3 0zm3 0zm4 0zm6 0zm1 0zm49 0zm-102 1zm1 0zm8 0zm10 0zm1 0zm1 0zm2 0zm12 0zm1 0zm6 0zm1 0zm1 0zm3 0zm2 0zm1 0zm5 0zm3 0zm5 0zm2 0zm5 0zm4 0zm5 0zm-84 1zm3 0zm11 0zm2 0zm7 0zm5 0zm3 0zm4 0zm3 0zm1 0zm4 0zm3 0zm4 0zm3 0zm3 0zm12 0zm23 0zm-84 1zm7 0zm5 0zm1 0zm1 0zm8 0zm2 0zm1 0zm4 0zm1 0zm8 0zm4 0zm1 0zm1 0zm2 0zm4 0zm10 0zm-67 1zm10 0zm10 0zm10 0zm8 0zm1 0zm2 0zm1 0zm1 0zm1 0zm8 0zm1 0zm1 0zm8 0zm1 0zm2 0zm1 0zm8 0zm1 0zm7 0zm-79 1zm12 0zm2 0zm1 0zm6 0zm9 0zm1 0zm1 0zm7 0zm1 0zm6 0zm2 0zm25 0zm1 0zm5 0zm-71 1zm1 0zm2 0zm4 0zm3 0zm2 0zm1 0zm1 0zm7 0zm4 0zm5 0zm8 0zm8 0zm7 0zm6 0zm13 0zm-105 1zm31 0zm1 0zm6 0zm2 0zm1 0zm3 0zm2 0zm8 0zm3 0zm4 0zm2 0zm3 0zm2 0zm7 0zm1 0zm2 0zm5 0zm15 0zm-65 1zm3 0zm5 0zm8 0zm2 0zm7 0zm4 0zm11 0zm3 0zm7 0zm1 0zm7 0zm16 0zm-105 1zm8 0zm9 0zm9 0zm4 0zm1 0zm1 0zm5 0zm15 0zm4 0zm4 0zm2 0zm2 0zm2 0zm3 0zm1 0zm6 0zm1 0zm9 0zm1 0zm6 0zm5 0zm2 0zm8 0zm11 0zm-97 1zm5 0zm13 0zm4 0zm2 0zm3 0zm13 0zm12 0zm11 0zm1 0zm22 0zm-64 1zm7 0zm2 0zm12 0zm9 0zm9 0zm11 0zm1 0zm8 0zm-115 1zm17 0zm20 0zm8 0zm11 0zm3 0zm5 0zm6 0zm3 0zm1 0zm21 0zm8 0zm-78 1zm19 0zm3 0zm15 0zm3 0zm1 0zm10 0zm15 0zm3 0zm13 0zm-63 1zm12 0zm6 0zm4 0zm14 0zm6 0zm2 0zm-58 1zm22 0zm2 0zm1 0zm8 0zm12 0zm1 0zm25 0zm-76 1zm28 0zm9 0zm4 0zm1 0zm2 0zm1 0zm5 0zm7 0zm16 0zm-23 1zm3 0zm15 0zm4 0zm4 0zm28 0zm-118 1zm14 0zm2 0zm13 0zm3 0zm5 0zm1 0zm3 0zm1 0zm5 0zm6 0zm5 0zm24 0zm30 0zm-79 1zm8 0zm9 0zm30 0zm8 0zm6 0zm6 0zm13 0zm-91 1zm6 0zm12 0zm2 0zm6 0zm1 0zm13 0zm2 0zm27 0zm-53 1zm8 0zm4 0zm4 0zm11 0zm6 0zm6 0zm5 0zm-48 1zm13 0zm11 0zm7 0zm10 0zm-94 1zm68 0zm6 0zm4 0zm-37 1zm6 0zm11 0zm17 0zm3 0zm12 0zm8 0zm3 0zm-60 1zm21 0zm5 0zm8 0zm4 0zm7 0zm2 0zm-38 1zm7 0zm12 0zm3 0zm22 0zm10 0zm11 0zm-77 1zm45 0zm8 0zm4 0zm-49 1zm3 0zm21 0zm27 0zm10 0zm5 0zm9 0zm-55 1zm17 0zm5 0zm2 0zm-33 1zm2 0zm7 0zm8 0zm16 0zm41 0zm3 0zm-88 1zm8 0zm16 0zm10 0zm69 0zm-108 1zm32 0zm27 0zm-35 1zm1 0zm3 0zm17 0zm-39 1zm2 0zm20 0zm20 0zm4 0zm2 0zm16 0zm-129 1zm41 0zm30 1zm3 0zm35 0zm22 0zm-43 1zm6 0zm19 0zm-38 1zm20 2zm-45 1zm33 0zm12 0zm1 0zm43 0zm-62 1zm20 0zm-21 1zm10 2zm-23 2zm8 0zm10 1zm13 0zm15 0zm-45 1zm47 1zm16 2zm41 1zm-69 1zm8 0zm31 2zm-9 1zm-78 3zm71 3z" stroke="#4444c4" stroke-width="2" stroke-opacity="0.75" stroke-linecap="square" fill="none"/>
<path transform="scale(.5)" d="M842 1826zm-14 13zm-42 1zm52 2zm-4 3zm14 0zm-42 1zm5 1zm24 0zm-18 1zm8 0zm1 1zm-11 1zm3 0zm42 0zm-37 4zm9 0zm-14 1zm10 0zm-5 1zm9 0zm2 0zm4 0zm-17 1zm5 0zm4 0zm-26 1zm16 0zm11 0zm-8 1zm21 0zm9 0zm-35 1zm13 0zm-6 1zm24 0zm-29 1zm17 0zm3 0zm-20 2zm14 0zm-23 1zm2 0zm1 0zm26 0zm-40 1zm25 0zm3 0zm26 0zm-32 1zm21 0zm12 0zm-38 1zm1 0zm15 0zm9 0zm3 0zm-22 1zm9 0zm3 0zm-28 1zm20 0zm2 0zm4 0zm17 0zm-13 1zm-29 1zm34 0zm-30 1zm10 0zm4 0zm3 0zm3 0zm11 0zm-28 1zm4 0zm7 0zm4 0zm8 0zm2 0zm-52 1zm15 0zm20 0zm9 0zm17 0zm2 0zm1 0zm3 0zm-43 1zm3 0zm20 0zm1 0zm1 0zm-25 1zm10 0zm9 0zm3 0zm4 0zm3 0zm-19 1zm3 0zm30 0zm-57 1zm16 0zm6 0zm10 0zm-18 1zm1 0zm4 0zm3 0zm10 0zm18 0zm-37 1zm23 0zm3 0zm5 0zm-22 1zm7 0zm2 0zm5 0zm1 0zm3 0zm9 0zm-24 1zm3 0zm6 0zm2 0zm11 0zm4 0zm-30 1zm19 0zm16 0zm-32 1zm10 0zm5 0zm33 0zm-78 1zm40 0zm1 0zm8 0zm1 0zm15 0zm2 0zm-43 1zm5 0zm-1 1zm20 0zm12 0zm-49 1zm6 0zm4 0zm1 0zm13 0zm12 0zm9 0zm-40 1zm14 0zm8 0zm4 0zm-45 1zm35 0zm1 0zm4 0zm12 0zm3 0zm-28 1zm5 0zm7 0zm6 0zm4 0zm2 0zm-36 1zm7 0zm12 0zm2 0zm8 0zm-35 1zm29 0zm3 0zm2 0zm1 0zm3 0zm20 0zm-41 1zm4 0zm5 0zm20 0zm4 0zm-62 1zm56 0zm-42 1zm2 0zm10 0zm9 0zm2 0zm6 0zm5 0zm12 0zm5 1zm-48 1zm10 0zm20 0zm-14 1zm1 0zm2 0zm7 0zm2 0zm2 0zm-32 1zm23 0zm8 0zm9 0zm5 0zm-54 1zm20 0zm2 0zm2 0zm6 0zm4 0zm2 0zm8 0zm2 0zm-27 1zm19 0zm18 0zm7 0zm1 0zm-44 1zm6 0zm5 0zm2 0zm2 0zm32 0zm-30 1zm36 0zm-55 1zm2 0zm14 0zm13 0zm-21 1zm18 0zm11 0zm-12 1zm6 0zm-24 1zm3 0zm5 0zm14 0zm6 0zm-24 1zm1 0zm12 0zm15 0zm-38 1zm1 0zm4 0zm20 0zm3 0zm3 0zm-11 1zm6 0zm3 0zm1 0zm5 0zm-28 1zm7 0zm17 0zm7 0zm6 0zm-35 1zm11 0zm10 0zm4 0zm-22 1zm5 0zm-3 1zm5 0zm2 0zm-4 1zm2 0zm1 0zm12 0zm-17 1zm2 0zm4 0zm-16 1zm22 0zm11 0zm-28 1zm9 0zm13 0zm-27 1zm3 0zm-16 1zm11 0zm11 0zm22 0zm10 0zm-44 1zm22 0zm10 0zm-18 1zm6 0zm-15 1zm11 0zm2 0zm4 0zm-31 1zm30 0zm4 0zm-14 1zm9 1zm-27 1zm32 0zm2 0zm-24 1zm-2 1zm26 1zm-12 1zm-5 1zm3 0zm3 3zm4 0zm16 0zm-17 1zm-26 3zm21 0zm-12 1zm8 0zm35 0zm-31 1zm-24 1zm25 0zm-13 1z" stroke="#5050c4" stroke-width="2" stroke-opacity="0.7" stroke-linecap="square" fill="none"/>
<path transform="scale(.5)" d="M856 1756zm22 4zm-5 1zm18 3zm-11 4zm-8 1zm27 1zm-5 5zm-25 2zm8 2zm-16 2zm42 3zm-58 2zm42 1zm-5 1zm-25 1zm11 0zm11 0zm3 0zm-29 2zm12 0zm7 0zm10 1zm0 1zm-19 1zm7 0zm-8 1zm11 0zm11 0zm2 0zm-17 1zm2 1zm18 0zm6 0zm-20 1zm0 1zm10 0zm2 0zm-26 1zm2 0zm2 0zm10 0zm18 0zm-61 1zm28 0zm15 0zm9 0zm1 0zm1 0zm7 0zm-13 1zm4 0zm25 0zm-32 2zm10 0zm7 0zm-3 1zm-28 1zm3 0zm11 0zm1 0zm-17 1zm3 0zm1 0zm11 0zm2 0zm1 0zm-21 1zm7 0zm3 0zm-2 1zm9 0zm1 0zm4 0zm1 0zm5 0zm3 0zm-25 1zm-8 1zm13 0zm19 0zm-42 1zm15 0zm2 0zm11 0zm5 0zm-22 1zm4 0zm15 0zm6 0zm4 0zm14 0zm-26 1zm8 0zm4 0zm7 1zm-48 1zm7 0zm14 0zm21 0zm-31 1zm6 0zm-1 1zm17 0zm-13 1zm3 0zm4 0zm1 0zm3 0zm2 0zm16 0zm-17 1zm5 0zm-37 1zm25 0zm1 0zm4 0zm1 0zm21 0zm-33 1zm1 0zm8 0zm15 0zm6 0zm-29 1zm-6 1zm5 0zm3 0zm26 0zm15 0zm-42 1zm6 0zm2 0zm3 0zm28 0zm-43 1zm19 0zm6 0zm-40 1zm11 0zm13 0zm8 0zm22 0zm10 0zm-22 1zm-22 1zm4 0zm1 0zm4 0zm13 0zm-21 1zm13 1zm7 0zm-22 1zm13 0zm4 0zm1 0zm-15 1zm2 0zm4 0zm6 0zm6 0zm-10 1zm42 0zm-68 1zm7 0zm9 0zm12 0zm-3 1zm6 0zm2 0zm1 0zm-29 1zm11 0zm25 0zm-27 1zm23 0zm-17 1zm5 0zm1 0zm10 0zm-27 1zm8 0zm6 0zm13 0zm-15 1zm22 0zm-43 1zm25 0zm3 0zm6 0zm5 0zm-34 1zm14 0zm7 0zm1 0zm-15 1zm-23 1zm24 0zm13 0zm1 0zm-14 1zm2 0zm2 0zm9 0zm-33 1zm11 0zm4 0zm18 0zm11 0zm-31 1zm3 0zm21 0zm8 0zm-27 1zm14 0zm9 0zm5 0zm-15 1zm33 0zm-51 1zm2 0zm3 0zm10 0zm8 0zm1 0zm-22 1zm9 0zm-7 1zm3 0zm17 0zm-20 1zm15 0zm-27 1zm29 0zm8 0zm1 0zm-7 1zm8 0zm-15 1zm18 0zm-36 1zm17 0zm-12 1zm10 0zm15 0zm-5 1zm16 0zm-21 1zm6 0zm-36 1zm5 0zm16 0zm3 1zm2 1zm2 0zm7 0zm-8 1zm-13 1zm36 0zm1 0zm6 0zm-25 1zm20 0zm-40 1zm17 1zm12 0zm-23 1zm-2 1zm5 0zm20 0zm1 0zm-37 1zm13 2zm38 1zm-28 2zm6 0zm14 0zm-30 1zm30 0zm-50 2zm20 0zm3 4zm-23 1zm30 2zm0 5zm-20 1zm15 1zm-13 1zm35 8zm-18 7z" stroke="#6060c8" stroke-width="2" stroke-opacity="0.6" stroke-linecap="square" fill="none"/>
<path transform="scale(.5)" d="M889 1706zm8 1zm9 1zm7 11zm-12 3zm8 1zm-5 3zm5 3zm0 2zm1 0zm-12 2zm7 0zm-4 2zm11 0zm-1 3zm-1 1zm1 0zm-6 1zm3 0zm5 0zm-14 1zm-5 1zm8 0zm-4 1zm16 0zm-17 2zm19 1zm-8 1zm1 2zm3 1zm-16 1zm16 1zm-2 1zm-16 1zm20 0zm-16 1zm3 0zm-13 1zm5 0zm13 1zm-10 1zm11 0zm11 0zm-22 1zm14 0zm1 0zm4 0zm1 0zm-30 1zm5 0zm10 0zm4 0zm2 0zm1 1zm5 0zm1 0zm-24 1zm3 0zm10 0zm14 0zm-17 1zm17 1zm-22 1zm2 0zm3 0zm5 0zm5 0zm14 0zm-35 1zm28 0zm-25 1zm4 0zm0 1zm1 1zm3 0zm2 0zm1 0zm3 0zm-8 1zm2 0zm3 0zm-8 1zm19 0zm-32 1zm22 0zm4 0zm1 0zm12 0zm-30 1zm9 0zm5 0zm2 0zm2 0zm1 0zm-17 1zm3 1zm1 0zm5 0zm5 0zm2 0zm5 0zm1 0zm-16 1zm1 0zm2 0zm-14 1zm20 0zm-18 1zm2 0zm7 0zm2 0zm1 0zm1 0zm8 0zm5 0zm-17 1zm6 0zm6 0zm4 0zm-20 1zm4 0zm3 0zm13 0zm1 0zm2 0zm-19 1zm7 0zm5 0zm1 0zm-20 1zm7 0zm3 0zm2 0zm2 0zm8 0zm4 0zm-25 1zm10 0zm1 0zm1 0zm15 0zm-30 1zm4 0zm2 0zm2 0zm1 0zm2 0zm1 0zm5 0zm6 0zm-16 1zm2 0zm4 0zm6 0zm3 0zm-21 1zm7 0zm2 0zm2 0zm6 0zm1 0zm-25 1zm12 0zm1 0zm14 0zm-17 1zm1 0zm3 0zm8 0zm1 0zm2 0zm3 0zm5 0zm-26 1zm7 0zm3 0zm1 0zm1 0zm1 0zm4 0zm3 0zm-14 1zm2 0zm2 0zm1 0zm1 0zm1 0zm2 0zm8 0zm-19 1zm4 0zm1 0zm3 0zm1 0zm-11 1zm4 0zm6 0zm1 0zm3 0zm1 0zm2 0zm8 0zm-34 1zm16 0zm10 0zm1 0zm2 0zm1 0zm10 0zm-31 1zm5 0zm3 0zm1 0zm4 0zm2 0zm1 0zm3 0zm5 0zm-19 1zm2 0zm6 0zm2 0zm2 0zm2 0zm1 0zm-28 1zm3 0zm3 0zm5 0zm1 0zm6 0zm1 0zm8 0zm2 0zm9 0zm1 0zm-27 1zm4 0zm1 0zm2 0zm2 0zm1 0zm4 0zm2 0zm10 0zm-27 1zm1 0zm2 0zm1 0zm1 0zm7 0zm4 0zm1 0zm1 0zm6 0zm-28 1zm2 0zm5 0zm1 0zm2 0zm1 0zm5 0zm1 0zm6 0zm5 0zm2 0zm-28 1zm9 0zm2 0zm-12 1zm4 0zm1 0zm1 0zm1 0zm1 0zm1 0zm1 0zm3 0zm4 0zm3 0zm1 0zm3 0zm-32 1zm15 0zm1 0zm3 0zm4 0zm3 0zm7 0zm-30 1zm3 0zm1 0zm2 0zm2 0zm1 0zm1 0zm1 0zm1 0zm3 0zm1 0zm1 0zm3 0zm4 0zm10 0zm-29 1zm2 0zm1 0zm3 0zm4 0zm1 0zm5 0zm-26 1zm8 0zm2 0zm7 0zm3 0zm1 0zm2 0zm1 0zm2 0zm1 0zm5 0zm1 0zm2 0zm2 0zm1 0zm-32 1zm8 0zm10 0zm2 0zm1 0zm2 0zm3 0zm4 0zm-32 1zm10 0zm2 0zm1 0zm7 0zm1 0zm2 0zm1 0zm5 0zm-26 1zm5 0zm4 0zm2 0zm2 0zm1 0zm2 0zm3 0zm1 0zm5 0zm1 0zm6 0zm-31 1zm4 0zm1 0zm4 0zm2 0zm2 0zm3 0zm2 0zm2 0zm1 0zm2 0zm1 0zm1 0zm3 0zm2 0zm-36 1zm17 0zm2 0zm1 0zm3 0zm7 0zm-28 1zm8 0zm2 0zm1 0zm3 0zm1 0zm1 0zm2 0zm2 0zm2 0zm4 0zm4 0zm10 0zm1 0zm-32 1zm1 0zm6 0zm1 0zm2 0zm5 0zm1 0zm4 0zm5 0zm-32 1zm6 0zm3 0zm6 0zm1 0zm4 0zm1 0zm1 0zm1 0zm7 0zm-30 1zm6 0zm3 0zm1 0zm2 0zm1 0zm2 0zm2 0zm1 0zm1 0zm2 0zm2 0zm1 0zm2 0zm3 0zm-25 1zm2 0zm1 0zm1 0zm3 0zm1 0zm2 0zm1 0zm2 0zm3 0zm2 0zm2 0zm1 0zm-21 1zm2 0zm1 0zm1 0zm1 0zm1 0zm1 0zm3 0zm1 0zm2 0zm1 0zm2 0zm4 0zm2 0zm-23 1zm4 0zm1 0zm3 0zm2 0zm8 0zm2 0zm5 0zm10 0zm-42 1zm8 0zm5 0zm3 0zm3 0zm2 0zm1 0zm2 0zm3 0zm2 0zm3 0zm-25 1zm3 0zm6 0zm2 0zm4 0zm1 0zm1 0zm3 0zm1 0zm2 0zm1 0zm-21 1zm4 0zm1 0zm1 0zm3 0zm1 0zm2 0zm-33 1zm15 0zm1 0zm2 0zm4 0zm1 0zm1 0zm3 0zm1 0zm1 0zm2 0zm1 0zm1 0zm4 0zm2 0zm1 0zm3 0zm-28 1zm1 0zm1 0zm3 0zm2 0zm2 0zm1 0zm2 0zm1 0zm1 0zm1 0zm6 0zm4 0zm2 0zm-22 1zm1 0zm3 0zm3 0zm1 0zm1 0zm1 0zm2 0zm1 0zm1 0zm1 0zm6 0zm-27 1zm5 0zm1 0zm7 0zm2 0zm2 0zm3 0zm1 0zm6 0zm6 0zm-32 1zm2 0zm1 0zm2 0zm1 0zm4 0zm1 0zm2 0zm1 0zm4 0zm2 0zm1 0zm8 0zm3 0zm5 0zm-32 1zm8 0zm1 0zm1 0zm1 0zm2 0zm1 0zm6 0zm1 0zm1 0zm6 0zm-27 1zm1 0zm2 0zm3 0zm1 0zm1 0zm2 0zm2 0zm1 0zm8 0zm1 0zm-23 1zm8 0zm2 0zm1 0zm2 0zm3 0zm2 0zm1 0zm4 0zm4 0zm1 0zm-29 1zm2 0zm1 0zm2 0zm2 0zm4 0zm2 0zm3 0zm2 0zm3 0zm1 0zm3 0zm-37 1zm14 0zm1 0zm5 0zm1 0zm3 0zm1 0zm1 0zm3 0zm6 0zm-25 1zm2 0zm5 0zm4 0zm6 0zm3 0zm3 0zm1 0zm3 0zm-33 1zm2 0zm3 0zm4 0zm3 0zm1 0zm1 0zm2 0zm1 0zm1 0zm1 0zm4 0zm2 0zm3 0zm-25 1zm2 0zm1 0zm2 0zm5 0zm2 0zm1 0zm1 0zm4 0zm1 0zm5 0zm10 0zm-27 1zm2 0zm2 0zm5 0zm1 0zm1 0zm3 0zm1 0zm9 0zm-27 1zm2 0zm1 0zm3 0zm3 0zm1 0zm1 0zm1 0zm3 0zm1 0zm2 0zm1 0zm-25 1zm6 0zm2 0zm2 0zm1 0zm3 0zm1 0zm2 0zm2 0zm2 0zm1 0zm1 0zm1 0zm4 0zm2 0zm1 0zm1 0zm3 0zm-34 1zm7 0zm1 0zm2 0zm6 0zm1 0zm1 0zm4 0zm2 0zm7 0zm-30 1zm4 0zm1 0zm1 0zm1 0zm1 0zm2 0zm1 0zm1 0zm1 0zm1 0zm1 0zm1 0zm2 0zm1 0zm2 0zm1 0zm3 0zm2 0zm1 0zm6 0zm-30 1zm7 0zm1 0zm2 0zm1 0zm1 0zm1 0zm1 0zm1 0zm1 0zm6 0zm1 0zm-26 1zm8 0zm1 0zm1 0zm2 0zm2 0zm8 0zm2 0zm4 0zm2 0zm2 0zm-36 1zm3 0zm2 0zm6 0zm2 0zm4 0zm1 0zm1 0zm1 0zm2 0zm2 0zm4 0zm4 0zm-34 1zm8 0zm5 0zm3 0zm1 0zm3 0zm3 0zm1 0zm6 0zm1 0zm-24 1zm5 0zm3 0zm1 0zm2 0zm2 0zm1 0zm1 0zm1 0zm2 0zm5 0zm-26 1zm1 0zm2 0zm4 0zm6 0zm1 0zm1 0zm1 0zm2 0zm2 0zm1 0zm1 0zm2 0zm3 0zm2 0zm1 0zm7 0zm-36 1zm7 0zm3 0zm1 0zm4 0zm1 0zm2 0zm1 0zm1 0zm1 0zm14 0zm-31 1zm1 0zm1 0zm3 0zm4 0zm2 0zm1 0zm1 0zm2 0zm1 0zm1 0zm1 0zm1 0zm1 0zm4 0zm5 0zm-43 1zm11 0zm2 0zm7 0zm1 0zm2 0zm1 0zm4 0zm8 0zm12 0zm-34 1zm5 0zm2 0zm1 0zm2 0zm1 0zm4 0zm2 0zm7 0zm1 0zm2 0zm-30 1zm3 0zm1 0zm3 0zm2 0zm3 0zm1 0zm1 0zm1 0zm2 0zm1 0zm2 0zm1 0zm4 0zm-28 1zm4 0zm7 0zm3 0zm2 0zm3 0zm1 0zm1 0zm1 0zm17 0zm-35 1zm2 0zm1 0zm1 0zm5 0zm2 0zm4 0zm2 0zm1 0zm1 0zm4 0zm8 0zm-28 1zm3 0zm1 0zm4 0zm2 0zm3 0zm4 0zm8 0zm-32 1zm12 0zm1 0zm2 0zm2 0zm1 0zm2 0zm1 0zm2 0zm1 0zm1 0zm1 0zm4 0zm2 0zm3 0zm7 0zm-43 1zm1 0zm6 0zm3 0zm1 0zm1 0zm1 0zm1 0zm3 0zm2 0zm2 0zm1 0zm1 0zm1 0zm6 0zm-18 1zm1 0zm1 0zm5 0zm2 0zm3 0zm1 0zm1 0zm1 0zm1 0zm3 0zm-30 1zm2 0zm5 0zm2 0zm3 0zm1 0zm2 0zm1 0zm4 0zm1 0zm2 0zm2 0zm4 0zm-23 1zm5 0zm2 0zm1 0zm1 0zm5 0zm6 0zm2 0zm-26 1zm3 0zm1 0zm3 0zm4 0zm2 0zm3 0zm4 0zm1 0zm1 0zm1 0zm4 0zm-25 1zm11 0zm2 0zm1 0zm1 0zm2 0zm4 0zm2 0zm4 0zm1 0zm1 0zm2 0zm-32 1zm2 0zm4 0zm1 0zm4 0zm3 0zm4 0zm1 0zm1 0zm-26 1zm12 0zm3 0zm2 0zm2 0zm1 0zm1 0zm1 0zm3 0zm3 0zm4 0zm-23 1zm6 0zm2 0zm1 0zm3 0zm1 0zm3 0zm4 0zm1 0zm10 0zm-31 1zm3 0zm1 0zm1 0zm2 0zm8 0zm1 0zm1 0zm1 0zm1 0zm1 0zm1 0zm8 0zm-35 1zm8 0zm1 0zm1 0zm3 0zm2 0zm1 0zm2 0zm5 0zm1 0zm1 0zm1 0zm6 0zm-18 1zm1 0zm1 0zm4 0zm4 0zm8 0zm3 0zm5 0zm-35 1zm4 0zm3 0zm4 0zm1 0zm1 0zm1 0zm1 0zm4 0zm5 0zm-30 1zm6 0zm6 0zm2 0zm1 0zm1 0zm3 0zm1 0zm1 0zm1 0zm4 0zm2 0zm2 0zm-24 1zm5 0zm5 0zm4 0zm7 0zm-25 1zm8 0zm6 0zm1 0zm2 0zm1 0zm1 0zm3 0zm-22 1zm12 0zm1 0zm2 0zm1 0zm1 0zm1 0zm1 0zm12 0zm4 0zm-20 1zm2 0zm2 0zm1 0zm1 0zm1 0zm5 0zm3 0zm2 0zm-41 1zm11 0zm5 0zm3 0zm1 0zm2 0zm7 0zm2 0zm1 0zm2 0zm3 0zm-34 1zm15 0zm1 0zm1 0zm1 0zm1 0zm3 0zm1 0zm2 0zm-8 1zm1 0zm2 0zm2 0zm5 0zm3 0zm9 0zm1 0zm-30 1zm2 0zm1 0zm2 0zm2 0zm2 0zm6 0zm1 0zm3 0zm2 0zm1 0zm-24 1zm3 0zm1 0zm1 0zm8 0zm6 0zm5 0zm-21 1zm4 0zm3 0zm1 0zm2 0zm2 0zm2 0zm1 0zm1 0zm2 0zm3 0zm6 0zm-27 1zm8 0zm1 0zm8 0zm-14 1zm3 0zm1 0zm1 0zm1 0zm6 0zm6 0zm4 0zm6 0zm1 0zm-31 1zm5 0zm2 0zm6 0zm1 0zm4 0zm1 0zm3 0zm1 0zm3 0zm8 0zm-35 1zm3 0zm16 0zm5 0zm-18 1zm2 0zm2 0zm1 0zm13 0zm3 0zm-34 1zm16 0zm1 0zm2 0zm1 0zm1 0zm2 0zm1 0zm-9 1zm3 0zm3 0zm2 0zm-27 1zm11 0zm4 0zm2 0zm4 0zm3 0zm1 0zm2 0zm5 0zm4 0zm-38 1zm18 0zm1 0zm3 0zm5 0zm1 0zm3 0zm3 0zm3 0zm-29 1zm3 0zm1 0zm2 0zm4 0zm10 0zm2 0zm2 0zm1 0zm3 0zm1 0zm-32 1zm14 0zm1 0zm2 0zm2 0zm4 0zm4 0zm-20 1zm2 0zm12 0zm5 0zm1 0zm1 0zm9 0zm-22 1zm5 0zm4 0zm4 0zm17 0zm-36 1zm7 0zm8 0zm3 0zm-20 1zm6 0zm1 0zm3 0zm8 0zm-15 1zm5 0zm5 0zm1 0zm5 0zm4 0zm-14 1zm3 0zm5 0zm7 0zm-28 1zm2 0zm10 0zm1 0zm6 0zm4 0zm1 0zm7 0zm-23 1zm12 0zm1 0zm5 0zm-26 1zm4 0zm8 0zm3 0zm4 0zm4 0zm1 0zm-11 1zm1 0zm1 0zm2 0zm3 0zm8 0zm-24 1zm2 0zm14 0zm-23 1zm6 0zm2 0zm9 0zm1 0zm2 0zm3 0zm1 0zm1 0zm2 0zm-8 1zm5 0zm1 0zm-16 1zm2 0zm2 0zm2 0zm4 0zm-12 1zm13 0zm4 0zm4 0zm5 0zm-29 1zm6 0zm10 0zm5 0zm2 0zm1 0zm-24 1zm11 0zm4 0zm5 0zm2 0zm14 0zm-20 1zm1 0zm5 0zm2 0zm-3 1zm-4 1zm1 0zm3 0zm1 0zm2 0zm-15 1zm3 0zm3 0zm-11 1zm1 0zm11 0zm2 0zm-14 1zm12 0zm7 0zm9 1zm-19 1zm-11 1zm12 0zm7 0zm-7 1zm3 0zm10 0zm-15 1zm11 0zm-23 1zm13 0zm4 0zm1 0zm12 0zm-3 1zm-29 1zm12 0zm4 0zm4 0zm6 0zm-4 1zm2 0zm-2 1zm-1 1zm3 0zm4 0zm-28 1zm23 0zm1 0zm-22 1zm1 0zm13 5zm16 0zm-23 1zm16 0zm-12 1zm25 1zm-26 1zm8 0zm1 1zm3 1zm-5 5zm-7 1zm4 2zm-24 1zm32 0zm0 1zm-9 1z" stroke="#3c3cc0" stroke-width="2" stroke-opacity="0.8" stroke-linecap="square" fill="none"/>
<path transform="scale(.5)" d="M906 1848zm2 17zm3 2zm-9 2zm9 0zm-1 2zm2 0zm-5 2zm-10 3zm7 1zm1 4zm14 0zm-5 1zm-19 2zm8 0zm2 1zm1 0zm-11 1zm10 0zm4 0zm-8 1zm6 0zm3 0zm-10 1zm1 0zm3 0zm-7 1zm1 0zm2 0zm0 1zm1 0zm8 0zm-3 1zm3 0zm-13 2zm2 0zm5 0zm8 0zm0 1zm-12 1zm1 0zm2 0zm5 0zm-7 1zm4 0zm6 0zm-17 1zm8 0zm2 0zm9 0zm-12 1zm1 1zm3 0zm3 0zm2 0zm7 0zm-16 1zm1 0zm2 0zm3 0zm-9 1zm7 0zm1 0zm1 0zm3 0zm1 0zm17 0zm-30 1zm5 0zm6 0zm-6 1zm4 0zm-10 1zm7 0zm5 0zm1 0zm4 0zm-17 1zm2 0zm7 0zm3 0zm1 0zm5 0zm-9 1zm1 0zm4 0zm2 0zm-2 1zm-10 1zm5 0zm6 0zm3 0zm-13 1zm4 0zm7 0zm-17 1zm1 0zm8 0zm3 1zm0 1zm8 0zm-14 1zm5 0zm-5 1zm-10 1zm7 0zm2 0zm10 0zm2 1zm-6 1zm1 0zm-12 1zm1 0zm2 0zm3 0zm4 0zm1 0zm7 0zm2 0zm-11 1zm1 0zm-10 1zm3 0zm5 0zm1 0zm1 0zm8 0zm-17 1zm10 0zm2 0zm2 0zm-14 1zm5 0zm1 0zm4 0zm4 0zm-11 1zm4 0zm2 0zm1 0zm2 0zm-19 1zm11 0zm3 0zm1 0zm4 0zm7 0zm-25 1zm17 0zm1 0zm-13 1zm5 0zm6 0zm1 0zm1 0zm-17 1zm1 0zm4 0zm2 0zm2 0zm4 0zm-5 1zm12 0zm-5 1zm1 1zm-1 1zm7 0zm-9 1zm12 0zm-8 1zm-9 1zm7 0zm1 0zm-7 1zm7 0zm3 0zm-8 1zm8 0zm-5 1zm-6 2zm19 0zm-16 2zm17 1zm-18 1z" stroke="#5050c4" stroke-width="2" stroke-opacity="0.7" stroke-linecap="square" fill="none"/>
</g>
<g filter="url(#rough)">
<path d="M400.5 916C401 910 428.5 910 429 916C429.5 924 421 937 415.5 938.5C410 937 400 924 400.5 916Z" fill="#2e36c6" fill-opacity=".6"/>
<path d="M403.5 917C404 912.5 425.5 912.5 426 917C426.4 923 419.5 932.6 415.3 934C411 932.6 403.1 923 403.5 917Z" fill="#3d7fe8" stroke="#16208a" stroke-width=".45" stroke-opacity=".75"/>
<path d="M406.5 918C407 914.8 422.8 914.8 423.3 918C423.6 922.5 418.5 929 415.2 930C411.9 929 406.2 922.5 406.5 918Z" fill="#3a9ce6" stroke="#16208a" stroke-width=".45" stroke-opacity=".75"/>
<ellipse cx="415" cy="920.6" rx="5.2" ry="3.9" fill="#4ac6e4" stroke="#16208a" stroke-width=".45" stroke-opacity=".75"/>
<path d="M453 880C456.5 884 458.8 895 458.9 910C459 925 457 940 454 953C451 946 444.5 932 443.6 921C443 910 448 890 453 880Z" fill="#2e36c6" fill-opacity=".7"/>
<path d="M453.2 884C456 888 457.7 897 457.8 910C457.9 924 456.2 937 453.9 948C451.5 941 446 930 445.2 921C444.7 911 449 893 453.2 884Z" fill="#3d7fe8" stroke="#16208a" stroke-width=".4" stroke-opacity=".7"/>
<path d="M453.5 889C455.6 893 456.6 900 456.7 910C456.8 922 455.5 933 453.8 942C452 936 447.6 928 447 921C446.6 912 450 897 453.5 889Z" fill="#4ac6e4" stroke="#16208a" stroke-width=".4" stroke-opacity=".7"/>
<path d="M453.8 896C455.2 899 455.6 904 455.7 911C455.8 920 454.8 928 453.7 934C452.3 930 449.2 925 448.9 920C448.6 913 451 903 453.8 896Z" fill="#4ee79b"/>
<ellipse cx="453.2" cy="916" rx="1.5" ry="9" fill="#b8f064"/>
<ellipse cx="353.6" cy="927" rx="2.4" ry="15" fill="#2fbf9a"/>
<ellipse cx="412" cy="974.3" rx="12.5" ry="1.7" fill="#38c090"/>
<ellipse cx="449" cy="974.3" rx="8" ry="1.7" fill="#38c878"/>
</g>
<path d="M426.6 851.7L474.8 851.7L474.8 908.2L426.6 908.2Z" fill="none" stroke="#555" stroke-width="0.9"/>
</g>
<path d="M353.6 849.6H478.8V974.2" fill="none" stroke="#8a8a8a" stroke-width="1"/>
<path d="M353.6 849.6V974.2H478.8" fill="none" stroke="#2a2a2a" stroke-width="1.1"/>
<text x="336.6" y="861.4" font-size="7.8" fill="#333">10<tspan dy="-3.1" font-size="5.7">5</tspan></text>
<text x="336.6" y="882.5" font-size="7.8" fill="#333">10<tspan dy="-3.1" font-size="5.7">4</tspan></text>
<text x="336.6" y="903.4" font-size="7.8" fill="#333">10<tspan dy="-3.1" font-size="5.7">3</tspan></text>
<text x="336.6" y="924.3" font-size="7.8" fill="#333">10<tspan dy="-3.1" font-size="5.7">2</tspan></text>
<text x="336.6" y="945.3" font-size="7.8" fill="#333">10<tspan dy="-3.1" font-size="5.7">1</tspan></text>
<text x="336.6" y="966.2" font-size="7.8" fill="#333">10<tspan dy="-3.1" font-size="5.7">0</tspan></text>
<path d="M353.6 858.3h-3M353.6 879.4h-3M353.6 900.3h-3M353.6 921.2h-3M353.6 942.2h-3M353.6 963.1h-3M353.6 851.9h-1.5M353.6 873h-1.5M353.6 869.3h-1.5M353.6 866.7h-1.5M353.6 864.7h-1.5M353.6 863h-1.5M353.6 861.6h-1.5M353.6 860.3h-1.5M353.6 859.3h-1.5M353.6 894h-1.5M353.6 890.3h-1.5M353.6 887.7h-1.5M353.6 885.7h-1.5M353.6 884h-1.5M353.6 882.6h-1.5M353.6 881.4h-1.5M353.6 880.4h-1.5M353.6 914.9h-1.5M353.6 911.2h-1.5M353.6 908.6h-1.5M353.6 906.6h-1.5M353.6 904.9h-1.5M353.6 903.5h-1.5M353.6 902.3h-1.5M353.6 901.3h-1.5M353.6 935.9h-1.5M353.6 932.2h-1.5M353.6 929.6h-1.5M353.6 927.5h-1.5M353.6 925.9h-1.5M353.6 924.5h-1.5M353.6 923.2h-1.5M353.6 922.2h-1.5M353.6 956.8h-1.5M353.6 953.1h-1.5M353.6 950.5h-1.5M353.6 948.5h-1.5M353.6 946.8h-1.5M353.6 945.4h-1.5M353.6 944.2h-1.5M353.6 943.2h-1.5M353.6 971.5h-1.5M353.6 969.5h-1.5M353.6 967.8h-1.5M353.6 966.4h-1.5M353.6 965.1h-1.5M353.6 964.1h-1.5" stroke="#2a2a2a" stroke-width=".7" fill="none"/>
<text x="359" y="986.8" font-size="7.8" fill="#333">10<tspan dy="-3.1" font-size="5.7">0</tspan></text>
<text x="380" y="986.8" font-size="7.8" fill="#333">10<tspan dy="-3.1" font-size="5.7">1</tspan></text>
<text x="401" y="986.8" font-size="7.8" fill="#333">10<tspan dy="-3.1" font-size="5.7">2</tspan></text>
<text x="422" y="986.8" font-size="7.8" fill="#333">10<tspan dy="-3.1" font-size="5.7">3</tspan></text>
<text x="443" y="986.8" font-size="7.8" fill="#333">10<tspan dy="-3.1" font-size="5.7">4</tspan></text>
<text x="463.8" y="986.8" font-size="7.8" fill="#333">10<tspan dy="-3.1" font-size="5.7">5</tspan></text>
<path d="M365 974.2v3M386 974.2v3M407 974.2v3M428 974.2v3M449 974.2v3M469.8 974.2v3M356.6 974.2v1.5M358.7 974.2v1.5M360.3 974.2v1.5M361.7 974.2v1.5M363 974.2v1.5M364 974.2v1.5M371.3 974.2v1.5M375 974.2v1.5M377.6 974.2v1.5M379.7 974.2v1.5M381.3 974.2v1.5M382.7 974.2v1.5M384 974.2v1.5M385 974.2v1.5M392.3 974.2v1.5M396 974.2v1.5M398.6 974.2v1.5M400.7 974.2v1.5M402.3 974.2v1.5M403.7 974.2v1.5M405 974.2v1.5M406 974.2v1.5M413.3 974.2v1.5M417 974.2v1.5M419.6 974.2v1.5M421.7 974.2v1.5M423.3 974.2v1.5M424.7 974.2v1.5M426 974.2v1.5M427 974.2v1.5M434.3 974.2v1.5M438 974.2v1.5M440.6 974.2v1.5M442.7 974.2v1.5M444.3 974.2v1.5M445.7 974.2v1.5M447 974.2v1.5M448 974.2v1.5M455.3 974.2v1.5M458.9 974.2v1.5M461.5 974.2v1.5M463.5 974.2v1.5M465.2 974.2v1.5M466.6 974.2v1.5M467.8 974.2v1.5M468.8 974.2v1.5M476.1 974.2v1.5" stroke="#2a2a2a" stroke-width=".7" fill="none"/>
<text x="429.2" y="867.1" font-size="12.3" fill="#111" font-weight="bold">Tregs</text>
<text x="428.4" y="882.2" font-size="12.3" fill="#111" font-weight="bold">17.9%</text>
<text x="420.2" y="842.4" font-size="16.5" fill="#000" text-anchor="middle" font-weight="bold">CD3+</text>
<text x="326.9" y="918.8" font-size="18" font-weight="bold" text-anchor="middle" fill="#000" transform="rotate(-90 326.9 918.8)">CD25</text>
<text x="416.8" y="1007.4" font-size="18" fill="#000" text-anchor="middle" font-weight="bold">CD4</text>
<g clip-path="url(#c10)">
<g filter="url(#haze)">
<ellipse cx="605" cy="893" rx="19" ry="10" fill="#5656dc" fill-opacity="0.5" transform="rotate(-4 605 893)"/>
<ellipse cx="580" cy="893" rx="11" ry="5" fill="#5656dc" fill-opacity="0.2"/>
<ellipse cx="628" cy="911" rx="10" ry="8" fill="#5656dc" fill-opacity="0.5" transform="rotate(40 628 911)"/>
<ellipse cx="632.5" cy="926" rx="5" ry="8" fill="#5656dc" fill-opacity="0.2" transform="rotate(-15 632.5 926)"/>
</g>
<g filter="url(#rough)">
<path transform="scale(.5)" d="M1287 1810zm-92 2zm37 12zm-1 2zm-35 2zm2 2zm10 0zm-14 3zm78 1zm-79 1zm20 2zm73 0zm-44 5zm-48 4zm20 1zm13 0zm39 0zm6 2zm-46 1zm9 0zm-54 1zm106 1zm-39 2zm-47 1zm13 0zm-14 3zm-26 2zm62 0zm-82 2zm55 1zm13 1zm-31 1zm35 0zm43 0zm-66 2zm42 0zm-41 2zm-3 2zm54 2zm-27 2zm16 1zm-18 1zm8 0zm4 0zm54 0zm-41 5zm-13 1zm-10 1zm-46 2zm42 2zm9 0zm-53 2zm42 2zm89 1zm-122 4zm38 6zm24 4zm-44 15zm53 10z" stroke="#a0a0c8" stroke-width="2" stroke-opacity="0.55" stroke-linecap="square" fill="none"/>
<path transform="scale(.5)" d="M1179 1755zm-39 2zm-17 3zm35 2zm-9 1zm4 0zm20 0zm4 0zm36 1zm-77 1zm-13 1zm1 0zm15 0zm18 0zm-1 1zm-16 1zm7 0zm25 0zm11 0zm13 0zm-75 1zm47 0zm31 0zm-38 1zm5 0zm1 0zm1 0zm20 0zm-17 1zm7 0zm10 0zm-64 1zm14 0zm17 0zm-28 1zm37 0zm1 0zm2 0zm9 0zm17 0zm9 0zm2 0zm-72 1zm36 0zm1 0zm1 0zm3 0zm-53 1zm16 0zm14 0zm10 0zm4 0zm-42 1zm4 0zm5 0zm18 0zm9 0zm1 0zm5 0zm2 0zm4 0zm18 0zm9 0zm7 0zm-51 1zm8 0zm2 0zm4 0zm2 0zm10 0zm3 0zm13 0zm8 0zm1 0zm18 0zm-76 1zm13 0zm13 0zm16 0zm-70 1zm26 0zm7 0zm6 0zm12 0zm6 0zm9 0zm2 0zm-69 1zm6 0zm7 0zm1 0zm4 0zm3 0zm6 0zm2 0zm5 0zm7 0zm7 0zm13 0zm3 0zm11 0zm-71 1zm2 0zm19 0zm7 0zm8 0zm4 0zm1 0zm3 0zm2 0zm6 0zm2 0zm26 0zm-85 1zm23 0zm11 0zm5 0zm3 0zm2 0zm6 0zm6 0zm2 0zm3 0zm15 0zm1 0zm3 0zm-67 1zm8 0zm15 0zm4 0zm4 0zm7 0zm4 0zm1 0zm9 0zm1 0zm17 0zm-58 1zm9 0zm3 0zm4 0zm3 0zm2 0zm2 0zm9 0zm1 0zm2 0zm3 0zm1 0zm-42 1zm2 0zm25 0zm12 0zm5 0zm1 0zm27 0zm3 0zm-88 1zm6 0zm5 0zm5 0zm9 0zm4 0zm4 0zm3 0zm1 0zm1 0zm7 0zm4 0zm22 0zm-73 1zm41 0zm1 0zm9 0zm12 0zm2 0zm20 0zm9 0zm-100 1zm17 0zm11 0zm2 0zm13 0zm1 0zm2 0zm4 0zm7 0zm2 0zm1 0zm4 0zm8 0zm-60 1zm8 0zm11 0zm1 0zm8 0zm1 0zm10 0zm6 0zm1 0zm25 0zm-81 1zm8 0zm10 0zm1 0zm2 0zm2 0zm11 0zm15 0zm7 0zm4 0zm3 0zm13 0zm-51 1zm2 0zm3 0zm13 0zm12 0zm32 0zm-89 1zm29 0zm2 0zm10 0zm4 0zm7 0zm6 0zm1 0zm39 0zm-85 1zm11 0zm7 0zm2 0zm9 0zm12 0zm27 0zm8 0zm-86 1zm8 0zm12 0zm5 0zm6 0zm1 0zm2 0zm8 0zm1 0zm14 0zm-41 1zm20 0zm2 0zm9 0zm4 0zm8 0zm8 0zm-61 1zm10 0zm1 0zm8 0zm2 0zm12 0zm11 0zm3 0zm20 0zm16 0zm-84 1zm50 0zm21 0zm-82 1zm3 0zm32 0zm3 0zm6 0zm20 0zm9 0zm5 0zm-61 1zm13 0zm17 0zm9 0zm4 0zm-34 1zm1 0zm7 0zm4 0zm9 0zm3 0zm7 0zm42 0zm-50 1zm3 0zm-27 1zm13 0zm18 0zm9 0zm2 0zm-63 2zm22 0zm4 0zm1 0zm16 0zm46 0zm-63 1zm19 0zm21 0zm-57 1zm49 0zm-42 3zm24 0zm28 0zm-30 7zm7 1z" stroke="#5a5ac4" stroke-width="2" stroke-opacity="0.7" stroke-linecap="square" fill="none"/>
<path transform="scale(.5)" d="M1230 1738zm-30 7zm6 0zm27 2zm-30 6zm57 0zm-29 1zm-52 1zm48 1zm-43 1zm11 0zm21 0zm-10 1zm4 0zm21 0zm3 0zm-35 1zm12 0zm2 0zm10 0zm-51 1zm8 0zm24 0zm13 0zm3 0zm16 0zm16 0zm-72 1zm39 0zm1 0zm9 0zm-11 1zm2 0zm1 0zm5 0zm45 0zm-63 1zm5 0zm2 0zm11 0zm32 0zm-67 1zm2 0zm3 0zm19 0zm13 0zm3 0zm1 0zm9 0zm4 0zm-58 1zm26 0zm27 0zm4 0zm-59 1zm17 0zm2 0zm31 0zm4 0zm15 0zm13 0zm-115 1zm17 0zm19 0zm1 0zm2 0zm2 0zm12 0zm12 0zm2 0zm4 0zm5 0zm28 0zm4 0zm-97 1zm3 0zm22 0zm24 0zm3 0zm4 0zm2 0zm9 0zm6 0zm4 0zm1 0zm4 0zm-63 1zm4 0zm1 0zm7 0zm3 0zm3 0zm3 0zm4 0zm1 0zm3 0zm8 0zm5 0zm4 0zm1 0zm1 0zm3 0zm4 0zm5 0zm13 0zm-81 1zm8 0zm6 0zm5 0zm9 0zm5 0zm2 0zm4 0zm2 0zm1 0zm1 0zm6 0zm11 0zm2 0zm-66 1zm14 0zm9 0zm8 0zm3 0zm7 0zm3 0zm8 0zm2 0zm1 0zm20 0zm2 0zm14 0zm2 0zm-92 1zm22 0zm5 0zm14 0zm1 0zm5 0zm4 0zm6 0zm3 0zm1 0zm15 0zm2 0zm11 0zm13 0zm-102 1zm17 0zm10 0zm7 0zm3 0zm1 0zm2 0zm13 0zm1 0zm2 0zm16 0zm2 0zm9 0zm-66 1zm2 0zm5 0zm6 0zm5 0zm3 0zm7 0zm11 0zm3 0zm6 0zm2 0zm4 0zm10 0zm2 0zm-93 1zm5 0zm6 0zm4 0zm7 0zm21 0zm2 0zm8 0zm1 0zm2 0zm1 0zm1 0zm2 0zm5 0zm1 0zm2 0zm6 0zm5 0zm7 0zm19 0zm-126 1zm19 0zm19 0zm4 0zm2 0zm7 0zm3 0zm1 0zm1 0zm9 0zm1 0zm4 0zm4 0zm1 0zm3 0zm3 0zm3 0zm4 0zm6 0zm1 0zm6 0zm4 0zm30 0zm-112 1zm3 0zm23 0zm7 0zm3 0zm1 0zm1 0zm3 0zm2 0zm1 0zm2 0zm1 0zm5 0zm2 0zm3 0zm2 0zm1 0zm11 0zm6 0zm1 0zm8 0zm3 0zm15 0zm-76 1zm4 0zm1 0zm1 0zm1 0zm1 0zm6 0zm3 0zm2 0zm1 0zm3 0zm1 0zm2 0zm1 0zm3 0zm1 0zm8 0zm2 0zm3 0zm5 0zm8 0zm6 0zm-91 1zm15 0zm4 0zm20 0zm3 0zm5 0zm2 0zm4 0zm3 0zm3 0zm1 0zm2 0zm2 0zm1 0zm2 0zm3 0zm5 0zm5 0zm1 0zm1 0zm9 0zm-80 1zm2 0zm4 0zm1 0zm1 0zm6 0zm3 0zm1 0zm1 0zm1 0zm4 0zm1 0zm1 0zm6 0zm2 0zm2 0zm4 0zm6 0zm1 0zm3 0zm3 0zm4 0zm3 0zm3 0zm9 0zm-64 1zm3 0zm2 0zm2 0zm4 0zm1 0zm4 0zm2 0zm3 0zm3 0zm5 0zm2 0zm2 0zm2 0zm1 0zm2 0zm2 0zm22 0zm7 0zm-76 1zm4 0zm7 0zm1 0zm1 0zm1 0zm2 0zm6 0zm2 0zm2 0zm1 0zm2 0zm3 0zm3 0zm8 0zm6 0zm1 0zm4 0zm3 0zm1 0zm22 0zm4 0zm2 0zm14 0zm-103 1zm6 0zm13 0zm8 0zm9 0zm2 0zm7 0zm10 0zm2 0zm2 0zm1 0zm1 0zm1 0zm2 0zm9 0zm3 0zm16 0zm-84 1zm1 0zm1 0zm2 0zm5 0zm1 0zm13 0zm6 0zm1 0zm1 0zm2 0zm2 0zm3 0zm1 0zm2 0zm6 0zm1 0zm11 0zm2 0zm12 0zm1 0zm-95 1zm11 0zm3 0zm16 0zm1 0zm3 0zm4 0zm1 0zm3 0zm6 0zm1 0zm1 0zm1 0zm3 0zm1 0zm1 0zm4 0zm3 0zm1 0zm6 0zm6 0zm4 0zm3 0zm4 0zm6 0zm17 0zm-112 1zm12 0zm5 0zm1 0zm5 0zm1 0zm7 0zm5 0zm7 0zm8 0zm2 0zm2 0zm2 0zm1 0zm5 0zm6 0zm4 0zm2 0zm3 0zm5 0zm1 0zm1 0zm9 0zm3 0zm2 0zm-76 1zm4 0zm1 0zm3 0zm2 0zm2 0zm1 0zm1 0zm2 0zm2 0zm3 0zm2 0zm2 0zm1 0zm1 0zm5 0zm1 0zm5 0zm5 0zm4 0zm2 0zm1 0zm3 0zm1 0zm1 0zm1 0zm5 0zm9 0zm8 0zm7 0zm-84 1zm4 0zm4 0zm4 0zm2 0zm2 0zm2 0zm4 0zm2 0zm1 0zm5 0zm2 0zm2 0zm4 0zm1 0zm6 0zm1 0zm3 0zm2 0zm1 0zm2 0zm2 0zm3 0zm1 0zm2 0zm2 0zm3 0zm4 0zm3 0zm6 0zm5 0zm-98 1zm17 0zm11 0zm3 0zm3 0zm2 0zm2 0zm1 0zm1 0zm6 0zm6 0zm1 0zm1 0zm3 0zm1 0zm8 0zm3 0zm26 0zm-100 1zm9 0zm12 0zm4 0zm3 0zm5 0zm2 0zm1 0zm5 0zm1 0zm2 0zm3 0zm3 0zm1 0zm1 0zm1 0zm3 0zm9 0zm1 0zm5 0zm4 0zm1 0zm-83 1zm12 0zm9 0zm4 0zm4 0zm1 0zm3 0zm2 0zm1 0zm2 0zm8 0zm3 0zm3 0zm7 0zm1 0zm4 0zm1 0zm2 0zm5 0zm3 0zm3 0zm2 0zm7 0zm4 0zm-75 1zm2 0zm8 0zm18 0zm1 0zm5 0zm1 0zm1 0zm1 0zm1 0zm1 0zm7 0zm2 0zm9 0zm1 0zm2 0zm1 0zm4 0zm2 0zm1 0zm1 0zm3 0zm-89 1zm11 0zm11 0zm6 0zm4 0zm4 0zm1 0zm4 0zm1 0zm1 0zm1 0zm3 0zm4 0zm3 0zm2 0zm5 0zm4 0zm1 0zm2 0zm1 0zm1 0zm4 0zm2 0zm2 0zm2 0zm6 0zm-74 1zm6 0zm14 0zm3 0zm3 0zm8 0zm1 0zm1 0zm1 0zm1 0zm1 0zm1 0zm1 0zm4 0zm1 0zm3 0zm1 0zm1 0zm5 0zm1 0zm3 0zm2 0zm3 0zm8 0zm13 0zm7 0zm-90 1zm8 0zm3 0zm1 0zm7 0zm3 0zm4 0zm2 0zm1 0zm2 0zm6 0zm4 0zm2 0zm1 0zm3 0zm2 0zm1 0zm4 0zm4 0zm53 0zm-110 1zm4 0zm6 0zm1 0zm11 0zm2 0zm5 0zm1 0zm1 0zm2 0zm2 0zm1 0zm1 0zm1 0zm6 0zm1 0zm3 0zm4 0zm2 0zm3 0zm2 0zm3 0zm3 0zm27 0zm-73 1zm4 0zm5 0zm3 0zm1 0zm2 0zm6 0zm1 0zm3 0zm1 0zm1 0zm4 0zm1 0zm3 0zm10 0zm6 0zm-81 1zm14 0zm3 0zm13 0zm4 0zm3 0zm2 0zm2 0zm1 0zm2 0zm3 0zm1 0zm1 0zm1 0zm4 0zm1 0zm1 0zm4 0zm2 0zm2 0zm6 0zm2 0zm1 0zm6 0zm17 0zm28 0zm-131 1zm6 0zm22 0zm5 0zm6 0zm10 0zm2 0zm3 0zm3 0zm8 0zm7 0zm1 0zm1 0zm3 0zm10 0zm3 0zm1 0zm1 0zm13 0zm11 0zm-95 1zm27 0zm2 0zm5 0zm2 0zm4 0zm3 0zm4 0zm2 0zm4 0zm3 0zm34 0zm-95 1zm6 0zm3 0zm4 0zm8 0zm11 0zm1 0zm1 0zm1 0zm2 0zm2 0zm1 0zm2 0zm3 0zm3 0zm1 0zm1 0zm5 0zm1 0zm-42 1zm13 0zm3 0zm8 0zm2 0zm7 0zm1 0zm16 0zm9 0zm-14 1zm18 0zm-80 1zm19 0zm10 0zm2 0zm4 0zm13 0zm2 0zm1 0zm1 0zm9 0zm26 0zm-68 1zm11 0zm3 0zm3 0zm1 0zm10 0zm2 0zm6 0zm2 0zm7 0zm8 0zm6 0zm-65 1zm16 0zm5 0zm6 0zm3 0zm7 0zm4 0zm2 0zm8 0zm1 0zm14 0zm-71 1zm7 0zm5 0zm8 0zm2 0zm2 0zm10 0zm5 0zm5 0zm25 0zm-57 1zm14 0zm12 0zm13 0zm7 0zm6 0zm1 0zm-55 1zm3 0zm31 0zm40 0zm-94 1zm13 0zm16 0zm1 0zm2 0zm23 0zm2 0zm5 0zm8 0zm-40 1zm9 0zm14 0zm-20 1zm13 0zm1 0zm10 0zm26 0zm-62 1zm47 0zm20 0zm8 0zm-48 1zm2 0zm28 0zm14 0zm-79 1zm44 0zm-9 1zm8 0zm7 0zm-42 1zm6 0zm19 0zm6 0zm18 2zm31 0zm-83 1zm36 1zm0 1zm-20 2zm12 0zm-26 1zm22 1zm-42 7z" stroke="#3c3cbc" stroke-width="2" stroke-opacity="0.85" stroke-linecap="square" fill="none"/>
<path transform="scale(.5)" d="M1279 1785zm-43 2zm23 1zm-36 3zm27 0zm-8 3zm1 0zm-4 1zm8 0zm6 0zm3 0zm-23 1zm8 0zm4 0zm6 0zm0 1zm5 0zm1 0zm7 0zm7 0zm-41 1zm19 0zm1 0zm2 0zm-12 1zm3 0zm12 1zm5 0zm20 0zm4 0zm-67 1zm26 0zm1 0zm3 0zm3 0zm2 0zm3 0zm12 0zm1 0zm-28 1zm3 0zm2 0zm2 0zm1 0zm10 0zm-29 1zm7 0zm17 0zm4 0zm8 0zm-24 1zm18 0zm6 0zm-32 1zm3 0zm9 0zm2 0zm2 0zm9 0zm3 0zm5 0zm4 0zm6 0zm-49 1zm5 0zm5 0zm3 0zm4 0zm3 0zm3 0zm9 0zm8 0zm5 0zm11 0zm-44 1zm2 0zm5 0zm3 0zm2 0zm3 0zm2 0zm14 0zm5 0zm-39 1zm3 0zm7 0zm6 0zm1 0zm6 0zm4 0zm2 0zm-30 1zm4 0zm1 0zm4 0zm4 0zm9 0zm26 0zm-47 1zm6 0zm10 0zm3 0zm10 0zm4 0zm4 0zm-50 1zm15 0zm4 0zm7 0zm1 0zm1 0zm5 0zm7 0zm3 0zm-45 1zm15 0zm9 0zm1 0zm4 0zm2 0zm1 0zm12 0zm6 0zm2 0zm-28 1zm3 0zm5 0zm4 0zm5 0zm-25 1zm13 0zm5 0zm10 0zm8 0zm-40 1zm7 0zm1 0zm1 0zm6 0zm1 0zm1 0zm1 0zm1 0zm4 0zm5 0zm5 0zm9 0zm-44 1zm5 0zm3 0zm7 0zm4 0zm6 0zm3 0zm8 0zm-37 1zm6 0zm4 0zm1 0zm2 0zm6 0zm3 0zm2 0zm2 0zm1 0zm6 0zm4 0zm1 0zm-34 1zm3 0zm2 0zm2 0zm2 0zm7 0zm4 0zm2 0zm1 0zm2 0zm3 0zm2 0zm15 0zm-44 1zm6 0zm1 0zm2 0zm1 0zm4 0zm1 0zm3 0zm5 0zm1 0zm6 0zm6 0zm8 0zm14 0zm-76 1zm22 0zm3 0zm3 0zm2 0zm1 0zm4 0zm2 0zm1 0zm2 0zm1 0zm2 0zm1 0zm1 0zm3 0zm2 0zm4 0zm2 0zm-33 1zm2 0zm1 0zm5 0zm3 0zm3 0zm1 0zm2 0zm3 0zm2 0zm1 0zm3 0zm1 0zm4 0zm1 0zm10 0zm-54 1zm8 0zm2 0zm5 0zm5 0zm5 0zm3 0zm2 0zm1 0zm2 0zm6 0zm1 0zm10 0zm3 0zm-57 1zm10 0zm4 0zm5 0zm1 0zm1 0zm5 0zm1 0zm1 0zm2 0zm3 0zm1 0zm2 0zm2 0zm1 0zm1 0zm1 0zm1 0zm4 0zm-31 1zm8 0zm1 0zm1 0zm2 0zm2 0zm3 0zm2 0zm2 0zm2 0zm3 0zm1 0zm-33 1zm6 0zm3 0zm1 0zm5 0zm1 0zm3 0zm2 0zm5 0zm2 0zm4 0zm1 0zm1 0zm2 0zm-41 1zm11 0zm1 0zm2 0zm4 0zm1 0zm1 0zm3 0zm1 0zm1 0zm3 0zm4 0zm1 0zm2 0zm1 0zm-27 1zm4 0zm6 0zm3 0zm1 0zm1 0zm2 0zm1 0zm3 0zm2 0zm7 0zm4 0zm1 0zm-45 1zm5 0zm5 0zm2 0zm8 0zm4 0zm17 0zm6 0zm-43 1zm3 0zm1 0zm2 0zm1 0zm1 0zm1 0zm1 0zm4 0zm5 0zm6 0zm2 0zm8 0zm8 0zm-45 1zm2 0zm9 0zm1 0zm2 0zm10 0zm6 0zm2 0zm1 0zm4 0zm1 0zm-32 1zm8 0zm4 0zm1 0zm7 0zm2 0zm18 0zm1 0zm4 0zm-52 1zm1 0zm7 0zm4 0zm9 0zm4 0zm3 0zm1 0zm3 0zm4 0zm5 0zm2 0zm-32 1zm3 0zm3 0zm4 0zm2 0zm1 0zm2 0zm4 0zm3 0zm3 0zm2 0zm4 0zm-45 1zm2 0zm8 0zm7 0zm4 0zm1 0zm4 0zm2 0zm1 0zm4 0zm4 0zm13 0zm3 0zm-42 1zm7 0zm6 0zm2 0zm7 0zm9 0zm5 0zm11 0zm-44 1zm5 0zm5 0zm7 0zm2 0zm1 0zm1 0zm5 0zm-28 1zm1 0zm6 0zm2 0zm2 0zm12 0zm12 0zm-14 1zm1 0zm-29 1zm9 0zm8 0zm6 0zm1 0zm1 0zm5 0zm2 0zm5 0zm3 0zm-36 1zm9 0zm7 0zm10 0zm4 0zm2 0zm6 0zm-8 1zm-23 1zm14 0zm-9 2zm14 0zm-31 1zm25 0zm-13 1zm25 4zm-22 1zm39 1z" stroke="#3c3cbc" stroke-width="2" stroke-opacity="0.85" stroke-linecap="square" fill="none"/>
<path transform="scale(.5)" d="M1256 1805zm-18 3zm18 5zm1 0zm-20 1zm34 0zm-23 2zm6 2zm5 0zm10 1zm-1 1zm10 0zm-14 1zm17 1zm-10 1zm-8 1zm-13 1zm9 0zm7 0zm-17 1zm17 0zm-10 1zm1 0zm2 0zm12 0zm-17 1zm1 0zm-1 1zm6 0zm1 0zm6 0zm1 0zm-20 2zm28 0zm-25 1zm12 0zm18 0zm-13 1zm-27 1zm12 0zm1 0zm9 0zm1 0zm1 0zm8 0zm4 0zm8 0zm-9 1zm6 0zm-14 1zm2 0zm19 0zm-39 1zm7 0zm4 0zm1 0zm6 0zm-15 1zm4 0zm-2 1zm2 0zm12 0zm1 0zm-26 1zm16 0zm4 0zm2 0zm9 0zm-34 1zm25 0zm-26 1zm13 0zm15 0zm7 0zm7 0zm-36 1zm9 0zm3 0zm7 0zm5 0zm-6 1zm2 0zm-18 1zm7 0zm2 0zm5 0zm2 0zm4 0zm-27 1zm9 0zm3 0zm7 0zm5 0zm1 0zm7 0zm-21 1zm9 0zm6 0zm3 0zm1 0zm-24 1zm10 0zm9 0zm1 0zm6 0zm5 0zm-22 1zm16 0zm-24 1zm13 0zm3 0zm4 0zm2 0zm1 0zm6 0zm-25 1zm6 0zm5 0zm2 0zm3 0zm1 0zm-11 1zm-15 1zm13 0zm16 0zm3 0zm-27 1zm10 0zm8 0zm1 0zm1 0zm-17 1zm24 0zm4 0zm-31 1zm7 0zm4 0zm8 0zm9 0zm-16 1zm-6 1zm11 0zm4 0zm1 0zm3 0zm1 0zm8 0zm-19 1zm1 0zm4 0zm1 0zm10 0zm-30 1zm7 0zm9 0zm2 0zm-12 1zm4 0zm3 0zm5 0zm9 0zm6 0zm-17 1zm8 0zm2 0zm6 0zm-22 1zm4 0zm1 0zm-1 1zm11 1zm11 0zm-12 1zm0 1zm-26 1zm13 0zm2 0zm15 0zm-13 1zm2 0zm14 0zm-16 1zm5 0zm-1 1zm5 0zm2 0zm-7 2zm1 0zm-21 1zm19 0zm1 1zm13 0zm-30 1zm21 0zm13 0zm-25 1zm10 0zm-9 1zm4 2zm10 0zm-6 1zm3 1zm12 1zm-20 1zm16 3zm2 3zm-2 3zm6 2zm8 0zm-22 3z" stroke="#5050c0" stroke-width="2" stroke-opacity="0.7" stroke-linecap="square" fill="none"/>
</g>
<g filter="url(#rough)">
<ellipse cx="605.3" cy="893.2" rx="17.6" ry="10.4" fill="#2e36c6" fill-opacity="0.6" transform="rotate(-4 605.3 893.2)"/>
<ellipse cx="606" cy="893.1" rx="14.6" ry="8.3" fill="#3d7fe8" stroke="#16208a" stroke-width=".45" stroke-opacity=".75" transform="rotate(-4 606 893.1)"/>
<ellipse cx="607.4" cy="892.8" rx="11" ry="6" fill="#4ac6e4" stroke="#16208a" stroke-width=".45" stroke-opacity=".75" transform="rotate(-4 607.4 892.8)"/>
<ellipse cx="608.8" cy="892.3" rx="6.8" ry="3.8" fill="#4ee79b" stroke="#16208a" stroke-width=".45" stroke-opacity=".75" transform="rotate(-4 608.8 892.3)"/>
<ellipse cx="627.4" cy="910.4" rx="10" ry="6.6" fill="#2e36c6" fill-opacity="0.6" transform="rotate(40 627.4 910.4)"/>
<ellipse cx="627.4" cy="910.4" rx="8.3" ry="5.2" fill="#3d7fe8" stroke="#16208a" stroke-width=".45" stroke-opacity=".75" transform="rotate(40 627.4 910.4)"/>
<ellipse cx="627.4" cy="910.4" rx="5" ry="3" fill="#3fa8e6" stroke="#16208a" stroke-width=".45" stroke-opacity=".75" transform="rotate(40 627.4 910.4)"/>
<ellipse cx="554.9" cy="894" rx="2.4" ry="12.5" fill="#2fbf9a"/>
</g>
<path d="M555.7 854.9L600.2 854.9L626.8 886.2L611.4 916.7L555.7 916.1" fill="none" stroke="#555" stroke-width="0.9"/>
<path d="M626.8 886.2L673.7 924.6L640 958.6L611.4 916.7" fill="none" stroke="#555" stroke-width="0.9"/>
<path d="M626.8 886.2L611.4 916.7" fill="none" stroke="#222" stroke-width="1.3"/>
</g>
<path d="M554.9 846.9H683.5V975" fill="none" stroke="#8a8a8a" stroke-width="1"/>
<path d="M554.9 846.9V975H683.5" fill="none" stroke="#2a2a2a" stroke-width="1.1"/>
<text x="537.9" y="858.8" font-size="7.8" fill="#333">10<tspan dy="-3.1" font-size="5.7">5</tspan></text>
<text x="537.9" y="880.3" font-size="7.8" fill="#333">10<tspan dy="-3.1" font-size="5.7">4</tspan></text>
<text x="537.9" y="901.6" font-size="7.8" fill="#333">10<tspan dy="-3.1" font-size="5.7">3</tspan></text>
<text x="537.9" y="922.9" font-size="7.8" fill="#333">10<tspan dy="-3.1" font-size="5.7">2</tspan></text>
<text x="537.9" y="944.2" font-size="7.8" fill="#333">10<tspan dy="-3.1" font-size="5.7">1</tspan></text>
<text x="537.9" y="965.4" font-size="7.8" fill="#333">10<tspan dy="-3.1" font-size="5.7">0</tspan></text>
<path d="M554.9 855.7h-3M554.9 877.2h-3M554.9 898.5h-3M554.9 919.8h-3M554.9 941.1h-3M554.9 962.3h-3M554.9 849.2h-1.5M554.9 870.7h-1.5M554.9 866.9h-1.5M554.9 864.3h-1.5M554.9 862.2h-1.5M554.9 860.5h-1.5M554.9 859h-1.5M554.9 857.8h-1.5M554.9 856.7h-1.5M554.9 892.1h-1.5M554.9 888.3h-1.5M554.9 885.7h-1.5M554.9 883.6h-1.5M554.9 881.9h-1.5M554.9 880.5h-1.5M554.9 879.3h-1.5M554.9 878.2h-1.5M554.9 913.4h-1.5M554.9 909.6h-1.5M554.9 907h-1.5M554.9 904.9h-1.5M554.9 903.2h-1.5M554.9 901.8h-1.5M554.9 900.6h-1.5M554.9 899.5h-1.5M554.9 934.7h-1.5M554.9 930.9h-1.5M554.9 928.3h-1.5M554.9 926.2h-1.5M554.9 924.5h-1.5M554.9 923.1h-1.5M554.9 921.9h-1.5M554.9 920.8h-1.5M554.9 955.9h-1.5M554.9 952.2h-1.5M554.9 949.5h-1.5M554.9 947.5h-1.5M554.9 945.8h-1.5M554.9 944.4h-1.5M554.9 943.2h-1.5M554.9 942.1h-1.5M554.9 973.5h-1.5M554.9 970.9h-1.5M554.9 968.8h-1.5M554.9 967.1h-1.5M554.9 965.6h-1.5M554.9 964.4h-1.5M554.9 963.3h-1.5" stroke="#2a2a2a" stroke-width=".7" fill="none"/>
<text x="561.1" y="987.6" font-size="7.8" fill="#333">10<tspan dy="-3.1" font-size="5.7">0</tspan></text>
<text x="582.6" y="987.6" font-size="7.8" fill="#333">10<tspan dy="-3.1" font-size="5.7">1</tspan></text>
<text x="604.1" y="987.6" font-size="7.8" fill="#333">10<tspan dy="-3.1" font-size="5.7">2</tspan></text>
<text x="625.6" y="987.6" font-size="7.8" fill="#333">10<tspan dy="-3.1" font-size="5.7">3</tspan></text>
<text x="647" y="987.6" font-size="7.8" fill="#333">10<tspan dy="-3.1" font-size="5.7">4</tspan></text>
<text x="668.2" y="987.6" font-size="7.8" fill="#333">10<tspan dy="-3.1" font-size="5.7">5</tspan></text>
<path d="M567.1 975v3M588.6 975v3M610.1 975v3M631.6 975v3M653 975v3M674.2 975v3M558.5 975v1.5M560.6 975v1.5M562.3 975v1.5M563.8 975v1.5M565 975v1.5M566.1 975v1.5M573.6 975v1.5M577.4 975v1.5M580 975v1.5M582.1 975v1.5M583.8 975v1.5M585.3 975v1.5M586.5 975v1.5M587.6 975v1.5M595.1 975v1.5M598.9 975v1.5M601.5 975v1.5M603.6 975v1.5M605.3 975v1.5M606.8 975v1.5M608 975v1.5M609.1 975v1.5M616.6 975v1.5M620.4 975v1.5M623 975v1.5M625.1 975v1.5M626.8 975v1.5M628.3 975v1.5M629.5 975v1.5M630.6 975v1.5M638 975v1.5M641.8 975v1.5M644.5 975v1.5M646.6 975v1.5M648.3 975v1.5M649.7 975v1.5M650.9 975v1.5M652 975v1.5M659.4 975v1.5M663.1 975v1.5M665.8 975v1.5M667.8 975v1.5M669.5 975v1.5M670.9 975v1.5M672.1 975v1.5M673.2 975v1.5M680.7 975v1.5" stroke="#2a2a2a" stroke-width=".7" fill="none"/>
<text x="556.2" y="865.8" font-size="12.3" fill="#111" font-weight="bold">CD127hi</text>
<text x="581.3" y="880.9" font-size="12.3" fill="#111" text-anchor="middle" font-weight="bold">Tregs</text>
<text x="580.8" y="910.8" font-size="12.3" fill="#111" text-anchor="middle" font-weight="bold">58.6%</text>
<text x="633.9" y="911.4" font-size="12.3" fill="#111" font-weight="bold">CD127lo</text>
<text x="659.1" y="926.8" font-size="12.3" fill="#111" text-anchor="middle" font-weight="bold">Tregs</text>
<text x="657.8" y="941.9" font-size="12.3" fill="#111" text-anchor="middle" font-weight="bold">20.2%</text>
<text x="620.3" y="839.2" font-size="16.5" fill="#000" text-anchor="middle" font-weight="bold">CD4+CD25++</text>
<text x="535" y="924.6" font-size="18" font-weight="bold" text-anchor="middle" fill="#000" transform="rotate(-90 535 924.6)">CD127</text>
<text x="621.5" y="1006.8" font-size="18" fill="#000" text-anchor="middle" font-weight="bold">FoxP3</text>
<g clip-path="url(#c11)">
<g filter="url(#haze)">
<ellipse cx="181" cy="1119" rx="8" ry="11" fill="#5656dc" fill-opacity="0.18"/>
<ellipse cx="225" cy="1086.5" rx="10" ry="8" fill="#5656dc" fill-opacity="0.2"/>
</g>
<g filter="url(#rough)">
<path transform="scale(.5)" d="M321 2092zm121 12zm31 12zm-145 1zm111 0zm37 9zm-54 1zm-13 5zm-40 1zm16 5zm-15 1zm24 0zm-30 3zm59 0zm-48 2zm36 2zm-10 1zm14 0zm-14 1zm44 0zm-72 1zm-45 1zm162 1zm-6 1zm-109 2zm-77 4zm157 1zm-118 2zm18 1zm3 2zm92 1zm46 1zm-153 1zm156 1zm-114 2zm-61 1zm109 0zm-126 1zm31 0zm80 0zm-53 7zm34 1zm-96 1zm51 0zm59 0zm-54 1zm54 1zm75 0zm-191 1zm39 0zm103 0zm-61 3zm39 0zm-10 1zm-20 1zm17 0zm74 1zm-140 1zm24 1zm65 0zm0 1zm-139 1zm36 0zm84 0zm91 0zm-159 1zm81 1zm-73 1zm43 0zm118 0zm-192 1zm79 1zm-68 2zm45 0zm-8 1zm120 0zm-180 3zm85 0zm-50 1zm91 1zm-11 1zm11 0zm-118 1zm32 3zm4 0zm-27 1zm96 0zm-68 1zm123 2zm-115 1zm1 0zm-35 1zm14 2zm78 0zm-56 1zm20 0zm90 0zm-49 1zm-137 2zm139 0zm-41 2zm16 4zm36 0zm31 0zm19 0zm10 1zm-153 1zm57 1zm-108 3zm65 0zm34 0zm113 0zm-121 1zm-80 1zm102 1zm-51 1zm11 0zm137 0zm-53 1zm1 0zm-152 3zm32 0zm64 0zm6 0zm33 1zm7 0zm52 1zm-8 1zm-136 1zm69 0zm35 1zm-36 2zm-118 1zm37 0zm155 1zm-110 1zm-68 1zm40 0zm9 2zm-15 3zm23 0zm24 0zm22 0zm39 1zm-89 1zm47 3zm2 1zm-25 1zm60 0zm-80 2zm22 3zm49 1zm-48 5zm-97 6zm103 3zm10 0zm65 1zm-100 1zm108 1zm-27 3zm-32 4zm21 4zm-160 2zm6 1zm149 3zm15 1zm-68 2zm22 2zm-84 1zm41 4z" stroke="#8a8ad0" stroke-width="2" stroke-opacity="0.55" stroke-linecap="square" fill="none"/>
<path transform="scale(.5)" d="M359 2117zm2 0zm-27 5zm16 2zm17 1zm-5 2zm9 0zm-22 1zm6 1zm18 2zm14 0zm-27 2zm15 0zm-28 2zm8 0zm5 0zm-24 1zm2 0zm29 0zm-9 1zm-29 1zm23 0zm-14 1zm12 0zm-3 1zm26 1zm-20 1zm55 0zm-84 1zm14 0zm10 0zm21 0zm-17 1zm4 1zm1 0zm19 0zm9 0zm-39 1zm1 1zm7 0zm26 0zm-20 1zm16 0zm-17 1zm11 0zm-45 1zm28 0zm7 0zm1 0zm1 0zm2 0zm8 0zm8 0zm4 1zm-37 1zm16 0zm-7 1zm11 0zm1 0zm9 1zm2 0zm2 0zm-10 1zm-42 1zm2 0zm38 0zm1 0zm-50 1zm8 0zm28 0zm5 0zm14 0zm1 0zm-44 1zm17 0zm6 0zm1 1zm12 0zm-22 1zm13 0zm3 0zm1 0zm17 0zm1 0zm5 0zm-40 1zm18 0zm18 0zm-30 1zm19 0zm1 0zm15 0zm-62 1zm33 0zm5 0zm14 0zm-48 1zm11 0zm14 0zm24 0zm3 0zm-46 1zm2 0zm14 0zm7 0zm10 0zm-32 1zm10 0zm5 0zm16 0zm5 0zm27 0zm-59 2zm2 0zm3 0zm3 0zm16 0zm-30 1zm19 0zm31 0zm-34 1zm20 0zm-3 1zm13 0zm-28 1zm20 0zm2 0zm-22 1zm-20 1zm8 0zm1 0zm17 0zm-31 1zm34 0zm-15 1zm31 0zm2 0zm0 1zm-27 1zm2 0zm9 0zm-33 1zm29 0zm-27 1zm3 0zm12 0zm14 0zm16 1zm-23 1zm24 0zm20 0zm-56 1zm31 0zm-3 3zm0 1zm-13 1zm-8 2zm-18 1zm12 0zm18 2zm-15 4zm9 0zm-18 1zm14 3zm-24 4zm22 1zm21 6z" stroke="#6a6ac8" stroke-width="2" stroke-opacity="0.65" stroke-linecap="square" fill="none"/>
<path transform="scale(.5)" d="M360 2174zm-7 5zm36 0zm-29 1zm1 5zm2 0zm22 2zm-31 1zm37 1zm-24 2zm-8 2zm-5 1zm6 0zm-19 4zm1 0zm9 0zm9 0zm-2 1zm0 1zm9 0zm-39 1zm22 0zm5 0zm2 0zm9 0zm1 0zm-16 1zm8 0zm11 0zm4 0zm-26 1zm27 0zm-42 1zm26 0zm-15 1zm36 0zm19 0zm-55 1zm3 0zm20 0zm8 0zm9 0zm-50 1zm8 0zm5 0zm18 0zm3 0zm3 0zm-9 1zm24 0zm-26 1zm12 0zm-39 1zm18 0zm4 0zm12 0zm3 0zm2 0zm3 0zm3 0zm29 0zm-79 2zm9 0zm18 0zm16 0zm21 0zm-63 1zm10 0zm6 0zm12 0zm2 0zm10 0zm5 0zm1 0zm4 0zm-38 1zm2 0zm18 0zm4 0zm4 0zm3 0zm8 0zm1 0zm14 0zm-24 1zm4 0zm2 0zm19 0zm-43 1zm6 0zm25 0zm10 0zm-65 1zm19 0zm7 0zm7 0zm3 0zm10 0zm7 0zm24 0zm-81 1zm19 0zm3 0zm2 0zm16 0zm2 0zm5 0zm-43 1zm29 0zm1 0zm7 0zm-32 1zm8 0zm3 0zm12 0zm4 0zm4 0zm8 0zm1 0zm12 0zm-47 1zm1 0zm3 0zm5 0zm10 0zm4 0zm3 0zm3 0zm1 0zm3 0zm1 0zm1 0zm1 0zm3 0zm14 0zm-53 1zm8 0zm18 0zm7 0zm18 0zm2 0zm-64 1zm4 0zm24 0zm3 0zm8 0zm2 0zm4 0zm-24 1zm2 0zm3 0zm4 0zm2 0zm1 0zm11 0zm1 0zm5 0zm9 0zm9 0zm-67 1zm22 0zm3 0zm47 0zm-74 1zm17 0zm2 0zm5 0zm1 0zm4 0zm5 0zm11 0zm-26 1zm4 0zm2 0zm4 0zm2 0zm1 0zm2 0zm4 0zm2 0zm8 0zm3 0zm8 0zm-52 1zm9 0zm4 0zm2 0zm5 0zm6 0zm3 0zm6 0zm8 0zm4 0zm4 0zm1 0zm2 0zm9 0zm-60 1zm2 0zm13 0zm4 0zm1 0zm2 0zm9 0zm1 0zm11 0zm1 0zm-59 1zm20 0zm8 0zm1 0zm5 0zm6 0zm12 0zm2 0zm4 0zm-29 1zm2 0zm5 0zm7 0zm5 0zm7 0zm1 0zm13 0zm-51 1zm6 0zm3 0zm1 0zm4 0zm2 0zm7 0zm1 0zm2 0zm1 0zm14 0zm11 0zm-48 1zm19 0zm1 0zm1 0zm8 0zm2 0zm-40 1zm9 0zm4 0zm2 0zm2 0zm2 0zm1 0zm6 0zm1 0zm6 0zm3 0zm1 0zm4 0zm6 0zm-41 1zm14 0zm5 0zm2 0zm14 0zm1 0zm16 0zm-56 1zm7 0zm7 0zm1 0zm3 0zm5 0zm21 0zm8 0zm4 0zm-66 1zm16 0zm1 0zm9 0zm2 0zm5 0zm3 0zm7 0zm4 0zm19 0zm-46 1zm3 0zm4 0zm1 0zm3 0zm8 0zm7 0zm1 0zm6 0zm-42 1zm2 0zm4 0zm14 0zm1 0zm3 0zm8 0zm4 0zm1 0zm11 0zm-57 1zm15 0zm1 0zm8 0zm2 0zm6 0zm1 0zm6 0zm2 0zm2 0zm1 0zm4 0zm4 0zm-41 1zm8 0zm19 0zm5 0zm1 0zm5 0zm2 0zm15 0zm-56 1zm4 0zm8 0zm2 0zm2 0zm7 0zm1 0zm2 0zm4 0zm1 0zm4 0zm7 0zm-30 1zm4 0zm3 0zm6 0zm10 0zm4 0zm9 0zm-44 1zm4 0zm1 0zm2 0zm1 0zm4 0zm4 0zm5 0zm7 0zm10 0zm-54 1zm15 0zm3 0zm2 0zm4 0zm4 0zm4 0zm3 0zm1 0zm2 0zm10 0zm19 0zm-61 1zm19 0zm5 0zm3 0zm7 0zm6 0zm1 0zm6 0zm1 0zm2 0zm-54 1zm3 0zm2 0zm18 0zm8 0zm5 0zm4 0zm1 0zm3 0zm-42 1zm8 0zm20 0zm1 0zm15 0zm2 0zm4 0zm16 0zm-64 1zm6 0zm1 0zm2 0zm6 0zm5 0zm4 0zm2 0zm7 0zm9 0zm2 0zm1 0zm9 0zm-53 1zm6 0zm5 0zm4 0zm2 0zm3 0zm3 0zm9 0zm4 0zm2 0zm5 0zm10 0zm1 0zm-39 1zm4 0zm7 0zm6 0zm1 0zm1 0zm4 0zm12 0zm-43 1zm5 0zm2 0zm2 0zm2 0zm1 0zm2 0zm4 0zm3 0zm5 0zm5 0zm3 0zm2 0zm1 0zm-39 1zm4 0zm1 0zm3 0zm8 0zm14 0zm3 0zm1 0zm-32 1zm5 0zm12 0zm6 0zm11 0zm10 0zm-25 1zm3 0zm1 0zm4 0zm7 0zm-31 1zm4 0zm19 0zm2 0zm1 0zm3 0zm9 0zm4 0zm-51 1zm25 0zm3 0zm1 0zm3 0zm5 0zm4 0zm16 0zm-46 1zm7 0zm3 0zm2 0zm19 0zm-61 1zm34 0zm2 0zm3 0zm1 0zm3 0zm1 0zm12 0zm1 0zm6 0zm-72 1zm47 0zm3 0zm8 0zm24 0zm-62 1zm5 0zm15 0zm1 0zm2 0zm1 0zm5 0zm4 0zm2 0zm4 0zm3 0zm13 0zm2 0zm-42 1zm13 0zm13 0zm16 0zm13 0zm-54 1zm12 0zm11 0zm13 0zm3 0zm-28 1zm22 0zm-33 1zm10 0zm2 0zm7 0zm13 0zm14 0zm11 0zm-62 1zm26 0zm-15 1zm3 0zm3 0zm5 0zm4 0zm2 0zm5 0zm-27 1zm7 0zm13 0zm11 0zm13 0zm5 0zm-67 1zm28 0zm9 0zm1 0zm2 0zm-31 1zm28 0zm4 0zm22 0zm-34 1zm14 0zm13 0zm3 0zm-64 1zm21 0zm16 0zm4 0zm13 0zm9 0zm3 0zm9 0zm2 0zm-35 1zm-9 1zm9 0zm-15 1zm-14 1zm22 0zm9 0zm-11 2zm11 1zm-8 1zm1 0zm5 0zm-6 1zm14 0zm-9 1zm-4 1zm37 0zm-42 1zm25 1zm-25 2zm19 4zm5 0zm-19 1zm24 0zm-23 1zm-4 1zm30 1zm-13 3zm5 0zm-25 13z" stroke="#5050c0" stroke-width="2" stroke-opacity="0.68" stroke-linecap="square" fill="none"/>
<path transform="scale(.5)" d="M356 2242zm2 3zm2 0zm-1 3zm0 4zm-12 2zm15 0zm1 0zm4 0zm-14 1zm1 3zm14 0zm-15 2zm3 0zm12 0zm-16 1zm3 0zm-15 1zm20 0zm-3 1zm1 1zm10 0zm-24 1zm3 0zm10 0zm4 0zm2 2zm-17 1zm16 0zm-7 1zm15 1zm-20 1zm7 0zm2 0zm1 0zm7 0zm5 0zm9 0zm-9 1zm-14 1zm17 0zm-8 1zm-17 1zm1 0zm7 0zm7 0zm3 0zm3 0zm-5 1zm-13 1zm1 0zm16 0zm-30 1zm12 0zm16 0zm-16 1zm8 0zm3 0zm17 0zm-32 1zm11 0zm5 0zm14 0zm-32 1zm9 0zm7 0zm3 0zm8 0zm-22 1zm7 0zm24 1zm-27 1zm1 0zm14 0zm-12 1zm8 0zm5 0zm-15 1zm8 0zm-14 1zm16 0zm9 0zm-20 1zm6 0zm4 0zm9 0zm7 0zm-27 1zm12 0zm5 2zm5 0zm-31 1zm11 0zm10 0zm-3 1zm7 0zm11 0zm-29 1zm-2 1zm23 1zm12 0zm-36 2zm7 0zm-5 1zm-10 2zm11 0zm-8 1zm29 0zm-16 4zm16 1zm-4 1zm3 1zm1 0zm-8 2zm-16 5zm14 1z" stroke="#6a6ac8" stroke-width="2" stroke-opacity="0.65" stroke-linecap="square" fill="none"/>
<path transform="scale(.5)" d="M429 2113zm-3 22zm33 2zm18 0zm-50 1zm14 0zm4 0zm-33 2zm47 0zm-22 1zm-17 1zm10 0zm40 0zm-16 1zm6 0zm-71 1zm24 0zm53 0zm-36 1zm32 0zm-36 1zm11 0zm7 0zm7 0zm-29 2zm1 0zm5 0zm1 0zm21 0zm-26 1zm9 0zm5 0zm7 0zm6 0zm1 0zm8 0zm3 0zm19 0zm-28 1zm5 0zm22 0zm-44 1zm7 0zm2 0zm6 0zm7 0zm-28 1zm10 0zm54 0zm-86 1zm4 0zm25 0zm7 0zm5 0zm11 0zm1 0zm3 0zm5 0zm-44 1zm16 0zm3 0zm2 0zm2 0zm5 0zm-32 1zm9 0zm12 0zm7 0zm9 0zm3 0zm4 0zm-40 1zm3 0zm4 0zm16 0zm3 0zm1 0zm1 0zm1 0zm7 0zm1 0zm6 0zm-36 1zm1 0zm7 0zm12 0zm4 0zm5 0zm2 0zm7 0zm4 0zm-41 1zm6 0zm6 0zm3 0zm7 0zm17 0zm3 0zm6 0zm-73 1zm18 0zm4 0zm2 0zm4 0zm1 0zm1 0zm3 0zm5 0zm1 0zm10 0zm3 0zm1 0zm15 0zm1 0zm6 0zm-84 1zm9 0zm19 0zm6 0zm2 0zm8 0zm2 0zm2 0zm6 0zm1 0zm3 0zm5 0zm7 0zm11 0zm-45 1zm7 0zm1 0zm2 0zm12 0zm-48 1zm13 0zm19 0zm2 0zm3 0zm4 0zm12 0zm5 0zm4 0zm9 0zm4 0zm-59 1zm5 0zm4 0zm2 0zm3 0zm2 0zm7 0zm1 0zm13 0zm3 0zm6 0zm2 0zm6 0zm-46 1zm7 0zm4 0zm6 0zm3 0zm1 0zm3 0zm5 0zm1 0zm8 0zm18 0zm-65 1zm2 0zm3 0zm14 0zm10 0zm3 0zm2 0zm1 0zm3 0zm1 0zm4 0zm14 0zm2 0zm2 0zm-56 1zm4 0zm5 0zm2 0zm2 0zm2 0zm1 0zm2 0zm2 0zm7 0zm2 0zm4 0zm-41 1zm3 0zm7 0zm2 0zm2 0zm2 0zm1 0zm1 0zm3 0zm2 0zm2 0zm2 0zm1 0zm1 0zm4 0zm1 0zm2 0zm14 0zm1 0zm6 0zm-58 1zm15 0zm1 0zm6 0zm4 0zm4 0zm1 0zm1 0zm4 0zm3 0zm1 0zm1 0zm3 0zm3 0zm4 0zm7 0zm-53 1zm17 0zm4 0zm12 0zm10 0zm3 0zm-55 1zm4 0zm3 0zm9 0zm4 0zm3 0zm1 0zm3 0zm1 0zm1 0zm1 0zm1 0zm2 0zm1 0zm6 0zm2 0zm5 0zm3 0zm11 0zm4 0zm-69 1zm3 0zm6 0zm1 0zm5 0zm2 0zm3 0zm6 0zm5 0zm2 0zm1 0zm2 0zm12 0zm2 0zm11 0zm2 0zm6 0zm-66 1zm8 0zm4 0zm7 0zm2 0zm2 0zm1 0zm3 0zm3 0zm1 0zm1 0zm4 0zm4 0zm2 0zm13 0zm4 0zm-56 1zm8 0zm9 0zm6 0zm4 0zm1 0zm1 0zm5 0zm7 0zm4 0zm2 0zm15 0zm-58 1zm7 0zm3 0zm2 0zm2 0zm4 0zm2 0zm2 0zm5 0zm2 0zm3 0zm3 0zm1 0zm3 0zm2 0zm6 0zm3 0zm3 0zm-66 1zm10 0zm2 0zm6 0zm5 0zm6 0zm4 0zm1 0zm7 0zm1 0zm2 0zm2 0zm2 0zm1 0zm3 0zm4 0zm13 0zm7 0zm2 0zm-74 1zm1 0zm10 0zm10 0zm4 0zm2 0zm3 0zm1 0zm2 0zm2 0zm2 0zm1 0zm2 0zm24 0zm-52 1zm10 0zm3 0zm2 0zm3 0zm4 0zm2 0zm1 0zm9 0zm3 0zm6 0zm2 0zm1 0zm-44 1zm1 0zm2 0zm7 0zm2 0zm2 0zm2 0zm16 0zm2 0zm2 0zm2 0zm9 0zm-66 1zm17 0zm1 0zm2 0zm1 0zm6 0zm13 0zm3 0zm5 0zm6 0zm2 0zm3 0zm-53 1zm7 0zm6 0zm9 0zm1 0zm3 0zm2 0zm4 0zm2 0zm1 0zm7 0zm2 0zm3 0zm5 0zm2 0zm1 0zm2 0zm7 0zm1 0zm-70 1zm1 0zm8 0zm13 0zm2 0zm6 0zm2 0zm4 0zm2 0zm4 0zm2 0zm13 0zm10 0zm15 0zm-66 1zm1 0zm6 0zm1 0zm1 0zm3 0zm2 0zm1 0zm1 0zm2 0zm1 0zm1 0zm11 0zm5 0zm7 0zm5 0zm5 0zm10 0zm-80 1zm13 0zm8 0zm7 0zm6 0zm1 0zm4 0zm2 0zm2 0zm7 0zm4 0zm25 0zm-74 1zm7 0zm10 0zm5 0zm4 0zm7 0zm1 0zm3 0zm26 0zm-68 1zm15 0zm1 0zm12 0zm17 0zm1 0zm1 0zm4 0zm5 0zm2 0zm4 0zm38 0zm-98 1zm10 0zm1 0zm10 0zm6 0zm5 0zm2 0zm3 0zm13 0zm5 0zm8 0zm-50 1zm6 0zm4 0zm1 0zm2 0zm1 0zm2 0zm9 0zm3 0zm9 0zm6 0zm-49 1zm1 0zm8 0zm10 0zm4 0zm2 0zm5 0zm7 0zm7 0zm-36 1zm12 0zm10 0zm5 0zm7 0zm1 0zm-34 1zm4 0zm5 0zm1 0zm1 0zm4 0zm6 0zm1 0zm8 0zm1 0zm-11 1zm2 0zm2 0zm-21 1zm7 0zm9 0zm8 0zm6 0zm11 0zm-40 1zm18 0zm1 0zm10 0zm6 0zm-47 1zm10 0zm7 0zm9 0zm1 0zm26 0zm12 0zm9 0zm-55 1zm1 0zm37 0zm7 0zm-51 1zm4 0zm8 0zm5 0zm9 0zm8 0zm-29 1zm4 0zm13 0zm1 0zm2 0zm-2 1zm4 0zm9 0zm-18 1zm13 0zm-49 1zm36 0zm-13 1zm7 0zm35 0zm-44 1zm5 0zm2 0zm19 0zm12 0zm-34 1zm19 0zm6 0zm4 0zm-45 1zm62 4zm-21 1zm-29 1zm62 3zm-32 2zm-7 13z" stroke="#4a4abc" stroke-width="2" stroke-opacity="0.75" stroke-linecap="square" fill="none"/>
<path transform="scale(.5)" d="M442 2195zm-12 4zm24 11zm3 3zm0 1zm5 1zm-13 1zm-9 1zm-3 1zm7 0zm-19 1zm28 0zm-34 1zm43 0zm6 0zm-24 1zm1 0zm-29 1zm48 0zm-4 2zm0 1zm-62 1zm52 0zm-13 1zm5 0zm4 0zm8 2zm6 0zm2 0zm11 0zm-24 2zm24 0zm-33 1zm-2 1zm16 0zm5 0zm10 1zm-52 1zm18 0zm6 0zm-34 1zm36 0zm1 2zm15 0zm-31 2zm29 2zm8 2zm-52 3zm30 1z" stroke="#8a8ad0" stroke-width="2" stroke-opacity="0.55" stroke-linecap="square" fill="none"/>
</g>
<g filter="url(#soft2)">
<ellipse cx="181.5" cy="1118.5" rx="5" ry="7.5" fill="#3038c4" fill-opacity="0.25"/>
<ellipse cx="226" cy="1086" rx="6.5" ry="5" fill="#3048d0" fill-opacity="0.45"/>
<ellipse cx="228" cy="1085.5" rx="3" ry="2.4" fill="#3f8ce6" fill-opacity="0.55"/>
<ellipse cx="170.8" cy="1159.9" rx="19" ry="1.3" fill="#3aa8b8" fill-opacity="0.8"/>
<ellipse cx="134.4" cy="1118" rx="1.2" ry="9" fill="#3a6ad0" fill-opacity="0.7"/>
</g>
<path d="M135.7 1056L144.9 1046L183.7 1046L194.3 1057.5L194.3 1096.2L185.1 1105.7L146.3 1105.7L135.7 1096.2Z" fill="none" stroke="#555" stroke-width="0.9"/>
<path d="M194.3 1057.5L205.2 1046L256.9 1046L256.9 1097.7L251.2 1106.9L209.5 1106.9L194.3 1096.2" fill="none" stroke="#555" stroke-width="0.9"/>
</g>
<path d="M134.3 1044.5H258.4V1160.3" fill="none" stroke="#8a8a8a" stroke-width="1"/>
<path d="M134.3 1044.5V1160.3H258.4" fill="none" stroke="#2a2a2a" stroke-width="1.1"/>
<text x="117.3" y="1055.7" font-size="7.8" fill="#333">10<tspan dy="-3.1" font-size="5.7">5</tspan></text>
<text x="117.3" y="1075" font-size="7.8" fill="#333">10<tspan dy="-3.1" font-size="5.7">4</tspan></text>
<text x="117.3" y="1094.3" font-size="7.8" fill="#333">10<tspan dy="-3.1" font-size="5.7">3</tspan></text>
<text x="117.3" y="1113.7" font-size="7.8" fill="#333">10<tspan dy="-3.1" font-size="5.7">2</tspan></text>
<text x="117.3" y="1133.1" font-size="7.8" fill="#333">10<tspan dy="-3.1" font-size="5.7">1</tspan></text>
<text x="117.3" y="1152.5" font-size="7.8" fill="#333">10<tspan dy="-3.1" font-size="5.7">0</tspan></text>
<path d="M134.3 1052.6h-3M134.3 1071.9h-3M134.3 1091.2h-3M134.3 1110.6h-3M134.3 1130h-3M134.3 1149.4h-3M134.3 1046.8h-1.5M134.3 1066.1h-1.5M134.3 1062.7h-1.5M134.3 1060.3h-1.5M134.3 1058.4h-1.5M134.3 1056.9h-1.5M134.3 1055.6h-1.5M134.3 1054.5h-1.5M134.3 1053.5h-1.5M134.3 1085.4h-1.5M134.3 1082h-1.5M134.3 1079.6h-1.5M134.3 1077.7h-1.5M134.3 1076.2h-1.5M134.3 1074.9h-1.5M134.3 1073.8h-1.5M134.3 1072.8h-1.5M134.3 1104.8h-1.5M134.3 1101.3h-1.5M134.3 1098.9h-1.5M134.3 1097h-1.5M134.3 1095.5h-1.5M134.3 1094.2h-1.5M134.3 1093.1h-1.5M134.3 1092.1h-1.5M134.3 1124.2h-1.5M134.3 1120.7h-1.5M134.3 1118.3h-1.5M134.3 1116.4h-1.5M134.3 1114.9h-1.5M134.3 1113.6h-1.5M134.3 1112.5h-1.5M134.3 1111.5h-1.5M134.3 1143.6h-1.5M134.3 1140.1h-1.5M134.3 1137.7h-1.5M134.3 1135.8h-1.5M134.3 1134.3h-1.5M134.3 1133h-1.5M134.3 1131.9h-1.5M134.3 1130.9h-1.5M134.3 1157.1h-1.5M134.3 1155.2h-1.5M134.3 1153.7h-1.5M134.3 1152.4h-1.5M134.3 1151.3h-1.5M134.3 1150.3h-1.5" stroke="#2a2a2a" stroke-width=".7" fill="none"/>
<text x="140.9" y="1172.9" font-size="7.8" fill="#333">10<tspan dy="-3.1" font-size="5.7">0</tspan></text>
<text x="161.3" y="1172.9" font-size="7.8" fill="#333">10<tspan dy="-3.1" font-size="5.7">1</tspan></text>
<text x="181.7" y="1172.9" font-size="7.8" fill="#333">10<tspan dy="-3.1" font-size="5.7">2</tspan></text>
<text x="202.1" y="1172.9" font-size="7.8" fill="#333">10<tspan dy="-3.1" font-size="5.7">3</tspan></text>
<text x="222.5" y="1172.9" font-size="7.8" fill="#333">10<tspan dy="-3.1" font-size="5.7">4</tspan></text>
<text x="242.9" y="1172.9" font-size="7.8" fill="#333">10<tspan dy="-3.1" font-size="5.7">5</tspan></text>
<path d="M146.9 1160.3v3M167.3 1160.3v3M187.7 1160.3v3M208.1 1160.3v3M228.5 1160.3v3M248.9 1160.3v3M136.2 1160.3v1.5M138.8 1160.3v1.5M140.8 1160.3v1.5M142.4 1160.3v1.5M143.7 1160.3v1.5M144.9 1160.3v1.5M146 1160.3v1.5M153 1160.3v1.5M156.6 1160.3v1.5M159.2 1160.3v1.5M161.2 1160.3v1.5M162.8 1160.3v1.5M164.1 1160.3v1.5M165.3 1160.3v1.5M166.4 1160.3v1.5M173.4 1160.3v1.5M177 1160.3v1.5M179.6 1160.3v1.5M181.6 1160.3v1.5M183.2 1160.3v1.5M184.5 1160.3v1.5M185.7 1160.3v1.5M186.8 1160.3v1.5M193.8 1160.3v1.5M197.4 1160.3v1.5M200 1160.3v1.5M202 1160.3v1.5M203.6 1160.3v1.5M204.9 1160.3v1.5M206.1 1160.3v1.5M207.2 1160.3v1.5M214.2 1160.3v1.5M217.8 1160.3v1.5M220.4 1160.3v1.5M222.4 1160.3v1.5M224 1160.3v1.5M225.3 1160.3v1.5M226.5 1160.3v1.5M227.6 1160.3v1.5M234.6 1160.3v1.5M238.2 1160.3v1.5M240.8 1160.3v1.5M242.8 1160.3v1.5M244.4 1160.3v1.5M245.7 1160.3v1.5M246.9 1160.3v1.5M248 1160.3v1.5M255 1160.3v1.5" stroke="#2a2a2a" stroke-width=".7" fill="none"/>
<text x="139.2" y="1061.2" font-size="12.3" fill="#111" font-weight="bold">CD16-</text>
<text x="139.2" y="1076.1" font-size="12.3" fill="#111" font-weight="bold">CD56++</text>
<text x="139.2" y="1091.4" font-size="12.3" fill="#111" font-weight="bold">4.5%</text>
<text x="247.8" y="1061.2" font-size="12.3" fill="#111" text-anchor="end" font-weight="bold">CD16+</text>
<text x="247.8" y="1076.1" font-size="12.3" fill="#111" text-anchor="end" font-weight="bold">CD56++</text>
<text x="247.8" y="1091.4" font-size="12.3" fill="#111" text-anchor="end" font-weight="bold">25.5%</text>
<text x="134" y="1041.7" font-size="16.5" fill="#000" font-weight="bold">CD3-</text>
<text x="112.5" y="1114" font-size="18" font-weight="bold" text-anchor="middle" fill="#000" transform="rotate(-90 112.5 1114)">CD56</text>
<text x="194" y="1209.7" font-size="18" fill="#000" text-anchor="middle" font-weight="bold">CD16</text>
<g clip-path="url(#c12)">
<g filter="url(#haze)">
<ellipse cx="423" cy="1135" rx="9" ry="9.5" fill="#5656dc" fill-opacity="0.38"/>
<ellipse cx="406" cy="1136" rx="9" ry="6" fill="#5656dc" fill-opacity="0.12"/>
</g>
<g filter="url(#rough)">
<path transform="scale(.5)" d="M776 2233zm26 0zm30 4zm-15 4zm31 0zm-67 1zm60 0zm-83 1zm62 0zm5 0zm-16 1zm13 0zm-14 2zm38 1zm-50 1zm25 1zm2 0zm9 0zm-28 1zm1 0zm1 0zm14 0zm9 0zm-65 1zm17 0zm4 0zm53 0zm3 0zm-54 1zm10 0zm28 0zm6 0zm7 0zm-32 1zm4 0zm1 1zm2 0zm10 0zm-26 1zm6 0zm18 0zm2 0zm2 0zm-58 1zm23 0zm36 0zm20 0zm-54 1zm10 0zm8 0zm4 0zm13 0zm10 0zm-43 1zm18 0zm-31 1zm24 0zm27 0zm46 0zm-99 1zm4 0zm11 0zm2 0zm2 0zm6 0zm12 0zm17 0zm-46 1zm7 0zm5 0zm4 0zm11 0zm17 0zm-36 1zm10 0zm7 0zm-62 1zm46 0zm1 0zm4 0zm11 0zm1 0zm6 0zm3 0zm7 0zm-54 1zm2 0zm32 0zm7 0zm4 0zm14 0zm5 0zm-66 1zm35 0zm2 0zm6 0zm5 0zm36 0zm-84 1zm1 0zm5 0zm27 0zm7 0zm7 0zm-63 1zm41 0zm8 0zm7 0zm38 0zm-68 1zm9 0zm2 0zm12 0zm7 0zm2 0zm12 0zm2 0zm7 0zm-31 1zm13 0zm4 0zm3 0zm-29 1zm5 0zm3 0zm2 0zm3 0zm13 0zm13 0zm-70 1zm23 0zm13 0zm6 0zm11 0zm21 0zm1 0zm-48 1zm2 0zm32 0zm1 0zm1 0zm6 0zm1 0zm15 0zm8 0zm23 0zm-88 1zm10 0zm2 0zm1 0zm15 0zm1 0zm24 0zm-86 1zm31 0zm6 0zm6 0zm1 0zm8 0zm10 0zm13 0zm8 0zm18 0zm-80 1zm9 0zm12 0zm8 0zm4 0zm-44 1zm16 0zm8 0zm8 0zm7 0zm7 0zm23 0zm4 0zm15 0zm-97 1zm18 0zm16 0zm2 0zm8 0zm15 0zm2 0zm6 0zm-39 1zm3 0zm4 0zm3 0zm9 0zm7 0zm9 0zm4 0zm-58 1zm13 0zm10 0zm5 0zm3 0zm7 0zm11 0zm3 0zm8 0zm5 0zm-53 1zm4 0zm6 0zm17 0zm2 0zm16 1zm3 0zm1 0zm5 0zm-69 1zm8 0zm8 0zm2 0zm25 0zm1 0zm7 0zm8 0zm-70 1zm25 0zm20 0zm5 0zm18 0zm18 0zm-66 1zm7 0zm3 0zm25 0zm3 0zm16 0zm-44 1zm2 0zm17 0zm8 0zm6 0zm5 0zm8 0zm-32 1zm49 0zm-39 1zm7 0zm21 0zm-72 1zm65 0zm-38 1zm16 0zm4 0zm-14 1zm24 0zm-32 1zm-5 1zm13 0zm5 0zm9 0zm-18 1zm10 0zm4 0zm16 0zm-15 1zm10 0zm-27 1zm19 0zm6 0zm-11 1zm45 0zm-68 2zm3 0zm17 0zm13 0zm-26 1zm12 0zm12 0zm-12 2zm5 0zm29 0zm-75 1zm21 0zm8 0zm13 0zm50 0zm-40 2zm25 0zm-31 2zm25 0zm-31 1zm1 0zm18 0z" stroke="#6a6ac8" stroke-width="2" stroke-opacity="0.65" stroke-linecap="square" fill="none"/>
<path transform="scale(.5)" d="M840 2226zm11 0zm-11 3zm8 1zm-3 1zm19 1zm-23 1zm-10 1zm39 0zm-39 1zm-12 1zm15 0zm29 0zm-13 1zm8 0zm-30 1zm8 0zm8 0zm3 0zm21 0zm-68 1zm53 0zm9 0zm-24 1zm-11 1zm16 0zm16 0zm4 0zm-36 1zm6 0zm2 0zm8 1zm5 0zm4 0zm15 0zm25 0zm-62 1zm2 0zm3 0zm7 0zm8 0zm8 0zm35 0zm-68 1zm5 0zm3 0zm13 0zm4 0zm4 0zm2 0zm5 0zm4 0zm3 0zm1 0zm12 0zm-47 1zm3 0zm17 0zm1 0zm5 0zm11 0zm-45 1zm5 0zm4 0zm1 0zm2 0zm5 0zm16 0zm-31 1zm4 0zm10 0zm3 0zm2 0zm1 0zm1 0zm2 0zm1 0zm3 0zm1 0zm2 0zm11 0zm-35 1zm4 0zm1 0zm7 0zm1 0zm-24 1zm3 0zm1 0zm9 0zm8 0zm2 0zm4 0zm2 0zm4 0zm5 0zm-37 1zm9 0zm4 0zm1 0zm5 0zm1 0zm1 0zm3 0zm2 0zm4 0zm16 0zm33 0zm-78 1zm13 0zm1 0zm1 0zm2 0zm5 0zm3 0zm2 0zm5 0zm15 0zm-51 1zm12 0zm4 0zm2 0zm1 0zm2 0zm1 0zm4 0zm6 0zm2 0zm2 0zm3 0zm6 0zm-55 1zm16 0zm6 0zm2 0zm3 0zm5 0zm1 0zm9 0zm2 0zm1 0zm5 0zm13 0zm8 0zm-50 1zm2 0zm3 0zm16 0zm1 0zm6 0zm1 0zm4 0zm8 0zm1 0zm14 0zm-62 1zm2 0zm1 0zm3 0zm4 0zm4 0zm4 0zm1 0zm1 0zm1 0zm3 0zm1 0zm6 0zm2 0zm1 0zm5 0zm-49 1zm4 0zm3 0zm14 0zm5 0zm1 0zm3 0zm2 0zm6 0zm5 0zm13 0zm1 0zm-66 1zm14 0zm5 0zm3 0zm4 0zm3 0zm3 0zm3 0zm2 0zm6 0zm2 0zm2 0zm4 0zm5 0zm1 0zm7 0zm3 0zm-60 1zm9 0zm8 0zm8 0zm2 0zm1 0zm3 0zm2 0zm1 0zm2 0zm1 0zm2 0zm1 0zm2 0zm1 0zm3 0zm-52 1zm22 0zm1 0zm11 0zm3 0zm2 0zm6 0zm3 0zm3 0zm1 0zm6 0zm4 0zm5 0zm-62 1zm3 0zm6 0zm5 0zm1 0zm1 0zm1 0zm1 0zm1 0zm4 0zm5 0zm6 0zm3 0zm13 0zm5 0zm18 0zm-65 1zm12 0zm9 0zm2 0zm2 0zm1 0zm1 0zm2 0zm2 0zm7 0zm14 0zm-59 1zm5 0zm8 0zm10 0zm1 0zm1 0zm2 0zm3 0zm2 0zm1 0zm7 0zm4 0zm5 0zm1 0zm12 0zm-56 1zm2 0zm4 0zm3 0zm4 0zm3 0zm3 0zm5 0zm2 0zm1 0zm3 0zm1 0zm11 0zm1 0zm1 0zm10 0zm-72 1zm21 0zm1 0zm6 0zm3 0zm2 0zm2 0zm1 0zm1 0zm6 0zm3 0zm2 0zm1 0zm3 0zm1 0zm4 0zm1 0zm1 0zm2 0zm7 0zm13 0zm-61 1zm4 0zm6 0zm2 0zm4 0zm1 0zm3 0zm3 0zm3 0zm4 0zm1 0zm15 0zm6 0zm-54 1zm9 0zm2 0zm1 0zm2 0zm1 0zm1 0zm3 0zm1 0zm4 0zm1 0zm1 0zm4 0zm2 0zm1 0zm2 0zm9 0zm1 0zm1 0zm1 0zm2 0zm-40 1zm2 0zm3 0zm7 0zm3 0zm3 0zm3 0zm1 0zm1 0zm2 0zm1 0zm2 0zm5 0zm2 0zm5 0zm11 0zm-61 1zm3 0zm5 0zm3 0zm10 0zm11 0zm1 0zm1 0zm2 0zm3 0zm2 0zm2 0zm4 0zm-41 1zm1 0zm12 0zm1 0zm1 0zm1 0zm1 0zm13 0zm4 0zm4 0zm1 0zm7 0zm-64 1zm6 0zm2 0zm1 0zm11 0zm5 0zm1 0zm3 0zm1 0zm2 0zm3 0zm4 0zm1 0zm1 0zm1 0zm1 0zm2 0zm5 0zm3 0zm5 0zm1 0zm6 0zm5 0zm-57 1zm2 0zm8 0zm2 0zm5 0zm3 0zm8 0zm1 0zm1 0zm1 0zm1 0zm7 0zm1 0zm1 0zm4 0zm1 0zm3 0zm5 0zm-60 1zm6 0zm3 0zm8 0zm4 0zm1 0zm1 0zm7 0zm1 0zm1 0zm1 0zm4 0zm2 0zm1 0zm1 0zm2 0zm3 0zm6 0zm7 0zm1 0zm-57 1zm9 0zm3 0zm5 0zm1 0zm1 0zm5 0zm3 0zm1 0zm10 0zm5 0zm2 0zm2 0zm18 0zm-64 1zm6 0zm11 0zm1 0zm4 0zm4 0zm2 0zm3 0zm1 0zm4 0zm1 0zm3 0zm4 0zm16 0zm-59 1zm14 0zm3 0zm5 0zm7 0zm2 0zm4 0zm2 0zm1 0zm6 0zm1 0zm-56 1zm17 0zm5 0zm1 0zm4 0zm3 0zm3 0zm2 0zm1 0zm2 0zm6 0zm1 0zm1 0zm2 0zm2 0zm4 0zm2 0zm3 0zm4 0zm-63 1zm17 0zm4 0zm8 0zm8 0zm1 0zm1 0zm2 0zm1 0zm1 0zm1 0zm1 0zm1 0zm2 0zm1 0zm7 0zm6 0zm3 0zm8 0zm-55 1zm4 0zm2 0zm3 0zm12 0zm1 0zm1 0zm7 0zm10 0zm-38 1zm3 0zm1 0zm5 0zm3 0zm6 0zm1 0zm4 0zm4 0zm7 0zm2 0zm2 0zm15 0zm-66 1zm4 0zm4 0zm3 0zm1 0zm1 0zm2 0zm1 0zm1 0zm1 0zm1 0zm8 0zm5 0zm3 0zm1 0zm5 0zm1 0zm5 0zm3 0zm1 0zm4 0zm1 0zm3 0zm-53 1zm16 0zm1 0zm1 0zm1 0zm2 0zm1 0zm3 0zm1 0zm6 0zm1 0zm1 0zm1 0zm5 0zm3 0zm2 0zm-35 1zm1 0zm1 0zm3 0zm1 0zm2 0zm2 0zm2 0zm1 0zm5 0zm2 0zm4 0zm3 0zm3 0zm3 0zm2 0zm2 0zm-51 1zm2 0zm5 0zm6 0zm1 0zm2 0zm7 0zm1 0zm1 0zm5 0zm1 0zm4 0zm2 0zm2 0zm1 0zm5 0zm4 0zm7 0zm1 0zm-61 1zm12 0zm7 0zm2 0zm4 0zm5 0zm4 0zm5 0zm9 0zm6 0zm7 0zm7 0zm-59 1zm10 0zm8 0zm1 0zm1 0zm2 0zm4 0zm5 0zm5 0zm10 0zm10 0zm-47 1zm16 0zm1 0zm2 0zm5 0zm1 0zm1 0zm3 0zm15 0zm-75 1zm25 0zm7 0zm4 0zm1 0zm4 0zm12 0zm1 0zm1 0zm6 0zm-44 1zm12 0zm2 0zm3 0zm3 0zm4 0zm17 0zm4 0zm8 0zm3 0zm-45 1zm1 0zm1 0zm10 0zm4 0zm3 0zm5 0zm8 0zm31 0zm-73 1zm8 0zm3 0zm5 0zm1 0zm2 0zm1 0zm15 0zm20 0zm-51 1zm7 0zm2 0zm5 0zm11 0zm1 0zm11 0zm5 0zm15 0zm-46 1zm2 0zm2 0zm10 0zm9 0zm-18 1zm1 0zm1 0zm1 0zm3 0zm4 0zm5 0zm4 0zm-17 1zm10 0zm7 0zm2 0zm1 0zm-28 1zm3 0zm46 0zm-51 1zm17 0zm19 0zm-27 1zm2 0zm2 0zm-3 1zm40 0zm-37 1zm6 0zm21 0zm6 0zm-49 1zm20 0zm6 0zm9 0zm-15 1zm9 2zm-28 1zm3 0zm9 0zm9 0zm-11 2zm3 0zm4 0zm31 0zm-47 1zm3 0zm31 0zm-25 1zm21 0zm-6 3zm18 0zm-30 2zm-16 2zm12 1zm2 0zm1 3zm11 1z" stroke="#4a4abc" stroke-width="2" stroke-opacity="0.75" stroke-linecap="square" fill="none"/>
</g>
<g filter="url(#soft2)">
<ellipse cx="424" cy="1135.2" rx="6.5" ry="8" fill="#3038c8" fill-opacity="0.45"/>
<ellipse cx="424.6" cy="1135.6" rx="3.6" ry="4.6" fill="#3f86e6" fill-opacity="0.7"/>
</g>
<path d="M421.3 1100L494.2 1100L494.2 1175.8L421.3 1175.8Z" fill="none" stroke="#555" stroke-width="0.9"/>
</g>
<path d="M363.7 1048.3H495V1176.3" fill="none" stroke="#8a8a8a" stroke-width="1"/>
<path d="M363.7 1048.3V1176.3H495" fill="none" stroke="#2a2a2a" stroke-width="1.1"/>
<text x="359.2" y="1057.3" font-size="8" fill="#333" text-anchor="end">250 K</text>
<text x="359.2" y="1081.4" font-size="8" fill="#333" text-anchor="end">200 K</text>
<text x="359.2" y="1105.7" font-size="8" fill="#333" text-anchor="end">150 K</text>
<text x="359.2" y="1130.1" font-size="8" fill="#333" text-anchor="end">100 K</text>
<text x="359.2" y="1154.4" font-size="8" fill="#333" text-anchor="end">50 K</text>
<text x="359.2" y="1178.7" font-size="8" fill="#333" text-anchor="end">0</text>
<path d="M363.7 1054.4h-3M363.7 1078.5h-3M363.7 1102.8h-3M363.7 1127.2h-3M363.7 1151.5h-3M363.7 1175.8h-3M363.7 1059.3h-1.6M363.7 1064.1h-1.6M363.7 1069h-1.6M363.7 1073.8h-1.6M363.7 1083.5h-1.6M363.7 1088.4h-1.6M363.7 1093.2h-1.6M363.7 1098.1h-1.6M363.7 1107.8h-1.6M363.7 1112.7h-1.6M363.7 1117.5h-1.6M363.7 1122.4h-1.6M363.7 1132.1h-1.6M363.7 1137h-1.6M363.7 1141.8h-1.6M363.7 1146.7h-1.6M363.7 1156.4h-1.6M363.7 1161.2h-1.6M363.7 1166.1h-1.6M363.7 1170.9h-1.6" stroke="#2a2a2a" stroke-width=".8" fill="none"/>
<text x="370.2" y="1188.9" font-size="7.8" fill="#333">10<tspan dy="-3.1" font-size="5.7">0</tspan></text>
<text x="392.1" y="1188.9" font-size="7.8" fill="#333">10<tspan dy="-3.1" font-size="5.7">1</tspan></text>
<text x="413.9" y="1188.9" font-size="7.8" fill="#333">10<tspan dy="-3.1" font-size="5.7">2</tspan></text>
<text x="435.7" y="1188.9" font-size="7.8" fill="#333">10<tspan dy="-3.1" font-size="5.7">3</tspan></text>
<text x="457.5" y="1188.9" font-size="7.8" fill="#333">10<tspan dy="-3.1" font-size="5.7">4</tspan></text>
<text x="479.4" y="1188.9" font-size="7.8" fill="#333">10<tspan dy="-3.1" font-size="5.7">5</tspan></text>
<path d="M376.2 1176.3v3M398.1 1176.3v3M419.9 1176.3v3M441.7 1176.3v3M463.5 1176.3v3M485.4 1176.3v3M364.7 1176.3v1.5M367.5 1176.3v1.5M369.6 1176.3v1.5M371.3 1176.3v1.5M372.8 1176.3v1.5M374.1 1176.3v1.5M375.2 1176.3v1.5M382.8 1176.3v1.5M386.6 1176.3v1.5M389.4 1176.3v1.5M391.5 1176.3v1.5M393.2 1176.3v1.5M394.7 1176.3v1.5M396 1176.3v1.5M397.1 1176.3v1.5M404.7 1176.3v1.5M408.5 1176.3v1.5M411.2 1176.3v1.5M413.3 1176.3v1.5M415.1 1176.3v1.5M416.5 1176.3v1.5M417.8 1176.3v1.5M418.9 1176.3v1.5M426.5 1176.3v1.5M430.3 1176.3v1.5M433 1176.3v1.5M435.1 1176.3v1.5M436.9 1176.3v1.5M438.3 1176.3v1.5M439.6 1176.3v1.5M440.7 1176.3v1.5M448.3 1176.3v1.5M452.1 1176.3v1.5M454.8 1176.3v1.5M456.9 1176.3v1.5M458.7 1176.3v1.5M460.1 1176.3v1.5M461.4 1176.3v1.5M462.5 1176.3v1.5M470.1 1176.3v1.5M473.9 1176.3v1.5M476.7 1176.3v1.5M478.8 1176.3v1.5M480.5 1176.3v1.5M482 1176.3v1.5M483.3 1176.3v1.5M484.4 1176.3v1.5M492 1176.3v1.5" stroke="#2a2a2a" stroke-width=".7" fill="none"/>
<text x="459.7" y="1111.9" font-size="12.3" fill="#111" text-anchor="middle" font-weight="bold">Activated</text>
<text x="459.7" y="1126.8" font-size="12.3" fill="#111" text-anchor="middle" font-weight="bold">CD16+</text>
<text x="463.4" y="1141.9" font-size="12.3" fill="#111" text-anchor="middle" font-weight="bold">CD56++</text>
<text x="459.7" y="1157" font-size="12.3" fill="#111" text-anchor="middle" font-weight="bold">57.5%</text>
<text x="432.8" y="1039.2" font-size="16.5" fill="#000" text-anchor="middle" font-weight="bold">CD16+CD56++</text>
<text x="330.3" y="1114.6" font-size="18" font-weight="bold" text-anchor="middle" fill="#000" transform="rotate(-90 330.3 1114.6)">SSC-A</text>
<text x="358.9" y="1206.8" font-size="18" fill="#000" font-weight="bold">CD107a</text>
<g clip-path="url(#c13)">
<g filter="url(#haze)">
<ellipse cx="616.7" cy="1141.5" rx="7" ry="7" fill="#5656dc" fill-opacity="0.12"/>
</g>
<g filter="url(#rough)">
<path transform="scale(.5)" d="M1252 2233zm-23 5zm11 8zm5 2zm-22 4zm2 3zm15 0zm17 0zm-26 1zm11 1zm7 0zm-47 1zm31 0zm-13 1zm5 0zm6 0zm-11 1zm1 0zm2 0zm18 0zm5 0zm14 0zm-36 1zm26 0zm-34 1zm6 0zm11 0zm10 0zm1 0zm2 0zm15 0zm-62 1zm37 0zm3 0zm7 0zm-2 1zm1 0zm10 0zm4 0zm-56 1zm11 0zm17 0zm15 0zm9 0zm4 0zm-54 1zm20 0zm2 0zm4 0zm-14 1zm6 0zm1 0zm-19 1zm10 0zm13 0zm14 0zm-38 1zm8 0zm1 0zm1 0zm23 0zm4 0zm-31 1zm3 0zm21 0zm4 0zm2 0zm15 0zm3 0zm-47 1zm9 0zm3 0zm5 0zm3 0zm12 0zm4 0zm12 0zm-46 1zm11 0zm3 0zm7 0zm1 0zm5 0zm13 0zm-30 1zm3 0zm1 0zm9 0zm3 0zm3 0zm1 0zm3 0zm5 0zm-45 1zm12 0zm6 0zm4 0zm1 0zm5 0zm9 0zm6 0zm19 0zm-47 1zm5 0zm5 0zm13 0zm-35 1zm16 0zm1 0zm5 0zm11 0zm-28 1zm9 0zm8 0zm1 0zm11 0zm13 0zm-33 1zm6 0zm5 0zm21 0zm4 0zm-50 1zm1 0zm4 0zm3 0zm4 0zm11 0zm2 0zm11 0zm7 0zm1 0zm14 0zm-37 1zm3 0zm11 0zm1 0zm1 0zm1 0zm17 0zm-64 1zm13 0zm1 0zm2 0zm7 0zm3 0zm4 0zm1 0zm2 0zm1 0zm8 0zm12 0zm8 0zm-48 1zm2 0zm3 0zm6 0zm3 0zm1 0zm7 0zm5 0zm4 0zm2 0zm1 0zm5 0zm-55 1zm2 0zm16 0zm14 0zm4 0zm2 0zm17 0zm-38 1zm7 0zm2 0zm5 0zm1 0zm1 0zm1 0zm2 0zm1 0zm1 0zm1 0zm4 0zm5 0zm20 0zm-60 1zm11 0zm9 0zm8 0zm3 0zm12 0zm4 0zm-32 1zm5 0zm3 0zm1 0zm4 0zm2 0zm4 0zm2 0zm3 0zm12 0zm4 0zm-49 1zm13 0zm6 0zm3 0zm1 0zm2 0zm3 0zm-43 1zm17 0zm3 0zm3 0zm1 0zm8 0zm16 0zm15 0zm-49 1zm6 0zm1 0zm3 0zm5 0zm2 0zm3 0zm2 0zm10 0zm5 0zm1 0zm7 0zm-46 1zm4 0zm2 0zm1 0zm14 0zm1 0zm12 0zm1 0zm-37 1zm23 0zm2 0zm1 0zm1 0zm5 0zm3 0zm1 0zm-22 1zm1 0zm1 0zm8 0zm5 0zm6 0zm12 0zm23 0zm-62 1zm6 0zm5 0zm10 0zm8 0zm6 0zm3 0zm-38 1zm21 0zm1 0zm4 0zm4 0zm1 0zm4 0zm1 0zm-43 1zm18 0zm4 0zm10 0zm7 0zm-33 1zm2 0zm2 0zm1 0zm7 0zm2 0zm3 0zm7 0zm5 0zm17 0zm6 0zm-56 1zm6 0zm8 0zm11 0zm7 0zm6 0zm2 0zm-43 1zm22 0zm7 0zm1 0zm20 0zm-51 1zm3 0zm13 0zm3 0zm8 0zm2 0zm1 0zm20 0zm-40 1zm7 0zm4 0zm5 0zm2 0zm2 0zm15 0zm11 0zm-6 1zm-34 1zm18 0zm1 0zm4 0zm5 0zm7 0zm-42 1zm5 0zm9 0zm5 0zm1 0zm-23 1zm4 0zm4 0zm4 0zm5 0zm1 0zm1 0zm-4 1zm5 0zm7 0zm9 0zm-18 1zm-9 1zm2 1zm24 0zm6 0zm-46 1zm19 0zm16 0zm-7 1zm6 1zm4 0zm-28 1zm-18 1zm10 0zm28 0zm11 2zm4 1zm12 0zm-24 1zm2 0zm-44 1zm34 1zm-13 3zm-13 2z" stroke="#5a5ab8" stroke-width="2" stroke-opacity="0.7" stroke-linecap="square" fill="none"/>
</g>
<path d="M622.5 1099.4L687.5 1099.4L687.5 1176.3L622.5 1176.3Z" fill="none" stroke="#555" stroke-width="0.9"/>
</g>
<path d="M557.5 1048.5H687.5V1176.9" fill="none" stroke="#8a8a8a" stroke-width="1"/>
<path d="M557.5 1048.5V1176.9H687.5" fill="none" stroke="#2a2a2a" stroke-width="1.1"/>
<text x="553" y="1058.6" font-size="8" fill="#333" text-anchor="end">250 K</text>
<text x="553" y="1082.7" font-size="8" fill="#333" text-anchor="end">200 K</text>
<text x="553" y="1106.9" font-size="8" fill="#333" text-anchor="end">150 K</text>
<text x="553" y="1131" font-size="8" fill="#333" text-anchor="end">100 K</text>
<text x="553" y="1155.1" font-size="8" fill="#333" text-anchor="end">50 K</text>
<text x="553" y="1179.2" font-size="8" fill="#333" text-anchor="end">0</text>
<path d="M557.5 1055.7h-3M557.5 1079.8h-3M557.5 1104h-3M557.5 1128.1h-3M557.5 1152.2h-3M557.5 1176.3h-3M557.5 1060.5h-1.6M557.5 1065.3h-1.6M557.5 1070.2h-1.6M557.5 1075h-1.6M557.5 1084.6h-1.6M557.5 1089.5h-1.6M557.5 1094.3h-1.6M557.5 1099.1h-1.6M557.5 1108.8h-1.6M557.5 1113.6h-1.6M557.5 1118.4h-1.6M557.5 1123.2h-1.6M557.5 1132.9h-1.6M557.5 1137.7h-1.6M557.5 1142.5h-1.6M557.5 1147.4h-1.6M557.5 1157h-1.6M557.5 1161.8h-1.6M557.5 1166.7h-1.6M557.5 1171.5h-1.6" stroke="#2a2a2a" stroke-width=".8" fill="none"/>
<text x="564.3" y="1189.5" font-size="7.8" fill="#333">10<tspan dy="-3.1" font-size="5.7">0</tspan></text>
<text x="585.8" y="1189.5" font-size="7.8" fill="#333">10<tspan dy="-3.1" font-size="5.7">1</tspan></text>
<text x="607.3" y="1189.5" font-size="7.8" fill="#333">10<tspan dy="-3.1" font-size="5.7">2</tspan></text>
<text x="628.9" y="1189.5" font-size="7.8" fill="#333">10<tspan dy="-3.1" font-size="5.7">3</tspan></text>
<text x="650.5" y="1189.5" font-size="7.8" fill="#333">10<tspan dy="-3.1" font-size="5.7">4</tspan></text>
<text x="672.2" y="1189.5" font-size="7.8" fill="#333">10<tspan dy="-3.1" font-size="5.7">5</tspan></text>
<path d="M570.3 1176.9v3M591.8 1176.9v3M613.3 1176.9v3M634.9 1176.9v3M656.5 1176.9v3M678.2 1176.9v3M559.1 1176.9v1.5M561.7 1176.9v1.5M563.8 1176.9v1.5M565.5 1176.9v1.5M567 1176.9v1.5M568.2 1176.9v1.5M569.3 1176.9v1.5M576.8 1176.9v1.5M580.6 1176.9v1.5M583.2 1176.9v1.5M585.3 1176.9v1.5M587 1176.9v1.5M588.5 1176.9v1.5M589.7 1176.9v1.5M590.8 1176.9v1.5M598.3 1176.9v1.5M602.1 1176.9v1.5M604.7 1176.9v1.5M606.8 1176.9v1.5M608.5 1176.9v1.5M610 1176.9v1.5M611.2 1176.9v1.5M612.3 1176.9v1.5M619.8 1176.9v1.5M623.6 1176.9v1.5M626.3 1176.9v1.5M628.4 1176.9v1.5M630.1 1176.9v1.5M631.6 1176.9v1.5M632.8 1176.9v1.5M633.9 1176.9v1.5M641.4 1176.9v1.5M645.2 1176.9v1.5M647.9 1176.9v1.5M650 1176.9v1.5M651.7 1176.9v1.5M653.2 1176.9v1.5M654.4 1176.9v1.5M655.5 1176.9v1.5M663 1176.9v1.5M666.9 1176.9v1.5M669.6 1176.9v1.5M671.7 1176.9v1.5M673.4 1176.9v1.5M674.8 1176.9v1.5M676.1 1176.9v1.5M677.2 1176.9v1.5M684.7 1176.9v1.5" stroke="#2a2a2a" stroke-width=".7" fill="none"/>
<text x="653.8" y="1114.6" font-size="12.3" fill="#111" text-anchor="middle" font-weight="bold">Activated</text>
<text x="652.5" y="1129.4" font-size="12.3" fill="#111" text-anchor="middle" font-weight="bold">CD16-</text>
<text x="658.7" y="1144.5" font-size="12.3" fill="#111" text-anchor="middle" font-weight="bold">CD56++</text>
<text x="655.7" y="1159.6" font-size="12.3" fill="#111" text-anchor="middle" font-weight="bold">16.4%</text>
<text x="618" y="1039.8" font-size="16.5" fill="#000" text-anchor="middle" font-weight="bold">CD16-CD56++</text>
<text x="532.9" y="1114.6" font-size="18" font-weight="bold" text-anchor="middle" fill="#000" transform="rotate(-90 532.9 1114.6)">SSC-A</text>
<g clip-path="url(#c14)">
<g filter="url(#haze)">
<ellipse cx="217" cy="1265" rx="7" ry="22" fill="#5656dc" fill-opacity="0.28"/>
<ellipse cx="212" cy="1305" rx="9" ry="28" fill="#5656dc" fill-opacity="0.15"/>
<ellipse cx="245.3" cy="1335" rx="7" ry="7" fill="#5656dc" fill-opacity="0.28"/>
</g>
<g filter="url(#rough)">
<path transform="scale(.5)" d="M381 2475zm-11 1zm34 2zm13 0zm21 0zm-41 1zm19 0zm28 0zm2 0zm-52 1zm-6 1zm54 0zm-49 2zm30 0zm4 0zm-57 1zm0 1zm1 0zm3 0zm10 1zm15 2zm11 0zm-7 1zm-61 2zm40 0zm1 0zm15 0zm63 0zm-69 1zm39 0zm-75 1zm39 0zm-41 1zm63 0zm-39 2zm28 2zm78 0zm-100 1zm23 0zm7 0zm-68 2zm24 0zm24 0zm22 0zm45 0zm-54 1zm-14 1zm-57 2zm146 0zm-90 1zm54 0zm25 0zm-49 1zm29 0zm-57 1zm2 0zm3 0zm21 0zm10 0zm-51 1zm11 0zm-24 1zm11 0zm18 0zm8 0zm1 0zm-2 2zm-2 1zm15 0zm33 1zm-71 1zm16 0zm14 0zm-58 1zm40 0zm23 0zm8 0zm-29 1zm19 0zm13 0zm16 0zm-86 1zm16 0zm36 0zm37 0zm-11 1zm21 0zm-84 2zm26 0zm4 0zm4 0zm15 0zm18 0zm-39 1zm20 0zm36 0zm-111 1zm17 0zm8 0zm11 0zm13 0zm71 0zm-48 1zm21 0zm16 0zm-109 1zm34 0zm11 0zm30 0zm-24 1zm4 0zm-54 1zm1 0zm12 0zm13 0zm17 0zm26 0zm40 0zm-89 1zm43 0zm2 0zm11 0zm14 0zm10 0zm-81 1zm10 0zm70 0zm3 0zm-88 1zm45 0zm40 0zm-88 2zm38 0zm7 0zm17 0zm8 0zm-45 1zm41 0zm2 0zm-14 1zm3 0zm3 0zm-12 1zm15 0zm2 0zm-25 1zm8 0zm-29 1zm60 0zm-55 1zm26 0zm1 0zm18 0zm-38 1zm25 0zm22 0zm21 0zm-87 1zm37 0zm-48 1zm9 1zm25 0zm3 0zm7 0zm5 0zm22 0zm-19 1zm8 0zm26 0zm26 0zm-124 1zm44 0zm13 0zm18 0zm-60 1zm56 0zm24 0zm-103 1zm35 0zm15 0zm28 0zm-37 1zm7 0zm9 0zm14 0zm-23 1zm17 0zm1 0zm54 0zm-77 1zm7 0zm112 0zm-149 1zm3 0zm5 0zm5 0zm9 0zm13 0zm55 0zm-103 1zm7 0zm38 0zm6 0zm13 0zm3 0zm-13 1zm27 0zm-34 1zm5 0zm14 0zm47 0zm15 0zm-112 1zm34 0zm21 0zm5 0zm-48 1zm14 0zm14 0zm11 0zm3 0zm1 0zm-24 1zm3 0zm43 0zm13 0zm24 0zm-95 1zm52 0zm45 0zm-142 1zm68 0zm10 0zm7 0zm-10 1zm3 0zm29 0zm32 0zm-86 1zm13 0zm12 0zm29 0zm12 0zm14 0zm2 0zm-62 1zm26 0zm-7 1zm9 0zm-11 1zm22 0zm2 0zm6 0zm-19 1zm1 0zm25 0zm-44 1zm25 0zm19 0zm-95 1zm31 0zm22 0zm-56 1zm26 0zm16 0zm22 0zm-59 1zm27 0zm10 0zm21 0zm19 1zm-85 1zm71 0zm16 0zm12 0zm-52 1zm6 0zm15 0zm2 0zm30 0zm-123 1zm62 0zm2 0zm32 0zm-63 1zm11 0zm19 0zm7 0zm17 0zm6 0zm6 0zm11 0zm12 0zm15 0zm20 0zm-111 1zm2 0zm6 0zm3 0zm-32 1zm51 0zm13 0zm-109 1zm115 0zm9 0zm3 0zm10 0zm-131 1zm74 0zm23 0zm1 0zm25 0zm14 0zm-55 1zm-45 1zm74 0zm2 0zm13 0zm-65 1zm10 0zm15 0zm18 0zm26 0zm-114 1zm67 0zm12 0zm26 0zm-48 1zm1 0zm3 0zm3 0zm6 0zm33 0zm3 0zm23 0zm-117 1zm60 0zm5 0zm1 0zm4 0zm4 0zm19 0zm30 0zm-101 1zm80 0zm13 1zm-98 1zm11 0zm5 0zm23 0zm8 0zm1 0zm1 0zm12 0zm7 0zm13 0zm28 0zm25 0zm-154 1zm25 0zm60 0zm-38 1zm1 0zm35 0zm7 0zm-12 1zm2 0zm6 0zm35 0zm11 0zm-101 1zm4 0zm5 0zm30 0zm28 0zm11 0zm-10 1zm-98 1zm9 1zm32 0zm57 0zm-65 1zm25 0zm-16 1zm25 0zm2 0zm28 0zm-29 1zm15 0zm-62 1zm36 0zm-69 1zm42 0zm28 0zm34 0zm-71 1zm31 0zm-14 1zm13 1zm27 0zm22 0zm-67 1zm7 0zm9 0zm-26 2zm23 0zm9 0zm41 0zm-26 1zm-18 1zm8 0zm37 0zm-123 1zm3 1zm91 0zm-30 1zm-8 1zm2 0zm11 0zm18 0zm3 0zm5 0zm51 0zm-68 1zm13 0zm7 0zm30 0zm28 0zm-115 1zm58 0zm6 1zm14 0zm-83 1zm30 0zm4 0zm35 0zm14 0zm-80 1zm16 1zm9 0zm1 0zm9 0zm17 0zm-41 1zm31 0zm10 0zm28 0zm2 0zm5 0zm-69 1zm39 0zm-69 1zm60 0zm5 0zm2 0zm-33 1zm46 0zm-43 1zm27 1zm-45 1zm57 0zm25 0zm-85 1zm30 0zm-37 1zm83 0zm5 0zm-46 1zm19 0zm31 0zm-41 1zm14 0zm0 1zm-21 1zm26 0zm16 0zm1 0zm-93 1zm3 0zm100 0zm-93 1zm7 0zm11 0zm13 0zm25 1zm-31 1zm26 0zm14 0zm13 0zm-116 1zm47 1zm43 0zm43 1zm-49 1zm12 0zm7 0zm-28 1zm33 0zm-41 1zm13 0zm9 0zm8 0zm-66 1zm65 0zm-18 1zm22 0zm-19 1zm20 0zm8 0zm-1 1zm-100 1zm38 0zm31 0zm10 0zm8 0zm1 0zm-13 1zm17 0zm-72 1zm52 0zm17 0zm-67 1zm31 0zm30 2zm-51 1zm47 0zm-50 1zm81 0zm-41 1zm40 0zm-53 1zm17 1zm13 1zm12 0zm-64 1zm48 0zm73 0zm-70 1zm8 0zm-56 1zm7 0zm73 0zm-52 1zm11 1zm36 0zm-91 2zm54 0zm-50 1zm-37 1zm111 0zm-59 1zm61 2zm1 0zm16 0zm-82 1zm81 1zm-79 1zm45 0zm19 0zm-68 2zm110 0zm-78 4zm-6 1zm22 0zm28 0zm6 0zm-19 1zm-26 1zm-2 1zm11 0zm-16 1zm74 2zm-25 1zm-28 1zm29 1zm-48 1zm-35 2zm26 2zm-67 1zm70 5zm-30 4zm29 4zm-7 1zm30 0zm-6 2zm51 2zm-22 2zm-14 5zm24 2zm-21 5zm0 1zm15 1zm-5 1z" stroke="#7a7acc" stroke-width="2" stroke-opacity="0.6" stroke-linecap="square" fill="none"/>
<path transform="scale(.5)" d="M399 2475zm28 0zm2 1zm9 1zm-18 1zm18 1zm-15 2zm-3 1zm-11 1zm52 0zm-34 2zm14 0zm8 0zm-58 1zm30 0zm5 0zm4 0zm-4 1zm3 0zm16 0zm-20 1zm-9 2zm25 0zm-26 1zm23 0zm-13 1zm10 0zm-27 1zm25 0zm10 1zm-6 1zm14 0zm-27 1zm5 0zm-24 1zm35 0zm-15 1zm5 0zm-21 1zm11 0zm6 0zm-14 1zm11 0zm16 0zm11 0zm-48 1zm0 1zm24 0zm6 0zm-45 1zm41 0zm2 0zm11 0zm-23 1zm15 0zm8 0zm-46 1zm3 0zm2 0zm15 0zm14 0zm3 0zm9 0zm-11 1zm-10 1zm30 0zm-32 1zm-26 1zm9 0zm14 0zm18 0zm9 0zm-16 1zm-16 1zm22 0zm2 0zm-10 1zm14 0zm-30 1zm20 0zm1 0zm3 0zm29 0zm-41 1zm8 0zm2 0zm1 0zm4 0zm10 0zm-33 1zm4 0zm4 0zm4 0zm9 1zm12 0zm-42 1zm18 0zm1 0zm4 0zm10 0zm4 0zm4 0zm-24 1zm8 0zm13 0zm3 0zm-32 1zm1 0zm18 0zm7 0zm4 0zm-29 1zm1 0zm11 0zm26 0zm-40 1zm7 0zm11 0zm3 0zm-24 1zm5 0zm5 0zm1 0zm25 0zm-31 1zm4 0zm11 0zm9 0zm10 0zm-56 1zm9 0zm3 0zm22 0zm-10 1zm16 0zm3 0zm20 0zm-38 1zm3 0zm23 0zm-29 1zm3 0zm7 0zm22 0zm-39 1zm5 0zm9 0zm8 0zm3 0zm5 0zm10 0zm-47 1zm2 0zm14 0zm16 1zm7 0zm12 0zm-73 1zm43 0zm6 0zm12 0zm5 0zm5 0zm-52 1zm1 0zm25 0zm3 0zm11 0zm5 0zm-18 1zm5 0zm3 0zm6 0zm1 0zm4 0zm-34 1zm18 0zm5 0zm4 0zm-42 1zm7 0zm1 0zm18 0zm11 0zm8 0zm4 0zm9 0zm-46 1zm5 0zm7 0zm3 0zm9 0zm1 0zm-30 1zm17 0zm1 0zm17 0zm1 0zm19 0zm-57 1zm6 0zm16 0zm4 0zm10 0zm1 0zm-43 1zm16 0zm5 0zm21 0zm5 0zm4 0zm11 0zm-52 1zm11 0zm1 0zm4 0zm14 0zm9 0zm7 0zm-67 1zm19 0zm23 0zm10 0zm5 0zm8 0zm-27 1zm12 0zm3 0zm3 0zm4 0zm4 0zm1 0zm-48 1zm8 0zm9 0zm15 0zm-28 1zm17 0zm12 0zm5 0zm10 0zm-26 1zm1 0zm4 0zm4 0zm3 0zm6 0zm1 0zm1 0zm5 0zm-43 1zm9 0zm2 0zm15 0zm7 0zm6 0zm6 0zm2 0zm8 0zm-49 1zm16 0zm3 0zm10 0zm10 0zm-38 1zm5 0zm9 0zm3 0zm2 0zm3 0zm18 0zm2 0zm-66 1zm19 0zm3 0zm20 0zm1 0zm1 0zm11 0zm7 0zm-45 1zm11 0zm6 0zm7 0zm3 0zm2 0zm1 0zm1 0zm2 0zm1 0zm1 0zm14 0zm2 0zm-61 1zm13 0zm26 0zm1 0zm1 0zm3 0zm4 0zm5 0zm4 0zm3 0zm-50 1zm17 0zm4 0zm14 0zm17 0zm5 0zm-35 1zm12 0zm-29 1zm4 0zm13 0zm4 0zm14 0zm-46 1zm11 0zm6 0zm4 0zm6 0zm2 0zm5 0zm1 0zm4 0zm10 0zm5 0zm2 0zm10 0zm-65 1zm6 0zm10 0zm10 0zm3 0zm1 0zm1 0zm2 0zm16 0zm1 0zm3 0zm-62 1zm31 0zm1 0zm22 0zm3 0zm-35 1zm5 0zm21 0zm13 0zm1 0zm-39 1zm1 0zm5 0zm1 0zm3 0zm8 0zm17 0zm16 0zm-64 1zm9 0zm2 0zm2 0zm9 0zm17 0zm10 0zm4 0zm7 0zm-43 1zm1 0zm2 0zm1 0zm8 0zm4 0zm5 0zm2 0zm-47 1zm13 0zm2 0zm10 0zm4 0zm7 0zm11 0zm7 0zm-50 1zm6 0zm25 0zm5 0zm1 0zm2 0zm5 0zm6 0zm-59 1zm16 0zm4 0zm8 0zm3 0zm11 0zm15 0zm5 0zm-39 1zm14 0zm4 0zm5 0zm4 0zm1 0zm13 0zm-58 1zm11 0zm6 0zm17 0zm4 0zm4 0zm5 0zm13 0zm-51 1zm14 0zm2 0zm4 0zm1 0zm5 0zm6 0zm5 0zm16 0zm6 0zm-64 1zm25 0zm6 0zm7 0zm3 0zm1 0zm2 0zm5 0zm-53 1zm21 0zm3 0zm6 0zm2 0zm7 0zm3 0zm1 0zm4 0zm-23 1zm9 0zm3 0zm7 0zm3 0zm-46 1zm11 0zm14 0zm10 0zm3 0zm2 0zm9 0zm-71 1zm38 0zm10 0zm5 0zm3 0zm1 0zm4 0zm2 0zm5 0zm13 0zm-50 1zm2 0zm8 0zm13 0zm2 0zm3 0zm1 0zm7 0zm7 0zm-34 1zm17 0zm11 0zm2 0zm5 0zm-53 1zm4 0zm8 0zm6 0zm17 0zm2 0zm3 0zm8 0zm2 0zm1 0zm7 0zm-65 1zm20 0zm13 0zm1 0zm6 0zm4 0zm5 0zm4 0zm2 0zm4 0zm5 0zm-48 1zm9 0zm4 0zm3 0zm5 0zm1 0zm3 0zm9 0zm2 0zm1 0zm1 0zm18 0zm-60 1zm15 0zm5 0zm3 0zm4 0zm1 0zm6 0zm-39 1zm11 0zm1 0zm1 0zm1 0zm5 0zm1 0zm3 0zm9 0zm3 0zm5 0zm1 0zm2 0zm4 0zm12 0zm-58 1zm8 0zm3 0zm15 0zm3 0zm4 0zm2 0zm6 0zm13 0zm4 0zm-60 1zm12 0zm15 0zm5 0zm2 0zm4 0zm1 0zm3 0zm13 0zm14 0zm-62 1zm9 0zm1 0zm4 0zm3 0zm7 0zm7 0zm3 0zm3 0zm5 0zm8 0zm-49 1zm16 0zm7 0zm1 0zm7 0zm3 0zm1 0zm12 0zm14 0zm-61 1zm9 0zm3 0zm6 0zm4 0zm1 0zm1 0zm4 0zm6 0zm6 0zm6 0zm13 0zm-65 1zm8 0zm9 0zm5 0zm7 0zm4 0zm5 0zm16 0zm-50 1zm14 0zm2 0zm6 0zm1 0zm5 0zm3 0zm11 0zm1 0zm13 0zm-40 1zm8 0zm5 0zm11 0zm-36 1zm3 0zm13 0zm1 0zm5 0zm6 0zm1 0zm3 0zm5 0zm5 0zm11 0zm5 0zm-86 1zm24 0zm6 0zm14 0zm5 0zm4 0zm12 0zm1 0zm5 0zm16 0zm-61 1zm15 0zm1 0zm1 0zm8 0zm5 0zm2 0zm11 0zm6 0zm-47 1zm1 0zm8 0zm9 0zm3 0zm6 0zm5 0zm3 0zm4 0zm5 0zm7 0zm-43 1zm5 0zm4 0zm4 0zm7 0zm5 0zm2 0zm3 0zm4 0zm5 0zm5 0zm-68 1zm6 0zm3 0zm13 0zm2 0zm6 0zm1 0zm1 0zm11 0zm11 0zm4 0zm10 0zm-51 1zm2 0zm10 0zm8 0zm2 0zm3 0zm1 0zm1 0zm5 0zm5 0zm2 0zm6 0zm-37 1zm3 0zm5 0zm4 0zm16 0zm8 0zm-40 1zm6 0zm5 0zm1 0zm3 0zm10 0zm5 0zm4 0zm8 0zm-42 1zm4 0zm10 0zm1 0zm2 0zm7 0zm-35 1zm7 0zm5 0zm12 0zm1 0zm5 0zm11 0zm4 0zm5 0zm11 0zm-55 1zm9 0zm3 0zm11 0zm2 0zm9 0zm1 0zm21 0zm4 0zm-59 1zm1 0zm6 0zm6 0zm6 0zm4 0zm1 0zm3 0zm1 0zm7 0zm8 0zm-44 1zm10 0zm1 0zm8 0zm7 0zm1 0zm2 0zm4 0zm-35 1zm19 0zm8 0zm1 0zm3 0zm2 0zm4 0zm1 0zm3 0zm2 0zm2 0zm8 0zm-50 1zm2 0zm1 0zm1 0zm7 0zm10 0zm5 0zm4 0zm2 0zm4 0zm3 0zm3 0zm6 0zm-45 1zm1 0zm9 0zm7 0zm8 0zm7 0zm1 0zm2 0zm6 0zm-46 1zm4 0zm6 0zm5 0zm25 0zm4 0zm17 0zm-93 1zm52 0zm6 0zm3 0zm4 0zm4 0zm2 0zm15 0zm-45 1zm1 0zm4 0zm4 0zm1 0zm4 0zm4 0zm2 0zm4 0zm4 0zm-49 1zm6 0zm13 0zm3 0zm12 0zm17 0zm7 0zm-26 1zm3 0zm16 0zm8 0zm3 0zm-54 1zm22 0zm1 0zm16 0zm5 0zm3 0zm-42 1zm8 0zm4 0zm18 0zm1 0zm15 0zm10 0zm-60 1zm6 0zm5 0zm2 0zm14 0zm4 0zm1 0zm2 0zm1 0zm12 0zm3 0zm-56 1zm17 0zm2 0zm9 0zm6 0zm2 0zm3 0zm12 0zm1 0zm12 0zm-71 1zm13 0zm3 0zm2 0zm1 0zm2 0zm23 0zm2 0zm9 0zm1 0zm4 0zm2 0zm-49 1zm7 0zm1 0zm1 0zm13 0zm2 0zm15 0zm1 0zm12 0zm11 0zm-86 1zm22 0zm18 0zm22 0zm14 0zm-32 1zm5 0zm1 0zm3 0zm4 0zm4 0zm2 0zm15 0zm-56 1zm14 0zm3 0zm21 0zm3 0zm3 0zm-25 1zm4 0zm4 0zm6 0zm5 0zm2 0zm1 0zm4 0zm-35 1zm8 0zm15 0zm2 0zm2 0zm3 0zm5 0zm-24 1zm13 0zm3 0zm1 0zm11 0zm4 0zm-49 1zm17 0zm8 0zm4 0zm-34 1zm17 0zm3 0zm6 0zm2 0zm22 0zm1 0zm3 0zm-54 1zm10 0zm9 0zm6 0zm2 0zm5 0zm2 0zm2 0zm3 0zm3 0zm2 0zm-50 1zm6 0zm2 0zm15 0zm15 0zm2 0zm1 0zm4 0zm13 0zm10 0zm3 0zm-71 1zm2 0zm3 0zm13 0zm4 0zm3 0zm3 0zm2 0zm10 0zm17 0zm-52 1zm18 0zm10 0zm8 0zm-17 1zm1 0zm4 0zm4 0zm1 0zm9 0zm1 0zm18 0zm-55 1zm1 0zm8 0zm12 0zm1 0zm10 0zm5 0zm1 0zm1 0zm3 0zm1 0zm13 0zm-39 1zm6 0zm3 0zm5 0zm2 0zm3 0zm2 0zm2 0zm3 0zm5 0zm9 0zm2 0zm-52 1zm11 0zm2 0zm16 0zm2 0zm11 0zm3 0zm7 0zm-67 1zm8 0zm7 0zm5 0zm5 0zm1 0zm10 0zm4 0zm10 0zm4 0zm1 0zm-42 1zm2 0zm16 0zm7 0zm7 0zm4 0zm12 0zm-44 1zm12 0zm2 0zm4 0zm3 0zm4 0zm7 0zm3 0zm1 0zm4 0zm5 0zm-49 1zm14 0zm1 0zm1 0zm8 0zm11 0zm-26 1zm5 0zm17 0zm11 0zm5 0zm-42 1zm16 0zm1 0zm7 0zm1 0zm17 0zm7 0zm5 0zm-47 1zm2 0zm2 0zm3 0zm10 0zm1 0zm5 0zm4 0zm2 0zm2 0zm4 0zm4 0zm7 0zm-78 1zm25 0zm16 0zm4 0zm-12 1zm2 0zm3 0zm10 0zm3 0zm3 0zm11 0zm-39 1zm6 0zm2 0zm14 0zm2 0zm9 0zm-32 1zm14 0zm6 0zm12 0zm-34 1zm16 0zm7 0zm1 0zm6 0zm1 0zm6 0zm5 0zm2 0zm-50 1zm25 0zm2 0zm1 0zm2 0zm1 0zm10 0zm2 0zm5 0zm-46 1zm1 0zm10 0zm42 0zm-53 1zm6 0zm21 0zm16 0zm4 0zm-49 1zm10 0zm12 0zm17 0zm8 0zm-52 1zm20 0zm3 0zm8 0zm16 0zm2 0zm-30 1zm5 0zm2 0zm22 0zm2 1zm7 0zm-67 1zm35 0zm13 0zm8 0zm3 0zm-30 1zm1 0zm1 0zm2 0zm9 0zm12 0zm-37 1zm23 0zm4 0zm9 0zm-32 1zm16 0zm4 0zm5 0zm31 0zm-64 1zm22 0zm4 0zm3 0zm3 0zm24 0zm-39 1zm6 0zm3 0zm12 0zm1 0zm2 0zm-52 1zm24 0zm4 0zm10 0zm3 0zm-26 1zm6 0zm8 0zm3 0zm2 0zm25 0zm1 0zm3 0zm-38 1zm7 0zm5 0zm12 0zm-14 1zm12 0zm-32 1zm11 0zm1 0zm9 0zm17 0zm2 0zm15 0zm-61 1zm16 0zm1 0zm23 0zm3 0zm-32 1zm7 0zm17 0zm1 0zm5 0zm-39 1zm1 0zm11 0zm9 0zm11 0zm-26 1zm1 0zm4 0zm5 0zm2 0zm6 0zm8 0zm2 0zm5 0zm5 0zm-41 1zm2 0zm22 0zm1 0zm2 0zm9 0zm1 0zm-34 1zm12 0zm2 0zm6 0zm3 0zm7 0zm14 0zm-40 1zm5 0zm11 0zm8 0zm7 0zm3 0zm-43 1zm12 0zm-14 1zm31 0zm8 0zm2 0zm-41 1zm29 0zm1 0zm11 0zm-14 1zm8 0zm3 0zm-12 1zm27 0zm-11 1zm1 0zm9 1zm-25 1zm8 0zm4 0zm8 0zm-26 1zm40 0zm-33 1zm-22 1zm4 0zm8 0zm3 0zm-6 1zm6 0zm4 0zm10 0zm7 0zm-28 1zm4 0zm21 0zm7 0zm-19 1zm7 0zm10 0zm-30 1zm22 0zm-28 1zm48 0zm-53 1zm26 0zm5 0zm-11 1zm14 0zm1 1zm-25 1zm3 0zm9 0zm2 0zm6 0zm3 0zm21 0zm-47 1zm21 0zm2 0zm-24 1zm14 0zm8 0zm1 0zm-30 1zm24 0zm-6 1zm-1 1zm14 0zm-17 1zm25 1zm11 1zm-12 2zm-21 1zm45 0zm-28 2zm-20 4zm-3 1zm37 4zm-17 4zm-6 4zm20 1zm1 0zm-23 1zm19 1zm11 0zm-1 4zm-18 1zm3 3z" stroke="#5050c0" stroke-width="2" stroke-opacity="0.72" stroke-linecap="square" fill="none"/>
<path transform="scale(.5)" d="M419 2475zm1 0zm22 0zm10 0zm-32 1zm6 0zm0 1zm7 0zm4 0zm1 0zm2 0zm3 0zm5 0zm1 0zm-29 1zm5 0zm6 0zm3 0zm1 0zm3 0zm13 0zm-21 1zm10 0zm10 0zm5 0zm-31 1zm4 0zm2 0zm5 0zm3 0zm1 0zm4 0zm5 0zm-36 1zm14 0zm1 0zm1 0zm5 0zm2 0zm1 0zm4 0zm3 0zm-26 1zm4 0zm11 0zm2 0zm5 0zm-21 1zm6 0zm4 0zm2 0zm2 0zm2 0zm1 0zm2 0zm2 0zm2 0zm2 0zm2 0zm6 0zm-30 1zm2 0zm5 0zm6 0zm4 0zm4 0zm-14 1zm8 0zm3 0zm1 0zm3 0zm-15 1zm5 0zm7 0zm2 0zm1 0zm12 0zm-41 1zm14 0zm9 0zm2 0zm1 0zm5 0zm13 0zm-52 1zm14 0zm10 0zm2 0zm5 0zm3 0zm1 0zm11 0zm-27 1zm7 0zm1 0zm1 0zm4 0zm1 0zm1 0zm6 0zm-19 1zm2 0zm7 0zm3 0zm2 0zm1 0zm1 0zm2 0zm8 0zm-35 1zm10 0zm2 0zm1 0zm4 0zm4 0zm4 0zm-26 1zm4 0zm7 0zm1 0zm1 0zm2 0zm2 0zm6 0zm4 0zm3 0zm14 0zm-32 1zm5 0zm1 0zm3 0zm3 0zm5 0zm5 0zm10 0zm-41 1zm5 0zm1 0zm3 0zm1 0zm1 0zm6 0zm1 0zm1 0zm1 0zm7 0zm3 0zm-30 1zm1 0zm1 0zm13 0zm2 0zm3 0zm1 0zm5 0zm6 0zm-31 1zm5 0zm1 0zm2 0zm1 0zm2 0zm2 0zm4 0zm1 0zm2 0zm1 0zm3 0zm3 0zm9 0zm-33 1zm7 0zm4 0zm8 0zm3 0zm3 0zm3 0zm-30 1zm8 0zm2 0zm1 0zm2 0zm1 0zm3 0zm2 0zm3 0zm2 0zm1 0zm1 0zm6 0zm-34 1zm3 0zm6 0zm1 0zm2 0zm1 0zm4 0zm3 0zm5 0zm6 0zm-35 1zm14 0zm1 0zm2 0zm1 0zm2 0zm4 0zm9 0zm2 0zm1 0zm1 0zm-38 1zm8 0zm9 0zm2 0zm1 0zm2 0zm5 0zm1 0zm1 0zm6 0zm1 0zm4 0zm3 0zm-36 1zm1 0zm2 0zm2 0zm3 0zm1 0zm3 0zm5 0zm2 0zm6 0zm4 0zm-36 1zm11 0zm6 0zm1 0zm1 0zm2 0zm4 0zm1 0zm1 0zm9 0zm-25 1zm2 0zm3 0zm2 0zm2 0zm4 0zm12 0zm3 0zm-39 1zm17 0zm1 0zm2 0zm2 0zm1 0zm1 0zm1 0zm3 0zm1 0zm2 0zm7 0zm-34 1zm2 0zm1 0zm4 0zm8 0zm1 0zm7 0zm2 0zm1 0zm2 0zm4 0zm-36 1zm11 0zm2 0zm3 0zm2 0zm1 0zm4 0zm2 0zm1 0zm2 0zm1 0zm1 0zm1 0zm6 0zm1 0zm-39 1zm6 0zm2 0zm7 0zm1 0zm1 0zm1 0zm2 0zm4 0zm4 0zm1 0zm1 0zm1 0zm4 0zm1 0zm-37 1zm11 0zm4 0zm3 0zm4 0zm7 0zm2 0zm4 0zm1 0zm2 0zm-35 1zm2 0zm1 0zm7 0zm2 0zm1 0zm7 0zm5 0zm1 0zm1 0zm7 0zm3 0zm-36 1zm8 0zm3 0zm3 0zm1 0zm2 0zm1 0zm2 0zm4 0zm5 0zm5 0zm2 0zm-45 1zm16 0zm2 0zm3 0zm2 0zm1 0zm2 0zm2 0zm3 0zm1 0zm1 0zm1 0zm1 0zm10 0zm-42 1zm8 0zm8 0zm1 0zm2 0zm4 0zm1 0zm1 0zm1 0zm1 0zm3 0zm1 0zm2 0zm1 0zm9 0zm-35 1zm2 0zm5 0zm5 0zm2 0zm1 0zm3 0zm5 0zm1 0zm1 0zm2 0zm2 0zm2 0zm3 0zm-50 1zm5 0zm4 0zm14 0zm4 0zm1 0zm1 0zm1 0zm3 0zm3 0zm6 0zm1 0zm4 0zm2 0zm-32 1zm3 0zm1 0zm3 0zm4 0zm1 0zm1 0zm2 0zm1 0zm2 0zm3 0zm1 0zm3 0zm1 0zm2 0zm2 0zm-33 1zm3 0zm7 0zm2 0zm5 0zm1 0zm5 0zm2 0zm-28 1zm4 0zm1 0zm4 0zm1 0zm5 0zm5 0zm3 0zm1 0zm9 0zm1 0zm1 0zm3 0zm1 0zm1 0zm7 0zm-44 1zm2 0zm1 0zm5 0zm7 0zm1 0zm9 0zm5 0zm4 0zm8 0zm-39 1zm2 0zm4 0zm1 0zm4 0zm1 0zm1 0zm4 0zm2 0zm1 0zm3 0zm2 0zm1 0zm3 0zm-36 1zm3 0zm4 0zm6 0zm1 0zm3 0zm1 0zm3 0zm3 0zm3 0zm1 0zm1 0zm2 0zm2 0zm2 0zm-35 1zm5 0zm5 0zm3 0zm3 0zm2 0zm3 0zm1 0zm2 0zm1 0zm14 0zm-28 1zm1 0zm4 0zm3 0zm3 0zm1 0zm1 0zm3 0zm2 0zm1 0zm1 0zm3 0zm3 0zm-39 1zm14 0zm1 0zm2 0zm2 0zm1 0zm1 0zm1 0zm1 0zm1 0zm2 0zm1 0zm2 0zm1 0zm1 0zm3 0zm4 0zm6 0zm-44 1zm6 0zm1 0zm1 0zm3 0zm4 0zm3 0zm1 0zm4 0zm1 0zm1 0zm1 0zm3 0zm2 0zm1 0zm1 0zm3 0zm8 0zm-34 1zm1 0zm2 0zm3 0zm1 0zm1 0zm1 0zm1 0zm1 0zm1 0zm1 0zm2 0zm1 0zm2 0zm3 0zm2 0zm4 0zm1 0zm-31 1zm2 0zm1 0zm2 0zm2 0zm6 0zm2 0zm2 0zm4 0zm2 0zm1 0zm3 0zm1 0zm2 0zm4 0zm1 0zm6 0zm-45 1zm5 0zm2 0zm1 0zm2 0zm1 0zm3 0zm1 0zm1 0zm1 0zm1 0zm1 0zm4 0zm1 0zm6 0zm1 0zm2 0zm4 0zm5 0zm3 0zm-36 1zm1 0zm1 0zm1 0zm7 0zm4 0zm2 0zm2 0zm3 0zm2 0zm3 0zm-34 1zm8 0zm6 0zm2 0zm3 0zm1 0zm2 0zm2 0zm4 0zm1 0zm1 0zm2 0zm2 0zm8 0zm2 0zm2 0zm-44 1zm9 0zm1 0zm4 0zm1 0zm4 0zm1 0zm1 0zm2 0zm2 0zm1 0zm3 0zm11 0zm-43 1zm1 0zm1 0zm5 0zm5 0zm1 0zm1 0zm1 0zm1 0zm1 0zm3 0zm5 0zm2 0zm1 0zm7 0zm1 0zm1 0zm7 0zm-39 1zm3 0zm1 0zm10 0zm1 0zm1 0zm6 0zm1 0zm2 0zm1 0zm4 0zm3 0zm7 0zm-39 1zm4 0zm4 0zm2 0zm3 0zm1 0zm5 0zm3 0zm3 0zm4 0zm2 0zm10 0zm-46 1zm7 0zm1 0zm4 0zm2 0zm2 0zm4 0zm2 0zm3 0zm5 0zm3 0zm7 0zm-32 1zm3 0zm3 0zm5 0zm1 0zm2 0zm6 0zm6 0zm1 0zm-46 1zm17 0zm6 0zm1 0zm3 0zm2 0zm1 0zm1 0zm1 0zm1 0zm1 0zm1 0zm1 0zm2 0zm1 0zm5 0zm2 0zm-27 1zm4 0zm3 0zm1 0zm3 0zm1 0zm2 0zm2 0zm1 0zm14 0zm6 0zm-53 1zm19 0zm3 0zm2 0zm2 0zm1 0zm3 0zm2 0zm1 0zm5 0zm10 0zm-33 1zm2 0zm5 0zm5 0zm1 0zm2 0zm1 0zm1 0zm1 0zm2 0zm5 0zm4 0zm2 0zm4 0zm-48 1zm9 0zm4 0zm2 0zm1 0zm1 0zm3 0zm4 0zm2 0zm2 0zm1 0zm5 0zm2 0zm7 0zm8 0zm-44 1zm9 0zm1 0zm1 0zm1 0zm3 0zm4 0zm2 0zm2 0zm1 0zm9 0zm3 0zm2 0zm-33 1zm4 0zm3 0zm5 0zm5 0zm2 0zm4 0zm-31 1zm7 0zm2 0zm3 0zm1 0zm8 0zm2 0zm1 0zm1 0zm1 0zm1 0zm1 0zm1 0zm1 0zm1 0zm2 0zm4 0zm4 0zm4 0zm2 0zm-46 1zm16 0zm1 0zm2 0zm1 0zm5 0zm2 0zm1 0zm1 0zm3 0zm5 0zm6 0zm-37 1zm1 0zm1 0zm7 0zm2 0zm1 0zm5 0zm1 0zm1 0zm4 0zm1 0zm3 0zm1 0zm1 0zm1 0zm2 0zm-28 1zm5 0zm2 0zm2 0zm7 0zm5 0zm4 0zm3 0zm-31 1zm3 0zm3 0zm1 0zm4 0zm1 0zm1 0zm1 0zm1 0zm1 0zm5 0zm1 0zm13 0zm-37 1zm13 0zm1 0zm3 0zm9 0zm1 0zm1 0zm6 0zm2 0zm-60 1zm24 0zm6 0zm2 0zm1 0zm1 0zm2 0zm2 0zm6 0zm2 0zm6 0zm8 0zm-32 1zm4 0zm1 0zm9 0zm4 0zm3 0zm7 0zm-30 1zm6 0zm8 0zm6 0zm6 0zm3 0zm4 0zm-28 1zm2 0zm3 0zm2 0zm1 0zm5 0zm3 0zm1 0zm1 0zm4 0zm-14 1zm1 0zm3 0zm3 0zm-15 1zm4 0zm4 0zm3 0zm1 0zm7 0zm-22 1zm1 0zm1 0zm6 0zm3 0zm4 0zm1 0zm2 0zm3 0zm5 0zm-29 1zm6 0zm2 0zm6 0zm3 0zm2 0zm8 0zm6 0zm-35 1zm10 0zm2 0zm9 0zm4 0zm1 0zm6 0zm-33 1zm5 0zm3 0zm6 0zm8 0zm9 0zm-30 1zm14 0zm2 0zm1 0zm8 0zm-25 1zm6 0zm3 0zm2 0zm8 0zm6 0zm5 0zm3 0zm2 0zm2 0zm-37 1zm4 0zm5 0zm7 0zm1 0zm2 0zm8 0zm-15 1zm1 0zm5 0zm4 0zm3 0zm2 0zm1 0zm3 0zm1 0zm3 0zm-28 1zm7 0zm3 0zm6 0zm2 0zm1 0zm-27 1zm19 0zm5 0zm6 0zm-26 1zm1 0zm1 0zm7 0zm6 0zm6 0zm-15 1zm5 0zm3 0zm2 0zm7 0zm9 0zm-35 1zm5 0zm7 0zm6 0zm5 0zm1 0zm2 0zm-27 1zm9 0zm4 0zm2 0zm2 0zm-10 1zm1 0zm6 0zm6 0zm1 0zm1 0zm1 0zm2 0zm3 0zm2 0zm-29 1zm20 0zm5 0zm2 0zm1 0zm9 0zm-20 1zm4 0zm6 0zm13 0zm-42 1zm9 0zm9 0zm3 0zm6 0zm9 0zm-28 1zm4 0zm3 0zm5 0zm5 0zm4 0zm-21 1zm11 0zm6 0zm1 0zm3 0zm-25 1zm2 0zm11 0zm2 0zm7 0zm-17 1zm2 0zm6 0zm29 0zm-34 1zm4 0zm5 0zm5 0zm-18 1zm11 0zm1 0zm9 0zm-20 2zm1 0zm23 0zm-27 2zm2 0zm14 0zm1 0zm12 0zm-26 1zm12 0zm-8 1zm7 0zm14 0zm-25 1zm3 0zm1 0zm3 1zm4 2zm-15 1zm8 0zm6 1zm4 0zm9 0zm-19 1zm18 0zm-19 1zm10 1zm-6 2zm10 0zm-6 6zm-27 2zm16 0zm3 0zm19 1zm-13 3zm-4 3zm1 0zm-11 3zm15 2zm-9 18z" stroke="#4444bc" stroke-width="2" stroke-opacity="0.74" stroke-linecap="square" fill="none"/>
<path transform="scale(.5)" d="M482 2588zm8 20zm7 0zm6 0zm4 1zm-23 3zm2 1zm19 0zm-11 3zm-21 2zm-3 3zm22 0zm-11 2zm12 1zm2 0zm7 0zm5 0zm-40 1zm19 0zm6 0zm-11 1zm28 0zm-10 1zm14 0zm9 0zm-29 1zm9 0zm1 0zm9 0zm-29 1zm3 0zm-21 1zm5 0zm3 0zm1 1zm12 0zm21 0zm9 0zm-32 1zm8 0zm25 1zm-43 1zm18 0zm-8 1zm2 0zm5 0zm9 0zm2 0zm6 0zm-14 1zm10 0zm15 0zm-30 1zm6 0zm2 0zm18 0zm1 0zm-46 2zm31 0zm8 0zm-36 1zm10 0zm22 0zm-15 1zm-3 1zm4 0zm11 0zm-42 1zm29 0zm8 0zm-22 1zm2 0zm14 0zm3 0zm19 0zm-36 1zm13 1zm-9 1zm11 0zm9 0zm-13 1zm3 0zm7 0zm-13 1zm11 0zm2 0zm1 0zm9 0zm-30 1zm11 0zm3 0zm14 0zm0 1zm-13 1zm2 0zm21 0zm-38 1zm8 0zm3 0zm5 0zm3 0zm2 0zm4 0zm6 0zm-32 1zm10 0zm-14 1zm13 1zm21 0zm-18 1zm1 0zm2 1zm-7 1zm3 0zm-2 2zm14 0zm9 0zm2 0zm-38 1zm14 0zm10 1zm3 1zm-1 3zm-3 6zm-7 1zm13 0zm5 19z" stroke="#7a7acc" stroke-width="2" stroke-opacity="0.6" stroke-linecap="square" fill="none"/>
<path transform="scale(.5)" d="M484 2637zm14 4zm-7 1zm5 0zm-22 2zm9 0zm11 1zm-24 1zm12 0zm19 0zm3 1zm-17 1zm-4 1zm1 0zm7 0zm-7 1zm4 0zm3 0zm6 0zm2 0zm-21 1zm3 0zm9 0zm2 0zm4 0zm7 0zm-30 1zm4 0zm8 0zm11 0zm1 0zm-29 1zm3 0zm17 0zm9 0zm7 0zm-23 1zm2 0zm7 0zm6 0zm4 0zm1 0zm4 0zm-33 1zm10 0zm9 0zm3 0zm1 0zm2 0zm3 0zm-30 1zm2 0zm10 0zm2 0zm4 0zm1 0zm5 0zm1 0zm2 0zm7 0zm-29 1zm12 0zm6 0zm5 0zm1 0zm3 0zm-32 1zm2 0zm4 0zm11 0zm4 0zm1 0zm4 0zm1 0zm2 0zm1 0zm1 0zm-31 1zm8 0zm1 0zm1 0zm7 0zm1 0zm7 0zm4 0zm3 0zm5 0zm-46 1zm8 0zm11 0zm4 0zm3 0zm1 0zm4 0zm1 0zm2 0zm1 0zm1 0zm9 0zm-31 1zm4 0zm5 0zm4 0zm4 0zm1 0zm1 0zm3 0zm6 0zm-36 1zm9 0zm7 0zm1 0zm1 0zm1 0zm1 0zm1 0zm7 0zm4 0zm2 0zm2 0zm11 0zm-37 1zm3 0zm1 0zm3 0zm3 0zm4 0zm1 0zm1 0zm1 0zm4 0zm1 0zm2 0zm1 0zm3 0zm1 0zm7 0zm-43 1zm16 0zm2 0zm1 0zm2 0zm2 0zm2 0zm4 0zm4 0zm11 0zm-45 1zm6 0zm4 0zm2 0zm3 0zm1 0zm1 0zm1 0zm1 0zm1 0zm2 0zm2 0zm2 0zm3 0zm1 0zm3 0zm7 0zm-28 1zm2 0zm7 0zm1 0zm1 0zm2 0zm1 0zm14 0zm3 0zm-41 1zm7 0zm1 0zm3 0zm3 0zm1 0zm1 0zm8 0zm1 0zm2 0zm1 0zm1 0zm3 0zm1 0zm2 0zm1 0zm-33 1zm3 0zm2 0zm3 0zm1 0zm1 0zm3 0zm2 0zm3 0zm3 0zm5 0zm1 0zm1 0zm8 0zm-41 1zm7 0zm1 0zm1 0zm2 0zm3 0zm2 0zm1 0zm1 0zm1 0zm2 0zm1 0zm2 0zm1 0zm2 0zm1 0zm2 0zm15 0zm-42 1zm7 0zm5 0zm1 0zm1 0zm2 0zm1 0zm5 0zm4 0zm1 0zm7 0zm-32 1zm4 0zm3 0zm3 0zm1 0zm1 0zm2 0zm1 0zm1 0zm1 0zm1 0zm1 0zm1 0zm2 0zm2 0zm1 0zm1 0zm5 0zm-33 1zm1 0zm1 0zm3 0zm2 0zm4 0zm5 0zm2 0zm1 0zm1 0zm1 0zm1 0zm2 0zm1 0zm1 0zm3 0zm3 0zm-23 1zm7 0zm1 0zm2 0zm2 0zm5 0zm2 0zm3 0zm1 0zm4 0zm-38 1zm2 0zm1 0zm4 0zm2 0zm1 0zm2 0zm2 0zm1 0zm1 0zm1 0zm3 0zm1 0zm2 0zm1 0zm6 0zm1 0zm1 0zm5 0zm1 0zm2 0zm-31 1zm2 0zm1 0zm1 0zm2 0zm9 0zm2 0zm2 0zm2 0zm1 0zm3 0zm11 0zm-40 1zm1 0zm3 0zm1 0zm3 0zm2 0zm2 0zm11 0zm2 0zm1 0zm3 0zm2 0zm5 0zm1 0zm-44 1zm11 0zm1 0zm6 0zm5 0zm3 0zm3 0zm-17 1zm1 0zm1 0zm7 0zm4 0zm2 0zm4 0zm5 0zm-25 1zm4 0zm3 0zm5 0zm2 0zm2 0zm1 0zm10 0zm9 0zm-46 1zm6 0zm2 0zm1 0zm2 0zm3 0zm3 0zm1 0zm3 0zm1 0zm1 0zm1 0zm3 0zm2 0zm1 0zm4 0zm-29 1zm3 0zm2 0zm4 0zm6 0zm3 0zm1 0zm5 0zm9 0zm-30 1zm3 0zm5 0zm7 0zm2 0zm8 0zm1 0zm2 0zm-48 1zm23 0zm5 0zm9 0zm7 0zm4 0zm2 0zm-32 1zm7 0zm10 0zm5 0zm2 0zm2 0zm3 0zm19 0zm-42 1zm1 0zm6 0zm6 0zm3 0zm2 0zm9 0zm-30 1zm4 0zm5 0zm1 0zm20 0zm-23 1zm8 0zm-13 1zm10 0zm2 0zm4 0zm3 0zm1 0zm3 0zm-25 1zm14 0zm1 0zm7 0zm-7 1zm7 0zm2 0zm-21 1zm13 0zm1 0zm9 0zm-27 1zm11 0zm1 0zm0 1zm15 0zm1 0zm-13 1zm-5 1zm7 0zm15 0zm11 1zm-33 1zm-15 4zm29 12z" stroke="#4040bc" stroke-width="2" stroke-opacity="0.8" stroke-linecap="square" fill="none"/>
</g>
<g filter="url(#soft2)">
<ellipse cx="219" cy="1262" rx="3.8" ry="15" fill="#3038c4" fill-opacity="0.3"/>
<ellipse cx="245.5" cy="1335.5" rx="4.5" ry="4.2" fill="#3040cc" fill-opacity="0.4"/>
</g>
<path d="M150.4 1240V1342" stroke="#4a78d4" stroke-width="1.6" stroke-opacity=".85"/>
<path d="M227.2 1314L257.6 1297.7L279.8 1317.8L279.8 1366.6L232.4 1366.6L226 1351.7Z" fill="none" stroke="#555" stroke-width="0.9"/>
</g>
<path d="M149.1 1236.8H281.2V1369.5" fill="none" stroke="#8a8a8a" stroke-width="1"/>
<path d="M149.1 1236.8V1369.5H281.2" fill="none" stroke="#2a2a2a" stroke-width="1.1"/>
<text x="144.6" y="1246" font-size="8" fill="#333" text-anchor="end">250 K</text>
<text x="144.6" y="1271.2" font-size="8" fill="#333" text-anchor="end">200 K</text>
<text x="144.6" y="1296.5" font-size="8" fill="#333" text-anchor="end">150 K</text>
<text x="144.6" y="1321.8" font-size="8" fill="#333" text-anchor="end">100 K</text>
<text x="144.6" y="1347.1" font-size="8" fill="#333" text-anchor="end">50 K</text>
<text x="144.6" y="1372.4" font-size="8" fill="#333" text-anchor="end">0</text>
<path d="M149.1 1243.1h-3M149.1 1268.3h-3M149.1 1293.6h-3M149.1 1318.9h-3M149.1 1344.2h-3M149.1 1369.5h-3M149.1 1248.2h-1.6M149.1 1253.2h-1.6M149.1 1258.3h-1.6M149.1 1263.3h-1.6M149.1 1273.4h-1.6M149.1 1278.5h-1.6M149.1 1283.5h-1.6M149.1 1288.6h-1.6M149.1 1298.7h-1.6M149.1 1303.8h-1.6M149.1 1308.8h-1.6M149.1 1313.9h-1.6M149.1 1324h-1.6M149.1 1329.1h-1.6M149.1 1334.1h-1.6M149.1 1339.2h-1.6M149.1 1349.3h-1.6M149.1 1354.3h-1.6M149.1 1359.4h-1.6M149.1 1364.4h-1.6" stroke="#2a2a2a" stroke-width=".8" fill="none"/>
<text x="156" y="1382.1" font-size="7.8" fill="#333">10<tspan dy="-3.1" font-size="5.7">0</tspan></text>
<text x="177.9" y="1382.1" font-size="7.8" fill="#333">10<tspan dy="-3.1" font-size="5.7">1</tspan></text>
<text x="199.8" y="1382.1" font-size="7.8" fill="#333">10<tspan dy="-3.1" font-size="5.7">2</tspan></text>
<text x="221.7" y="1382.1" font-size="7.8" fill="#333">10<tspan dy="-3.1" font-size="5.7">3</tspan></text>
<text x="243.7" y="1382.1" font-size="7.8" fill="#333">10<tspan dy="-3.1" font-size="5.7">4</tspan></text>
<text x="265.7" y="1382.1" font-size="7.8" fill="#333">10<tspan dy="-3.1" font-size="5.7">5</tspan></text>
<path d="M162 1369.5v3M183.9 1369.5v3M205.8 1369.5v3M227.7 1369.5v3M249.7 1369.5v3M271.7 1369.5v3M150.5 1369.5v1.5M153.3 1369.5v1.5M155.4 1369.5v1.5M157.1 1369.5v1.5M158.6 1369.5v1.5M159.9 1369.5v1.5M161 1369.5v1.5M168.6 1369.5v1.5M172.4 1369.5v1.5M175.2 1369.5v1.5M177.3 1369.5v1.5M179 1369.5v1.5M180.5 1369.5v1.5M181.8 1369.5v1.5M182.9 1369.5v1.5M190.5 1369.5v1.5M194.3 1369.5v1.5M197.1 1369.5v1.5M199.2 1369.5v1.5M200.9 1369.5v1.5M202.4 1369.5v1.5M203.7 1369.5v1.5M204.8 1369.5v1.5M212.4 1369.5v1.5M216.2 1369.5v1.5M219 1369.5v1.5M221.1 1369.5v1.5M222.8 1369.5v1.5M224.3 1369.5v1.5M225.6 1369.5v1.5M226.7 1369.5v1.5M234.3 1369.5v1.5M238.2 1369.5v1.5M240.9 1369.5v1.5M243.1 1369.5v1.5M244.8 1369.5v1.5M246.3 1369.5v1.5M247.6 1369.5v1.5M248.7 1369.5v1.5M256.3 1369.5v1.5M260.2 1369.5v1.5M262.9 1369.5v1.5M265.1 1369.5v1.5M266.8 1369.5v1.5M268.3 1369.5v1.5M269.6 1369.5v1.5M270.7 1369.5v1.5M278.3 1369.5v1.5" stroke="#2a2a2a" stroke-width=".7" fill="none"/>
<text x="252.2" y="1347.9" font-size="12.3" fill="#111" text-anchor="middle" font-weight="bold">B cells</text>
<text x="252.2" y="1362.9" font-size="12.3" fill="#111" text-anchor="middle" font-weight="bold">17.6%</text>
<text x="180.7" y="1233" font-size="16.5" fill="#000" font-weight="bold">CD3-</text>
<text x="115.2" y="1296.2" font-size="18" font-weight="bold" text-anchor="middle" fill="#000" transform="rotate(-90 115.2 1296.2)">SSC-A</text>
<text x="201.6" y="1404" font-size="18" fill="#000" text-anchor="middle" font-weight="bold">CD19</text>
<g clip-path="url(#c15)">
<g filter="url(#haze)">
<ellipse cx="457.5" cy="1324" rx="7" ry="10" fill="#5656dc" fill-opacity="0.35"/>
</g>
<g filter="url(#rough)">
<path transform="scale(.5)" d="M898 2566zm23 12zm-15 5zm3 1zm10 0zm25 1zm-4 2zm15 0zm-37 2zm-1 3zm-9 2zm15 0zm-14 2zm28 0zm-41 2zm29 0zm-2 2zm11 0zm3 3zm-43 1zm35 0zm-12 1zm-8 1zm1 1zm16 0zm-33 1zm29 0zm17 0zm-21 1zm-9 1zm16 0zm5 2zm0 1zm12 0zm-14 1zm-28 2zm15 1zm-37 1zm66 0zm-22 1zm5 1zm20 0zm-15 1zm2 0zm3 1zm-25 3zm26 1zm-20 5zm1 3zm28 3z" stroke="#8a8ad0" stroke-width="2" stroke-opacity="0.55" stroke-linecap="square" fill="none"/>
<path transform="scale(.5)" d="M935 2580zm-24 20zm4 0zm10 4zm0 3zm-15 1zm10 1zm-2 1zm14 0zm-18 1zm7 1zm-26 1zm3 1zm15 0zm20 0zm2 0zm-23 1zm16 0zm1 0zm-6 1zm-28 1zm10 0zm-14 1zm9 0zm12 0zm18 0zm-22 1zm11 0zm-9 1zm1 0zm1 0zm8 0zm3 0zm9 0zm-2 1zm-25 1zm7 0zm5 0zm2 0zm-18 1zm15 0zm10 0zm-33 1zm2 0zm14 0zm3 0zm6 0zm2 0zm5 0zm1 0zm5 0zm-27 1zm3 0zm12 0zm1 0zm-23 1zm1 0zm2 0zm2 0zm5 0zm6 0zm2 0zm10 0zm5 0zm22 0zm-61 1zm10 0zm4 0zm8 0zm3 0zm2 0zm14 0zm-48 1zm19 0zm9 0zm2 0zm3 0zm1 0zm-16 1zm3 0zm4 0zm1 0zm3 0zm4 0zm14 0zm-28 1zm5 0zm3 0zm3 0zm1 0zm8 0zm1 0zm8 0zm6 0zm-41 1zm2 0zm2 0zm4 0zm2 0zm8 0zm1 0zm1 0zm1 0zm3 0zm4 0zm-29 1zm7 0zm6 0zm5 0zm8 0zm1 0zm9 0zm-43 1zm14 0zm3 0zm1 0zm6 0zm8 0zm2 0zm4 0zm-31 1zm4 0zm7 0zm4 0zm4 0zm1 0zm3 0zm7 0zm2 0zm1 0zm2 0zm7 0zm5 0zm-43 1zm9 0zm1 0zm1 0zm1 0zm4 0zm2 0zm13 0zm1 0zm2 0zm5 0zm-38 1zm8 0zm1 0zm1 0zm2 0zm2 0zm3 0zm1 0zm3 0zm8 0zm9 0zm-42 1zm4 0zm6 0zm6 0zm2 0zm2 0zm1 0zm2 0zm7 0zm3 0zm13 0zm-53 1zm1 0zm1 0zm6 0zm3 0zm3 0zm9 0zm1 0zm1 0zm1 0zm5 0zm3 0zm1 0zm7 0zm10 0zm-43 1zm3 0zm5 0zm2 0zm1 0zm1 0zm1 0zm1 0zm1 0zm2 0zm4 0zm2 0zm1 0zm2 0zm1 0zm1 0zm5 0zm5 0zm5 0zm-44 1zm4 0zm1 0zm1 0zm4 0zm5 0zm1 0zm1 0zm1 0zm1 0zm5 0zm2 0zm3 0zm3 0zm-37 1zm3 0zm3 0zm1 0zm1 0zm3 0zm1 0zm2 0zm1 0zm3 0zm1 0zm1 0zm2 0zm1 0zm3 0zm1 0zm1 0zm1 0zm5 0zm1 0zm9 0zm-44 1zm2 0zm6 0zm1 0zm2 0zm3 0zm6 0zm1 0zm1 0zm1 0zm1 0zm5 0zm1 0zm13 0zm-52 1zm6 0zm8 0zm4 0zm5 0zm3 0zm2 0zm1 0zm6 0zm1 0zm1 0zm2 0zm2 0zm3 0zm3 0zm-45 1zm13 0zm1 0zm1 0zm4 0zm2 0zm4 0zm2 0zm2 0zm1 0zm3 0zm1 0zm2 0zm7 0zm1 0zm1 0zm1 0zm2 0zm8 0zm-56 1zm14 0zm1 0zm2 0zm2 0zm1 0zm1 0zm3 0zm1 0zm1 0zm4 0zm1 0zm1 0zm3 0zm4 0zm1 0zm1 0zm1 0zm1 0zm4 0zm6 0zm-53 1zm1 0zm9 0zm1 0zm11 0zm3 0zm1 0zm1 0zm2 0zm2 0zm1 0zm3 0zm1 0zm3 0zm4 0zm12 0zm-50 1zm4 0zm2 0zm2 0zm2 0zm1 0zm6 0zm2 0zm5 0zm2 0zm3 0zm1 0zm1 0zm3 0zm3 0zm6 0zm6 0zm-38 1zm5 0zm1 0zm3 0zm1 0zm4 0zm1 0zm1 0zm2 0zm1 0zm1 0zm2 0zm3 0zm3 0zm-35 1zm3 0zm15 0zm2 0zm1 0zm2 0zm2 0zm2 0zm8 0zm2 0zm-41 1zm10 0zm5 0zm6 0zm1 0zm1 0zm3 0zm3 0zm1 0zm1 0zm1 0zm1 0zm4 0zm2 0zm1 0zm3 0zm-30 1zm2 0zm3 0zm1 0zm1 0zm3 0zm2 0zm1 0zm2 0zm2 0zm6 0zm1 0zm2 0zm3 0zm-28 1zm2 0zm2 0zm4 0zm1 0zm5 0zm3 0zm1 0zm2 0zm3 0zm5 0zm1 0zm-44 1zm3 0zm8 0zm3 0zm2 0zm1 0zm2 0zm3 0zm4 0zm5 0zm3 0zm3 0zm14 0zm-43 1zm1 0zm9 0zm1 0zm1 0zm1 0zm7 0zm1 0zm2 0zm5 0zm2 0zm3 0zm2 0zm3 0zm7 0zm-50 1zm7 0zm7 0zm1 0zm2 0zm1 0zm1 0zm3 0zm2 0zm2 0zm1 0zm2 0zm1 0zm1 0zm1 0zm1 0zm6 0zm-42 1zm10 0zm7 0zm5 0zm1 0zm4 0zm1 0zm1 0zm4 0zm6 0zm2 0zm6 0zm1 0zm-39 1zm4 0zm6 0zm2 0zm2 0zm1 0zm2 0zm8 0zm2 0zm3 0zm5 0zm-42 1zm10 0zm4 0zm2 0zm5 0zm1 0zm4 0zm7 0zm2 0zm2 0zm3 0zm3 0zm6 0zm-55 1zm16 0zm4 0zm5 0zm4 0zm3 0zm1 0zm5 0zm4 0zm1 0zm-35 1zm4 0zm3 0zm3 0zm1 0zm2 0zm3 0zm1 0zm1 0zm3 0zm1 0zm1 0zm4 0zm1 0zm2 0zm4 0zm-37 1zm21 0zm9 0zm2 0zm5 0zm1 0zm-36 1zm6 0zm2 0zm7 0zm1 0zm7 0zm1 0zm1 0zm3 0zm1 0zm7 0zm2 0zm-43 1zm15 0zm2 0zm2 0zm1 0zm1 0zm4 0zm2 0zm1 0zm3 0zm2 0zm2 0zm2 0zm3 0zm6 0zm-40 1zm5 0zm3 0zm16 0zm11 0zm7 0zm-54 1zm13 0zm4 0zm5 0zm4 0zm2 0zm1 0zm2 0zm13 0zm2 0zm-34 1zm5 0zm2 0zm5 0zm3 0zm2 0zm3 0zm4 0zm1 0zm1 0zm10 0zm1 0zm1 0zm5 0zm7 0zm-46 1zm11 0zm1 0zm4 0zm2 0zm12 0zm-27 1zm9 0zm5 0zm3 0zm3 0zm7 0zm-36 1zm7 0zm6 0zm5 0zm2 0zm1 0zm1 0zm3 0zm1 0zm-19 1zm4 0zm8 0zm5 0zm5 0zm2 0zm9 0zm4 0zm-42 1zm21 0zm8 0zm6 0zm-22 1zm11 0zm4 0zm2 0zm-33 1zm11 0zm9 0zm2 0zm10 0zm13 0zm-52 2zm22 0zm6 0zm4 0zm-13 1zm11 0zm1 0zm14 0zm-25 1zm1 0zm7 0zm2 0zm9 0zm-23 1zm2 0zm26 0zm-16 1zm11 1zm8 0zm16 0zm-33 1zm11 0zm-27 1zm8 0zm-26 2zm32 0zm6 0zm8 0zm5 1zm-29 2zm4 0zm26 0zm-10 6zm-34 1zm0 8z" stroke="#4444bc" stroke-width="2" stroke-opacity="0.8" stroke-linecap="square" fill="none"/>
<path transform="scale(.5)" d="M909 2624zm18 9zm-15 5zm-20 6zm16 3zm4 1zm-3 2zm18 0zm-15 1zm-10 3zm16 0zm-1 2zm9 0zm-16 1zm1 2zm9 0zm2 0zm-20 1zm-5 1zm6 1zm21 0zm-15 1zm2 1zm9 0zm9 1zm-15 1zm3 0zm4 0zm-14 1zm8 0zm3 0zm2 0zm-21 1zm1 1zm4 0zm9 0zm10 0zm-9 2zm-8 1zm11 0zm10 0zm6 1zm-15 1zm-8 1zm11 1zm-18 1zm7 0zm-7 1zm7 0zm5 0zm7 0zm-20 1zm7 0zm7 0zm-5 1zm5 0zm2 0zm3 0zm2 0zm-19 1zm18 0zm1 0zm2 0zm-21 1zm11 2zm8 0zm-17 1zm13 0zm1 1zm17 0zm-26 1zm2 0zm7 0zm1 0zm-20 1zm2 0zm17 1zm-10 1zm1 0zm5 0zm5 0zm-24 1zm11 0zm1 0zm14 1zm2 0zm3 0zm-15 1zm1 0zm19 0zm-33 1zm-4 1zm4 1zm28 0zm-15 1zm-14 1zm23 0zm5 0zm-34 1zm10 0zm6 0zm-3 1zm5 0zm4 0zm7 0zm3 1zm7 0zm-47 1zm15 0zm14 0zm7 0zm-19 1zm5 0zm1 0zm7 0zm2 0zm-6 2zm3 0zm13 0zm-13 1zm6 0zm15 0zm-11 1zm-20 2zm2 0zm10 0zm-4 1zm1 0zm4 0zm7 0zm-12 1zm-6 1zm13 0zm6 1zm-23 1zm9 1zm1 0zm6 0zm18 1zm-15 5zm-12 2zm1 1zm-4 4zm11 3zm-6 1zm2 1zm-1 3z" stroke="#6a6ac8" stroke-width="2" stroke-opacity="0.65" stroke-linecap="square" fill="none"/>
</g>
<g filter="url(#soft2)">
<ellipse cx="457.5" cy="1322.5" rx="3.6" ry="5" fill="#3038c4" fill-opacity="0.4"/>
<ellipse cx="457" cy="1369.8" rx="7" ry="1.1" fill="#3a5ac0" fill-opacity="0.7"/>
</g>
<path d="M436 1244.5L498.9 1243.1L495.5 1310.6L448.1 1315.5L432.3 1310L425.1 1297.7Z" fill="none" stroke="#555" stroke-width="0.9"/>
</g>
<path d="M359.6 1240.2H501.2V1370" fill="none" stroke="#8a8a8a" stroke-width="1"/>
<path d="M359.6 1240.2V1370H501.2" fill="none" stroke="#2a2a2a" stroke-width="1.1"/>
<text x="342.6" y="1252.5" font-size="7.8" fill="#333">10<tspan dy="-3.1" font-size="5.7">5</tspan></text>
<text x="342.6" y="1274.1" font-size="7.8" fill="#333">10<tspan dy="-3.1" font-size="5.7">4</tspan></text>
<text x="342.6" y="1295.7" font-size="7.8" fill="#333">10<tspan dy="-3.1" font-size="5.7">3</tspan></text>
<text x="342.6" y="1317.3" font-size="7.8" fill="#333">10<tspan dy="-3.1" font-size="5.7">2</tspan></text>
<text x="342.6" y="1338.9" font-size="7.8" fill="#333">10<tspan dy="-3.1" font-size="5.7">1</tspan></text>
<text x="342.6" y="1360.5" font-size="7.8" fill="#333">10<tspan dy="-3.1" font-size="5.7">0</tspan></text>
<path d="M359.6 1249.4h-3M359.6 1271h-3M359.6 1292.6h-3M359.6 1314.2h-3M359.6 1335.8h-3M359.6 1357.4h-3M359.6 1242.9h-1.5M359.6 1264.5h-1.5M359.6 1260.7h-1.5M359.6 1258h-1.5M359.6 1255.9h-1.5M359.6 1254.2h-1.5M359.6 1252.7h-1.5M359.6 1251.5h-1.5M359.6 1250.4h-1.5M359.6 1286.1h-1.5M359.6 1282.3h-1.5M359.6 1279.6h-1.5M359.6 1277.5h-1.5M359.6 1275.8h-1.5M359.6 1274.3h-1.5M359.6 1273.1h-1.5M359.6 1272h-1.5M359.6 1307.7h-1.5M359.6 1303.9h-1.5M359.6 1301.2h-1.5M359.6 1299.1h-1.5M359.6 1297.4h-1.5M359.6 1295.9h-1.5M359.6 1294.7h-1.5M359.6 1293.6h-1.5M359.6 1329.3h-1.5M359.6 1325.5h-1.5M359.6 1322.8h-1.5M359.6 1320.7h-1.5M359.6 1319h-1.5M359.6 1317.5h-1.5M359.6 1316.3h-1.5M359.6 1315.2h-1.5M359.6 1350.9h-1.5M359.6 1347.1h-1.5M359.6 1344.4h-1.5M359.6 1342.3h-1.5M359.6 1340.6h-1.5M359.6 1339.1h-1.5M359.6 1337.9h-1.5M359.6 1336.8h-1.5M359.6 1368.7h-1.5M359.6 1366h-1.5M359.6 1363.9h-1.5M359.6 1362.2h-1.5M359.6 1360.7h-1.5M359.6 1359.5h-1.5M359.6 1358.4h-1.5" stroke="#2a2a2a" stroke-width=".7" fill="none"/>
<text x="367.4" y="1382.6" font-size="7.8" fill="#333">10<tspan dy="-3.1" font-size="5.7">0</tspan></text>
<text x="390.9" y="1382.6" font-size="7.8" fill="#333">10<tspan dy="-3.1" font-size="5.7">1</tspan></text>
<text x="414.4" y="1382.6" font-size="7.8" fill="#333">10<tspan dy="-3.1" font-size="5.7">2</tspan></text>
<text x="437.9" y="1382.6" font-size="7.8" fill="#333">10<tspan dy="-3.1" font-size="5.7">3</tspan></text>
<text x="461.5" y="1382.6" font-size="7.8" fill="#333">10<tspan dy="-3.1" font-size="5.7">4</tspan></text>
<text x="485.1" y="1382.6" font-size="7.8" fill="#333">10<tspan dy="-3.1" font-size="5.7">5</tspan></text>
<path d="M373.4 1370v3M396.9 1370v3M420.4 1370v3M443.9 1370v3M467.5 1370v3M491.1 1370v3M361.1 1370v1.5M364 1370v1.5M366.3 1370v1.5M368.2 1370v1.5M369.8 1370v1.5M371.1 1370v1.5M372.3 1370v1.5M380.5 1370v1.5M384.6 1370v1.5M387.5 1370v1.5M389.8 1370v1.5M391.7 1370v1.5M393.3 1370v1.5M394.6 1370v1.5M395.8 1370v1.5M404 1370v1.5M408.1 1370v1.5M411 1370v1.5M413.3 1370v1.5M415.2 1370v1.5M416.8 1370v1.5M418.1 1370v1.5M419.3 1370v1.5M427.5 1370v1.5M431.6 1370v1.5M434.5 1370v1.5M436.8 1370v1.5M438.7 1370v1.5M440.3 1370v1.5M441.6 1370v1.5M442.8 1370v1.5M451 1370v1.5M455.2 1370v1.5M458.1 1370v1.5M460.4 1370v1.5M462.3 1370v1.5M463.8 1370v1.5M465.2 1370v1.5M466.4 1370v1.5M474.6 1370v1.5M478.8 1370v1.5M481.7 1370v1.5M484 1370v1.5M485.9 1370v1.5M487.4 1370v1.5M488.8 1370v1.5M490 1370v1.5M498.2 1370v1.5" stroke="#2a2a2a" stroke-width=".7" fill="none"/>
<text x="461.7" y="1278.1" font-size="12.3" fill="#111" text-anchor="middle" font-weight="bold">Activated</text>
<text x="461.7" y="1293.4" font-size="12.3" fill="#111" text-anchor="middle" font-weight="bold">12.7%</text>
<text x="433" y="1234.5" font-size="16.5" fill="#000" text-anchor="middle" font-weight="bold">CD19+</text>
<text x="330.9" y="1301.1" font-size="18" font-weight="bold" text-anchor="middle" fill="#000" transform="rotate(-90 330.9 1301.1)">CD86</text>
<text x="424.8" y="1404.5" font-size="18" fill="#000" text-anchor="middle" font-weight="bold">HLA-DR</text>
<polyline points="269,545.5 304,545.5" fill="none" stroke="#000" stroke-width="3" stroke-linejoin="miter"/>
<polygon points="313,545.5 303,550.5 303,540.5" fill="#000"/>
<polyline points="190.5,593 456,593" fill="none" stroke="#000" stroke-width="3" stroke-linejoin="miter"/>
<polygon points="465,593 455,598 455,588" fill="#000"/>
<polyline points="467.8,545.4 506,545.4" fill="none" stroke="#000" stroke-width="3" stroke-linejoin="miter"/>
<polygon points="515,545.4 505,550.4 505,540.4" fill="#000"/>
<polyline points="693,545 722.7,545" fill="none" stroke="#000" stroke-width="3" stroke-linejoin="miter"/>
<polygon points="731.7,545 721.7,550 721.7,540" fill="#000"/>
<polyline points="860.3,500 901.3,500 901.3,611.4 203.2,611.4 203.2,620.7" fill="none" stroke="#000" stroke-width="3" stroke-linejoin="miter"/>
<polygon points="203.2,629.2 198.4,619.7 207.9,619.7" fill="#000"/>
<polyline points="625.8,611.4 625.8,619.8" fill="none" stroke="#000" stroke-width="3" stroke-linejoin="miter"/>
<polygon points="625.8,627.8 621,618.8 630.5,618.8" fill="#000"/>
<polyline points="153.5,744 74.1,744 74.1,1227.9 171.1,1227.9" fill="none" stroke="#000" stroke-width="3" stroke-linejoin="miter"/>
<polygon points="180.1,1227.9 170.1,1232.9 170.1,1222.9" fill="#000"/>
<polyline points="74.1,1036.5 118.7,1036.5" fill="none" stroke="#000" stroke-width="3" stroke-linejoin="miter"/>
<polygon points="127.7,1036.5 117.7,1041.5 117.7,1031.5" fill="#000"/>
<polyline points="247.7,754.6 247.7,824.4" fill="none" stroke="#000" stroke-width="3" stroke-linejoin="miter"/>
<polygon points="247.7,833.9 242.9,823.4 252.4,823.4" fill="#000"/>
<polyline points="247.7,803.7 413.8,803.7 413.8,819.4" fill="none" stroke="#000" stroke-width="3" stroke-linejoin="miter"/>
<polygon points="413.8,828.4 409.1,818.4 418.6,818.4" fill="#000"/>
<polyline points="676.2,687.5 676.2,676.5 781.6,676.5" fill="none" stroke="#000" stroke-width="3" stroke-linejoin="miter"/>
<polygon points="790.6,676.5 780.6,681.5 780.6,671.5" fill="#000"/>
<polyline points="462.4,870.3 519.7,870.3" fill="none" stroke="#000" stroke-width="3" stroke-linejoin="miter"/>
<polygon points="528.7,870.3 518.7,875.3 518.7,865.3" fill="#000"/>
<polyline points="177.1,1053.1 177.1,1014.7 602.9,1014.7 602.9,1020.6" fill="none" stroke="#000" stroke-width="3" stroke-linejoin="miter"/>
<polygon points="602.9,1028.6 598.1,1019.6 607.6,1019.6" fill="#000"/>
<polyline points="247.8,1083.7 342.5,1083.7" fill="none" stroke="#000" stroke-width="3" stroke-linejoin="miter"/>
<polygon points="351.5,1083.7 341.5,1088.7 341.5,1078.7" fill="#000"/>
<polyline points="430.5,1202.1 680.6,1202.1" fill="none" stroke="#000" stroke-width="3" stroke-linejoin="miter"/>
<polygon points="689.6,1202.1 679.6,1207.1 679.6,1197.1" fill="#000"/>
<polyline points="265.4,1334.2 324.1,1334.2" fill="none" stroke="#000" stroke-width="3" stroke-linejoin="miter"/>
<polygon points="333.1,1334.2 323.1,1339.2 323.1,1329.2" fill="#000"/></svg>
</body></html>
